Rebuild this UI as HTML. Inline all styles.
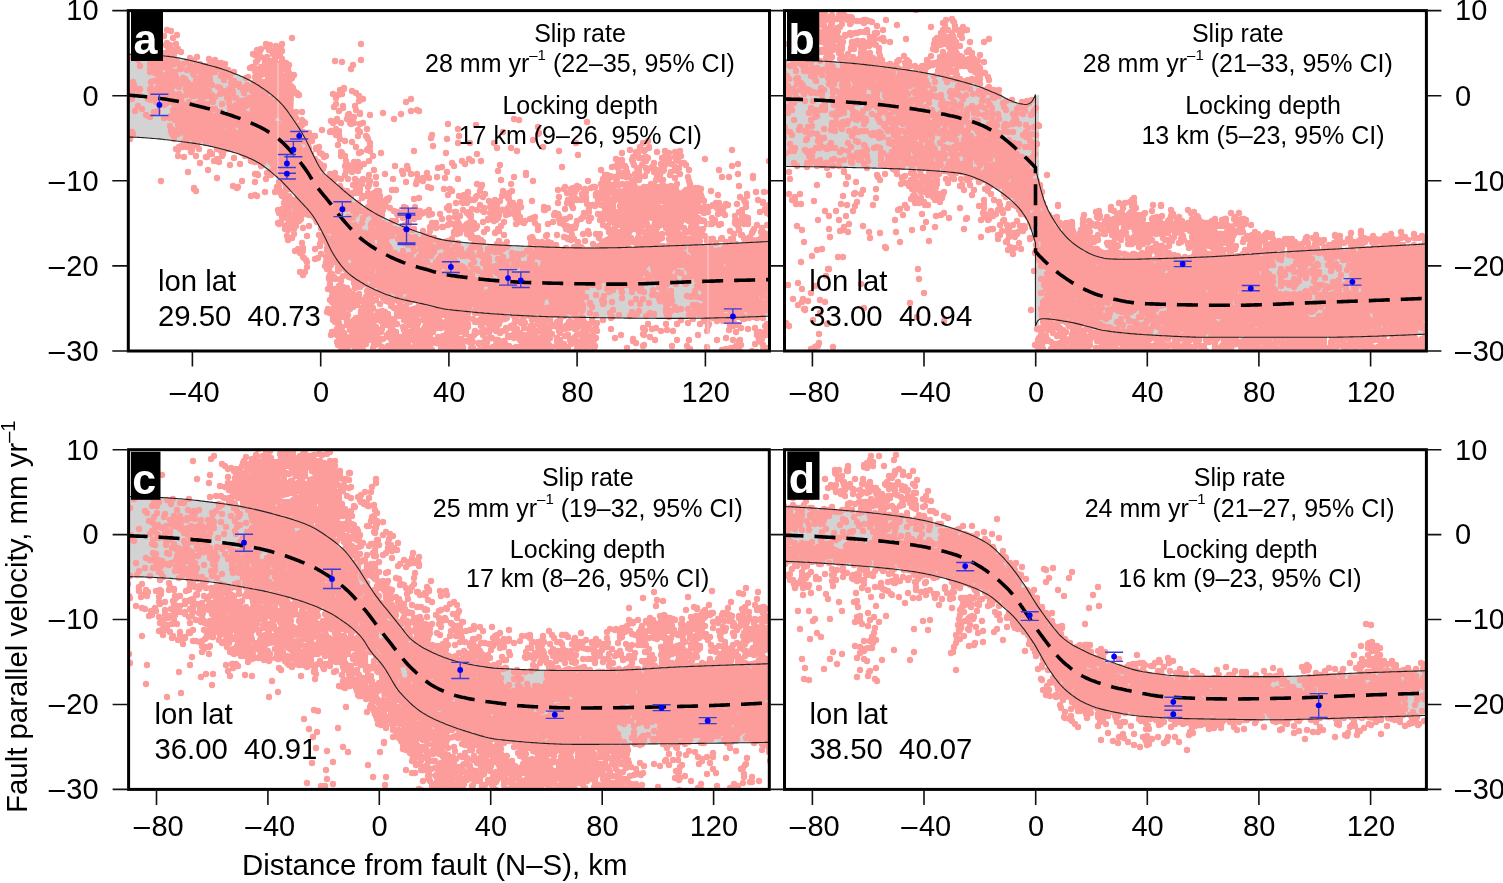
<!DOCTYPE html><html><head><meta charset="utf-8"><title>Fault parallel velocity profiles</title><style>html,body{margin:0;padding:0;background:#fff;overflow:hidden}svg{display:block}</style></head><body><svg width="1503" height="883" viewBox="0 0 1503 883"><defs><clipPath id="ka"><rect x="128.3" y="10.6" width="641.2" height="340.4"/></clipPath><clipPath id="kb"><rect x="784.5" y="10.6" width="641.9" height="340.4"/></clipPath><clipPath id="kc"><rect x="128.6" y="449.7" width="640.7" height="339.7"/></clipPath><clipPath id="kd"><rect x="784.5" y="449.7" width="641.9" height="339.7"/></clipPath></defs><rect width="1503" height="883" fill="#fff"/><g clip-path="url(#ka)"><path d="M126.3 54.3 128.3 54.3 130.3 54.3 132.3 54.4 134.3 54.4 136.3 54.5 138.4 54.5 140.4 54.6 142.4 54.7 144.4 54.8 146.4 54.9 148.4 55.0 150.4 55.1 152.4 55.2 154.4 55.3 156.4 55.4 158.5 55.6 160.5 55.7 162.5 55.8 164.5 56.0 166.5 56.2 168.5 56.4 170.5 56.7 172.5 56.9 174.5 57.2 176.5 57.6 178.6 57.9 180.6 58.3 182.6 58.7 184.6 59.1 186.6 59.6 188.6 60.0 190.6 60.5 192.6 61.0 194.6 61.5 196.6 62.0 198.7 62.5 200.7 63.0 202.7 63.6 204.7 64.1 206.7 64.6 208.7 65.2 210.7 65.7 212.7 66.3 214.7 66.8 216.7 67.4 218.8 68.0 220.8 68.6 222.8 69.3 224.8 69.9 226.8 70.6 228.8 71.4 230.8 72.1 232.8 72.9 234.8 73.7 236.8 74.5 238.9 75.3 240.9 76.2 242.9 77.1 244.9 78.0 246.9 79.0 248.9 80.0 250.9 81.0 252.9 82.2 254.9 83.3 256.9 84.6 259.0 85.8 261.0 87.2 263.0 88.5 265.0 89.9 267.0 91.3 269.0 92.8 271.0 94.4 273.0 96.0 275.0 97.7 277.0 99.5 279.1 101.4 281.1 103.5 283.1 105.7 285.1 108.1 287.1 110.7 289.1 113.5 291.1 116.4 293.1 119.3 295.1 122.2 297.1 125.2 299.2 128.4 301.2 131.6 303.2 135.0 305.2 138.6 307.2 142.5 309.2 146.6 311.2 150.8 313.2 154.9 315.2 158.9 317.2 163.0 319.3 166.8 321.3 169.9 323.3 172.4 325.3 174.4 327.3 176.2 329.3 177.9 331.3 179.5 333.3 181.3 335.3 183.1 337.3 184.9 339.4 186.7 341.4 188.5 343.4 190.3 345.4 192.0 347.4 193.7 349.4 195.3 351.4 196.9 353.4 198.5 355.4 200.0 357.4 201.6 359.5 203.1 361.5 204.5 363.5 206.0 365.5 207.4 367.5 208.7 369.5 210.0 371.5 211.2 373.5 212.4 375.5 213.6 377.5 214.7 379.6 215.7 381.6 216.7 383.6 217.7 385.6 218.7 387.6 219.7 389.6 220.6 391.6 221.5 393.6 222.4 395.6 223.3 397.6 224.2 399.7 225.0 401.7 225.9 403.7 226.7 405.7 227.5 407.7 228.3 409.7 229.0 411.7 229.8 413.7 230.5 415.7 231.2 417.7 231.9 419.8 232.6 421.8 233.3 423.8 234.1 425.8 234.8 427.8 235.5 429.8 236.2 431.8 236.8 433.8 237.4 435.8 238.1 437.8 238.6 439.9 239.1 441.9 239.6 443.9 240.0 445.9 240.4 447.9 240.7 449.9 240.9 451.9 241.2 453.9 241.4 455.9 241.6 457.9 241.9 460.0 242.1 462.0 242.3 464.0 242.5 466.0 242.7 468.0 242.9 470.0 243.0 472.0 243.2 474.0 243.4 476.0 243.5 478.0 243.7 480.1 243.8 482.1 244.0 484.1 244.1 486.1 244.3 488.1 244.4 490.1 244.5 492.1 244.6 494.1 244.8 496.1 244.9 498.1 245.0 500.2 245.1 502.2 245.2 504.2 245.3 506.2 245.4 508.2 245.5 510.2 245.6 512.2 245.7 514.2 245.8 516.2 245.8 518.2 245.9 520.3 246.0 522.3 246.1 524.3 246.2 526.3 246.3 528.3 246.3 530.3 246.4 532.3 246.5 534.3 246.6 536.3 246.7 538.3 246.7 540.4 246.8 542.4 246.9 544.4 247.0 546.4 247.1 548.4 247.1 550.4 247.2 552.4 247.3 554.4 247.3 556.4 247.4 558.4 247.5 560.5 247.5 562.5 247.6 564.5 247.6 566.5 247.7 568.5 247.7 570.5 247.8 572.5 247.8 574.5 247.9 576.5 247.9 578.5 247.9 580.6 247.9 582.6 248.0 584.6 248.0 586.6 248.0 588.6 248.0 590.6 248.0 592.6 248.0 594.6 248.0 596.6 248.0 598.6 248.0 600.7 247.9 602.7 247.9 604.7 247.9 606.7 247.9 608.7 247.8 610.7 247.8 612.7 247.8 614.7 247.7 616.7 247.7 618.7 247.6 620.8 247.6 622.8 247.5 624.8 247.5 626.8 247.4 628.8 247.3 630.8 247.3 632.8 247.2 634.8 247.2 636.8 247.1 638.8 247.0 640.9 246.9 642.9 246.9 644.9 246.8 646.9 246.7 648.9 246.7 650.9 246.6 652.9 246.5 654.9 246.4 656.9 246.4 658.9 246.3 661.0 246.2 663.0 246.1 665.0 246.0 667.0 246.0 669.0 245.9 671.0 245.8 673.0 245.7 675.0 245.7 677.0 245.6 679.0 245.5 681.1 245.5 683.1 245.4 685.1 245.3 687.1 245.2 689.1 245.2 691.1 245.1 693.1 245.0 695.1 244.9 697.1 244.9 699.1 244.8 701.2 244.7 703.2 244.6 705.2 244.5 707.2 244.5 709.2 244.4 711.2 244.3 713.2 244.2 715.2 244.1 717.2 244.0 719.2 243.9 721.3 243.8 723.3 243.8 725.3 243.7 727.3 243.6 729.3 243.5 731.3 243.4 733.3 243.3 735.3 243.2 737.3 243.1 739.3 243.0 741.4 242.9 743.4 242.8 745.4 242.7 747.4 242.6 749.4 242.5 751.4 242.4 753.4 242.3 755.4 242.2 757.4 242.1 759.4 242.0 761.5 241.9 763.5 241.8 765.5 241.7 767.5 241.5 769.5 241.4 771.5 241.3 771.5 316.0 769.5 316.1 767.5 316.2 765.5 316.3 763.5 316.4 761.5 316.4 759.4 316.5 757.4 316.6 755.4 316.7 753.4 316.7 751.4 316.8 749.4 316.9 747.4 317.0 745.4 317.0 743.4 317.1 741.4 317.2 739.3 317.2 737.3 317.3 735.3 317.4 733.3 317.4 731.3 317.5 729.3 317.6 727.3 317.6 725.3 317.7 723.3 317.7 721.3 317.8 719.2 317.8 717.2 317.9 715.2 317.9 713.2 318.0 711.2 318.0 709.2 318.1 707.2 318.1 705.2 318.1 703.2 318.2 701.2 318.2 699.1 318.2 697.1 318.3 695.1 318.3 693.1 318.3 691.1 318.3 689.1 318.3 687.1 318.4 685.1 318.4 683.1 318.4 681.1 318.4 679.0 318.4 677.0 318.4 675.0 318.4 673.0 318.4 671.0 318.4 669.0 318.4 667.0 318.4 665.0 318.4 663.0 318.4 661.0 318.4 658.9 318.4 656.9 318.4 654.9 318.3 652.9 318.3 650.9 318.3 648.9 318.3 646.9 318.3 644.9 318.3 642.9 318.3 640.9 318.2 638.8 318.2 636.8 318.2 634.8 318.2 632.8 318.2 630.8 318.1 628.8 318.1 626.8 318.1 624.8 318.1 622.8 318.0 620.8 318.0 618.7 318.0 616.7 318.0 614.7 317.9 612.7 317.9 610.7 317.9 608.7 317.8 606.7 317.8 604.7 317.8 602.7 317.8 600.7 317.7 598.6 317.7 596.6 317.7 594.6 317.6 592.6 317.6 590.6 317.6 588.6 317.5 586.6 317.5 584.6 317.4 582.6 317.4 580.6 317.4 578.5 317.3 576.5 317.3 574.5 317.3 572.5 317.2 570.5 317.2 568.5 317.1 566.5 317.1 564.5 317.1 562.5 317.0 560.5 317.0 558.4 316.9 556.4 316.9 554.4 316.8 552.4 316.8 550.4 316.7 548.4 316.7 546.4 316.6 544.4 316.5 542.4 316.5 540.4 316.4 538.3 316.3 536.3 316.2 534.3 316.2 532.3 316.1 530.3 316.0 528.3 315.9 526.3 315.8 524.3 315.7 522.3 315.6 520.3 315.5 518.2 315.4 516.2 315.3 514.2 315.2 512.2 315.1 510.2 314.9 508.2 314.8 506.2 314.7 504.2 314.6 502.2 314.4 500.2 314.3 498.1 314.1 496.1 314.0 494.1 313.9 492.1 313.7 490.1 313.6 488.1 313.4 486.1 313.2 484.1 313.1 482.1 312.9 480.1 312.7 478.0 312.6 476.0 312.4 474.0 312.2 472.0 312.0 470.0 311.8 468.0 311.6 466.0 311.4 464.0 311.2 462.0 311.0 460.0 310.8 457.9 310.6 455.9 310.4 453.9 310.2 451.9 309.9 449.9 309.7 447.9 309.5 445.9 309.2 443.9 308.9 441.9 308.5 439.9 308.0 437.8 307.6 435.8 307.1 433.8 306.5 431.8 306.0 429.8 305.5 427.8 305.0 425.8 304.5 423.8 304.1 421.8 303.6 419.8 303.2 417.7 302.8 415.7 302.3 413.7 301.9 411.7 301.5 409.7 301.1 407.7 300.6 405.7 300.1 403.7 299.7 401.7 299.2 399.7 298.7 397.6 298.1 395.6 297.6 393.6 297.0 391.6 296.3 389.6 295.6 387.6 294.9 385.6 294.2 383.6 293.4 381.6 292.6 379.6 291.7 377.5 290.8 375.5 289.9 373.5 288.9 371.5 288.0 369.5 287.0 367.5 285.9 365.5 284.9 363.5 283.7 361.5 282.6 359.5 281.3 357.4 280.0 355.4 278.7 353.4 277.2 351.4 275.7 349.4 274.1 347.4 272.3 345.4 270.3 343.4 268.1 341.4 265.8 339.4 263.2 337.3 260.4 335.3 257.3 333.3 254.0 331.3 250.5 329.3 246.5 327.3 242.3 325.3 238.1 323.3 234.2 321.3 230.3 319.3 226.5 317.2 222.8 315.2 219.3 313.2 216.2 311.2 213.5 309.2 211.0 307.2 208.7 305.2 206.5 303.2 204.4 301.2 202.3 299.2 200.1 297.1 197.9 295.1 195.7 293.1 193.5 291.1 191.3 289.1 189.1 287.1 186.9 285.1 184.8 283.1 182.7 281.1 180.7 279.1 178.8 277.0 177.0 275.0 175.3 273.0 173.6 271.0 171.9 269.0 170.3 267.0 168.7 265.0 167.2 263.0 165.7 261.0 164.3 259.0 163.1 256.9 161.9 254.9 160.8 252.9 159.8 250.9 158.8 248.9 157.9 246.9 157.0 244.9 156.2 242.9 155.4 240.9 154.7 238.9 154.0 236.8 153.3 234.8 152.7 232.8 152.1 230.8 151.5 228.8 150.9 226.8 150.4 224.8 149.8 222.8 149.3 220.8 148.8 218.8 148.3 216.7 147.8 214.7 147.3 212.7 146.8 210.7 146.4 208.7 145.9 206.7 145.5 204.7 145.1 202.7 144.7 200.7 144.4 198.7 144.0 196.6 143.7 194.6 143.4 192.6 143.1 190.6 142.8 188.6 142.6 186.6 142.3 184.6 142.0 182.6 141.8 180.6 141.5 178.6 141.2 176.5 141.0 174.5 140.7 172.5 140.5 170.5 140.3 168.5 140.0 166.5 139.8 164.5 139.6 162.5 139.3 160.5 139.1 158.5 138.9 156.4 138.7 154.4 138.5 152.4 138.4 150.4 138.2 148.4 138.0 146.4 137.9 144.4 137.7 142.4 137.6 140.4 137.5 138.4 137.4 136.3 137.3 134.3 137.2 132.3 137.1 130.3 137.1 128.3 137.0 126.3 137.0Z" fill="#d3d3d3"/><path d="M400 348 399 349 400 350 401 349ZM423 349 421 347 420 342 412 346 410 349 411 350 422 350ZM523 342 524 350 540 350 541 349 539 347 531 347 525 341ZM503 341 498 345 495 349 496 350 505 349ZM544 336 543 337 544 338 545 337ZM454 339 450 336 445 341 446 342 451 341ZM393 337 399 342 403 339 398 335ZM395 320 392 319 390 321 392 322ZM370 298 367 300 367 310 363 315 362 319 352 323 350 333 345 337 346 341 351 346 352 350 355 350 356 344 365 338 372 338 375 341 377 340 374 332 373 314 375 310 373 308 373 302ZM609 208 606 212 610 217 615 217 616 216 615 209ZM172 76 168 81 159 81 157 79 156 80 156 84 154 88 155 97 163 99 169 98 168 88 173 80ZM176 103 176 110 181 122 180 130 181 135 190 139 192 137 193 127 202 126 204 128 204 138 205 139 216 141 221 145 231 145 239 148 244 148 265 161 274 170 278 171 287 180 289 185 292 188 296 189 299 192 301 197 306 203 311 204 316 208 318 215 325 223 331 234 330 245 336 251 335 258 336 260 340 262 343 260 351 260 352 267 356 276 358 278 366 278 374 288 384 288 394 295 405 294 412 296 416 300 416 305 409 307 405 313 399 318 400 319 408 318 415 313 424 313 428 317 428 326 423 332 421 336 422 338 429 335 431 326 437 322 437 320 432 316 431 313 432 305 434 303 443 303 447 308 447 314 453 317 455 300 464 300 466 306 471 306 476 309 489 313 491 315 491 325 492 326 495 323 497 318 501 315 514 312 532 312 542 317 542 324 538 330 539 333 542 335 545 322 545 316 547 313 544 309 545 300 548 299 557 300 561 310 565 314 571 315 574 320 577 322 579 311 573 308 573 302 578 299 579 289 583 282 600 281 606 284 612 284 613 283 627 283 640 280 643 278 645 271 649 266 655 266 657 268 657 278 659 280 663 278 671 278 673 271 678 268 686 268 687 275 689 278 696 280 702 280 704 282 704 290 709 298 709 304 703 312 705 315 709 315 717 312 727 312 731 314 748 312 762 312 765 314 768 313 767 309 760 309 758 307 759 297 763 294 768 293 768 242 767 241 764 243 757 243 751 246 746 246 742 248 730 248 727 246 714 248 700 247 698 245 698 238 696 235 685 236 680 230 680 222 682 220 692 220 693 221 695 219 694 217 690 216 690 211 697 209 697 197 695 195 686 196 680 190 667 190 653 188 647 189 609 188 607 190 608 193 612 197 615 198 618 203 634 203 635 204 635 216 633 218 621 220 626 225 626 231 617 237 609 237 608 238 608 248 606 250 580 250 579 249 572 255 564 255 553 251 542 251 540 265 536 269 538 271 538 279 536 281 530 281 526 279 516 280 506 275 503 278 499 279 486 279 475 277 470 274 464 274 460 272 446 273 439 268 424 266 419 263 410 263 404 257 398 257 390 254 381 245 374 244 364 236 353 233 345 225 340 222 339 214 332 206 332 195 337 193 333 190 326 180 316 179 313 163 305 152 296 133 295 124 293 121 294 95 291 90 290 83 283 72 275 68 268 69 271 73 271 82 282 91 282 99 272 100 266 96 261 95 259 93 259 89 255 87 253 93 249 96 254 101 254 114 253 117 250 119 241 119 237 115 223 115 214 113 204 107 190 107 183 103 178 102ZM484 287 491 286 492 293 485 294ZM759 275 765 274 766 279 760 280ZM575 266 580 265 581 271 576 272ZM376 265 383 265 387 270 386 279 379 279 375 274ZM724 260 726 258 737 258 738 267 736 269 727 269 724 266ZM625 256 634 255 635 263 626 264ZM686 245 695 246 694 256 684 255 684 247ZM633 232 642 233 643 244 640 247 632 247 630 245 630 237ZM661 228 670 227 672 229 673 243 671 245 663 245 660 242 659 231ZM645 220 652 221 651 230 644 229ZM655 205 665 204 666 212 657 213 655 211ZM225 129 228 127 238 128 239 136 237 138 228 138 225 136ZM277 118 287 117 289 119 289 129 287 131 279 131 275 127 275 120ZM258 67 257 68 259 69 260 68ZM155 59 157 64 165 64 171 70 172 69 170 63 167 60 164 60 161 58Z" fill="#fc9c9b" fill-rule="evenodd"/><path d="M160 34h0m4 2h0m3-6h0m4 1h0m6 4h0m184 9h0m-69-6h0m-10 6h0m-1 3h0m-5-1h0m-6-1h0m-3 2h0m-1-3h0m-90 0h0m-3-6h0m-3 7h0m-1 2h0m-1 0h0m-1-4h0m-1 2h0m-35 12h0m7 3h0m12-1h0m2-2h0m3-1h0m0 1h0m3 0h0m0-6h0m1-1h0m1 8h0m1-5h0m1 5h0m1 0h0m0-5h0m0 6h0m0 0h0m1-4h0m2-1h0m1 2h0m1 2h0m0-4h0m0-2h0m1 2h0m1 5h0m3-9h0m0 8h0m1-3h0m0 3h0m2-7h0m2-2h0m3 3h0m9 6h0m3 2h0m1 0h0m3-3h0m12 2h0m44-5h0m2 1h0m2-5h0m1 4h0m0 5h0m1-3h0m1-5h0m1 6h0m0-8h0m6 8h0m2-7h0m4 1h0m0 3h0m1 0h0m1-4h0m0 8h0m0-5h0m4-1h0m0 4h0m1-7h0m0 6h0m0-4h0m2 0h0m0 8h0m79 1h0m-8 5h0m-2 4h0m-9-7h0m-7-1h0m-46 4h0m-1 4h0m-1 1h0m-1-1h0m0-6h0m0 7h0m-2-3h0m-2-6h0m0 2h0m-2 7h0m0-5h0m0 6h0m-1-7h0m-1 2h0m0 1h0m-3-6h0m-2 5h0m0 1h0m-1 1h0m-1-7h0m-1 5h0m-1 4h0m-1-3h0m-1 3h0m0-6h0m-2-2h0m0 7h0m0 0h0m0 1h0m-2-2h0m-1 2h0m0-1h0m-1-1h0m0-1h0m0 5h0m-3-3h0m0 0h0m-1 2h0m0 0h0m0-10h0m-1 10h0m0 1h0m0-3h0m0-7h0m-1 9h0m-1-4h0m-2 0h0m-2 1h0m-21 4h0m-1-2h0m-1 1h0m-2-1h0m0-6h0m-1 5h0m-1 0h0m-1-5h0m-1-1h0m-3 3h0m0 2h0m-1 1h0m0-6h0m-1 0h0m-1-3h0m-1 6h0m-2 5h0m0-2h0m-2-5h0m-3 2h0m0 1h0m0 3h0m-2-1h0m-1-3h0m0 6h0m-1-3h0m-3-5h0m-3 7h0m0 0h0m0-4h0m0-2h0m-1 2h0m-4 2h0m-2-4h0m-3-3h0m0 8h0m-4-6h0m-2 5h0m0 0h0m-1-2h0m0 2h0m-3-7h0m-2 10h0m-1-8h0m-2 0h0m0 0h0m-2 1h0m0 3h0m-2 1h0m-1-9h0m-1 0h0m-1 7h0m-2-1h0m-3 6h0m0-6h0m0 2h0m-1 2h0m-1-5h0m-1 6h0m0-5h0m0 3h0m-2-4h0m0-2h0m0-1h0m-1 4h0m0 4h0m-3-6h0m-1 0h0m0 5h0m-10-3h0m-7 16h0m17-10h0m1 10h0m3-1h0m1-8h0m0 0h0m2-1h0m1 7h0m1-2h0m0 1h0m1 1h0m2 2h0m0-4h0m1 3h0m1-3h0m1-1h0m1 0h0m0-1h0m2 5h0m0-3h0m0-4h0m0 8h0m1 0h0m2-6h0m1 1h0m0 0h0m1 7h0m1-11h0m0 9h0m1 2h0m0-10h0m0 3h0m1 1h0m0 3h0m1 0h0m6-1h0m0-1h0m0 5h0m2-4h0m0 5h0m1-3h0m2 2h0m5-10h0m1 2h0m2 6h0m2 1h0m1 1h0m1-5h0m1-6h0m0 10h0m1-4h0m1 5h0m0-1h0m0-9h0m1 5h0m0 2h0m2-2h0m1-3h0m0 6h0m0 0h0m1-7h0m1 10h0m1-4h0m0-6h0m0 1h0m5-3h0m6 4h0m1-2h0m1 0h0m1 6h0m2-5h0m3-3h0m1 5h0m1 6h0m1 1h0m2-3h0m0-9h0m5 12h0m7-6h0m2-1h0m6 6h0m1-1h0m0-5h0m2 6h0m2-5h0m0-6h0m1 0h0m1 3h0m2 9h0m0-11h0m0 1h0m1 8h0m2-8h0m0 9h0m0-1h0m2-4h0m0 4h0m3 2h0m0-11h0m0 0h0m0 1h0m0 10h0m1-1h0m15-4h0m0-5h0m2-1h0m0 8h0m1-3h0m0-2h0m1 3h0m1-1h0m2-3h0m65 21h0m-3-3h0m-4-2h0m-8-2h0m0-1h0m-2 6h0m-2 0h0m0-4h0m-2 5h0m-5-1h0m-34 1h0m-1 0h0m-1-2h0m-3-2h0m-1-3h0m0 5h0m0-5h0m0 1h0m-2-3h0m-9 7h0m-2 0h0m-1-1h0m-1-1h0m0-1h0m-1-2h0m0-1h0m-1 8h0m-1-5h0m-2 2h0m0-8h0m-2 1h0m-2 4h0m-2-5h0m-1 10h0m-1-8h0m-1 3h0m-1 4h0m-1 1h0m-1-5h0m0 4h0m-1-9h0m-2 4h0m-2-4h0m0 2h0m-1 1h0m0 0h0m-3 1h0m0-1h0m0 4h0m-1-4h0m-4-2h0m-1 4h0m-2 4h0m-1-3h0m0-2h0m-3-1h0m-3-2h0m-3 0h0m-1 8h0m0-1h0m-1-4h0m0 7h0m0-4h0m0 3h0m-1 1h0m-2-6h0m0 6h0m-5-2h0m-1-2h0m-3-3h0m0 6h0m-2-7h0m-6 8h0m0-10h0m-3 6h0m-2 5h0m-2-10h0m0-2h0m-1 9h0m0 2h0m-1-3h0m-2-4h0m-1 4h0m-2 3h0m0-9h0m-1 4h0m-1 0h0m0 1h0m-1-5h0m0 6h0m0 0h0m-1 1h0m-1-8h0m-1 11h0m-1-10h0m-1 6h0m-3-7h0m0 0h0m-1 10h0m0-6h0m0-4h0m-7 2h0m0 7h0m-2-9h0m-2-1h0m0 1h0m-2 9h0m0-9h0m0 1h0m-1 9h0m-1-5h0m0-5h0m-1 7h0m0-2h0m-1-1h0m0 4h0m-1-3h0m-15 4h0m-2-6h0m0 4h0m-1-3h0m-10 0h0m-1 6h0m-2-6h0m-3-4h0m-1 5h0m-1 4h0m-1-6h0m-2 1h0m-1 4h0m4 6h0m6 7h0m10-7h0m3 1h0m0-3h0m1 2h0m4 3h0m1-3h0m7 6h0m1-4h0m0 1h0m1 2h0m0-4h0m2 2h0m3-6h0m0 5h0m0-3h0m0 4h0m0-2h0m1-3h0m1 2h0m2 7h0m0-7h0m0 3h0m2-3h0m2-1h0m2 1h0m0 0h0m0-2h0m1 6h0m5 2h0m2-3h0m2 4h0m0 2h0m0-4h0m1 2h0m0-2h0m1 2h0m1-10h0m1 9h0m3 0h0m0-2h0m0 3h0m0-3h0m1 5h0m0-2h0m1 1h0m1-9h0m0 8h0m2 2h0m0-10h0m1 6h0m2-8h0m1 8h0m5-4h0m1 2h0m2-5h0m7 7h0m5-6h0m2 2h0m0-1h0m0 1h0m0 3h0m1-5h0m0 8h0m6-8h0m0 7h0m0 1h0m2 2h0m2-5h0m0 1h0m0-3h0m1 7h0m1-4h0m1 1h0m2-5h0m1 6h0m2-6h0m1 4h0m0-6h0m0 2h0m1 0h0m1 1h0m1 4h0m2 2h0m0-1h0m0 0h0m1-2h0m9-7h0m6 2h0m7 0h0m4 1h0m0-2h0m0-2h0m53 11h0m2-9h0m0 6h0m7 4h0m0-2h0m12 0h0m4-5h0m1-1h0m3-1h0m43 3h0m5-3h0m108 21h0m-5-1h0m-95-8h0m-2-1h0m-6 1h0m-10 3h0m-7 5h0m-11-6h0m-13 2h0m-10-2h0m0 1h0m-4-4h0m-2 7h0m-2 0h0m0 2h0m-3-5h0m-1 1h0m-1 4h0m-8-8h0m-2 8h0m-35 1h0m0-8h0m-6 0h0m0 6h0m-1-5h0m-1 5h0m0 0h0m-6 1h0m-1 0h0m-2 0h0m-3-1h0m-29-9h0m0 1h0m0 2h0m0 6h0m-2-1h0m-2 1h0m-1 0h0m-1 1h0m0-1h0m0-4h0m-1 6h0m-1-3h0m0 2h0m-2-10h0m0 6h0m-1-4h0m-1 5h0m-1-4h0m-3 2h0m-1-6h0m-1 8h0m-1-3h0m-4-4h0m0 6h0m0 0h0m-1 0h0m0-1h0m-1 1h0m-3 0h0m-4-3h0m-2 0h0m-1 2h0m0-1h0m-3-4h0m-4 0h0m-1 1h0m-32 6h0m0-3h0m-1 3h0m-1 1h0m-1-1h0m-1 0h0m-1-6h0m-2 6h0m-1 2h0m-6 0h0m-6-7h0m-4 1h0m-4 5h0m-4-2h0m-4-6h0m-7 2h0m35 15h0m1 5h0m2-1h0m2 1h0m0-11h0m2 1h0m1 1h0m0 3h0m0 6h0m1-5h0m0 3h0m1-5h0m0 0h0m1 1h0m0 4h0m0-3h0m11 4h0m2-2h0m5 1h0m2 0h0m1 0h0m2-1h0m25 3h0m0-1h0m3-2h0m0 0h0m1 2h0m44-6h0m0 0h0m1 0h0m0 1h0m1 5h0m0-2h0m3 0h0m1-1h0m1-6h0m1 3h0m0-2h0m1 1h0m1 7h0m0-3h0m0-3h0m2 5h0m6-5h0m2 6h0m1-2h0m0 0h0m2 1h0m1-5h0m1 1h0m0-4h0m1 11h0m1-10h0m1 1h0m17 7h0m9 1h0m0-10h0m2 2h0m3-2h0m0 8h0m3 2h0m2-8h0m9 0h0m1 1h0m3-1h0m4 7h0m2-6h0m0 8h0m3-9h0m4 6h0m81-5h0m10 5h0m18-4h0m62 2h0m49-5h0m61 19h0m-5 2h0m-67 0h0m-37-10h0m-1 1h0m-5 6h0m-30-8h0m-9 11h0m-24 0h0m-11-7h0m-1 7h0m-11-4h0m-15-4h0m-1 3h0m-61 5h0m-2-4h0m-1-2h0m-1-1h0m-8 0h0m-6 6h0m-7-1h0m-5-2h0m-1-4h0m-1 0h0m-2 0h0m-3-3h0m-3 0h0m-15 4h0m-3 0h0m0 5h0m-3-8h0m-1 11h0m0-2h0m0-9h0m-1 7h0m0 2h0m-1-7h0m-1 6h0m-1-7h0m-1 1h0m0 5h0m0 1h0m0-9h0m-4 5h0m-60-2h0m-2-2h0m-3 3h0m-3 1h0m-1-3h0m-1 1h0m-4-2h0m-6 10h0m-5 0h0m-1-3h0m-1 0h0m-2 1h0m-3-1h0m-1 3h0m-1-3h0m-4-6h0m-1 3h0m0-3h0m-1 6h0m-3-6h0m-1 8h0m0-7h0m0 0h0m-2 3h0m0 0h0m-6 3h0m-1-3h0m-2 4h0m-6-8h0m-4 5h0m-2-5h0m-39 0h0m-1-2h0m-2 7h0m46 10h0m2 1h0m0 6h0m1-9h0m2-1h0m2 1h0m4 0h0m3-1h0m1 6h0m1-2h0m3-5h0m2 0h0m2 4h0m11 3h0m2 2h0m1-10h0m4 5h0m0-1h0m2-1h0m1-2h0m1 6h0m0-6h0m2 9h0m1-9h0m1 0h0m2 2h0m0 2h0m1-3h0m0 1h0m2 0h0m1 2h0m2-2h0m4 2h0m1 1h0m1 0h0m3 3h0m0-1h0m1-2h0m1 1h0m1 5h0m1-5h0m0 0h0m2 3h0m1-2h0m1 1h0m2-1h0m0 4h0m2-1h0m3 0h0m49-5h0m0 1h0m2 4h0m0 0h0m1-7h0m2 6h0m5-5h0m0-1h0m3-1h0m1 6h0m2 1h0m4 2h0m12-11h0m3 11h0m0-4h0m1 1h0m14-6h0m3 6h0m2-1h0m6-2h0m1-1h0m2 2h0m0-5h0m3 10h0m8-3h0m33-2h0m19-5h0m13 7h0m31 1h0m20-6h0m14 0h0m6 3h0m26-4h0m16 4h0m19 4h0m44-2h0m8-3h0m6 2h0m0 4h0m2-3h0m2-6h0m4 4h0m1-1h0m4-3h0m0 1h0m8 4h0m8 4h0m0-5h0m4 2h0m6-1h0m3 3h0m2-4h0m52-1h0m37 11h0m-31 3h0m-6 2h0m-27-7h0m-19 6h0m-2-2h0m-2 0h0m-1-7h0m-2 12h0m0 0h0m-1-7h0m0-3h0m-2 1h0m0-1h0m-1-1h0m0 0h0m0 10h0m-3-3h0m-1 0h0m-2-6h0m0 3h0m0-2h0m-1-1h0m-3 3h0m0-1h0m0-2h0m0 7h0m-1-6h0m0 4h0m-2-5h0m-1 6h0m-7-1h0m-2 4h0m-4-9h0m-2 2h0m0-3h0m0 4h0m0 7h0m-3-9h0m0-1h0m-1 7h0m0 0h0m-1-7h0m-2 0h0m-1-2h0m-1 12h0m-3-3h0m-1-3h0m0-5h0m-1 3h0m-6 8h0m-1-2h0m-3-6h0m0 0h0m0 1h0m-1 5h0m0-3h0m-1 3h0m-2-6h0m0 8h0m0-5h0m0 2h0m-2-6h0m0 7h0m-4 1h0m-50 0h0m-62-2h0m-19-4h0m-9 0h0m-3-2h0m-4 5h0m-3-3h0m-8 5h0m-2-3h0m-10 4h0m-4 1h0m-31-2h0m-12 0h0m-26-5h0m-5 3h0m-4 3h0m-2-5h0m-1 2h0m-2 0h0m-1-2h0m-4 4h0m-2 0h0m0-1h0m-2-4h0m-1-5h0m0 10h0m-21-9h0m0 9h0m-4-2h0m-2-2h0m-3 5h0m0-6h0m0 7h0m0-9h0m0 6h0m-1-2h0m-1-2h0m-2 1h0m-2-4h0m-46 5h0m-1 1h0m-1 2h0m-1-7h0m-1 1h0m0-3h0m0 5h0m0-1h0m-1-1h0m-1-1h0m-2 2h0m0 1h0m0-3h0m-4 2h0m-1-4h0m-10 7h0m-6-6h0m-4 7h0m-8-9h0m-3 6h0m-2-3h0m-3 2h0m-7-4h0m0 0h0m-1 0h0m-6 6h0m-4-7h0m-12 1h0m4 15h0m20-2h0m9 8h0m38-4h0m2 0h0m1 1h0m8 4h0m1-6h0m4 2h0m1-4h0m1-1h0m5 1h0m0 2h0m1 3h0m0-3h0m1 3h0m1 3h0m0-2h0m1-2h0m1 2h0m2 1h0m31-2h0m0-4h0m1 8h0m0-5h0m1-6h0m0 10h0m0-2h0m1 3h0m0-2h0m1-2h0m1 4h0m1-4h0m0 3h0m1 0h0m0-10h0m0 8h0m2 2h0m4 1h0m0 0h0m1-6h0m0 0h0m1 4h0m1 1h0m2 1h0m0-1h0m1-6h0m2 5h0m4 1h0m4-4h0m1-4h0m2 8h0m4-11h0m0 4h0m0-1h0m3 8h0m1-9h0m2 1h0m5 8h0m6-4h0m5-5h0m2 7h0m9-3h0m8 5h0m9-8h0m1 3h0m5-5h0m3 5h0m6 0h0m1 4h0m5 0h0m4-5h0m2 5h0m8-1h0m8 1h0m2-6h0m11 7h0m40-8h0m16 6h0m12-4h0m0 2h0m75-5h0m2 9h0m2-4h0m2 0h0m0 1h0m3 0h0m1 1h0m2 0h0m2 0h0m2 2h0m2-6h0m3 3h0m0-3h0m4 2h0m0 2h0m1-5h0m0 5h0m0-1h0m0-3h0m2 3h0m6-2h0m0 0h0m0 5h0m4-8h0m0-1h0m0 2h0m0 8h0m1-3h0m5-1h0m2-5h0m5-3h0m2 4h0m1-3h0m1 11h0m0 0h0m1-5h0m2-2h0m1-3h0m0 5h0m3-4h0m0 9h0m1-10h0m6 5h0m1-3h0m4 6h0m2-7h0m0-1h0m3 4h0m8 3h0m1-7h0m30 0h0m3 7h0m7 0h0m9-3h0m15 2h0m0 2h0m17 14h0m-6 0h0m-25-6h0m-28 5h0m-10-2h0m-2 2h0m-1-3h0m-2 3h0m-1-3h0m-5-1h0m0-3h0m-1-3h0m0 10h0m-1 0h0m-2-1h0m-9-6h0m-1 5h0m-3-1h0m0 1h0m-2 0h0m0-3h0m-3 3h0m-1 0h0m-1-2h0m-2-1h0m0 2h0m-2-7h0m-1 8h0m-2-2h0m-1 2h0m-1-1h0m-1-1h0m0 1h0m0 0h0m-1-2h0m-3 2h0m-1-4h0m-1 3h0m-2 0h0m-4 0h0m-4 2h0m-1 0h0m-4-2h0m-1-3h0m0 3h0m-1-6h0m-1 3h0m0-4h0m-2 4h0m-2 4h0m-1-4h0m-1 2h0m0 1h0m-4-3h0m-3 1h0m-3-2h0m-1 2h0m-2 2h0m0-2h0m0 2h0m-2 2h0m-3-7h0m-1 5h0m0-6h0m-1 3h0m0 4h0m-1 4h0m-2-3h0m-1-6h0m0 5h0m-1-4h0m-6 3h0m-2 0h0m-2 1h0m-3-7h0m-2 9h0m0 2h0m-1-3h0m-1 1h0m-5-3h0m-2 2h0m0-3h0m-4 2h0m-1 3h0m-1-2h0m-6-2h0m-1 2h0m-6 1h0m-25-9h0m-21 10h0m-1-7h0m-8 7h0m-2-11h0m-19 5h0m-1 2h0m-1 4h0m-3-7h0m-9 8h0m-16-1h0m-2-2h0m-6 0h0m-13-1h0m-3-1h0m-5-6h0m-6 0h0m-1 3h0m-10-2h0m-10 8h0m-4 0h0m-13 1h0m0 1h0m-2-1h0m-1-7h0m-6-3h0m-1 4h0m-1 2h0m0-7h0m-6 4h0m0-2h0m0-1h0m-2 8h0m-1-6h0m-2-2h0m-1 7h0m-3-3h0m-6 6h0m-5-1h0m-2-4h0m-3 4h0m-1 1h0m0-4h0m-2 3h0m0-1h0m-1-6h0m0-1h0m-2 3h0m-35 6h0m-1-2h0m0 0h0m-1 0h0m-5-1h0m0 0h0m-1 1h0m0-4h0m0-1h0m-1 3h0m-1 3h0m0-10h0m0 6h0m0-1h0m-1-2h0m-3 9h0m-2-1h0m-1-9h0m0 5h0m0 1h0m-1 1h0m-1-2h0m-2 5h0m-10 0h0m-10-10h0m-13-1h0m-4 6h0m-1 1h0m-4-2h0m-37 5h0m-2-3h0m0 1h0m-33-8h0m90 15h0m4-1h0m2 1h0m24-2h0m1 2h0m2 0h0m0 7h0m0-8h0m0 8h0m1-2h0m1-4h0m2 5h0m1-2h0m0-4h0m1 8h0m1-5h0m0 0h0m0 0h0m1 2h0m1-1h0m2 4h0m2-3h0m1-7h0m0 8h0m0-3h0m2 3h0m1 1h0m0-3h0m4 4h0m1 0h0m1 0h0m25-2h0m1-4h0m1 1h0m1-1h0m1-1h0m1 5h0m1 0h0m1 1h0m0-6h0m1 3h0m0-8h0m2 5h0m0 2h0m0-4h0m1 1h0m0-3h0m1 4h0m1-3h0m1 5h0m0-6h0m0 4h0m1 6h0m0-7h0m1 3h0m0-6h0m0 0h0m1 7h0m0-4h0m2 0h0m2-3h0m3 0h0m2 10h0m2-10h0m2 5h0m3-2h0m2 0h0m1-3h0m2 9h0m1-4h0m3 5h0m0-10h0m0 7h0m0-1h0m0 1h0m1-2h0m0-5h0m1 6h0m0 0h0m0-7h0m0 5h0m2 3h0m0-4h0m1 8h0m0-11h0m0 4h0m0 5h0m1-6h0m0 2h0m1 6h0m4-3h0m0 0h0m2-2h0m0 0h0m1 1h0m1-2h0m25 1h0m5-1h0m29-3h0m8 8h0m3-7h0m3 6h0m1-3h0m0 4h0m1-8h0m0 0h0m1 5h0m2 3h0m1-10h0m1 6h0m2 1h0m3 0h0m0 0h0m1-1h0m0 0h0m1-2h0m1-1h0m6 1h0m2-3h0m4 7h0m5 1h0m1-2h0m5 1h0m2-5h0m0 0h0m1-4h0m3 3h0m2 3h0m1 1h0m0-6h0m0 1h0m4 9h0m7-1h0m12-1h0m26 2h0m1-6h0m8-4h0m0 10h0m1-3h0m2-7h0m1 6h0m1 3h0m1-7h0m0 1h0m2 2h0m0-6h0m2 8h0m4 0h0m1-2h0m0-4h0m4 6h0m0-3h0m10-3h0m0 2h0m1-3h0m1 8h0m1-2h0m0-6h0m3 5h0m3 5h0m0-10h0m0 0h0m1 8h0m0-6h0m1-1h0m0 9h0m1 0h0m0 0h0m1-4h0m0 0h0m3 1h0m1 3h0m1-2h0m1-2h0m13 4h0m56-11h0m1 4h0m2-4h0m3 2h0m1 2h0m1 0h0m0 0h0m1-3h0m0 0h0m1 0h0m3 4h0m0-2h0m0 1h0m0-3h0m0 5h0m1 2h0m0 3h0m2-6h0m0 2h0m1-4h0m1 3h0m0 1h0m2 2h0m12 2h0m2-8h0m1 8h0m18 1h0m3-7h0m0 0h0m4 3h0m1 2h0m1 1h0m1-9h0m0 2h0m9-4h0m2 8h0m5 2h0m0 1h0m7 12h0m-1-10h0m-2 8h0m-2-3h0m0-1h0m-5 3h0m-14-5h0m-4 8h0m0-5h0m0 3h0m-2-1h0m-1 0h0m-11-7h0m-2-1h0m-1 11h0m0-9h0m-2 5h0m-2 1h0m0-1h0m-1 2h0m-1-7h0m-1 8h0m-1-6h0m-3-2h0m-1-1h0m-4 2h0m-1 5h0m0-5h0m-4 6h0m0-6h0m-2 3h0m-2 1h0m-1-3h0m-2 3h0m-2 2h0m-1-1h0m0 0h0m-1 0h0m0-2h0m-1 0h0m0 2h0m-1 0h0m0 3h0m-24-6h0m-1 2h0m0-5h0m0 5h0m-1-2h0m-1-1h0m0 5h0m0-5h0m-2 4h0m0 2h0m0-6h0m-1 1h0m-2 3h0m-1-5h0m0 5h0m-1-1h0m-1-3h0m-21-2h0m0 2h0m-1 4h0m0-6h0m0 1h0m0 0h0m0 0h0m-1-3h0m0 2h0m0 6h0m0-6h0m-1 3h0m0-3h0m-2-2h0m0 3h0m0 6h0m-1-9h0m-1 0h0m0 9h0m0-8h0m-1 10h0m0-10h0m0 2h0m-1-1h0m0-1h0m0 5h0m-1-5h0m0 6h0m0-4h0m-1-2h0m-1 10h0m0-6h0m-1-1h0m-1 1h0m0 1h0m-1 1h0m0-5h0m-1 8h0m-1-2h0m-5-3h0m0-2h0m-2 1h0m0 1h0m-1-1h0m-1-2h0m-1 7h0m0-5h0m0 3h0m-1 0h0m0 0h0m0-4h0m-1 4h0m0-3h0m0 6h0m0 0h0m-1-5h0m0 1h0m-3 4h0m-1-9h0m-3 9h0m-3-8h0m-2-1h0m-4 0h0m0 7h0m0-4h0m-2-4h0m0 9h0m-3 0h0m-11-5h0m-1-2h0m-7 3h0m-6 7h0m-1-2h0m0 2h0m-3-3h0m-1 2h0m-6-7h0m-3 2h0m-1-3h0m0 3h0m-23-3h0m-2 1h0m-1 5h0m0-4h0m-1-2h0m0-1h0m-2 9h0m-1-8h0m0 5h0m-4-8h0m-1 10h0m0-2h0m-1-4h0m-2 5h0m0 2h0m-2-5h0m-1 0h0m-1 0h0m-2 1h0m-1 4h0m-1-3h0m0-2h0m-1-4h0m0 1h0m-1 8h0m-1-3h0m-1-3h0m0-3h0m0 9h0m-2-4h0m0-1h0m-1 5h0m-1-2h0m0-6h0m-6 5h0m0-4h0m-1 3h0m-3-6h0m-3 5h0m-5-1h0m-1 6h0m-2 0h0m0-2h0m0-1h0m-2 1h0m-4-3h0m-7 2h0m-1 0h0m-6-2h0m0-4h0m-2 2h0m-7 6h0m-8 0h0m-3-2h0m0 3h0m0-4h0m0-1h0m-3 2h0m-3 1h0m-2 1h0m-1-3h0m-1 1h0m-4-5h0m0 3h0m-3 1h0m-2 2h0m-2 2h0m0-1h0m-2-6h0m-2 7h0m0-8h0m0 2h0m-3 4h0m-3 2h0m0-3h0m-1 2h0m-3-3h0m-4-3h0m-4-2h0m-3 0h0m0 4h0m-1 4h0m0 1h0m-2-5h0m-1 4h0m-2 0h0m-1-6h0m-1 6h0m-3-6h0m-2 4h0m0 1h0m-1-6h0m-1 0h0m0 4h0m-2 3h0m-1-4h0m-4 1h0m-1-1h0m-1-2h0m-2-1h0m-1 7h0m-3-4h0m0 1h0m-1-6h0m-2 1h0m-1 1h0m-1-2h0m-1 3h0m0 1h0m0-5h0m0 2h0m-1 3h0m-1-1h0m-2 0h0m0 1h0m-3 4h0m-1-3h0m-1-3h0m0 0h0m0-2h0m-1-1h0m0 3h0m0 1h0m-1-3h0m0 1h0m0 0h0m0 4h0m-20-1h0m0 1h0m-1 3h0m0-4h0m-3 5h0m0-2h0m-1-6h0m0-1h0m0 2h0m-2 8h0m0-8h0m-1 2h0m0 2h0m-2 3h0m-1-9h0m-2 8h0m-1-4h0m-1 4h0m-1-8h0m0 5h0m-1-2h0m-2 5h0m-1-1h0m0 3h0m0-10h0m0 9h0m-1-5h0m-4 7h0m-1-2h0m0 1h0m-1 0h0m0-8h0m0 5h0m-2-2h0m-1-5h0m0 10h0m-1 1h0m0-5h0m-3-2h0m-3 4h0m-1-3h0m0 13h0m1 1h0m2-2h0m1-5h0m1 1h0m2 8h0m1-9h0m0 11h0m1-3h0m1-6h0m1-2h0m0-1h0m0 5h0m0-3h0m1 5h0m1 2h0m0-2h0m1-2h0m1-2h0m1 3h0m1-1h0m1 5h0m0-9h0m3 4h0m2-2h0m0-1h0m2 10h0m6-2h0m5-9h0m2 2h0m0 1h0m1 0h0m0 2h0m1-6h0m0 1h0m2 3h0m1 5h0m0-2h0m0-4h0m0 5h0m0 4h0m1-4h0m2-2h0m1 0h0m1 6h0m1 0h0m14-5h0m3 3h0m1-2h0m0-2h0m1-2h0m0 4h0m0-2h0m1 3h0m0-5h0m0 5h0m1-4h0m0-2h0m0-2h0m1 7h0m0 3h0m2 0h0m0-2h0m2-7h0m2 7h0m4 2h0m3-4h0m1-5h0m8 7h0m1-2h0m2-6h0m1 1h0m1 5h0m1 1h0m1-4h0m0-2h0m1 2h0m1 8h0m3-5h0m1 1h0m3 4h0m2-3h0m3-4h0m4 0h0m7-3h0m2 7h0m2 3h0m1-5h0m1 1h0m0-5h0m2 0h0m3 0h0m2-2h0m3 0h0m11 10h0m2-4h0m4 0h0m6 4h0m0-8h0m1 8h0m5-2h0m1-1h0m0-6h0m1 5h0m3 1h0m2-7h0m0 0h0m3 8h0m0-3h0m1 2h0m1-8h0m2 11h0m0 1h0m3-2h0m2-2h0m2 3h0m0-2h0m0-2h0m2-4h0m3 4h0m1 2h0m2 1h0m6-4h0m5-2h0m0-1h0m4-3h0m2 5h0m2-1h0m2-2h0m3 8h0m3-4h0m0 0h0m12-4h0m0 6h0m3-2h0m0-2h0m1-3h0m4 6h0m1-2h0m5-2h0m3-1h0m2 5h0m0-6h0m3 9h0m0 1h0m10-3h0m5-2h0m6-3h0m0-1h0m1 5h0m1-1h0m2 2h0m2 2h0m0-7h0m1 0h0m1 7h0m3-9h0m1 10h0m4 1h0m1-3h0m1-4h0m4-2h0m2-2h0m6 4h0m0-2h0m2-1h0m9 2h0m2-3h0m1 8h0m1-9h0m0 3h0m3 8h0m0 0h0m1-1h0m1-7h0m1 0h0m0 0h0m0 3h0m3 0h0m1-4h0m1 6h0m0-2h0m0 5h0m2-6h0m0-3h0m1 7h0m1-8h0m0 1h0m2 2h0m1 1h0m1 6h0m1-10h0m0 8h0m2 3h0m0 0h0m0-10h0m6 0h0m3 0h0m11 4h0m1 2h0m0 2h0m6 1h0m13 1h0m0 0h0m14-2h0m0 1h0m1-5h0m3 6h0m3-8h0m2 1h0m1 0h0m1-1h0m0 2h0m0 5h0m0-5h0m4 0h0m0-4h0m1 6h0m2-6h0m3 3h0m0-1h0m3 1h0m3 3h0m3 0h0m2 0h0m0-6h0m3 2h0m0 2h0m4 3h0m2-1h0m14-3h0m0 2h0m0-7h0m1 8h0m2-3h0m0 5h0m1-5h0m2-1h0m2 1h0m0-4h0m1 7h0m1-7h0m2 5h0m1-2h0m0-2h0m0 6h0m9 1h0m5 3h0m5-3h0m4 10h0m-1-1h0m0 4h0m-2 1h0m-2-5h0m-1 0h0m-1-1h0m-2-5h0m-1 10h0m0-6h0m-3 8h0m-4-11h0m-1 2h0m-1 2h0m-2 4h0m-6 1h0m-2-3h0m-1 0h0m-2-5h0m-5 4h0m-1 5h0m-2 0h0m-1-8h0m-8 7h0m-1 1h0m-8 0h0m-1 0h0m-4 0h0m-3-3h0m-2-7h0m-1 6h0m0 0h0m0-2h0m-3 6h0m-1-6h0m0-4h0m-1 8h0m0-9h0m-1 4h0m0-2h0m0-1h0m-1 5h0m-1-4h0m-1 3h0m-2-4h0m-3 2h0m0 1h0m-3 0h0m-1 2h0m0 0h0m-10 1h0m-1 3h0m-1-6h0m-1 2h0m0-2h0m-1 0h0m0 3h0m0-4h0m-1 0h0m0 8h0m-1-9h0m0 3h0m0-4h0m-1-1h0m-5 6h0m0 0h0m0 4h0m-2-3h0m0 4h0m-8-8h0m-3-1h0m-1-1h0m-4 10h0m-3 0h0m-2-6h0m-1 5h0m-6 2h0m-1-2h0m-5-7h0m0-1h0m-2 1h0m-3 4h0m-1-3h0m-1 2h0m-2 2h0m-1-2h0m-1 4h0m0-1h0m0-6h0m-1 0h0m-1 5h0m0 0h0m-2-6h0m0 7h0m-2-5h0m0 7h0m0-8h0m-9 3h0m-1 4h0m-3-4h0m-7 0h0m-1-3h0m-5 3h0m-9 5h0m-2-4h0m-1-5h0m0 0h0m-2-1h0m0 1h0m-1-1h0m0 10h0m-1-11h0m0 10h0m-1-9h0m-2 8h0m-7-2h0m-10 0h0m-1 1h0m-8-6h0m-5 9h0m-1-2h0m-2 1h0m-26-3h0m-5-4h0m-1-2h0m-2 3h0m-1 1h0m-8-4h0m-3 3h0m-3 8h0m-3-2h0m-2-10h0m-2 11h0m0-10h0m0 9h0m-2-2h0m-1-3h0m0 5h0m-2-6h0m0 3h0m-1-1h0m-1 0h0m-1-4h0m-6 3h0m-3 1h0m-1-6h0m-1 3h0m-1 3h0m0-1h0m0-1h0m-2 7h0m-16-11h0m-2 11h0m0-1h0m-2 2h0m-2-9h0m0 7h0m-1-2h0m0 1h0m-3-1h0m-2 1h0m-1-6h0m-8 6h0m-1-8h0m-2 1h0m-2 8h0m-1-1h0m-3-3h0m-1-4h0m0 9h0m-2-6h0m0 7h0m0-7h0m-3-3h0m0 9h0m-1-5h0m-1 5h0m-3-10h0m0 2h0m-3 3h0m0 2h0m-1-8h0m-2 6h0m0-1h0m-1-2h0m0 1h0m-1 6h0m-1-1h0m0-7h0m0 4h0m0-2h0m0 8h0m-2-9h0m0 3h0m-1-1h0m0-4h0m0 6h0m0 4h0m-1-2h0m-1-6h0m-1 2h0m-1-4h0m0 9h0m0-6h0m-3-1h0m-2 3h0m0-4h0m0 7h0m0-4h0m-3-2h0m0-1h0m-1 4h0m0 6h0m0-5h0m-2 3h0m-1 0h0m-1-1h0m-1-2h0m0-2h0m-1 3h0m-3-2h0m-1-2h0m0-1h0m-4 4h0m-1-2h0m-1-1h0m-1-2h0m-4 0h0m-17 9h0m-3-10h0m-1 2h0m0 0h0m-1 7h0m-2-7h0m0 0h0m-1 4h0m-5 0h0m-12 1h0m-13-2h0m0-5h0m-2 9h0m-4 2h0m0-10h0m-1 6h0m-2-7h0m0-1h0m3 12h0m7 11h0m3-2h0m4-6h0m1 8h0m0-3h0m12 1h0m0 0h0m5-5h0m0 2h0m1-6h0m5 1h0m1 2h0m0 8h0m0-3h0m1-1h0m2 2h0m0-5h0m1-2h0m0-2h0m4 11h0m37-8h0m8 1h0m2-2h0m2 4h0m0 1h0m0-3h0m1-4h0m0 0h0m1 6h0m0 4h0m1-6h0m1 7h0m1-1h0m0-3h0m1 3h0m0-1h0m11-8h0m2 10h0m2-8h0m2-2h0m1 4h0m3-4h0m2 6h0m0-5h0m1 9h0m1-7h0m2-1h0m3-3h0m0 9h0m1-5h0m0-3h0m1 3h0m3 6h0m0-2h0m1-6h0m1 6h0m0-1h0m0-3h0m1-3h0m0 11h0m1-7h0m0 1h0m0 1h0m1 4h0m0-9h0m2 6h0m1-1h0m1 3h0m3-3h0m1-6h0m1 2h0m2 3h0m1-1h0m3 2h0m0-5h0m2 8h0m0-1h0m0-7h0m1 10h0m0-11h0m1 2h0m0 7h0m1 1h0m0-9h0m0 8h0m5-3h0m1 0h0m2-4h0m1 8h0m2-2h0m8 2h0m2-3h0m2-3h0m2-1h0m0 3h0m1-6h0m2 5h0m0-3h0m1 2h0m0-4h0m0 4h0m1 5h0m0 1h0m0-2h0m3-7h0m5 10h0m0-3h0m2 2h0m1-4h0m2 2h0m3 3h0m1-8h0m1 5h0m1-8h0m0 1h0m0 7h0m4 0h0m0-4h0m4-3h0m0 5h0m20 4h0m3 0h0m0-3h0m1-5h0m5 9h0m1-8h0m0-2h0m0 4h0m0 3h0m1 3h0m0-2h0m3-2h0m1 1h0m0-7h0m0 3h0m1-1h0m0 7h0m1 0h0m0-2h0m2-3h0m0 3h0m2-2h0m0-5h0m1 9h0m2-3h0m0-5h0m3 3h0m2-1h0m0 6h0m2-2h0m1 2h0m3 0h0m3-2h0m0 1h0m1-2h0m4 2h0m1-10h0m3 7h0m0 0h0m1 1h0m2 1h0m1-7h0m0 1h0m0 8h0m2-3h0m1-1h0m2 2h0m0 1h0m2-9h0m3 9h0m1 0h0m1 1h0m1 0h0m1-1h0m1-6h0m5 5h0m0-2h0m1-1h0m1 4h0m0-1h0m2-3h0m0-3h0m1 7h0m1-2h0m0-4h0m1-3h0m0 3h0m1-3h0m1-1h0m0 6h0m1 1h0m1-1h0m23-4h0m5 3h0m0-4h0m1 7h0m1-3h0m1 1h0m0-3h0m1 0h0m2 1h0m20 2h0m0 0h0m6-1h0m0 0h0m5-4h0m10 6h0m0 0h0m7 3h0m0-4h0m2 1h0m0-1h0m1 2h0m1 4h0m0-1h0m0-2h0m1-1h0m4-7h0m2 6h0m2 0h0m3-6h0m2 5h0m1-1h0m1 4h0m5-6h0m9 3h0m1-4h0m2 3h0m1 1h0m1-1h0m0 1h0m3 1h0m3-3h0m2 4h0m2-2h0m1 2h0m2-2h0m2 0h0m0-5h0m2 4h0m0-1h0m0-2h0m1 4h0m1-1h0m1 1h0m1-5h0m0 5h0m2-6h0m0 3h0m0-2h0m2 2h0m2 0h0m2-3h0m1 0h0m3 0h0m2 1h0m1 0h0m3 9h0m0-3h0m1 0h0m0 1h0m1-4h0m0 12h0m-1-2h0m-1 3h0m0 0h0m-30 5h0m-1 0h0m0 0h0m-2-1h0m-1 0h0m-2-3h0m-2 3h0m-2-2h0m0-1h0m-1 2h0m0-1h0m0 1h0m-2 1h0m-1 0h0m-30-6h0m-1 1h0m-1-4h0m-6 5h0m-3-3h0m-50 7h0m0 1h0m0-1h0m-1-4h0m-2 7h0m-1-3h0m-2-6h0m0 4h0m-2 0h0m0 4h0m-50-11h0m-1 1h0m-4 0h0m-4 1h0m0 1h0m-6-3h0m-1 1h0m0 1h0m-5-1h0m-13 2h0m-1 0h0m0 2h0m-2 0h0m-3-1h0m-1-3h0m-1 0h0m-2 6h0m-2 1h0m0-3h0m-1 7h0m-4 0h0m-2-10h0m-3 1h0m0 9h0m-2-3h0m-1-7h0m-3 8h0m0 1h0m-1-4h0m-1 0h0m0-6h0m-5 9h0m-4-4h0m0-1h0m-1 5h0m-2-10h0m0 9h0m-2-2h0m-3-7h0m-6 6h0m0 3h0m-1-2h0m0 0h0m-3 0h0m-2-2h0m0-2h0m0 1h0m0 7h0m-3-8h0m-1 0h0m-5 7h0m-1-5h0m-1-3h0m-1-1h0m0 4h0m-6-1h0m-1-2h0m-2 2h0m-2-1h0m-4 8h0m0-1h0m-1-8h0m-1 9h0m0-5h0m0-4h0m-1 8h0m-1-9h0m0 2h0m-1-1h0m0-1h0m-1 5h0m-1 4h0m-1-6h0m0 7h0m0-9h0m-2 1h0m0 7h0m0-4h0m0-5h0m0 5h0m-4 1h0m-1 4h0m0 0h0m0-7h0m-2 3h0m-1 2h0m-2 3h0m0-2h0m-2-10h0m-2 2h0m-1 2h0m-4 6h0m0-9h0m-1 4h0m0-2h0m-1 1h0m-1-2h0m0 2h0m-1 0h0m0-1h0m0 8h0m-2-8h0m-1 6h0m0-3h0m-1 4h0m0-5h0m-2 3h0m-3 3h0m-3-4h0m0-3h0m-1 7h0m-1-8h0m-4 2h0m0 1h0m-2 0h0m-2-2h0m-1-1h0m-3 1h0m-2-3h0m-1 2h0m0 0h0m-1-2h0m-48 7h0m-1 4h0m-2-3h0m0 2h0m-2-2h0m-2 0h0m0 1h0m-2 0h0m0-2h0m0-6h0m-1 1h0m0 0h0m-2 4h0m-2 1h0m0-8h0m-1 7h0m0-3h0m-4 1h0m0 5h0m-5-8h0m-3 4h0m-3 1h0m-8 3h0m-1-2h0m-2-2h0m-1-1h0m-3-4h0m0 19h0m3 3h0m2-3h0m2-5h0m18-1h0m2 3h0m1-1h0m1-1h0m0 2h0m1 6h0m1-10h0m1 9h0m6-10h0m0 1h0m0 6h0m0-3h0m1 2h0m3-4h0m1-1h0m1 2h0m1 2h0m1-4h0m1 6h0m0 4h0m1 0h0m1 1h0m2-10h0m0 6h0m1 2h0m0-8h0m1 6h0m24-6h0m2 5h0m1-4h0m2 1h0m0 7h0m0-5h0m0-1h0m2-2h0m0 5h0m1 0h0m0 0h0m0 0h0m1-2h0m0 0h0m0 0h0m1 6h0m1-4h0m34-7h0m0 0h0m3 2h0m7-1h0m3 1h0m1-3h0m3 4h0m0-1h0m1-3h0m0 1h0m1 1h0m3-2h0m1 2h0m1-2h0m1 8h0m1 1h0m1-8h0m4 1h0m2 6h0m0-6h0m0 7h0m1 0h0m1-3h0m0 0h0m2 0h0m0-4h0m2 0h0m0 0h0m1 7h0m1-3h0m0-3h0m2 2h0m0 3h0m2 0h0m3 3h0m1-10h0m0 9h0m1 1h0m0 1h0m1-7h0m4 0h0m1 2h0m5 2h0m2 0h0m1-5h0m1-1h0m0-1h0m2 8h0m0-1h0m1 2h0m0-9h0m0 10h0m2-7h0m2 2h0m2-5h0m1 6h0m0 1h0m1-3h0m2 0h0m0-6h0m2 10h0m0-2h0m1-2h0m0 6h0m0-10h0m1 5h0m0-3h0m1-2h0m1 6h0m1-6h0m2 3h0m2 2h0m1 4h0m1 0h0m0-8h0m3 0h0m1 9h0m0-1h0m3-1h0m3-7h0m0 2h0m1-2h0m1-2h0m2 0h0m1 6h0m2-4h0m0 6h0m0-4h0m1-1h0m0 1h0m1-4h0m1 5h0m0 3h0m2-8h0m1 5h0m0 1h0m2 3h0m38-9h0m1 5h0m0-3h0m1-1h0m0 2h0m0-2h0m0 4h0m1 2h0m0-4h0m0-1h0m0 5h0m1-3h0m0-1h0m0 4h0m1-2h0m0-2h0m0 2h0m1 3h0m53-9h0m11 9h0m2 2h0m5 0h0m0-8h0m1 0h0m0 8h0m0-4h0m24 1h0m3 1h0m6-5h0m41-1h0m3-1h0m0 2h0m1-3h0m2 1h0m0 3h0m1 1h0m1-5h0m1 4h0m2-4h0m22 10h0m1-1h0m1 1h0m3-1h0m3 0h0m0 0h0m0 2h0m1-6h0m0 2h0m-2 4h0m-6 3h0m-1-2h0m-2 0h0m-57 6h0m0-1h0m0 3h0m-1-4h0m0 2h0m-1-1h0m0 5h0m-1-5h0m-2-2h0m0 6h0m0-6h0m-8 1h0m-1-3h0m-2 6h0m-1-6h0m0 0h0m0 5h0m-1-2h0m-8 1h0m0 2h0m-2-7h0m-1 5h0m0-1h0m-2 0h0m-1-1h0m-2-1h0m-1 2h0m0 3h0m-2-5h0m0 0h0m0 4h0m0-3h0m0 8h0m-1-5h0m-1-2h0m-3 4h0m-1 2h0m0-7h0m-1-1h0m-1 0h0m-7-3h0m0 3h0m0 2h0m-1-4h0m-1-1h0m-2 5h0m-3 0h0m-2 6h0m0-5h0m-1 0h0m-1 6h0m0-4h0m-4 2h0m-1-2h0m0-2h0m-2 2h0m-1 2h0m-1-4h0m-2 2h0m-1 0h0m-1 1h0m-4-2h0m-1 5h0m-2-4h0m-2 2h0m-3-3h0m-3 3h0m-3 1h0m-8-6h0m-1 6h0m-2-4h0m-3 1h0m-1-1h0m0 2h0m-6-2h0m0 4h0m-1-5h0m0 4h0m-2-1h0m-1-1h0m0 1h0m-44-7h0m-1-1h0m-1 0h0m0-1h0m-2 4h0m-4-2h0m-4 0h0m-2-2h0m-1 4h0m-1-2h0m-4 1h0m-4-2h0m-3 0h0m-1 0h0m-6 1h0m-4 0h0m0-2h0m-1 1h0m-9 10h0m-2-9h0m-2 0h0m-2-1h0m0-1h0m0 3h0m0-2h0m-1 0h0m-3 1h0m-95-2h0m-1 1h0m0 2h0m-1-2h0m-1 0h0m0 1h0m-1-1h0m-3-1h0m0 1h0m-2 0h0m0-1h0m-5 10h0m-3 1h0m-4-8h0m0 5h0m-1-2h0m-1-3h0m-1 6h0m-1-2h0m0 3h0m0-4h0m-1 1h0m0 4h0m0-7h0m-1 1h0m-1 0h0m0 1h0m-1-1h0m-1-1h0m0-3h0m-1 0h0m0 1h0m0 1h0m-1 4h0m-2-5h0m-3-2h0m0 1h0m-2 11h0m-3 0h0m-1-12h0m0 11h0m-2-8h0m0 2h0m-2 5h0m-3-7h0m-2-2h0m-2 2h0m-2 5h0m0 3h0m-1-8h0m0-2h0m-1 12h0m2 11h0m2-4h0m0-5h0m1 1h0m0 5h0m1-5h0m1-3h0m2 5h0m1-3h0m1 0h0m1 5h0m2 3h0m0-4h0m2 0h0m0 1h0m1-5h0m0 3h0m1-4h0m2 4h0m0 4h0m1-4h0m0-3h0m4 3h0m1 4h0m1-10h0m0 10h0m1-2h0m1 1h0m1 2h0m1-3h0m0-2h0m7 3h0m0 1h0m1-2h0m0-5h0m1 3h0m1-5h0m1 9h0m1-1h0m1-6h0m2 1h0m0 1h0m2 7h0m2-5h0m1-3h0m1-2h0m0-1h0m1 6h0m1-3h0m0-1h0m1 1h0m0-1h0m0 7h0m1-6h0m0 2h0m2-3h0m2 7h0m0-3h0m3 4h0m6 1h0m1-4h0m1 0h0m1-2h0m0 5h0m8-1h0m1 1h0m4-3h0m72-2h0m3-2h0m1 1h0m2 2h0m0-3h0m1-2h0m1-2h0m58 11h0m28-6h0m1 4h0m0-7h0m1 8h0m0 0h0m1-6h0m0-2h0m1 7h0m3 0h0m10-2h0m6 5h0m2-4h0m3-7h0m2 3h0m4-2h0m9 2h0m0 6h0m10-6h0m0-1h0m3-3h0m1 11h0m0 0h0m1-11h0m3 3h0m0-2h0m3 10h0m1-7h0m8 3h0m1-5h0m3 5h0m3 3h0m3-5h0m3 3h0m0-2h0m0 5h0m3-4h0m3 0h0m0-4h0m0 6h0m16-1h0m4 1h0m1-1h0m3-5h0m2 6h0m5 1h0m1-9h0m0 8h0m1-2h0m0-5h0m1 0h0m0 6h0m1-1h0m0 1h0m1-2h0m1 1h0m55 1h0m5-5h0m1 6h0m0-8h0m0 3h0m0-2h0m1 4h0m0-2h0m0 14h0m0 6h0m-2-11h0m0-1h0m-1 3h0m0 6h0m0-3h0m-1 3h0m-1-6h0m-4 2h0m0 0h0m-1-4h0m0 7h0m0 1h0m-1-7h0m-1 5h0m-48-6h0m-2 7h0m0-6h0m-1 5h0m-1-6h0m0 0h0m0 2h0m-3 7h0m0 0h0m0-4h0m0 5h0m-1-1h0m-5-5h0m0 4h0m0 3h0m-2-5h0m-2-2h0m-5 4h0m-7 0h0m-4 1h0m-2-3h0m-3-6h0m-1 10h0m-1-8h0m-2 8h0m-1-10h0m0 5h0m-1-6h0m0 3h0m0 9h0m0-8h0m0 5h0m-6-8h0m-11 2h0m-9 1h0m-1 7h0m-8-8h0m-18 7h0m0 0h0m-1-8h0m-8 0h0m-1 2h0m-11 3h0m-2-3h0m0-1h0m-7 2h0m0 4h0m-1 2h0m0 0h0m-1-4h0m0 2h0m0-7h0m-1 8h0m-1-7h0m0 2h0m-2 4h0m-1-6h0m0 4h0m-2 3h0m0-5h0m0 1h0m-13 3h0m-1 1h0m-1 1h0m-1-7h0m0-2h0m-1 7h0m-1-6h0m-1-1h0m-1 5h0m0 3h0m0-6h0m-1-3h0m-1 10h0m0-9h0m-1 5h0m-1 4h0m-3-3h0m0 1h0m-61 3h0m-3 0h0m-2 0h0m-6-1h0m-6-3h0m-2 2h0m0-4h0m-1 0h0m-1-1h0m-2 5h0m-1-8h0m0 4h0m-1 4h0m-1 1h0m0-5h0m-2 0h0m0-3h0m-2 8h0m-1-10h0m0 5h0m-7 3h0m-1 0h0m-3-2h0m0-1h0m0 6h0m-3-5h0m-2-4h0m0 3h0m-1 3h0m0-1h0m0 2h0m-3-5h0m0 7h0m-1-2h0m-1 1h0m0-3h0m-1 0h0m-15-8h0m-2 0h0m-5 2h0m-2 0h0m-2 4h0m0 2h0m-1 1h0m-1 1h0m-1-10h0m-1 9h0m0 2h0m-1-4h0m-1-4h0m-1-1h0m0 7h0m0 0h0m0-7h0m-1 9h0m0-3h0m-4 0h0m-2-5h0m-1 3h0m0-2h0m-2-2h0m-3-1h0m0 0h0m-4 10h0m-2-7h0m-7 4h0m-1-6h0m0 0h0m-5 6h0m0 3h0m0-9h0m0-2h0m0 6h0m0 2h0m-1-5h0m0 1h0m-1 7h0m-2-11h0m0 10h0m0-8h0m-1-1h0m0 11h0m0-4h0m0 2h0m-1 1h0m-4-6h0m0-2h0m-3-2h0m-1 6h0m0-2h0m-1-3h0m0 1h0m-2 6h0m0-5h0m0-3h0m0 1h0m-1 1h0m0 5h0m-1-2h0m-2-6h0m-2 12h0m0-8h0m0 2h0m-1-6h0m-2 1h0m-1 9h0m0-2h0m-1-3h0m-1-3h0m-1 6h0m-2-8h0m0 9h0m0 1h0m-1-6h0m0-3h0m-1 8h0m0-7h0m-1 9h0m0-9h0m-4 7h0m-1 3h0m3 1h0m3 4h0m0 3h0m2 2h0m0-2h0m0 1h0m1-6h0m2 2h0m0-4h0m0 11h0m0-11h0m0 7h0m1 3h0m0-10h0m3 3h0m1 1h0m1 0h0m3 1h0m0 4h0m1-7h0m0 8h0m0-1h0m1 0h0m0 0h0m1 0h0m4-2h0m2-2h0m1 0h0m1 4h0m3-9h0m1 0h0m0 6h0m1-5h0m0 2h0m2-1h0m8 1h0m1 0h0m0 5h0m1-4h0m1 0h0m0 3h0m2-8h0m0 1h0m0 5h0m1-4h0m1 2h0m1 5h0m0-2h0m1-7h0m1 1h0m0 11h0m1-3h0m1-9h0m0 4h0m2 3h0m1-5h0m1 4h0m0 5h0m5-4h0m0 2h0m1 2h0m2-7h0m0-3h0m2 3h0m1-2h0m0 1h0m2 1h0m0 0h0m1 0h0m1 4h0m2 1h0m0-1h0m4 0h0m1-1h0m3 4h0m0-9h0m0 1h0m3 5h0m1 3h0m1-9h0m2 0h0m1-1h0m1 7h0m1-5h0m2 8h0m2-1h0m0-4h0m5-2h0m0 0h0m1-3h0m0 4h0m0-2h0m1 3h0m2-2h0m1 1h0m0 7h0m1-2h0m0-2h0m1-5h0m1 7h0m0-8h0m3 1h0m1 0h0m0-1h0m2 7h0m0-7h0m0 2h0m1 6h0m2-1h0m0-4h0m0 5h0m1 2h0m0-4h0m2 3h0m0 1h0m2-7h0m0-4h0m1 7h0m0-8h0m1 4h0m1-1h0m0 1h0m2 3h0m3 0h0m1-3h0m1 7h0m0-1h0m1-3h0m1-3h0m1-3h0m0 11h0m0-6h0m5 1h0m2 3h0m0-9h0m1 8h0m0 1h0m2-9h0m2 7h0m0 0h0m2-5h0m0-2h0m1 0h0m0 7h0m1 2h0m2-6h0m0-2h0m1 5h0m1 4h0m1-9h0m0 5h0m0-1h0m1-2h0m0 6h0m1-7h0m0 2h0m0 7h0m1-4h0m4 1h0m1 3h0m1 0h0m1-1h0m0 1h0m0-8h0m0 1h0m1 4h0m1-3h0m2 1h0m1-2h0m1 2h0m0-3h0m2 2h0m6-3h0m0-2h0m1 2h0m0 9h0m1-5h0m2-6h0m0 8h0m0-6h0m1 0h0m1-1h0m2 9h0m2-4h0m1-2h0m1 6h0m0-8h0m1 0h0m2-1h0m2 1h0m0 1h0m0-1h0m1-2h0m1 7h0m1-4h0m0 3h0m0-3h0m2 3h0m3 5h0m1-2h0m1-2h0m0 3h0m1-3h0m0-1h0m1-2h0m0 6h0m4-2h0m0-5h0m1 3h0m0 1h0m0 0h0m1-3h0m1-2h0m1 5h0m0-3h0m0 1h0m0-4h0m1 0h0m2 1h0m4-2h0m0 9h0m1 0h0m1-1h0m1-1h0m0-7h0m0 11h0m0-5h0m2-6h0m2 0h0m0 3h0m5 6h0m1-1h0m3 2h0m2 0h0m1 1h0m0-1h0m1 0h0m2-4h0m1 3h0m1-5h0m0 4h0m2-3h0m1 4h0m6-9h0m2 10h0m0-3h0m4-5h0m1 8h0m6-3h0m7-7h0m1 5h0m1-1h0m7-2h0m11 1h0m2-2h0m0-2h0m2 3h0m3-1h0m9 2h0m3-2h0m1-1h0m4 1h0m12 10h0m1-9h0m1-2h0m1 4h0m1-5h0m11 8h0m7 3h0m1-8h0m1 1h0m1-2h0m1 0h0m1 5h0m0-5h0m1 0h0m0-2h0m5 1h0m0 1h0m0-1h0m1 11h0m3-11h0m0 1h0m1 6h0m0 1h0m1 0h0m3-3h0m1-2h0m1 1h0m3 1h0m1-3h0m1 0h0m1 1h0m0 3h0m1-4h0m0 6h0m0-8h0m1 3h0m1 0h0m2-4h0m1 6h0m1 3h0m1-5h0m3 2h0m0 3h0m1-4h0m2-2h0m0 4h0m1-4h0m1 1h0m1 1h0m0 2h0m1 4h0m0-6h0m0-3h0m2 3h0m0-2h0m4-1h0m0 3h0m1-4h0m2 6h0m1-2h0m0 2h0m5-1h0m1-5h0m4 4h0m2-1h0m0-4h0m0 0h0m1 5h0m0 1h0m4-6h0m1 4h0m0 0h0m1 2h0m4 6h0m3 8h0m0-3h0m-1 2h0m-2-3h0m-1 3h0m0 4h0m-1-3h0m0-6h0m-1 9h0m-4-3h0m-3 3h0m0-3h0m-2-4h0m-7 1h0m-7-1h0m-3-3h0m-2 7h0m-3-6h0m-3-1h0m-1 5h0m-20-6h0m-1 2h0m-1 5h0m-9 4h0m-21-11h0m-4 7h0m-6-1h0m-6 1h0m-5-3h0m-4 1h0m-4-5h0m-3 6h0m-1 5h0m-1-7h0m0 6h0m-22 1h0m-10-6h0m-14 2h0m-1-3h0m-4 2h0m-3-6h0m0 5h0m0 7h0m-2-11h0m-1 8h0m-1-5h0m0 0h0m-1 3h0m0 1h0m-1-7h0m0 7h0m0-5h0m-3 7h0m-2-8h0m-1 9h0m0-7h0m-1-3h0m-1 4h0m-2-4h0m0 2h0m-2-1h0m-2 2h0m0-1h0m-1 8h0m-1-10h0m-1 2h0m-1 9h0m0-7h0m0-1h0m-2-1h0m-2 2h0m-1 3h0m0-5h0m0 6h0m-1-7h0m0 5h0m-1-4h0m-3-1h0m-3 0h0m0 8h0m-1-10h0m-1 3h0m-1 2h0m-2 3h0m0 2h0m0-1h0m-2-6h0m-2 6h0m0-9h0m-4 1h0m0 6h0m-3 0h0m-1 3h0m0-3h0m-2-5h0m-2 0h0m-1 5h0m-1-2h0m0 5h0m-5-6h0m0 7h0m-1 0h0m0 1h0m-3-3h0m-1 2h0m-2-6h0m0 6h0m-2-5h0m-2 5h0m-1-7h0m-1-2h0m-3 2h0m-2 2h0m0-2h0m-3 3h0m-3 2h0m-2-2h0m0-6h0m-2 6h0m0-4h0m-1 1h0m-3 0h0m0 1h0m0-1h0m-1 0h0m-1 1h0m0-1h0m-1-3h0m0 8h0m0-8h0m-5 7h0m0-2h0m-1 0h0m0 5h0m-1-9h0m-1 0h0m0 6h0m-5 1h0m-1-2h0m-1 4h0m-6-10h0m0 2h0m-2 2h0m0 3h0m-1-1h0m0 3h0m-2-3h0m0 1h0m-1-7h0m-2 2h0m0-1h0m-1 6h0m-1-7h0m-2 4h0m-2 4h0m-1 2h0m0 1h0m0-1h0m0-8h0m-1 9h0m0 0h0m-1-10h0m0-1h0m-1 10h0m0-3h0m-2-7h0m-1 3h0m0 5h0m-2-8h0m-2 2h0m-1 0h0m0 0h0m-1-1h0m0 2h0m-3-3h0m-1-1h0m0 4h0m-3-2h0m-1 3h0m0 3h0m0-1h0m-1-4h0m-1 4h0m-5-1h0m-1-3h0m-1 2h0m-3 4h0m-1 2h0m0-2h0m0-2h0m-1 5h0m-1-4h0m-1-2h0m0-4h0m-1 2h0m0 5h0m0-8h0m-2 7h0m-1-4h0m-2 8h0m0-1h0m-1-3h0m-1-7h0m-1 9h0m-1-2h0m0 1h0m0 0h0m-1-2h0m-1-3h0m0 5h0m-1-3h0m-1-3h0m-6-3h0m-1 11h0m0-3h0m-1 4h0m-1-12h0m0 8h0m-1 3h0m0-5h0m-1 5h0m-1-10h0m0 3h0m0 1h0m0 6h0m-2-11h0m0 9h0m-2-8h0m0 10h0m-5-6h0m-1 3h0m-2-2h0m0 0h0m-1 3h0m-2-2h0m0 5h0m0-9h0m-1 3h0m-1 0h0m-21-5h0m-2 2h0m-1 3h0m-1-5h0m0 1h0m0 0h0m-2-1h0m-3 9h0m0 0h0m0-1h0m-2-2h0m0-4h0m0 4h0m-1-1h0m0-3h0m-1 7h0m0-5h0m0 2h0m-1-3h0m0-1h0m-2 2h0m0 6h0m-4-3h0m-1 0h0m-1 3h0m6 7h0m1 3h0m1-8h0m1 8h0m1-5h0m0-3h0m2 9h0m2-2h0m0-8h0m1 6h0m0 0h0m1-2h0m1 7h0m1-3h0m1 1h0m7 1h0m0 1h0m1-2h0m2 2h0m0-5h0m3 3h0m1-4h0m1 2h0m1 1h0m1-4h0m4 0h0m2 0h0m1 5h0m1 0h0m0-1h0m1-3h0m1-2h0m1-1h0m1 5h0m0-3h0m0 4h0m3 3h0m1-8h0m5-2h0m0 9h0m3-7h0m1 3h0m0-3h0m1 2h0m0-5h0m1 5h0m0 5h0m1-5h0m0 6h0m1-8h0m1 3h0m1-1h0m1 1h0m1-5h0m1 10h0m0-3h0m0 1h0m1-3h0m2-1h0m0-1h0m1-3h0m1 7h0m0-7h0m1 3h0m1 4h0m1 3h0m4-7h0m1-1h0m1 6h0m2 0h0m1-1h0m0-3h0m0-2h0m0 4h0m1 0h0m0-3h0m0 0h0m1-4h0m0 1h0m1 6h0m0 4h0m1-10h0m0-1h0m0 5h0m1 5h0m1-1h0m0-5h0m0-2h0m2 1h0m1 4h0m0 3h0m2-7h0m1-2h0m0 0h0m1 7h0m2-4h0m3 3h0m1-3h0m0 3h0m1-6h0m0 6h0m2 1h0m0 0h0m3-8h0m0 4h0m0 8h0m1-4h0m0-7h0m4 6h0m0 3h0m0-9h0m0 2h0m0 7h0m2-4h0m0 1h0m2-1h0m0 5h0m0 1h0m0-5h0m1-2h0m1 3h0m0-1h0m1 2h0m1-6h0m1 5h0m0-6h0m1 9h0m2-6h0m1 1h0m0-3h0m0 3h0m0-1h0m0 0h0m1 7h0m1-1h0m3-6h0m3 1h0m1-5h0m1 5h0m1-5h0m1 5h0m6 1h0m0 1h0m3-1h0m0 0h0m3 2h0m0 2h0m0-6h0m2 6h0m0-5h0m1-3h0m4-1h0m0 10h0m1-1h0m3-2h0m0-5h0m1 0h0m1 0h0m1 2h0m0-1h0m5 0h0m0 0h0m1 2h0m1 4h0m1 0h0m1-11h0m1 10h0m0-10h0m0 1h0m2 11h0m1-11h0m1 0h0m1 1h0m2 9h0m4-7h0m0 0h0m1 6h0m1-5h0m1 0h0m0 5h0m0-5h0m1 1h0m1-4h0m1 1h0m2 6h0m1-3h0m2 0h0m1-4h0m0 0h0m1 5h0m1-2h0m0 6h0m0-1h0m1-6h0m1 8h0m0-2h0m1 0h0m0 0h0m1 1h0m1 0h0m0-5h0m0-4h0m0 7h0m0-2h0m1 0h0m1 3h0m0 0h0m0-7h0m1 4h0m1-7h0m1 12h0m1-12h0m0 6h0m0 6h0m1-10h0m0 4h0m0-1h0m1-1h0m1 7h0m0 1h0m0-5h0m1 2h0m1-7h0m2 9h0m0 0h0m4-1h0m1-8h0m0 3h0m0 0h0m2-1h0m0 6h0m0 1h0m1-3h0m0-4h0m0 2h0m2 2h0m1 0h0m1 0h0m1 3h0m1 0h0m2-11h0m0 11h0m0 1h0m2-8h0m1-1h0m0 5h0m2-3h0m2-4h0m1 6h0m1 2h0m1 0h0m0-3h0m3 1h0m1 4h0m0-7h0m1 5h0m1-6h0m0-3h0m2 10h0m1-10h0m0 0h0m1 6h0m0 5h0m0-6h0m2 0h0m1 4h0m2-2h0m0-7h0m0 1h0m0-1h0m1 4h0m1 6h0m1-8h0m19 0h0m12 10h0m6-9h0m0 2h0m3 2h0m0 0h0m7 3h0m1-1h0m6-8h0m5 3h0m17 6h0m5-6h0m10 6h0m2-6h0m18 7h0m10-7h0m9-2h0m7 2h0m3 6h0m3-5h0m1-1h0m1 5h0m14-1h0m3-8h0m1 5h0m0-1h0m1 0h0m1 2h0m1-3h0m1 6h0m5 3h0m1 0h0m-1 1h0m0-1h0m-5 3h0m0-1h0m-6 2h0m-5-1h0m-13-1h0m-7-1h0m-1 1h0m0-2h0m-5 1h0m-4 1h0m-12 3h0m-1 0h0m-16 0h0m-3-4h0m-55 3h0m-7 1h0m-34-3h0m-9 0h0m-5 1h0m-3-2h0m-3 3h0m-13 0h0m-1 0h0m-1-4h0m-2 5h0m-7 0h0m-1 0h0m0-1h0m-4-1h0m0 1h0m-2 0h0m-1 1h0m0-1h0m0-2h0m-2 1h0m-4 2h0m-3-1h0m-1-1h0m-3-1h0m-6 1h0m0-2h0m-2-1h0m0 2h0m0 2h0m-3-1h0m-1-1h0m-1 0h0m-7-1h0m-3 0h0m-1 1h0m-5 1h0m-5 2h0m-1-1h0m-2-4h0m-7 0h0m-4 4h0m-1-2h0m-2 3h0m-2-2h0m-3-3h0m0 4h0m0-2h0m-2-2h0m-8 0h0m-7 3h0m-5 0h0m-5-1h0m-2-1h0m-2 3h0m-1-3h0m-9 1h0m-1 1h0m0 1h0m-1-2h0m-1 2h0m-3-4h0m0 1h0m-2-1h0m-2 3h0m-3 0h0m-1 0h0m-6-2h0m-2 3h0m-1 0h0m0 0h0m-1-3h0m-2 0h0m0 4h0m-2-1h0m-7-3h0m0 1h0m-7 0h0m-2 0h0m-3 3h0m-2-2h0m-1 0h0m-2 0h0m-2 1h0m-5-4h0m-5 5h0m-5-3h0m-1 2h0m-1-1h0m-3-2h0m-2 0h0m-1 1h0m-1 2h0m-5 1h0m-2-4h0m0 1h0m0 1h0m-2-1h0m-1 1h0m-1 1h0m-1 1h0m0-2h0m-1 2h0m0-2h0" fill="none" stroke="#fc9c9b" stroke-width="6.4" stroke-linecap="round"/><path d="M708 222V351M278 63V180" stroke="#fff" stroke-opacity="0.55" stroke-width="1"/><path d="M126.3 54.3 128.3 54.3 130.3 54.3 132.3 54.4 134.3 54.4 136.3 54.5 138.4 54.5 140.4 54.6 142.4 54.7 144.4 54.8 146.4 54.9 148.4 55.0 150.4 55.1 152.4 55.2 154.4 55.3 156.4 55.4 158.5 55.6 160.5 55.7 162.5 55.8 164.5 56.0 166.5 56.2 168.5 56.4 170.5 56.7 172.5 56.9 174.5 57.2 176.5 57.6 178.6 57.9 180.6 58.3 182.6 58.7 184.6 59.1 186.6 59.6 188.6 60.0 190.6 60.5 192.6 61.0 194.6 61.5 196.6 62.0 198.7 62.5 200.7 63.0 202.7 63.6 204.7 64.1 206.7 64.6 208.7 65.2 210.7 65.7 212.7 66.3 214.7 66.8 216.7 67.4 218.8 68.0 220.8 68.6 222.8 69.3 224.8 69.9 226.8 70.6 228.8 71.4 230.8 72.1 232.8 72.9 234.8 73.7 236.8 74.5 238.9 75.3 240.9 76.2 242.9 77.1 244.9 78.0 246.9 79.0 248.9 80.0 250.9 81.0 252.9 82.2 254.9 83.3 256.9 84.6 259.0 85.8 261.0 87.2 263.0 88.5 265.0 89.9 267.0 91.3 269.0 92.8 271.0 94.4 273.0 96.0 275.0 97.7 277.0 99.5 279.1 101.4 281.1 103.5 283.1 105.7 285.1 108.1 287.1 110.7 289.1 113.5 291.1 116.4 293.1 119.3 295.1 122.2 297.1 125.2 299.2 128.4 301.2 131.6 303.2 135.0 305.2 138.6 307.2 142.5 309.2 146.6 311.2 150.8 313.2 154.9 315.2 158.9 317.2 163.0 319.3 166.8 321.3 169.9 323.3 172.4 325.3 174.4 327.3 176.2 329.3 177.9 331.3 179.5 333.3 181.3 335.3 183.1 337.3 184.9 339.4 186.7 341.4 188.5 343.4 190.3 345.4 192.0 347.4 193.7 349.4 195.3 351.4 196.9 353.4 198.5 355.4 200.0 357.4 201.6 359.5 203.1 361.5 204.5 363.5 206.0 365.5 207.4 367.5 208.7 369.5 210.0 371.5 211.2 373.5 212.4 375.5 213.6 377.5 214.7 379.6 215.7 381.6 216.7 383.6 217.7 385.6 218.7 387.6 219.7 389.6 220.6 391.6 221.5 393.6 222.4 395.6 223.3 397.6 224.2 399.7 225.0 401.7 225.9 403.7 226.7 405.7 227.5 407.7 228.3 409.7 229.0 411.7 229.8 413.7 230.5 415.7 231.2 417.7 231.9 419.8 232.6 421.8 233.3 423.8 234.1 425.8 234.8 427.8 235.5 429.8 236.2 431.8 236.8 433.8 237.4 435.8 238.1 437.8 238.6 439.9 239.1 441.9 239.6 443.9 240.0 445.9 240.4 447.9 240.7 449.9 240.9 451.9 241.2 453.9 241.4 455.9 241.6 457.9 241.9 460.0 242.1 462.0 242.3 464.0 242.5 466.0 242.7 468.0 242.9 470.0 243.0 472.0 243.2 474.0 243.4 476.0 243.5 478.0 243.7 480.1 243.8 482.1 244.0 484.1 244.1 486.1 244.3 488.1 244.4 490.1 244.5 492.1 244.6 494.1 244.8 496.1 244.9 498.1 245.0 500.2 245.1 502.2 245.2 504.2 245.3 506.2 245.4 508.2 245.5 510.2 245.6 512.2 245.7 514.2 245.8 516.2 245.8 518.2 245.9 520.3 246.0 522.3 246.1 524.3 246.2 526.3 246.3 528.3 246.3 530.3 246.4 532.3 246.5 534.3 246.6 536.3 246.7 538.3 246.7 540.4 246.8 542.4 246.9 544.4 247.0 546.4 247.1 548.4 247.1 550.4 247.2 552.4 247.3 554.4 247.3 556.4 247.4 558.4 247.5 560.5 247.5 562.5 247.6 564.5 247.6 566.5 247.7 568.5 247.7 570.5 247.8 572.5 247.8 574.5 247.9 576.5 247.9 578.5 247.9 580.6 247.9 582.6 248.0 584.6 248.0 586.6 248.0 588.6 248.0 590.6 248.0 592.6 248.0 594.6 248.0 596.6 248.0 598.6 248.0 600.7 247.9 602.7 247.9 604.7 247.9 606.7 247.9 608.7 247.8 610.7 247.8 612.7 247.8 614.7 247.7 616.7 247.7 618.7 247.6 620.8 247.6 622.8 247.5 624.8 247.5 626.8 247.4 628.8 247.3 630.8 247.3 632.8 247.2 634.8 247.2 636.8 247.1 638.8 247.0 640.9 246.9 642.9 246.9 644.9 246.8 646.9 246.7 648.9 246.7 650.9 246.6 652.9 246.5 654.9 246.4 656.9 246.4 658.9 246.3 661.0 246.2 663.0 246.1 665.0 246.0 667.0 246.0 669.0 245.9 671.0 245.8 673.0 245.7 675.0 245.7 677.0 245.6 679.0 245.5 681.1 245.5 683.1 245.4 685.1 245.3 687.1 245.2 689.1 245.2 691.1 245.1 693.1 245.0 695.1 244.9 697.1 244.9 699.1 244.8 701.2 244.7 703.2 244.6 705.2 244.5 707.2 244.5 709.2 244.4 711.2 244.3 713.2 244.2 715.2 244.1 717.2 244.0 719.2 243.9 721.3 243.8 723.3 243.8 725.3 243.7 727.3 243.6 729.3 243.5 731.3 243.4 733.3 243.3 735.3 243.2 737.3 243.1 739.3 243.0 741.4 242.9 743.4 242.8 745.4 242.7 747.4 242.6 749.4 242.5 751.4 242.4 753.4 242.3 755.4 242.2 757.4 242.1 759.4 242.0 761.5 241.9 763.5 241.8 765.5 241.7 767.5 241.5 769.5 241.4 771.5 241.3" fill="none" stroke="#222" stroke-width="1.1"/><path d="M126.3 137.0 128.3 137.0 130.3 137.1 132.3 137.1 134.3 137.2 136.3 137.3 138.4 137.4 140.4 137.5 142.4 137.6 144.4 137.7 146.4 137.9 148.4 138.0 150.4 138.2 152.4 138.4 154.4 138.5 156.4 138.7 158.5 138.9 160.5 139.1 162.5 139.3 164.5 139.6 166.5 139.8 168.5 140.0 170.5 140.3 172.5 140.5 174.5 140.7 176.5 141.0 178.6 141.2 180.6 141.5 182.6 141.8 184.6 142.0 186.6 142.3 188.6 142.6 190.6 142.8 192.6 143.1 194.6 143.4 196.6 143.7 198.7 144.0 200.7 144.4 202.7 144.7 204.7 145.1 206.7 145.5 208.7 145.9 210.7 146.4 212.7 146.8 214.7 147.3 216.7 147.8 218.8 148.3 220.8 148.8 222.8 149.3 224.8 149.8 226.8 150.4 228.8 150.9 230.8 151.5 232.8 152.1 234.8 152.7 236.8 153.3 238.9 154.0 240.9 154.7 242.9 155.4 244.9 156.2 246.9 157.0 248.9 157.9 250.9 158.8 252.9 159.8 254.9 160.8 256.9 161.9 259.0 163.1 261.0 164.3 263.0 165.7 265.0 167.2 267.0 168.7 269.0 170.3 271.0 171.9 273.0 173.6 275.0 175.3 277.0 177.0 279.1 178.8 281.1 180.7 283.1 182.7 285.1 184.8 287.1 186.9 289.1 189.1 291.1 191.3 293.1 193.5 295.1 195.7 297.1 197.9 299.2 200.1 301.2 202.3 303.2 204.4 305.2 206.5 307.2 208.7 309.2 211.0 311.2 213.5 313.2 216.2 315.2 219.3 317.2 222.8 319.3 226.5 321.3 230.3 323.3 234.2 325.3 238.1 327.3 242.3 329.3 246.5 331.3 250.5 333.3 254.0 335.3 257.3 337.3 260.4 339.4 263.2 341.4 265.8 343.4 268.1 345.4 270.3 347.4 272.3 349.4 274.1 351.4 275.7 353.4 277.2 355.4 278.7 357.4 280.0 359.5 281.3 361.5 282.6 363.5 283.7 365.5 284.9 367.5 285.9 369.5 287.0 371.5 288.0 373.5 288.9 375.5 289.9 377.5 290.8 379.6 291.7 381.6 292.6 383.6 293.4 385.6 294.2 387.6 294.9 389.6 295.6 391.6 296.3 393.6 297.0 395.6 297.6 397.6 298.1 399.7 298.7 401.7 299.2 403.7 299.7 405.7 300.1 407.7 300.6 409.7 301.1 411.7 301.5 413.7 301.9 415.7 302.3 417.7 302.8 419.8 303.2 421.8 303.6 423.8 304.1 425.8 304.5 427.8 305.0 429.8 305.5 431.8 306.0 433.8 306.5 435.8 307.1 437.8 307.6 439.9 308.0 441.9 308.5 443.9 308.9 445.9 309.2 447.9 309.5 449.9 309.7 451.9 309.9 453.9 310.2 455.9 310.4 457.9 310.6 460.0 310.8 462.0 311.0 464.0 311.2 466.0 311.4 468.0 311.6 470.0 311.8 472.0 312.0 474.0 312.2 476.0 312.4 478.0 312.6 480.1 312.7 482.1 312.9 484.1 313.1 486.1 313.2 488.1 313.4 490.1 313.6 492.1 313.7 494.1 313.9 496.1 314.0 498.1 314.1 500.2 314.3 502.2 314.4 504.2 314.6 506.2 314.7 508.2 314.8 510.2 314.9 512.2 315.1 514.2 315.2 516.2 315.3 518.2 315.4 520.3 315.5 522.3 315.6 524.3 315.7 526.3 315.8 528.3 315.9 530.3 316.0 532.3 316.1 534.3 316.2 536.3 316.2 538.3 316.3 540.4 316.4 542.4 316.5 544.4 316.5 546.4 316.6 548.4 316.7 550.4 316.7 552.4 316.8 554.4 316.8 556.4 316.9 558.4 316.9 560.5 317.0 562.5 317.0 564.5 317.1 566.5 317.1 568.5 317.1 570.5 317.2 572.5 317.2 574.5 317.3 576.5 317.3 578.5 317.3 580.6 317.4 582.6 317.4 584.6 317.4 586.6 317.5 588.6 317.5 590.6 317.6 592.6 317.6 594.6 317.6 596.6 317.7 598.6 317.7 600.7 317.7 602.7 317.8 604.7 317.8 606.7 317.8 608.7 317.8 610.7 317.9 612.7 317.9 614.7 317.9 616.7 318.0 618.7 318.0 620.8 318.0 622.8 318.0 624.8 318.1 626.8 318.1 628.8 318.1 630.8 318.1 632.8 318.2 634.8 318.2 636.8 318.2 638.8 318.2 640.9 318.2 642.9 318.3 644.9 318.3 646.9 318.3 648.9 318.3 650.9 318.3 652.9 318.3 654.9 318.3 656.9 318.4 658.9 318.4 661.0 318.4 663.0 318.4 665.0 318.4 667.0 318.4 669.0 318.4 671.0 318.4 673.0 318.4 675.0 318.4 677.0 318.4 679.0 318.4 681.1 318.4 683.1 318.4 685.1 318.4 687.1 318.4 689.1 318.3 691.1 318.3 693.1 318.3 695.1 318.3 697.1 318.3 699.1 318.2 701.2 318.2 703.2 318.2 705.2 318.1 707.2 318.1 709.2 318.1 711.2 318.0 713.2 318.0 715.2 317.9 717.2 317.9 719.2 317.8 721.3 317.8 723.3 317.7 725.3 317.7 727.3 317.6 729.3 317.6 731.3 317.5 733.3 317.4 735.3 317.4 737.3 317.3 739.3 317.2 741.4 317.2 743.4 317.1 745.4 317.0 747.4 317.0 749.4 316.9 751.4 316.8 753.4 316.7 755.4 316.7 757.4 316.6 759.4 316.5 761.5 316.4 763.5 316.4 765.5 316.3 767.5 316.2 769.5 316.1 771.5 316.0" fill="none" stroke="#222" stroke-width="1.1"/><path d="M126.3 95.1 128.3 95.2 130.3 95.3 132.3 95.5 134.3 95.6 136.3 95.8 138.4 96.0 140.4 96.2 142.4 96.3 144.4 96.5 146.4 96.8 148.4 97.0 150.4 97.2 152.4 97.4 154.4 97.7 156.4 97.9 158.5 98.2 160.5 98.5 162.5 98.7 164.5 99.0 166.5 99.3 168.5 99.7 170.5 100.0 172.5 100.4 174.5 100.7 176.5 101.1 178.6 101.5 180.6 101.9 182.6 102.4 184.6 102.8 186.6 103.3 188.6 103.7 190.6 104.2 192.6 104.7 194.6 105.2 196.6 105.7 198.7 106.2 200.7 106.7 202.7 107.2 204.7 107.7 206.7 108.3 208.7 108.8 210.7 109.3 212.7 109.9 214.7 110.4 216.7 111.0 218.8 111.6 220.8 112.1 222.8 112.7 224.8 113.4 226.8 114.0 228.8 114.6 230.8 115.3 232.8 116.0 234.8 116.7 236.8 117.4 238.9 118.1 240.9 118.8 242.9 119.6 244.9 120.4 246.9 121.2 248.9 122.0 250.9 122.9 252.9 123.8 254.9 124.7 256.9 125.6 259.0 126.5 261.0 127.6 263.0 128.6 265.0 129.8 267.0 130.9 269.0 132.2 271.0 133.5 273.0 134.8 275.0 136.2 277.0 137.7 279.1 139.3 281.1 141.1 283.1 143.0 285.1 145.0 287.1 147.1 289.1 149.3 291.1 151.6 293.1 153.8 295.1 156.1 297.1 158.5 299.2 160.9 301.2 163.5 303.2 166.1 305.2 168.9 307.2 171.7 309.2 174.9 311.2 178.2 313.2 181.4 315.2 184.4 317.2 187.2 319.3 189.8 321.3 192.3 323.3 194.8 325.3 197.2 327.3 199.6 329.3 202.1 331.3 204.7 333.3 207.4 335.3 210.1 337.3 212.8 339.4 215.4 341.4 217.9 343.4 220.2 345.4 222.6 347.4 224.9 349.4 227.1 351.4 229.3 353.4 231.4 355.4 233.5 357.4 235.4 359.5 237.3 361.5 239.0 363.5 240.6 365.5 242.1 367.5 243.6 369.5 245.0 371.5 246.4 373.5 247.6 375.5 248.9 377.5 250.1 379.6 251.2 381.6 252.4 383.6 253.4 385.6 254.5 387.6 255.5 389.6 256.5 391.6 257.5 393.6 258.4 395.6 259.3 397.6 260.2 399.7 261.0 401.7 261.8 403.7 262.6 405.7 263.3 407.7 264.0 409.7 264.7 411.7 265.3 413.7 265.9 415.7 266.5 417.7 267.1 419.8 267.7 421.8 268.2 423.8 268.8 425.8 269.3 427.8 269.9 429.8 270.5 431.8 271.1 433.8 271.7 435.8 272.2 437.8 272.8 439.9 273.3 441.9 273.8 443.9 274.3 445.9 274.7 447.9 275.0 449.9 275.3 451.9 275.6 453.9 275.8 455.9 276.1 457.9 276.4 460.0 276.7 462.0 276.9 464.0 277.2 466.0 277.4 468.0 277.7 470.0 277.9 472.0 278.2 474.0 278.4 476.0 278.6 478.0 278.8 480.1 279.1 482.1 279.3 484.1 279.5 486.1 279.7 488.1 279.9 490.1 280.1 492.1 280.2 494.1 280.4 496.1 280.6 498.1 280.8 500.2 280.9 502.2 281.1 504.2 281.2 506.2 281.4 508.2 281.5 510.2 281.6 512.2 281.8 514.2 281.9 516.2 282.0 518.2 282.1 520.3 282.2 522.3 282.3 524.3 282.4 526.3 282.5 528.3 282.5 530.3 282.6 532.3 282.7 534.3 282.7 536.3 282.8 538.3 282.8 540.4 282.9 542.4 282.9 544.4 283.0 546.4 283.0 548.4 283.1 550.4 283.1 552.4 283.2 554.4 283.2 556.4 283.3 558.4 283.3 560.5 283.4 562.5 283.4 564.5 283.5 566.5 283.5 568.5 283.5 570.5 283.6 572.5 283.6 574.5 283.7 576.5 283.7 578.5 283.7 580.6 283.8 582.6 283.8 584.6 283.8 586.6 283.9 588.6 283.9 590.6 283.9 592.6 283.9 594.6 284.0 596.6 284.0 598.6 284.0 600.7 284.0 602.7 284.0 604.7 284.0 606.7 284.1 608.7 284.1 610.7 284.1 612.7 284.1 614.7 284.1 616.7 284.1 618.7 284.1 620.8 284.1 622.8 284.1 624.8 284.1 626.8 284.1 628.8 284.0 630.8 284.0 632.8 284.0 634.8 283.9 636.8 283.9 638.8 283.8 640.9 283.8 642.9 283.7 644.9 283.7 646.9 283.6 648.9 283.5 650.9 283.5 652.9 283.4 654.9 283.3 656.9 283.2 658.9 283.1 661.0 283.1 663.0 283.0 665.0 282.9 667.0 282.8 669.0 282.7 671.0 282.6 673.0 282.5 675.0 282.5 677.0 282.4 679.0 282.3 681.1 282.2 683.1 282.1 685.1 282.0 687.1 281.9 689.1 281.9 691.1 281.8 693.1 281.7 695.1 281.6 697.1 281.6 699.1 281.5 701.2 281.4 703.2 281.4 705.2 281.3 707.2 281.2 709.2 281.2 711.2 281.1 713.2 281.1 715.2 281.0 717.2 280.9 719.2 280.9 721.3 280.8 723.3 280.8 725.3 280.7 727.3 280.7 729.3 280.6 731.3 280.6 733.3 280.5 735.3 280.4 737.3 280.4 739.3 280.3 741.4 280.3 743.4 280.2 745.4 280.2 747.4 280.1 749.4 280.1 751.4 280.0 753.4 280.0 755.4 279.9 757.4 279.9 759.4 279.8 761.5 279.8 763.5 279.7 765.5 279.7 767.5 279.6 769.5 279.6 771.5 279.5" fill="none" stroke="#000" stroke-width="3.6" stroke-dasharray="21 11"/><path d="M159.4 94.3V115.5M150.4 94.3h18M150.4 115.5h18M299.2 131.5V139.0M290.2 131.5h18M290.2 139.0h18M293.4 141.4V156.8M284.4 141.4h18M284.4 156.8h18M286.9 154.5V167.5M277.9 154.5h18M277.9 167.5h18M286.9 173.2V179.0M277.9 173.2h18M277.9 179.0h18M342.4 201.8V216.6M333.4 201.8h18M333.4 216.6h18M408.4 208.1V224.3M399.4 208.1h18M399.4 224.3h18M406.5 213.4V243.0M397.5 213.4h18M397.5 243.0h18M406.5 215.0V244.5M397.5 215.0h18M397.5 244.5h18M450.9 261.8V272.5M441.9 261.8h18M441.9 272.5h18M508.0 269.6V285.1M499.0 269.6h18M499.0 285.1h18M520.8 272.0V287.5M511.8 272.0h18M511.8 287.5h18M732.9 308.9V323.1M723.9 308.9h18M723.9 323.1h18" fill="none" stroke="#3c3cd6" stroke-width="1.4"/><circle cx="159.4" cy="104.9" r="2.9" fill="#0000f4"/><circle cx="299.2" cy="135.8" r="2.9" fill="#0000f4"/><circle cx="293.4" cy="149.7" r="2.9" fill="#0000f4"/><circle cx="286.9" cy="163.4" r="2.9" fill="#0000f4"/><circle cx="286.9" cy="173.7" r="2.9" fill="#0000f4"/><circle cx="342.4" cy="209.2" r="2.9" fill="#0000f4"/><circle cx="408.4" cy="216.2" r="2.9" fill="#0000f4"/><circle cx="406.5" cy="229.3" r="2.9" fill="#0000f4"/><circle cx="406.5" cy="229.3" r="2.9" fill="#0000f4"/><circle cx="450.9" cy="267.0" r="2.9" fill="#0000f4"/><circle cx="508.0" cy="278.1" r="2.9" fill="#0000f4"/><circle cx="520.8" cy="280.4" r="2.9" fill="#0000f4"/><circle cx="732.9" cy="316.4" r="2.9" fill="#0000f4"/></g><g clip-path="url(#kb)"><path d="M782.0 60.0 784.0 60.0 786.0 60.0 788.1 60.1 790.1 60.1 792.1 60.1 794.1 60.2 796.2 60.2 798.2 60.3 800.2 60.4 802.2 60.4 804.2 60.5 806.3 60.6 808.3 60.6 810.3 60.7 812.3 60.8 814.3 60.9 816.4 60.9 818.4 61.0 820.4 61.1 822.4 61.2 824.5 61.3 826.5 61.4 828.5 61.5 830.5 61.6 832.5 61.8 834.6 61.9 836.6 62.0 838.6 62.2 840.6 62.3 842.6 62.5 844.7 62.7 846.7 62.8 848.7 63.0 850.7 63.2 852.8 63.4 854.8 63.6 856.8 63.8 858.8 64.0 860.8 64.2 862.9 64.4 864.9 64.6 866.9 64.8 868.9 65.1 871.0 65.3 873.0 65.5 875.0 65.8 877.0 66.0 879.0 66.2 881.1 66.5 883.1 66.8 885.1 67.0 887.1 67.3 889.1 67.5 891.2 67.8 893.2 68.1 895.2 68.4 897.2 68.6 899.3 68.9 901.3 69.2 903.3 69.5 905.3 69.8 907.3 70.1 909.4 70.4 911.4 70.7 913.4 71.0 915.4 71.3 917.4 71.6 919.5 71.9 921.5 72.3 923.5 72.6 925.5 73.0 927.6 73.4 929.6 73.8 931.6 74.2 933.6 74.6 935.6 75.1 937.7 75.5 939.7 76.0 941.7 76.4 943.7 76.9 945.7 77.4 947.8 77.9 949.8 78.4 951.8 78.9 953.8 79.4 955.9 80.0 957.9 80.5 959.9 81.0 961.9 81.6 963.9 82.2 966.0 82.7 968.0 83.3 970.0 83.9 972.0 84.5 974.1 85.1 976.1 85.7 978.1 86.4 980.1 87.1 982.1 87.9 984.2 88.6 986.2 89.5 988.2 90.3 990.2 91.1 992.2 92.0 994.3 92.9 996.3 93.7 998.3 94.6 1000.3 95.5 1002.4 96.5 1004.4 97.5 1006.4 98.6 1008.4 99.6 1010.4 100.5 1012.5 101.4 1014.5 102.2 1016.5 102.8 1018.5 103.3 1020.5 103.8 1022.6 104.2 1024.6 104.4 1026.6 104.5 1028.6 103.9 1030.7 102.8 1032.7 100.6 1034.7 96.4 1039.0 94.5 1039.0 182.3 1041.0 190.5 1043.0 197.3 1045.0 203.1 1047.0 207.8 1049.1 211.8 1051.1 215.5 1053.1 219.0 1055.1 222.4 1057.1 225.5 1059.1 228.3 1061.1 230.9 1063.1 233.4 1065.1 235.7 1067.1 237.8 1069.2 239.8 1071.2 241.5 1073.2 243.2 1075.2 244.8 1077.2 246.2 1079.2 247.6 1081.2 248.8 1083.2 250.0 1085.2 251.2 1087.2 252.3 1089.3 253.4 1091.3 254.3 1093.3 255.1 1095.3 255.9 1097.3 256.5 1099.3 257.1 1101.3 257.6 1103.3 258.1 1105.3 258.5 1107.4 258.7 1109.4 258.8 1111.4 258.9 1113.4 259.0 1115.4 259.1 1117.4 259.2 1119.4 259.2 1121.4 259.3 1123.4 259.3 1125.4 259.3 1127.5 259.3 1129.5 259.3 1131.5 259.2 1133.5 259.2 1135.5 259.2 1137.5 259.1 1139.5 259.1 1141.5 259.0 1143.5 259.0 1145.5 259.0 1147.6 258.9 1149.6 258.9 1151.6 258.8 1153.6 258.8 1155.6 258.7 1157.6 258.7 1159.6 258.6 1161.6 258.6 1163.6 258.5 1165.6 258.4 1167.7 258.4 1169.7 258.3 1171.7 258.2 1173.7 258.2 1175.7 258.1 1177.7 258.0 1179.7 258.0 1181.7 257.9 1183.7 257.8 1185.8 257.8 1187.8 257.7 1189.8 257.6 1191.8 257.5 1193.8 257.4 1195.8 257.4 1197.8 257.3 1199.8 257.2 1201.8 257.1 1203.8 257.0 1205.9 256.9 1207.9 256.8 1209.9 256.8 1211.9 256.7 1213.9 256.6 1215.9 256.4 1217.9 256.3 1219.9 256.2 1221.9 256.1 1223.9 256.0 1226.0 255.9 1228.0 255.7 1230.0 255.6 1232.0 255.4 1234.0 255.3 1236.0 255.2 1238.0 255.0 1240.0 254.9 1242.0 254.7 1244.1 254.6 1246.1 254.4 1248.1 254.3 1250.1 254.1 1252.1 254.0 1254.1 253.9 1256.1 253.7 1258.1 253.6 1260.1 253.4 1262.1 253.3 1264.2 253.1 1266.2 253.0 1268.2 252.9 1270.2 252.7 1272.2 252.6 1274.2 252.5 1276.2 252.4 1278.2 252.2 1280.2 252.1 1282.2 252.0 1284.3 251.9 1286.3 251.8 1288.3 251.7 1290.3 251.5 1292.3 251.4 1294.3 251.3 1296.3 251.2 1298.3 251.1 1300.3 251.0 1302.4 250.9 1304.4 250.7 1306.4 250.6 1308.4 250.5 1310.4 250.4 1312.4 250.3 1314.4 250.2 1316.4 250.1 1318.4 250.0 1320.4 249.8 1322.5 249.7 1324.5 249.6 1326.5 249.5 1328.5 249.4 1330.5 249.3 1332.5 249.2 1334.5 249.1 1336.5 249.0 1338.5 248.8 1340.5 248.7 1342.6 248.6 1344.6 248.5 1346.6 248.4 1348.6 248.3 1350.6 248.2 1352.6 248.1 1354.6 247.9 1356.6 247.8 1358.6 247.7 1360.6 247.6 1362.7 247.5 1364.7 247.4 1366.7 247.3 1368.7 247.2 1370.7 247.0 1372.7 246.9 1374.7 246.8 1376.7 246.7 1378.7 246.6 1380.8 246.5 1382.8 246.4 1384.8 246.3 1386.8 246.1 1388.8 246.0 1390.8 245.9 1392.8 245.8 1394.8 245.7 1396.8 245.6 1398.8 245.5 1400.9 245.4 1402.9 245.2 1404.9 245.1 1406.9 245.0 1408.9 244.9 1410.9 244.8 1412.9 244.7 1414.9 244.6 1416.9 244.5 1418.9 244.4 1421.0 244.2 1423.0 244.1 1425.0 244.0 1427.0 243.9 1429.0 243.8 1429.0 334.0 1427.0 334.1 1425.0 334.2 1423.0 334.3 1421.0 334.4 1418.9 334.4 1416.9 334.5 1414.9 334.6 1412.9 334.7 1410.9 334.8 1408.9 334.9 1406.9 335.0 1404.9 335.1 1402.9 335.1 1400.9 335.2 1398.8 335.3 1396.8 335.4 1394.8 335.5 1392.8 335.6 1390.8 335.6 1388.8 335.7 1386.8 335.8 1384.8 335.9 1382.8 335.9 1380.8 336.0 1378.7 336.1 1376.7 336.2 1374.7 336.2 1372.7 336.3 1370.7 336.4 1368.7 336.4 1366.7 336.5 1364.7 336.5 1362.7 336.6 1360.6 336.7 1358.6 336.7 1356.6 336.8 1354.6 336.8 1352.6 336.9 1350.6 336.9 1348.6 337.0 1346.6 337.0 1344.6 337.0 1342.6 337.1 1340.5 337.1 1338.5 337.1 1336.5 337.2 1334.5 337.2 1332.5 337.2 1330.5 337.2 1328.5 337.3 1326.5 337.3 1324.5 337.3 1322.5 337.3 1320.4 337.3 1318.4 337.3 1316.4 337.3 1314.4 337.3 1312.4 337.3 1310.4 337.3 1308.4 337.3 1306.4 337.3 1304.4 337.3 1302.4 337.3 1300.3 337.3 1298.3 337.3 1296.3 337.3 1294.3 337.3 1292.3 337.3 1290.3 337.3 1288.3 337.3 1286.3 337.3 1284.3 337.3 1282.2 337.3 1280.2 337.3 1278.2 337.3 1276.2 337.3 1274.2 337.3 1272.2 337.3 1270.2 337.3 1268.2 337.3 1266.2 337.3 1264.2 337.3 1262.1 337.3 1260.1 337.3 1258.1 337.3 1256.1 337.3 1254.1 337.3 1252.1 337.3 1250.1 337.3 1248.1 337.3 1246.1 337.3 1244.1 337.3 1242.0 337.3 1240.0 337.3 1238.0 337.3 1236.0 337.3 1234.0 337.3 1232.0 337.3 1230.0 337.3 1228.0 337.3 1226.0 337.3 1223.9 337.3 1221.9 337.3 1219.9 337.3 1217.9 337.3 1215.9 337.3 1213.9 337.3 1211.9 337.3 1209.9 337.3 1207.9 337.3 1205.9 337.3 1203.8 337.3 1201.8 337.3 1199.8 337.2 1197.8 337.2 1195.8 337.1 1193.8 337.1 1191.8 337.0 1189.8 337.0 1187.8 336.9 1185.8 336.8 1183.7 336.8 1181.7 336.7 1179.7 336.6 1177.7 336.5 1175.7 336.4 1173.7 336.3 1171.7 336.2 1169.7 336.1 1167.7 336.0 1165.6 335.9 1163.6 335.8 1161.6 335.7 1159.6 335.5 1157.6 335.4 1155.6 335.3 1153.6 335.2 1151.6 335.1 1149.6 335.0 1147.6 334.9 1145.5 334.7 1143.5 334.6 1141.5 334.5 1139.5 334.3 1137.5 334.2 1135.5 334.0 1133.5 333.9 1131.5 333.7 1129.5 333.5 1127.5 333.3 1125.4 333.2 1123.4 332.9 1121.4 332.7 1119.4 332.5 1117.4 332.3 1115.4 332.1 1113.4 331.8 1111.4 331.5 1109.4 331.3 1107.4 331.0 1105.3 330.7 1103.3 330.4 1101.3 330.0 1099.3 329.5 1097.3 329.0 1095.3 328.4 1093.3 327.9 1091.3 327.3 1089.3 326.8 1087.2 326.3 1085.2 325.8 1083.2 325.3 1081.2 324.7 1079.2 324.2 1077.2 323.7 1075.2 323.2 1073.2 322.8 1071.2 322.3 1069.2 321.9 1067.1 321.6 1065.1 321.3 1063.1 321.0 1061.1 320.6 1059.1 320.3 1057.1 320.0 1055.1 319.7 1053.1 319.5 1051.1 319.2 1049.1 319.0 1047.0 318.9 1045.0 318.8 1043.0 318.7 1041.0 318.8 1039.0 319.8 1039.0 327.0 1034.7 327.0 1034.7 240.5 1032.7 234.0 1030.7 227.7 1028.6 222.8 1026.6 219.0 1024.6 215.7 1022.6 212.6 1020.5 209.9 1018.5 207.5 1016.5 205.4 1014.5 203.3 1012.5 201.4 1010.4 199.6 1008.4 197.9 1006.4 196.3 1004.4 194.8 1002.4 193.3 1000.3 191.8 998.3 190.4 996.3 189.0 994.3 187.6 992.2 186.3 990.2 185.0 988.2 183.8 986.2 182.7 984.2 181.6 982.1 180.7 980.1 179.8 978.1 179.0 976.1 178.2 974.1 177.4 972.0 176.6 970.0 175.9 968.0 175.2 966.0 174.6 963.9 174.1 961.9 173.6 959.9 173.3 957.9 173.0 955.9 172.8 953.8 172.6 951.8 172.4 949.8 172.2 947.8 172.0 945.7 171.8 943.7 171.6 941.7 171.4 939.7 171.3 937.7 171.1 935.6 170.9 933.6 170.8 931.6 170.6 929.6 170.5 927.6 170.4 925.5 170.2 923.5 170.1 921.5 170.0 919.5 169.9 917.4 169.8 915.4 169.6 913.4 169.5 911.4 169.4 909.4 169.3 907.3 169.3 905.3 169.2 903.3 169.1 901.3 169.0 899.3 168.9 897.2 168.8 895.2 168.8 893.2 168.7 891.2 168.6 889.1 168.6 887.1 168.5 885.1 168.4 883.1 168.4 881.1 168.3 879.0 168.2 877.0 168.2 875.0 168.1 873.0 168.1 871.0 168.0 868.9 168.0 866.9 167.9 864.9 167.9 862.9 167.8 860.8 167.8 858.8 167.7 856.8 167.7 854.8 167.6 852.8 167.6 850.7 167.5 848.7 167.5 846.7 167.4 844.7 167.4 842.6 167.3 840.6 167.3 838.6 167.2 836.6 167.2 834.6 167.1 832.5 167.1 830.5 167.1 828.5 167.0 826.5 167.0 824.5 166.9 822.4 166.9 820.4 166.9 818.4 166.8 816.4 166.8 814.3 166.8 812.3 166.7 810.3 166.7 808.3 166.7 806.3 166.7 804.2 166.6 802.2 166.6 800.2 166.6 798.2 166.6 796.2 166.6 794.1 166.5 792.1 166.5 790.1 166.5 788.1 166.5 786.0 166.5 784.0 166.5 782.0 166.5Z" fill="#d3d3d3"/><path d="M1424 348 1423 349 1424 350 1425 349ZM1071 348 1068 345 1067 340 1065 339 1060 346 1056 346 1053 349 1054 350 1070 350ZM1160 346 1157 343 1145 343 1144 334 1138 325 1132 333 1123 335 1114 335 1104 330 1102 331 1103 347 1101 349 1102 350 1114 350 1117 346 1124 346 1127 350 1158 350ZM1049 327 1046 325 1040 332 1041 333ZM1194 242 1198 245 1203 242 1212 242 1218 245 1219 244 1214 239 1214 231 1216 229 1224 229 1229 234 1235 228 1236 224 1232 223 1227 225 1218 225 1217 224 1201 224 1196 222 1194 225 1198 229 1207 231 1207 238 1197 239ZM1164 223 1163 222 1146 222 1143 220 1138 222 1114 221 1111 223 1116 229 1116 240 1113 244 1114 245 1119 238 1119 226 1121 224 1132 224 1135 225 1138 229 1138 237 1135 241 1137 243 1149 246 1153 242 1144 233 1144 225 1153 224 1155 226 1160 227ZM928 181 927 182 928 183 929 182ZM903 143 900 144 901 147 904 144ZM951 165 952 167 962 167 979 175 982 175 983 174 980 171 973 169 973 159 975 157 993 157 995 159 995 169 990 174 996 183 1002 184 1005 187 1006 186 1004 183 1005 175 1012 175 1018 180 1019 193 1015 195 1021 202 1033 207 1034 219 1032 222 1038 226 1038 233 1041 240 1040 249 1046 253 1047 262 1053 265 1053 274 1048 275 1046 280 1047 295 1045 315 1047 316 1050 313 1057 313 1064 318 1070 319 1080 329 1085 324 1095 324 1096 325 1097 324 1098 316 1095 310 1095 303 1101 297 1110 296 1132 305 1140 304 1154 305 1157 303 1171 304 1175 309 1175 320 1173 322 1163 321 1158 322 1165 327 1166 333 1174 335 1177 338 1176 348 1178 350 1184 349 1179 341 1179 335 1181 332 1189 331 1202 335 1210 334 1212 332 1210 329 1211 319 1220 319 1222 321 1222 324 1226 332 1225 343 1228 345 1234 337 1244 336 1245 345 1247 347 1250 343 1257 343 1260 346 1264 344 1269 344 1273 340 1285 340 1288 346 1292 342 1295 336 1306 335 1312 342 1314 350 1328 350 1329 349 1327 346 1327 336 1330 333 1340 333 1348 337 1347 349 1353 350 1357 346 1363 345 1365 343 1365 335 1375 326 1388 326 1392 328 1395 334 1395 343 1391 345 1390 348 1392 350 1396 350 1398 348 1407 348 1412 342 1407 338 1407 331 1409 329 1417 328 1417 316 1419 312 1425 308 1425 248 1424 247 1413 248 1409 245 1397 246 1394 244 1389 249 1393 252 1392 259 1384 259 1382 249 1372 249 1365 253 1359 253 1354 249 1353 250 1353 262 1355 266 1355 280 1357 285 1361 289 1360 298 1355 299 1335 299 1333 298 1324 300 1313 300 1307 297 1302 301 1294 301 1288 299 1282 302 1272 302 1267 298 1267 291 1270 286 1270 274 1269 273 1269 256 1270 255 1269 254 1262 256 1253 256 1250 254 1249 248 1240 258 1231 257 1219 258 1215 256 1206 256 1203 259 1191 259 1187 261 1177 261 1172 259 1169 262 1169 271 1167 273 1161 273 1157 267 1157 264 1149 260 1140 260 1134 265 1125 265 1121 262 1113 263 1101 260 1098 257 1090 257 1085 254 1085 246 1077 239 1072 237 1067 239 1056 239 1054 237 1053 229 1041 211 1040 200 1035 191 1033 176 1030 170 1030 164 1024 163 1017 166 1009 166 1008 156 1011 149 1005 144 1002 143 1000 145 1001 146 1000 154 994 154 989 149 987 152 981 152 980 145 988 144 989 141 980 140 975 136 969 140 968 150 966 152 960 152 957 155 963 157 963 163 961 165 955 165 953 159ZM1241 320 1242 319 1253 319 1256 321 1263 320 1264 327 1263 328 1243 328 1241 326ZM1274 320 1276 318 1286 318 1287 327 1284 329 1274 329 1273 328ZM1366 314 1372 313 1373 318 1367 319ZM1335 307 1343 306 1344 315 1336 316ZM1259 307 1265 306 1266 312 1260 313ZM1308 309 1310 306 1313 305 1322 305 1325 307 1325 315 1322 317 1310 317 1308 315ZM1226 290 1237 290 1239 292 1239 302 1236 306 1236 312 1234 315 1226 315 1223 312 1223 303 1225 299ZM1095 289 1096 297 1091 299 1088 302 1089 311 1086 313 1076 312 1074 310 1074 301 1078 291 1081 289ZM1390 287 1400 288 1401 298 1399 301 1390 301 1388 299 1388 290ZM1405 287 1415 286 1417 288 1416 296 1415 297 1405 297 1404 296ZM1169 283 1176 284 1176 290 1174 292 1167 291 1167 285ZM1197 283 1207 282 1208 291 1206 293 1199 293 1197 291ZM1370 276 1373 274 1380 274 1382 276 1381 284 1378 286 1370 286 1369 285ZM1259 269 1266 268 1267 274 1260 275ZM1096 265 1104 264 1105 271 1098 272 1096 270ZM992 134 991 135 992 137 993 136ZM956 119 955 120 957 127 960 124 960 122ZM934 119 933 120 934 121 935 120ZM942 115 941 116 942 117 943 116ZM917 111 920 115 925 117 926 116 918 110ZM897 110 895 117 907 126 909 136 916 136 919 139 919 148 918 151 912 156 902 156 901 150 900 149 896 152 896 161 899 162 903 158 910 158 918 160 925 167 927 165 928 158 938 158 939 156 936 153 929 151 923 144 924 133 921 130 912 128 901 118 900 112ZM896 79 892 80 892 88 887 93 888 94 896 88 897 80ZM899 77 900 80 918 82 920 75 910 74 907 72 901 74ZM892 72 889 69 884 67 873 66 872 67 873 77 870 79 865 79 859 85 853 85 847 91 842 91 841 98 847 99 854 98 859 95 866 95 867 89 872 86 877 80 876 71 878 69 884 69 891 73ZM863 65 867 67 870 66 867 63ZM962 54 960 53 954 57 956 58Z" fill="#fc9c9b" fill-rule="evenodd"/><path d="M825 11h0m91-1h0m38 12h0m-1-1h0m-1-2h0m-6 1h0m-3 3h0m-57-3h0m-14 2h0m-3-1h0m-3-1h0m-2 3h0m0-3h0m-3 1h0m-4 0h0m-5 0h0m0-3h0m-1 5h0m0-6h0m-3 3h0m0-2h0m0-1h0m-3-1h0m0 1h0m-1-1h0m0 2h0m0-3h0m-2-2h0m-1 0h0m-1 6h0m-1-4h0m-2 4h0m-5-4h0m0 8h0m-1-3h0m-1-2h0m-4-2h0m0 4h0m-2 2h0m0-4h0m0 0h0m-3 5h0m0-8h0m-1 2h0m-3 12h0m0-2h0m2 6h0m1-1h0m1-7h0m0 8h0m3-8h0m0 9h0m1-6h0m0 6h0m1-2h0m1-1h0m1-2h0m0 6h0m1 0h0m2-10h0m1 11h0m1-4h0m0 4h0m1-6h0m3-2h0m0 6h0m0-6h0m1 3h0m0-2h0m2-2h0m2-3h0m3 12h0m0-1h0m5-11h0m0 9h0m1 2h0m1-1h0m0 0h0m3-1h0m2 0h0m3-1h0m4 0h0m2 0h0m1-2h0m0 2h0m8 1h0m2-7h0m0 7h0m6-3h0m14-5h0m34 2h0m10 6h0m2-3h0m1 1h0m1-6h0m3 5h0m4 3h0m1 3h0m2-10h0m0 3h0m3 1h0m2 5h0m2-3h0m1-5h0m4 3h0m22 9h0m-5 3h0m-14 0h0m-8-4h0m-2 8h0m-4-4h0m-1 5h0m0-3h0m-1 0h0m0-5h0m-1 3h0m-1-1h0m-1-1h0m0-1h0m-2 8h0m0-10h0m-1 1h0m-1 0h0m0 6h0m-2-7h0m-1 6h0m-1 1h0m0-1h0m0-5h0m-1-2h0m0 8h0m0-6h0m0 2h0m-2 5h0m0-3h0m0 2h0m0-5h0m-1 0h0m-2-1h0m0 4h0m0 4h0m-1-2h0m0-3h0m-1-1h0m0 7h0m-1-3h0m-28-5h0m-16 3h0m-6-1h0m-1-3h0m-2 1h0m-5 6h0m-1-6h0m-1-1h0m-2 6h0m-1 0h0m-1-7h0m-1 9h0m0-4h0m-2 3h0m0-1h0m-3 4h0m-1-7h0m-2 6h0m0-3h0m-3-3h0m-1 3h0m0-3h0m-3 1h0m-2 0h0m0 1h0m-1 5h0m-8-6h0m0 0h0m-1 5h0m-2-2h0m-1-7h0m0 1h0m-3 1h0m-1 7h0m0-8h0m0 8h0m-2-9h0m0 4h0m-1-3h0m-2 3h0m0 5h0m0-1h0m-1-5h0m-2 6h0m-2-4h0m0-4h0m0 4h0m-2-3h0m0 2h0m-1-5h0m0 5h0m-1-4h0m0-1h0m0 2h0m-2-1h0m-1 1h0m-1 2h0m-32 3h0m22 7h0m8 1h0m1 6h0m5-6h0m0-2h0m4-1h0m0 3h0m1 6h0m0-7h0m1-3h0m0 1h0m2 11h0m1-5h0m0 0h0m1-6h0m1 8h0m1-7h0m1-1h0m5 4h0m0-2h0m1 8h0m1-8h0m0-1h0m1 6h0m0-7h0m1 8h0m3 2h0m2-5h0m3-5h0m1 11h0m1-3h0m0 0h0m1-8h0m5 10h0m2-7h0m0 2h0m0 2h0m1-7h0m1 11h0m0-7h0m1-1h0m1 4h0m0-1h0m1 4h0m0-5h0m1 4h0m0 1h0m3 0h0m0-6h0m3 5h0m1 1h0m5-7h0m0-4h0m1 8h0m0 0h0m2 4h0m22-4h0m23 4h0m4-4h0m2-7h0m3 1h0m4 7h0m1 0h0m2-5h0m0 1h0m0 6h0m1-3h0m1 0h0m1 3h0m0-2h0m3 0h0m1-4h0m1-4h0m0 6h0m1 5h0m0-1h0m2-10h0m1 10h0m1-7h0m0 4h0m0-3h0m1 1h0m0 5h0m1 0h0m1 1h0m0-4h0m1 0h0m2 1h0m5-5h0m2-2h0m0 0h0m0 0h0m0 9h0m2 0h0m1-6h0m0 7h0m0-4h0m2 3h0m6-4h0m4 7h0m-4 6h0m-1-1h0m-1 3h0m0-9h0m-2 1h0m-1 6h0m-1-1h0m0-3h0m-1 6h0m0-9h0m0 4h0m-2 5h0m0-5h0m-2 2h0m-1-7h0m-2 5h0m0-5h0m-2 4h0m0 2h0m-1-5h0m0 2h0m-2 3h0m-4-1h0m-1 5h0m-4-6h0m-1-3h0m-1 8h0m0 1h0m0-8h0m0 2h0m-1 1h0m-1 0h0m0-5h0m0 4h0m0 7h0m-3-10h0m0 8h0m0-4h0m-2 0h0m-1 0h0m-1 2h0m0-3h0m0-3h0m-1 7h0m-1 0h0m0-4h0m-1 7h0m0-9h0m-1 1h0m-3 0h0m-1 2h0m-2 0h0m-2 1h0m0-3h0m-2 4h0m-1-2h0m-1 6h0m0-3h0m0 3h0m-2-2h0m0 2h0m-1-5h0m0 0h0m-5 2h0m0 1h0m-2-3h0m-5 0h0m-1-4h0m-2-2h0m0 5h0m-1-2h0m0 8h0m-1-8h0m-1 6h0m-5-9h0m-1 1h0m0 7h0m-1-6h0m-4 4h0m-2-1h0m-1-1h0m-1 1h0m-1 0h0m-1 1h0m-1 5h0m-2 0h0m-1-6h0m0 1h0m0-2h0m-3 3h0m-1-3h0m0 1h0m0 1h0m-1-4h0m-1 10h0m0-7h0m-1-3h0m0-1h0m0 3h0m-2-2h0m0 9h0m0-2h0m-3-1h0m0 3h0m-1-3h0m-1 3h0m0-7h0m0 0h0m-4 4h0m0-6h0m0 4h0m-1 4h0m0-10h0m-2 6h0m0 3h0m0-9h0m-1 7h0m0 0h0m-1-6h0m-1 0h0m-2 10h0m-1-5h0m0 0h0m-1 3h0m0-9h0m-1 6h0m-1 6h0m-2-5h0m-1-5h0m0 3h0m0 6h0m0-6h0m-1 2h0m-2-5h0m-1 9h0m-2-6h0m-1 3h0m0-4h0m-4 7h0m-4 0h0m-2-4h0m-2-4h0m-1 3h0m-2-5h0m0 4h0m-2 4h0m-4 1h0m-2-9h0m-3 7h0m0 1h0m-3 0h0m-2-1h0m-1-6h0m-2-2h0m-1 10h0m-2 1h0m0-7h0m-1-1h0m-1 8h0m-1-5h0m-2-2h0m-2-1h0m-3 8h0m-2-5h0m-1-2h0m-3 2h0m-6-4h0m0 3h0m0 14h0m0-6h0m1 3h0m2 2h0m0-2h0m2 3h0m7 0h0m2 4h0m0-5h0m3 5h0m1 1h0m9-8h0m2-3h0m2 1h0m0 5h0m1 2h0m3-9h0m2 0h0m1 3h0m6-3h0m0 6h0m1 6h0m1-7h0m1-1h0m0-4h0m1 5h0m0 4h0m1-7h0m0 9h0m0-8h0m1-2h0m1 1h0m0 4h0m1-3h0m1 0h0m1 4h0m2-2h0m1 1h0m0 0h0m2 6h0m0-9h0m0 6h0m1-7h0m0 6h0m2 1h0m0 1h0m0-1h0m0 0h0m2-6h0m0 3h0m0 1h0m3-3h0m1 1h0m1 2h0m1-5h0m1 8h0m2-2h0m0-6h0m1 9h0m0 0h0m1-8h0m1 4h0m1-6h0m1 10h0m0-2h0m2-7h0m1 5h0m2-7h0m0 4h0m1-2h0m0 3h0m2 0h0m1-3h0m0-1h0m1 6h0m1-3h0m0 0h0m5 2h0m1-3h0m0 2h0m2-2h0m0-1h0m1 7h0m1-1h0m1 3h0m1-1h0m1-8h0m0 0h0m1 2h0m0-3h0m0 4h0m1-3h0m1 9h0m0-5h0m0 4h0m1-9h0m1 7h0m0-5h0m1 9h0m1-12h0m0 0h0m3 6h0m1 6h0m2-7h0m0 1h0m0 0h0m1-4h0m2-1h0m0 11h0m1-10h0m1 7h0m1 0h0m4-7h0m0 9h0m2-1h0m2-9h0m3 11h0m0-9h0m0-3h0m0 2h0m1 1h0m2 4h0m0-5h0m1-2h0m0 2h0m0 5h0m1-3h0m0 5h0m1-1h0m0-6h0m1 4h0m2-5h0m0 2h0m1 6h0m0 0h0m8-5h0m1 6h0m3-10h0m3 1h0m4 5h0m2 4h0m0-7h0m0 0h0m2 4h0m3-7h0m1 7h0m3 0h0m0-2h0m1-2h0m3 9h0m0-5h0m3 2h0m5-1h0m3 1h0m1-2h0m1 1h0m2-8h0m2 1h0m0 10h0m1-3h0m0-3h0m2 7h0m0-5h0m1-5h0m2-1h0m1 0h0m1 0h0m0 0h0m3 4h0m1 3h0m10 16h0m0-6h0m-3 5h0m-2 0h0m0 0h0m0-5h0m-1 4h0m-3-5h0m-1-2h0m0 5h0m-1-4h0m0 4h0m-1-1h0m-3-1h0m-3 2h0m-2-1h0m0 3h0m-6 0h0m-3-5h0m-3-3h0m-1 9h0m-1-8h0m-2-1h0m0 2h0m0-1h0m-2-2h0m-2 10h0m-1-9h0m-1 4h0m-2 4h0m-3-2h0m-1-1h0m-1 1h0m-9 3h0m-6 1h0m-1-7h0m0 0h0m-1 0h0m-3 5h0m-2-9h0m-2 7h0m-2-3h0m0 5h0m-2-10h0m-1 0h0m0 8h0m0-4h0m-1 7h0m-1-11h0m-1 12h0m-1-6h0m0-5h0m0 10h0m-2-2h0m-1-1h0m0-8h0m-4 2h0m-2 8h0m-2 0h0m0-2h0m-1-4h0m-1 7h0m0-9h0m-2 1h0m-1 5h0m0 1h0m0-2h0m-1-1h0m0 2h0m-1-4h0m0 5h0m0-1h0m0-6h0m0 10h0m-2-4h0m-2-2h0m-1 4h0m-2-10h0m-1 11h0m-1-8h0m0 4h0m0 4h0m-1-8h0m0 2h0m-2 4h0m0 1h0m-1-8h0m-1 6h0m-1-3h0m0 1h0m-1-6h0m-2 0h0m0 1h0m-1 0h0m-1-1h0m-1 6h0m0 0h0m-1 0h0m0 4h0m-2-1h0m-1 2h0m0-10h0m0 6h0m-4-4h0m-8-2h0m-4-1h0m-9 6h0m-1-5h0m-1 6h0m-1-7h0m0 7h0m-1-1h0m-1-1h0m0-5h0m-1 3h0m-1-2h0m-1 9h0m-1-2h0m-4-1h0m0 0h0m-2-7h0m-1 6h0m0 3h0m-1-7h0m-8 4h0m-2 4h0m-1-6h0m-2 5h0m-1 0h0m-2 0h0m-3-1h0m0 0h0m-2 1h0m-2-3h0m-1 1h0m-1-2h0m-3 5h0m-1-7h0m0-1h0m-3 4h0m-3-6h0m-2 9h0m0-1h0m-2-3h0m-2 1h0m-1-1h0m-1 4h0m0-1h0m-1-6h0m-1 7h0m-1-1h0m-1-8h0m0 11h0m-1-1h0m-1 14h0m3-1h0m1-8h0m2-2h0m0 2h0m1 7h0m2-5h0m2 2h0m2-6h0m2 2h0m7 2h0m8 0h0m9 6h0m0-8h0m2 2h0m0 0h0m1 4h0m0 2h0m0-5h0m0 3h0m7-6h0m1 0h0m1 6h0m1-3h0m2 1h0m1-4h0m0 2h0m1 4h0m1-8h0m1 4h0m1-1h0m0-1h0m0 1h0m2 8h0m0-6h0m2-1h0m1-1h0m0 2h0m0-1h0m1 3h0m0-1h0m1 4h0m0-8h0m1 7h0m2-1h0m2-3h0m1-2h0m1-1h0m1-1h0m1 5h0m1-1h0m1-3h0m1-2h0m0 3h0m3 0h0m1-2h0m2 9h0m1 1h0m0-11h0m0 1h0m1 9h0m0-4h0m3-4h0m0 6h0m1-2h0m1-5h0m1 7h0m1-3h0m1 5h0m0-7h0m0-1h0m1 2h0m0 2h0m0 3h0m1-4h0m0 2h0m1-1h0m1 0h0m2 0h0m0 3h0m2-10h0m0 7h0m2-4h0m0 7h0m1-7h0m2 3h0m0 1h0m1 4h0m0-8h0m0 6h0m0 3h0m2-11h0m1 8h0m0-1h0m0 4h0m0-9h0m1 6h0m2-3h0m0 5h0m0 0h0m2 0h0m0 1h0m1-6h0m0 6h0m1 0h0m1-1h0m0 0h0m3-9h0m0 5h0m1 3h0m0-2h0m1 4h0m1-4h0m2-3h0m0 5h0m2-6h0m1 1h0m0-1h0m0 0h0m2 1h0m1 7h0m2-4h0m2-1h0m2-3h0m4-2h0m0 9h0m3-4h0m0-4h0m3-3h0m5 1h0m4 8h0m0-1h0m1-4h0m5 4h0m4-7h0m2 6h0m1-1h0m2 4h0m5-2h0m0 4h0m1-11h0m1 2h0m9 7h0m9 0h0m1-5h0m1-5h0m2 12h0m3-7h0m2 4h0m2 3h0m1-11h0m1 1h0m9 5h0m1 4h0m2-6h0m6-1h0m7 7h0m3-5h0m4 3h0m1-4h0m2 2h0m3-3h0m4 8h0m-2 3h0m-2 3h0m-1 1h0m-6-4h0m-2 3h0m0-5h0m-6 0h0m0 4h0m-1 6h0m-2-3h0m-1-2h0m-7-4h0m-7 9h0m-1-5h0m-5 0h0m-1 5h0m-4-6h0m-2 4h0m-2-2h0m-6-1h0m-1-6h0m-3 3h0m0 2h0m-6-4h0m-1 7h0m0-5h0m-3 5h0m-3-2h0m-4 3h0m-2-2h0m0 4h0m0-5h0m0 2h0m0-4h0m-1 3h0m-1 4h0m-1-1h0m0-9h0m0 6h0m-3 0h0m-2-1h0m0 5h0m-1-5h0m0-3h0m0-1h0m-1 2h0m0 3h0m0-3h0m0-4h0m0 4h0m-1 4h0m0-5h0m-1-2h0m0 6h0m-2-1h0m0-1h0m0 2h0m-1 5h0m-3-5h0m-1 5h0m-1-4h0m-2-3h0m-1 2h0m0-5h0m-3 1h0m0 2h0m-2 0h0m0 5h0m-2-1h0m-1 2h0m0-4h0m-2-7h0m-2 9h0m0-8h0m0 11h0m-1-8h0m-1 1h0m0 2h0m0 2h0m-1-7h0m0 2h0m0 5h0m-1-5h0m-1 2h0m-1-5h0m0 3h0m0 3h0m-1-1h0m-2 2h0m0-2h0m0-1h0m-1 4h0m-2-2h0m-1-2h0m-1 5h0m0-6h0m-1 7h0m-2-6h0m-1 2h0m-1-4h0m-1-2h0m0-1h0m-2 3h0m-1-2h0m-2 10h0m-1 0h0m-1-7h0m0-1h0m-4 6h0m0 3h0m-1-5h0m-2-6h0m-2 3h0m-2-1h0m-2 2h0m0-2h0m-1 9h0m-1-2h0m-1-2h0m-5-2h0m-6 5h0m-3-8h0m-1 5h0m-2 1h0m-1 0h0m-2-3h0m-1-1h0m-1 6h0m-1-3h0m-1-5h0m0 5h0m0 0h0m0 2h0m-9-5h0m-4 1h0m-1-6h0m-1 3h0m-1 1h0m-1 4h0m-4-2h0m-7-4h0m-5 0h0m-3 6h0m-2-6h0m0 2h0m0-2h0m0 7h0m-4-9h0m-2 5h0m-17-3h0m-4 3h0m-1-2h0m-3-1h0m-1 1h0m1 19h0m1-3h0m1 4h0m4 1h0m4-12h0m5 10h0m1-3h0m5 4h0m1 1h0m2-5h0m3-7h0m1 6h0m12 3h0m7 1h0m1-5h0m0-2h0m1 4h0m2 4h0m1-9h0m2 2h0m2 2h0m2 2h0m0-5h0m0 6h0m1-7h0m4 2h0m1-3h0m1 10h0m6-2h0m0 2h0m2-11h0m4 11h0m2 0h0m1-7h0m0-3h0m2 0h0m0 10h0m14-9h0m4 4h0m1-2h0m2 5h0m1 2h0m1-9h0m4 9h0m0-4h0m0-5h0m1-2h0m1 6h0m0-3h0m1-2h0m1 9h0m2-8h0m0-1h0m3 10h0m1-7h0m5 5h0m1 0h0m0-7h0m1 1h0m2-2h0m0 4h0m1 1h0m2 3h0m0-7h0m0-1h0m1 6h0m1-3h0m0 3h0m3 2h0m0-2h0m1 3h0m0 1h0m1-8h0m1-3h0m1 8h0m0 3h0m2-7h0m1 7h0m1-3h0m0-1h0m0-5h0m0 8h0m1-2h0m1-5h0m2 8h0m0-6h0m1 2h0m2 0h0m0-6h0m1 2h0m0 9h0m1-6h0m1-2h0m0 1h0m4-5h0m0 11h0m1-8h0m2 6h0m3-5h0m1-1h0m2-3h0m1 9h0m1 2h0m0-8h0m0-1h0m1 9h0m0-2h0m2-6h0m0 4h0m4 4h0m1-5h0m1 4h0m0-9h0m1-1h0m1 12h0m1 0h0m1-1h0m1-9h0m1 8h0m1-3h0m2-4h0m1 0h0m1 4h0m1-3h0m0-4h0m2 9h0m1-6h0m1-2h0m0 11h0m3-4h0m0 4h0m1-4h0m3 1h0m1 3h0m3-8h0m2 6h0m1-1h0m0-1h0m0-4h0m2 5h0m1 0h0m0 1h0m0-8h0m1 10h0m1-7h0m7 2h0m1-3h0m0 7h0m1-6h0m2 0h0m0 7h0m5-8h0m0 8h0m0-10h0m6 2h0m7 1h0m2 3h0m6-1h0m4-2h0m1 1h0m-2 18h0m-1-9h0m-2 8h0m-2-9h0m0 9h0m-2-2h0m-1-5h0m-3 1h0m0-5h0m-3 3h0m-9 8h0m-5-3h0m0 0h0m-2 3h0m-1-1h0m-2 2h0m-3-8h0m0 2h0m0-3h0m-1 2h0m-1-4h0m-1 11h0m0-9h0m0 9h0m-1-7h0m0-3h0m-1 4h0m0-2h0m-1-3h0m-1 9h0m-1-6h0m-2 3h0m-2 0h0m0-4h0m0 2h0m-5 3h0m0 0h0m-2-5h0m-2 1h0m0 4h0m-1-2h0m-8-2h0m-2 4h0m-1-5h0m0 7h0m0 0h0m-1-2h0m-2 2h0m0-6h0m0 6h0m0-6h0m-1 4h0m-7-7h0m0 11h0m-1-4h0m-2-3h0m0-1h0m-1 0h0m-1-2h0m-1 5h0m-1-1h0m-1-5h0m-2 5h0m-1-4h0m-2 3h0m0-3h0m0 3h0m-1 3h0m-2-7h0m-1 10h0m-1-10h0m-3-1h0m-3 1h0m-1 5h0m0-6h0m-1 3h0m0 7h0m-1 1h0m0-8h0m-1-1h0m-1 1h0m0-1h0m-1-2h0m-2 7h0m0-7h0m-2 8h0m0-3h0m-7 0h0m-1 0h0m-1 5h0m-1-2h0m-2-1h0m-1 2h0m-1-2h0m-1 1h0m-1 4h0m-1-5h0m0-6h0m-2 7h0m0 1h0m0-1h0m-1-1h0m-1 2h0m-1 2h0m-1-1h0m-1 2h0m-1-8h0m0 5h0m-1-6h0m0-1h0m0 3h0m-1 4h0m-2-6h0m-2 9h0m0-2h0m-3-2h0m0 3h0m-6-6h0m-2-4h0m-2 0h0m0-1h0m0 6h0m-3-3h0m-3-2h0m-1 2h0m-1-1h0m-13 8h0m0-10h0m-2 9h0m-3-7h0m-1 2h0m-4 7h0m-17 0h0m-7-5h0m-3 1h0m-1 5h0m-1-6h0m0-1h0m-1 4h0m-1-7h0m-5-1h0m-2 1h0m-3 5h0m-1 1h0m-14-5h0m-2 9h0m-6-7h0m-1 1h0m3 15h0m5-2h0m0-1h0m3 1h0m1-3h0m10 2h0m2 2h0m2 4h0m2-5h0m2 0h0m3-3h0m3 0h0m3-1h0m4 1h0m1 1h0m3-4h0m0 3h0m5 0h0m5 4h0m2-2h0m6 1h0m3-4h0m6 6h0m5-1h0m1 3h0m1-10h0m1 1h0m2 4h0m7-2h0m3-1h0m3 1h0m1 5h0m2 0h0m9-1h0m1 4h0m1-2h0m0 0h0m1-6h0m0 4h0m0-3h0m2 1h0m2-4h0m2 9h0m2-6h0m1 4h0m1-5h0m2-4h0m1 11h0m0-4h0m0-2h0m0-1h0m2-1h0m4 3h0m0-6h0m0 5h0m1 3h0m1 2h0m0-4h0m1 2h0m0-3h0m1-1h0m0 4h0m0-7h0m1 5h0m9-5h0m1 2h0m1-2h0m0 3h0m2-3h0m1 6h0m1-3h0m1 2h0m3 4h0m1 1h0m4-3h0m1-5h0m1 8h0m3-7h0m3 5h0m0-3h0m2 4h0m1-7h0m0 1h0m1 5h0m1-6h0m0 1h0m1 7h0m2-10h0m0 3h0m2-3h0m0 1h0m2 6h0m1-1h0m1-5h0m1-1h0m2 1h0m0 1h0m12 4h0m1 1h0m0 0h0m1-7h0m0 0h0m3-1h0m1 7h0m0-4h0m0 5h0m1-1h0m1-6h0m0 4h0m0-4h0m0 3h0m1-3h0m3 6h0m1-5h0m0 2h0m1-3h0m0 3h0m1 0h0m0 0h0m2 0h0m0 1h0m0-4h0m1 8h0m0 0h0m0-7h0m1 8h0m2-2h0m0-1h0m0-1h0m7-5h0m1 2h0m0 9h0m1-1h0m0-7h0m1 3h0m1-6h0m0 6h0m0-5h0m5 8h0m1-7h0m1-3h0m0 0h0m6 3h0m4 0h0m5 8h0m0-6h0m1 5h0m-2 7h0m-1-3h0m-1 3h0m0 0h0m-1 2h0m-1-2h0m-1-2h0m-3 0h0m-3 4h0m0-6h0m-1 0h0m0 5h0m-1 1h0m0 1h0m-2 1h0m-1 2h0m0-3h0m0-1h0m0 2h0m-2-7h0m-2 8h0m-2-2h0m0-8h0m0 5h0m-1 2h0m-2 2h0m-14 0h0m0 0h0m0 2h0m-1-2h0m-3 2h0m0-8h0m-3 6h0m-1-8h0m-2 5h0m0-4h0m-1 3h0m0-1h0m-2-1h0m-1 6h0m0-6h0m-1 4h0m-1-6h0m-1 4h0m-1-3h0m-14 6h0m0 0h0m-1 1h0m-1 1h0m0 0h0m-3-5h0m-1-4h0m-1 7h0m-1-3h0m0 6h0m-1-9h0m0 7h0m-1 3h0m0 0h0m-2-1h0m-1-5h0m-1 4h0m-4-8h0m-3 7h0m-1-5h0m0 1h0m-1 0h0m0 2h0m-1-4h0m-1 5h0m-6-2h0m0 4h0m0 1h0m0-9h0m0 7h0m0 0h0m-2 0h0m0 1h0m0 1h0m-1-2h0m0-6h0m-2 8h0m-4-2h0m-2 2h0m0-2h0m0 1h0m-1-1h0m-1-1h0m-2-1h0m-1-4h0m0 0h0m-3 8h0m-1-3h0m0 0h0m-1-4h0m-2 0h0m0 3h0m-1-4h0m0 0h0m-3 2h0m0-5h0m0 5h0m-1 4h0m-1-1h0m0 3h0m-4-1h0m-1 0h0m-1-6h0m-1-1h0m-1 6h0m0-5h0m-2 3h0m0 3h0m-1-3h0m0-4h0m-1 2h0m-1-1h0m-1-4h0m0 10h0m0-5h0m-2 3h0m-5-4h0m0-3h0m0 8h0m-13-4h0m-1-5h0m-3 8h0m-3-4h0m-1-1h0m-1 1h0m-1-3h0m-4 0h0m-2-1h0m0 7h0m-1-1h0m-1-5h0m-6 3h0m-5 6h0m0-5h0m-5-2h0m-1 7h0m-1-6h0m-5 8h0m0-5h0m-1 0h0m-4 2h0m-2-5h0m-3 6h0m-1-4h0m-4-6h0m-1 3h0m-1 4h0m-3 0h0m0 4h0m0-1h0m-10 0h0m-3-3h0m-5 9h0m1 7h0m39-4h0m15-4h0m0 1h0m4 5h0m19-9h0m10 7h0m1 2h0m2 3h0m5-6h0m8-5h0m3 2h0m0-3h0m1 1h0m0 5h0m5 4h0m1-1h0m2-1h0m6 4h0m0-7h0m2-3h0m1 4h0m0 4h0m1-2h0m0 0h0m5-6h0m0 6h0m1-7h0m0 6h0m1-7h0m1 10h0m0 0h0m1-1h0m0 0h0m2 2h0m3-6h0m0 3h0m2-7h0m2 6h0m1-5h0m1 7h0m0 0h0m0-5h0m2 8h0m0-12h0m2 6h0m5-3h0m2 0h0m0 8h0m1-11h0m1 12h0m2-7h0m0-5h0m1 5h0m0-3h0m1 3h0m0-4h0m0 1h0m0 5h0m0-5h0m0 1h0m2 8h0m2-6h0m4-4h0m1 10h0m1-7h0m2-3h0m2 4h0m1 3h0m1-7h0m1 11h0m0-7h0m1 2h0m1 2h0m2-2h0m1 1h0m0 0h0m0-2h0m1-4h0m0 4h0m1-1h0m0 2h0m1 2h0m1-7h0m1 7h0m2 1h0m1 0h0m0 2h0m0-4h0m1 2h0m0-4h0m1 2h0m1-4h0m0 0h0m1 4h0m0 3h0m1-11h0m1 9h0m1-3h0m1 5h0m1 1h0m0-3h0m0-7h0m14 5h0m1 4h0m1-2h0m0 1h0m1-1h0m2-2h0m4 4h0m0-4h0m18-3h0m1 1h0m1-3h0m0 2h0m13 3h0m-7 13h0m0-3h0m-3 6h0m0-9h0m0 8h0m0-9h0m0 9h0m-2-8h0m0 3h0m0 7h0m-1-7h0m-15-2h0m-1 2h0m-1-4h0m0 6h0m-1-4h0m0 1h0m0 3h0m-1-6h0m-1 6h0m0-5h0m0-2h0m0 6h0m-1-3h0m0 1h0m-1 6h0m0-1h0m-1 1h0m-1 0h0m0-3h0m-2-2h0m0 4h0m0-4h0m-2 4h0m-1 0h0m-1-7h0m0 4h0m-4-2h0m-2 3h0m-1-2h0m-3-4h0m-2 0h0m0-1h0m-1 4h0m-1 1h0m0 1h0m-1-1h0m-1 6h0m0-8h0m-3 6h0m-6-7h0m-5 8h0m-4-5h0m-3-5h0m-3 10h0m-2-5h0m0 0h0m-2 1h0m-12-3h0m-4 9h0m-7-8h0m-1 3h0m0-5h0m-1 5h0m-2 2h0m0-7h0m-1 9h0m0-2h0m-1-1h0m0-6h0m-1 0h0m-1 6h0m-1 2h0m0-2h0m-1-5h0m0-1h0m0 9h0m-2 0h0m0-2h0m0 3h0m-2-10h0m-1 9h0m-1-4h0m0-3h0m0 8h0m0-7h0m-2 4h0m0 1h0m-1-1h0m0 0h0m0-3h0m-1-4h0m0 4h0m-1-1h0m-1 0h0m-1 5h0m-2-1h0m-1-8h0m0 1h0m-2 4h0m0-2h0m-3-1h0m-5 1h0m-25 5h0m-13 1h0m-7-8h0m-10 2h0m-29 1h0m-28 9h0m3 6h0m3-3h0m0 4h0m1 3h0m4-10h0m14 7h0m27 3h0m2-8h0m11-2h0m1-1h0m2 9h0m4-8h0m15 4h0m35 1h0m2-3h0m2 7h0m0-7h0m1 3h0m3 4h0m2-5h0m3 4h0m4-7h0m5 2h0m2 3h0m1-7h0m2 2h0m0-1h0m2 4h0m0-4h0m0 8h0m2-4h0m1-4h0m29 1h0m12 9h0m0-4h0m7-6h0m0 0h0m3 6h0m5 2h0m5-8h0m2 3h0m2-5h0m0 0h0m4 3h0m2 0h0m2 3h0m0 0h0m0-6h0m1 11h0m1-8h0m1-2h0m18 1h0m1 0h0m1 6h0m1-6h0m1-1h0m0 4h0m1 5h0m0-10h0m0 10h0m1 1h0m76 0h0m6 0h0m5-1h0m2-2h0m2 2h0m0-4h0m105 15h0m-8 0h0m-37-1h0m-3 1h0m-3-3h0m-15 4h0m-1 0h0m-1-4h0m0 6h0m-10-11h0m0 1h0m-8-1h0m-1 6h0m-7 2h0m-1 1h0m-5 1h0m-3-7h0m-2-4h0m0 9h0m-1 2h0m-1-9h0m-1 6h0m-2 2h0m-3 2h0m-3-8h0m-1 5h0m-2 0h0m0 3h0m-3-2h0m-3-3h0m-3-1h0m0-3h0m-11 9h0m-1-5h0m-3 1h0m-12 3h0m-26-10h0m0 1h0m-9 9h0m-4-7h0m0 4h0m0-1h0m-2 3h0m-3-9h0m-5 9h0m-3-7h0m-1 0h0m-1 0h0m0 9h0m-3-5h0m0-7h0m-1 11h0m-1-1h0m-1-5h0m-1-2h0m-2 3h0m0-5h0m0 9h0m-2-4h0m-1-5h0m-2 1h0m-2-1h0m-5-1h0m-1 4h0m-5 5h0m-1-3h0m-2-5h0m-2 5h0m-2 4h0m-3 2h0m-2-1h0m0-4h0m-6 3h0m-1-6h0m-1 5h0m-4-7h0m-19 2h0m-16 5h0m-3 2h0m0 0h0m-5 1h0m-8-11h0m-3 0h0m-3 9h0m-15-6h0m-2-3h0m-2 10h0m-3-6h0m-2 1h0m-25-5h0m-18 1h0m-2 5h0m-6-6h0m-11 6h0m-11 0h0m-24-7h0m-4 22h0m21-6h0m11-4h0m10 4h0m5 7h0m2-11h0m3 8h0m14 2h0m32-6h0m31 2h0m9 5h0m14-9h0m17 1h0m1-1h0m14 2h0m3-3h0m4 3h0m1-1h0m11 6h0m3-4h0m1-1h0m3 5h0m1 3h0m5-3h0m4-4h0m3 5h0m4 0h0m1 2h0m3-11h0m2 6h0m0 0h0m0-4h0m2 8h0m2-8h0m12-2h0m3 4h0m2-1h0m0 0h0m0 3h0m1-4h0m0 3h0m0 5h0m0-7h0m0 1h0m2-3h0m2 0h0m1-1h0m1 5h0m0 6h0m1-5h0m1 0h0m1 2h0m5-2h0m1 5h0m2-5h0m3 2h0m0 3h0m0-1h0m0-4h0m0-1h0m11 1h0m0 1h0m0-5h0m0 8h0m5 0h0m1-6h0m1 5h0m1-1h0m0-2h0m0 0h0m1 1h0m0 0h0m1 1h0m3 1h0m1-2h0m0-7h0m2 1h0m3 7h0m3-4h0m2-4h0m0 2h0m1 8h0m0-3h0m0 2h0m1-5h0m0 2h0m1-3h0m1 6h0m0-6h0m1 5h0m1 0h0m0-4h0m1-2h0m1 0h0m5 3h0m0-3h0m1 1h0m3 7h0m0-1h0m1-1h0m1-5h0m0 4h0m2 3h0m0-8h0m1-1h0m2-2h0m0 5h0m1 5h0m0-7h0m1 7h0m1-8h0m0 10h0m1-10h0m0 0h0m1 3h0m4-2h0m1 1h0m2-1h0m1 8h0m5-1h0m0 0h0m1-1h0m2-6h0m1-1h0m0 8h0m0-4h0m1 0h0m0 6h0m1-6h0m1-1h0m1-4h0m0 3h0m2 7h0m0 0h0m1-6h0m2-5h0m1 12h0m1-3h0m1-1h0m2 0h0m1-3h0m0 4h0m1 2h0m1-2h0m0-6h0m1 4h0m1 4h0m0-11h0m0 8h0m1 2h0m0-10h0m1 8h0m2 1h0m1-6h0m0 6h0m1 0h0m0-2h0m1-6h0m0 5h0m1 0h0m1 3h0m1-3h0m0-1h0m4 3h0m2-1h0m2 2h0m2-6h0m0 5h0m1 3h0m1-6h0m1 7h0m1-8h0m1-4h0m1 1h0m1 3h0m0 3h0m2-1h0m3 1h0m3 0h0m3 0h0m1-1h0m1-1h0m1 4h0m1-1h0m1-5h0m1 5h0m0 0h0m2 1h0m4-5h0m2 4h0m0-4h0m1-1h0m0 3h0m0 2h0m1-5h0m0 4h0m1 2h0m7-6h0m1-2h0m1 3h0m0 2h0m1 2h0m1-2h0m1-1h0m0-1h0m0 1h0m1 7h0m0-1h0m0-2h0m1 3h0m1-9h0m0 4h0m2-4h0m1 3h0m0 2h0m1-4h0m5 5h0m171 11h0m-3 2h0m-3 0h0m-2-4h0m0 4h0m-6 2h0m-3-3h0m-4-5h0m0 6h0m-4 2h0m-2 0h0m-2-1h0m-2-5h0m-1 3h0m-1-1h0m-3 2h0m0-2h0m0 3h0m-1-3h0m-1 2h0m-2 1h0m-5 1h0m-1-1h0m-3-3h0m0 0h0m-3 3h0m-3 0h0m-3-1h0m-3-4h0m0-3h0m0 8h0m-1 1h0m-9-7h0m-1 5h0m-2 1h0m-8-3h0m-1 0h0m-4-1h0m0 1h0m-11 4h0m-8-5h0m-3 3h0m-6-1h0m-1 2h0m0-1h0m-14 1h0m-4 0h0m-3 0h0m0 1h0m-12-1h0m-1-5h0m-4 3h0m-1-1h0m0-3h0m-2 2h0m0 3h0m-4 2h0m-2-4h0m-1-2h0m-1 6h0m-1 0h0m-1-8h0m-2 4h0m-1-1h0m-4 4h0m0-2h0m-1-1h0m-3 3h0m-1-7h0m-1-4h0m-1 4h0m-2 0h0m-4-1h0m0 1h0m0-1h0m-1 3h0m-1 2h0m0-2h0m-2 2h0m0-2h0m0 4h0m-1-1h0m-1 2h0m-1-6h0m0 1h0m-1 4h0m0-6h0m-3 2h0m-1 4h0m0 2h0m-2-4h0m0-2h0m-1 0h0m-1 2h0m-1 4h0m-2-6h0m-1-2h0m0 6h0m-1-4h0m-7 5h0m0-2h0m0-4h0m-1 4h0m0-7h0m-2 1h0m0 3h0m-1-4h0m0 6h0m-1-5h0m0 2h0m-2 6h0m0-8h0m-1-2h0m0 8h0m-1-3h0m0-3h0m0-2h0m-1 9h0m-1-10h0m-1 0h0m-1 6h0m0-4h0m-1 8h0m-1-1h0m-2-6h0m0-2h0m-5 0h0m-1 11h0m-1-4h0m-1-1h0m0 1h0m-1-8h0m0 11h0m0-7h0m-2-2h0m0-2h0m-3 5h0m0-4h0m-1 4h0m-1 4h0m-1 1h0m-1 0h0m0-9h0m-2 1h0m-2 3h0m-1 7h0m-2 0h0m-1-9h0m0 0h0m-1 3h0m0-3h0m0 7h0m-1-10h0m-1 6h0m-1-4h0m-3 3h0m-1 1h0m0-3h0m-4 9h0m0-9h0m-2 4h0m-1-4h0m-2 0h0m0 2h0m-2-1h0m0-1h0m0-2h0m-8 0h0m-1 7h0m0 3h0m0-5h0m-1-3h0m0 5h0m-1 1h0m-6 1h0m0 1h0m-2-6h0m-4-1h0m0 3h0m-1 5h0m-1-6h0m-1-1h0m-2 2h0m-1-4h0m0 6h0m0-6h0m0 7h0m0-1h0m-1 1h0m-2-8h0m-1 3h0m0 0h0m0 2h0m-1-6h0m-4 1h0m-2 4h0m-1 0h0m-3-5h0m-3 6h0m-4 3h0m-3 0h0m-1-6h0m-1 2h0m0 0h0m-1 5h0m-1 0h0m0-8h0m-1 3h0m-1 6h0m0-3h0m-3-6h0m0 6h0m-1-7h0m-2 4h0m0 4h0m-1 0h0m-3-1h0m-2-6h0m-1 1h0m-1-2h0m-1 7h0m-2-8h0m-1 8h0m-1-6h0m0 9h0m0-5h0m-1 1h0m0-5h0m0-2h0m-1 8h0m-1 2h0m-3-5h0m0 4h0m-1 1h0m-2-2h0m-1-8h0m0 9h0m-2-5h0m0-3h0m-13 9h0m-4-5h0m0 5h0m-3-2h0m-4 1h0m0 1h0m-7-8h0m-5 1h0m-1 2h0m-2 3h0m-1-4h0m-5-3h0m0 7h0m-1-5h0m-6-1h0m-2 4h0m-2 4h0m0-4h0m-5-6h0m-2 0h0m-3 1h0m-7 7h0m-17-8h0m-41-1h0m-11 2h0m-16 2h0m-16 1h0m-10 5h0m-1-6h0m-21 0h0m-5-2h0m-3 1h0m-10 6h0m-1-8h0m-27 1h0m2 12h0m13 8h0m5-1h0m63-2h0m1 1h0m14-6h0m29-1h0m77 1h0m1-1h0m0 1h0m1 8h0m2-3h0m1 2h0m4-1h0m0 0h0m4-5h0m2 6h0m15-4h0m1 4h0m3 2h0m1 1h0m39-11h0m0 0h0m1 0h0m0 1h0m3 1h0m0-3h0m2 8h0m3 2h0m1-4h0m0-1h0m4-3h0m1 7h0m2 0h0m1-9h0m1 11h0m2 1h0m6-9h0m1 2h0m1-2h0m2 5h0m0-2h0m1-3h0m0 4h0m1 2h0m0-4h0m0 5h0m0-2h0m1-1h0m2 4h0m0-6h0m2 1h0m10-2h0m1 0h0m2 0h0m1-2h0m0 2h0m1-1h0m1-2h0m1-1h0m3 3h0m1 4h0m1-2h0m3-1h0m5 5h0m2 0h0m1 2h0m2-1h0m0-2h0m2 1h0m1-5h0m2 7h0m2 1h0m1-6h0m0 4h0m1-4h0m3 3h0m0-1h0m4-2h0m2-5h0m1 0h0m7 2h0m2-1h0m7 2h0m1 4h0m0-5h0m0 2h0m1 2h0m1-3h0m2 2h0m1-3h0m1 9h0m0-10h0m2 3h0m1 2h0m2-1h0m0 1h0m1 2h0m0-5h0m0 8h0m1-5h0m0 4h0m1-1h0m1-5h0m0 6h0m5-7h0m0 2h0m0-2h0m1 1h0m3 3h0m0-4h0m0 3h0m2 1h0m0 1h0m1-5h0m0 1h0m0 3h0m1-1h0m0-7h0m1 9h0m2-3h0m1-5h0m1 1h0m1 1h0m1-2h0m0 9h0m2-8h0m2 1h0m1 2h0m0-4h0m0 1h0m0 6h0m1-8h0m0 8h0m0 0h0m1 0h0m0-4h0m1-4h0m3 9h0m1-3h0m7-4h0m2 8h0m1 1h0m3-2h0m1-4h0m1-2h0m0 4h0m1-3h0m0 6h0m2-9h0m0 6h0m0 1h0m2-7h0m0 7h0m0-7h0m1 7h0m0 0h0m0-1h0m1-1h0m1-1h0m0 4h0m5-9h0m1 2h0m0 8h0m1-4h0m3 4h0m1-3h0m1-3h0m0 3h0m2-1h0m1-2h0m0 7h0m0-3h0m1 1h0m0-3h0m2-4h0m1 4h0m0-2h0m1-3h0m1 7h0m1-4h0m0 0h0m1 4h0m5-4h0m2-1h0m1 8h0m0-3h0m2-7h0m0 1h0m1 9h0m1-6h0m1-3h0m1 3h0m0 5h0m0 1h0m1-7h0m0 1h0m2 6h0m3-7h0m0 5h0m1 2h0m2-10h0m1 10h0m0-11h0m2 3h0m0 5h0m1 1h0m1 0h0m3-1h0m0 3h0m2-7h0m1-1h0m1 5h0m2-6h0m0-2h0m3 3h0m2 6h0m1-2h0m2 1h0m2-3h0m0 3h0m4 1h0m1-6h0m3 1h0m0-3h0m1 1h0m1 5h0m0-5h0m1-2h0m4 3h0m4-2h0m1 10h0m2-8h0m0 2h0m0-4h0m1 4h0m0 3h0m1 2h0m0-5h0m3-3h0m0 1h0m0 2h0m0-1h0m2-2h0m0 3h0m0-2h0m3 9h0m0-4h0m1 2h0m0-8h0m0 9h0m1-8h0m1-1h0m1 0h0m0 8h0m2 1h0m1-2h0m3 1h0m0-1h0m1-7h0m2 3h0m0 1h0m2-1h0m2 3h0m0 1h0m0-8h0m5 8h0m0-8h0m0 4h0m1-5h0m0 10h0m0-4h0m1 1h0m1 3h0m0 2h0m0-7h0m3-3h0m0 4h0m0 4h0m0-5h0m3-1h0m1-3h0m0 4h0m1 0h0m3 0h0m0 0h0m1 1h0m0-2h0m0 1h0m1 0h0m1 0h0m1 2h0m2-2h0m11 0h0m0 1h0m1 2h0m4 1h0m1-3h0m1 1h0m4-5h0m0-2h0m1 11h0m0-5h0m0 2h0m1-3h0m0-4h0m1 9h0m-1 11h0m0 0h0m0-8h0m0-1h0m-33 1h0m-1 6h0m-1-1h0m0-2h0m-3-1h0m0-3h0m-1 1h0m-2 5h0m0 2h0m-2-5h0m-1-2h0m-15 0h0m-14 3h0m-1-4h0m0 0h0m0 8h0m0 0h0m-4-4h0m-1 3h0m-1-6h0m0 7h0m0-2h0m0 0h0m0 2h0m-3-7h0m-1 7h0m-1-7h0m-1 3h0m-1-3h0m-2 0h0m-1 3h0m-1-1h0m-1 2h0m-1 7h0m-2-10h0m-1 7h0m0-9h0m-1 11h0m0-3h0m-2-7h0m-1 5h0m-2-4h0m-6-1h0m-2-1h0m-3 0h0m-2 7h0m-2-7h0m0 11h0m0-10h0m-2 4h0m-1 4h0m-3-2h0m0 2h0m0-2h0m-1-7h0m0 0h0m0 3h0m-1 7h0m-2-7h0m0-2h0m-1 3h0m-1 2h0m-2-3h0m0 8h0m-2-7h0m-5-1h0m-7 0h0m-1 0h0m0 5h0m0-2h0m-2 1h0m-3-3h0m-3 0h0m-1 7h0m0-1h0m0-5h0m-1 2h0m0-4h0m0 5h0m-1-7h0m0 8h0m-1 0h0m-2-7h0m-3-2h0m-3 0h0m-4 4h0m-1-2h0m0-2h0m0 4h0m-2-1h0m-11-1h0m-1 1h0m0 3h0m-2-2h0m-1 2h0m-2-2h0m0 2h0m0-2h0m-2 1h0m-4-5h0m-1 0h0m0 3h0m-4 4h0m-2-3h0m-2 1h0m-1 0h0m-1-1h0m-1-1h0m0-2h0m-1 0h0m0 2h0m-1 1h0m-2-3h0m-2 2h0m0 2h0m-1-3h0m0 1h0m-4-1h0m-3 2h0m0-3h0m-1 1h0m-3 1h0m-2 0h0m-1 4h0m-1 0h0m0-3h0m-1 1h0m0-3h0m-2 4h0m0-2h0m0 0h0m0 0h0m-1 1h0m-3 1h0m-4 4h0m-1-3h0m0-2h0m-1 3h0m0 1h0m-1 0h0m-1-2h0m-2 3h0m-2-6h0m-3 0h0m-1 3h0m0-4h0m-1 3h0m0-1h0m-4 3h0m0-7h0m0 4h0m0 6h0m0-1h0m-1-8h0m0 1h0m0-2h0m-1 10h0m-1-2h0m0-3h0m0 5h0m0-8h0m0 5h0m-4 0h0m0-4h0m-2-4h0m-2 8h0m0-3h0m-1-4h0m-1 6h0m-6 2h0m0-2h0m-1-4h0m-2-2h0m-1 3h0m-2 3h0m0-2h0m-2 2h0m0-3h0m0-3h0m-1 2h0m0 4h0m-3-2h0m0 6h0m-1-8h0m0 5h0m-3 3h0m0-9h0m0 3h0m-1-3h0m-1 8h0m-1-1h0m-2 3h0m0-8h0m-2-1h0m-1 0h0m0 8h0m-1-2h0m0 1h0m0-8h0m-1 0h0m-1 6h0m-2 3h0m-2-10h0m-1 4h0m0-2h0m-1-2h0m0 2h0m0 3h0m0 4h0m-1-9h0m-1 10h0m-1-2h0m-2-8h0m0 4h0m-1 2h0m0 1h0m-1 2h0m0-4h0m-2 1h0m-1-6h0m0 6h0m-1-3h0m-1 5h0m0-3h0m-1-1h0m0 3h0m-1-4h0m0 3h0m0-6h0m0 7h0m-3-6h0m-1 3h0m0-5h0m0 5h0m-1-4h0m-1 1h0m-1 2h0m-1-3h0m-3 2h0m-2 2h0m-1 0h0m-3-5h0m-39 10h0m0-6h0m-1 3h0m0-6h0m0 7h0m-1 3h0m-1-8h0m-2 0h0m-1-2h0m0 8h0m-2-1h0m-1-4h0m-3-3h0m-22 1h0m-170 3h0m-5 0h0m-26-1h0m-11 6h0m27 7h0m1 0h0m89 0h0m116 2h0m0 0h0m7-5h0m4 0h0m0 0h0m1-1h0m1 9h0m0-7h0m1 6h0m0-7h0m2 9h0m0 0h0m0-8h0m1-2h0m0 8h0m1-4h0m0-3h0m0 2h0m1 0h0m44 1h0m2-1h0m0 2h0m0 0h0m3-4h0m0 6h0m1-2h0m3-4h0m25-1h0m0 1h0m2 0h0m26-1h0m0 2h0m1 5h0m0-4h0m0 2h0m2-6h0m0 7h0m1-4h0m1 1h0m1-2h0m1 0h0m4 1h0m0 2h0m90-1h0m4 7h0m0-4h0m5-6h0m0 9h0m4-9h0m7 8h0m1-4h0m1 4h0m2-1h0m1 3h0m3-6h0m2 0h0m3-2h0m1 5h0m4-8h0m1 8h0m1-6h0m0 9h0m4-2h0m0 0h0m0-5h0m1-1h0m0 6h0m2 0h0m4-2h0m2 3h0m1-7h0m0 4h0m3-7h0m1 1h0m1 9h0m0-2h0m9-7h0m3 6h0m1-3h0m4-4h0m0 2h0m3 3h0m0-2h0m2 8h0m6-5h0m2-4h0m2 1h0m1 8h0m1 0h0m0-10h0m1 7h0m0 2h0m0-1h0m0-3h0m1 5h0m1-4h0m18 5h0m5-1h0m2-1h0m0 2h0m44-4h0m0-1h0m1-3h0m2 1h0m0-2h0m0 8h0m0 5h0m0-3h0m-1 0h0m-1 7h0m0-6h0m0 2h0m-1 6h0m0-5h0m-9 6h0m-3 1h0m-4-2h0m-14 2h0m-13-12h0m-1 5h0m0 2h0m-1 1h0m0-6h0m-1-1h0m-2 4h0m0 5h0m0-2h0m-1-4h0m0-4h0m-1 0h0m-1 4h0m-3-1h0m0 6h0m-2-6h0m-11 5h0m-2-5h0m0-3h0m-1 2h0m0 3h0m-1 3h0m0-2h0m0 6h0m0-2h0m-6-4h0m-2 2h0m-2 1h0m-5-5h0m0 7h0m-1-6h0m-3 2h0m-2-1h0m-1 5h0m-4 0h0m0 1h0m-3-2h0m0-8h0m-3 7h0m-2 0h0m-2 3h0m-2-3h0m-1-7h0m-1 3h0m-8-3h0m-7 3h0m-3 3h0m-1-3h0m0 2h0m-1-4h0m0 8h0m-1-2h0m-2-2h0m-2 2h0m-3-2h0m-5 3h0m0-4h0m0-1h0m0-3h0m-8-1h0m0 5h0m-1 5h0m0-3h0m-1-2h0m0 5h0m-1-8h0m-61 6h0m-4 2h0m-1-3h0m-3-1h0m-1 4h0m-3-2h0m-23 2h0m0-3h0m-4 2h0m-123-6h0m-2 3h0m-1 2h0m0 0h0m-2-6h0m-1 0h0m-122 0h0m-58 5h0m-35-8h0m-11 10h0m-17-3h0m-10 2h0m5 14h0m9-10h0m1 10h0m8-6h0m113 0h0m117 0h0m5-4h0m1 6h0m0-6h0m30 5h0m1 2h0m0-2h0m1 4h0m1-3h0m0 1h0m0 1h0m1-7h0m1 0h0m1 8h0m3-5h0m0 4h0m1-6h0m1 4h0m0 4h0m1-2h0m1 2h0m1-10h0m0 6h0m4-2h0m1 3h0m8 2h0m2 0h0m4-2h0m0 2h0m0-2h0m1 2h0m2 1h0m54-10h0m2 1h0m2 2h0m1 1h0m1-3h0m1 1h0m24 1h0m0-3h0m1-1h0m2 4h0m1 1h0m1 0h0m2-5h0m21 6h0m0 2h0m2-5h0m0 6h0m1-6h0m0 1h0m2 7h0m0-6h0m1 4h0m0-4h0m3-1h0m0 1h0m0-1h0m2 5h0m1 0h0m0 3h0m31-5h0m0 2h0m0-4h0m1 1h0m0-2h0m0 0h0m0 1h0m1 0h0m0 1h0m1 5h0m2-10h0m1 7h0m0 2h0m0-8h0m2 10h0m3-6h0m2 5h0m0-1h0m1-1h0m0 3h0m3-6h0m1 0h0m2 1h0m1 4h0m0-1h0m1 1h0m1-1h0m1 1h0m1-5h0m0 6h0m1-1h0m3 0h0m2-5h0m0 6h0m1-2h0m3-1h0m1 1h0m0-4h0m0-2h0m1-1h0m2 7h0m1-3h0m0 0h0m0 3h0m3-9h0m3 3h0m3 6h0m2-3h0m2 3h0m1 1h0m1-2h0m1-6h0m5 6h0m0-2h0m1 4h0m2-5h0m1 4h0m1-1h0m1 0h0m1-8h0m0 10h0m1-3h0m1-6h0m2 6h0m1 3h0m0-1h0m1 1h0m1-4h0m2-6h0m3 11h0m0-4h0m0-3h0m2 2h0m1 3h0m3-5h0m1-5h0m0 12h0m0-1h0m2-4h0m1 1h0m0-1h0m0 4h0m1-4h0m28 0h0m1-3h0m0 3h0m0 3h0m1-9h0m0-1h0m0 6h0m1-5h0m1 0h0m0 3h0m0 5h0m2-8h0m0 2h0m2 1h0m1 8h0m0-7h0m1-4h0m0 3h0m0 7h0m1 1h0m0-11h0m1 8h0m1 0h0m1-5h0m3 4h0m1 0h0m0-4h0m1-2h0m0-2h0m3 2h0m1 1h0m1 6h0m0-6h0m1 2h0m1 4h0m0-4h0m0 4h0m2-2h0m0-7h0m1 4h0m8 6h0m1-9h0m0 0h0m1 10h0m0-6h0m1-4h0m-1 17h0m-1-3h0m0 4h0m-1 3h0m0-2h0m0 2h0m-3 1h0m0 0h0m-2 0h0m-22-9h0m-1-1h0m-2 0h0m-2 0h0m-1 0h0m-47 8h0m-1 0h0m-2 2h0m0-1h0m-1-1h0m-2-1h0m-1 1h0m-3 1h0m-14-3h0m0-6h0m-1 5h0m-2-5h0m-1 4h0m-2 1h0m0 3h0m-2 1h0m0-1h0m0 2h0m-1-2h0m-1 1h0m0 0h0m0-2h0m-1 2h0m0-4h0m0 3h0m-1 2h0m-7-10h0m-2 0h0m-2 0h0m0 0h0m-12 0h0m-1 0h0m-1 0h0m0 0h0m-6 0h0m-1 0h0m-2 0h0m-1-1h0m-2 1h0m-2 0h0m-3 6h0m-1 3h0m-1 0h0m0 1h0m-2 0h0m0-2h0m-2-2h0m-23-3h0m0 0h0m0-4h0m-1 2h0m-1 9h0m0-3h0m-2 2h0m-1-2h0m-1 2h0m0 0h0m-2-6h0m-2 5h0m-1-2h0m0-7h0m-1 1h0m0 9h0m-1-10h0m0 12h0m0 0h0m-1-9h0m-48 8h0m-1-2h0m-2 0h0m-3-1h0m0-3h0m0 5h0m-6-5h0m-3-1h0m-1 1h0m0 1h0m-4 3h0m0 0h0m-3 1h0m-1-4h0m-1-1h0m-1-1h0m0 7h0m-1 0h0m-1-6h0m-1 7h0m-2-5h0m-1-2h0m-2 6h0m-1-5h0m-1 2h0m-4 0h0m-1-2h0m-1 4h0m-2 0h0m-1-2h0m0-1h0m-1-1h0m-1 6h0m-2 0h0m0-8h0m0 5h0m-1-6h0m-1 0h0m-1 3h0m-1-3h0m-1 8h0m0 1h0m-2-2h0m0-7h0m-2 1h0m0-1h0m0 3h0m0 5h0m-1-3h0m-1-4h0m-1 1h0m-3 4h0m-1 1h0m-2-9h0m-1 2h0m0 7h0m-6-7h0m0 5h0m-1-5h0m-1 6h0m0 0h0m-1-1h0m0-7h0m0 4h0m0 3h0m0-5h0m-1 1h0m-1 7h0m0 0h0m-1-1h0m-7-8h0m0 5h0m0-7h0m-1 4h0m0 4h0m-2-7h0m0 4h0m0-2h0m-1 8h0m-1 1h0m0-3h0m0-3h0m-1 2h0m0-3h0m-1-1h0m-3 4h0m0-5h0m0-2h0m-2 4h0m0-3h0m0 10h0m-1-9h0m0 1h0m-1 3h0m-28-5h0m0 3h0m-1-4h0m0 5h0m0 3h0m-1-2h0m0-7h0m-1 9h0m-1-4h0m0 3h0m0-6h0m-1 7h0m-1 0h0m-10 1h0m-121-7h0m-46 5h0m-39-6h0m-5-2h0m-12 1h0m-3 8h0m0 1h0m-1-1h0m-2-7h0m-4 3h0m-12 18h0m27-3h0m7-7h0m97 4h0m27 4h0m98-7h0m0 3h0m0-3h0m1 8h0m2-2h0m0-7h0m2 4h0m2 6h0m3-5h0m0 6h0m1-7h0m1-3h0m1 1h0m0-2h0m1 5h0m2 4h0m2-5h0m0 0h0m1 4h0m4-2h0m1 3h0m2 2h0m2-1h0m2-2h0m3 2h0m4-10h0m2 1h0m16 4h0m3-2h0m0 8h0m0-11h0m2 3h0m0 1h0m2-1h0m2 3h0m1-3h0m0 0h0m1-2h0m1 3h0m1-4h0m7 9h0m3 1h0m1-4h0m6-3h0m2 5h0m1 0h0m1-9h0m4 10h0m2 2h0m2-7h0m2 0h0m1-5h0m2 1h0m2 10h0m1-3h0m1-1h0m0 1h0m0-6h0m0 1h0m0 3h0m3 2h0m1-5h0m1-2h0m1 3h0m0 5h0m1-4h0m0 3h0m4-2h0m0 2h0m1 1h0m1-2h0m1-5h0m1 3h0m2 6h0m1-1h0m1-7h0m0-2h0m1 8h0m0 2h0m0-2h0m4-1h0m0-7h0m0 4h0m0 2h0m1 3h0m0-8h0m38 10h0m1-1h0m0-4h0m1 3h0m0-1h0m2 2h0m1 1h0m6-1h0m1 1h0m2-10h0m3 1h0m0 0h0m2-1h0m2-2h0m0 3h0m3-2h0m1 2h0m6 7h0m0 1h0m1-2h0m1 0h0m5-1h0m2 0h0m4 4h0m2-2h0m1 2h0m1-2h0m2 2h0m0-3h0m1-8h0m1 0h0m2 0h0m9 9h0m2-1h0m3 2h0m1-5h0m0 4h0m1-2h0m3-1h0m0 4h0m1 0h0m2 0h0m24-11h0m8 4h0m6-3h0m1-1h0m9 3h0m1-2h0m2 4h0m1-2h0m1-1h0m1-1h0m1 0h0m0 1h0m24 2h0m1-2h0m2 5h0m49-4h0m0 6h0m1 1h0m0-7h0m0 0h0m0 0h0m0-2h0m0 6h0m1 1h0m1-5h0m0 9h0m0-11h0m1 2h0m2-1h0m1 4h0m2-1h0m-1 16h0m0 0h0m0 0h0m0-3h0m-1 5h0m-1-8h0m0-1h0m-2 2h0m0-3h0m-2-1h0m-2 0h0m-1 3h0m-2 5h0m-2-2h0m0 2h0m0-3h0m-1 3h0m-1 3h0m0-6h0m0 2h0m-3 1h0m-13 3h0m-1 1h0m-1-3h0m0-3h0m-1 4h0m0-3h0m-1-3h0m0 2h0m-3 2h0m-2 2h0m-1-2h0m0-3h0m-2 3h0m-1 2h0m-3-4h0m-1 0h0m0-3h0m0 1h0m0 5h0m-2-3h0m0 1h0m-1-5h0m0 2h0m0 3h0m-4 5h0m-2-3h0m-1 2h0m-1 0h0m-25 0h0m0 1h0m-1-2h0m-2 0h0m-3 0h0m-3 0h0m-2 1h0m-24 1h0m-20-11h0m-2 4h0m-1 1h0m0-1h0m-1 0h0m0-1h0m0 2h0m-2-5h0m-1 2h0m-2-2h0m0 0h0m-1 5h0m-3-3h0m0 0h0m-9-3h0m-1 1h0m-1 4h0m-3-1h0m-7-3h0m0 0h0m-1 2h0m-1 0h0m-4 1h0m0-2h0m-4-2h0m-1 2h0m0 1h0m-16 7h0m0 0h0m-2-7h0m-1 5h0m-2 0h0m0-7h0m-1 8h0m0-8h0m0 6h0m-1 5h0m-1-1h0m-2-5h0m-1 5h0m-1-7h0m-1 4h0m0-7h0m0 9h0m-1-5h0m-1-5h0m-8 11h0m-5 0h0m-1-1h0m0 1h0m-4-1h0m-2-1h0m-1-1h0m-2 4h0m0-5h0m-3 4h0m-1 1h0m-17-2h0m-3-3h0m0 2h0m-1 1h0m-1-3h0m0-2h0m0 4h0m-1 0h0m-3-6h0m0-2h0m-4 0h0m-1 1h0m-2 3h0m0 0h0m-1 5h0m0 0h0m-1-1h0m0-1h0m-4-1h0m0-4h0m-1 0h0m0 2h0m0 4h0m-1-8h0m0 6h0m-2-4h0m-3-1h0m-2 2h0m-1-1h0m0 3h0m-2 4h0m-1-2h0m-1-3h0m0 4h0m-1-1h0m0-4h0m-1 4h0m-3 2h0m0-2h0m-1 1h0m-1 0h0m-1 2h0m0-1h0m0-1h0m0-8h0m0 10h0m0-4h0m-2 2h0m0-9h0m0 10h0m0-2h0m-1 2h0m0 1h0m-3-6h0m-1 4h0m-3-2h0m-2-3h0m-2 2h0m0 2h0m-1-5h0m-1 6h0m0-4h0m-3-1h0m0 0h0m0 1h0m0 0h0m-1-3h0m-1 2h0m0 5h0m-1 3h0m0-7h0m-1 2h0m0 4h0m0-1h0m0-1h0m-1-7h0m-1 1h0m0-1h0m0-1h0m-2 10h0m-1-2h0m0-7h0m-1 10h0m0-11h0m-1 8h0m0-7h0m-3-1h0m0 11h0m0-6h0m-2-4h0m-2 3h0m-2 3h0m0 0h0m-4-2h0m0 4h0m-1-6h0m-2 1h0m0 1h0m0-1h0m-1 4h0m0-2h0m-3-2h0m0 3h0m-1 4h0m0-1h0m-3-9h0m-3 6h0m-3-2h0m-3 2h0m0-4h0m-1 0h0m-1 0h0m0 7h0m0-7h0m-3-1h0m-1-1h0m-1 0h0m0-1h0m0 8h0m-2-3h0m-3 0h0m0-5h0m0 4h0m-1-4h0m-1 11h0m-1-11h0m-1 1h0m-2 5h0m0-2h0m-1 6h0m0-7h0m-1 2h0m-1-1h0m-2 0h0m-210-5h0m-8 10h0m-30-8h0m26 21h0m2-1h0m1 0h0m1-3h0m14 4h0m202-2h0m3-5h0m0 8h0m1-10h0m2 5h0m1 2h0m0 0h0m0-3h0m1-2h0m1 0h0m0-3h0m2 4h0m2-1h0m3 2h0m1 6h0m1-4h0m3 0h0m1-8h0m3 7h0m2-6h0m1 3h0m1 4h0m0-8h0m1 4h0m3 2h0m2-3h0m2 6h0m1-3h0m1 3h0m2-3h0m0 5h0m0-1h0m1-9h0m3 4h0m1 6h0m0-9h0m1 9h0m0-7h0m0 1h0m1 2h0m1 3h0m0-10h0m0 3h0m1 7h0m0 0h0m1-4h0m0-5h0m0 4h0m1 2h0m0 3h0m0-4h0m1 4h0m0-3h0m1-1h0m0-5h0m1 3h0m0 5h0m2-8h0m4 11h0m1-7h0m2 7h0m1-8h0m0-2h0m2 6h0m0-4h0m1 4h0m0 1h0m0-1h0m0 0h0m1 3h0m19-1h0m1 1h0m22-5h0m0-5h0m1 3h0m0-3h0m0 1h0m1 3h0m0-2h0m2 0h0m5-1h0m1 6h0m1-7h0m1 2h0m0 5h0m3 0h0m1-6h0m0 2h0m0 4h0m1 3h0m0-3h0m2 1h0m3-8h0m0 9h0m0-7h0m1-2h0m2 8h0m4-4h0m0 1h0m0-5h0m0 11h0m1-9h0m0-1h0m1 8h0m0-4h0m3-3h0m1-3h0m1 2h0m2 7h0m0 0h0m2 2h0m0 0h0m0-6h0m1-3h0m0 5h0m1 0h0m1-4h0m0 2h0m1-4h0m1 10h0m3-8h0m1 1h0m0 7h0m1-3h0m0-6h0m1 7h0m0-5h0m0-3h0m2 3h0m0 5h0m5 1h0m2-6h0m2 1h0m1 1h0m0-1h0m2-4h0m2 0h0m2 8h0m0-1h0m0 4h0m0-9h0m2 0h0m1 9h0m2-11h0m1 11h0m1-2h0m1-1h0m1 1h0m0-4h0m0-4h0m0-1h0m3 9h0m1-1h0m3 3h0m0-2h0m1 0h0m1-4h0m0-4h0m1 1h0m2 0h0m0 5h0m3-2h0m2 5h0m0-2h0m1 3h0m1 0h0m0-7h0m0 1h0m2-2h0m1 7h0m4 1h0m1-2h0m0-1h0m3 2h0m1-3h0m1 0h0m0 1h0m2 0h0m6 3h0m1-1h0m1-3h0m2 0h0m1 2h0m0 1h0m0-1h0m1-2h0m0 0h0m1 2h0m0-2h0m0 2h0m3-1h0m1 1h0m0-1h0m0-1h0m1-4h0m3 2h0m3 0h0m0 0h0m0 4h0m2-2h0m3 2h0m0 2h0m5-1h0m0-2h0m1-7h0m1 5h0m0 3h0m4-8h0m0 5h0m2-5h0m0 6h0m1-1h0m0-4h0m1 9h0m3-11h0m0 11h0m1-8h0m0 0h0m1-2h0m0 7h0m0 2h0m1-7h0m0-1h0m1 8h0m0-4h0m0-4h0m0 6h0m1-2h0m2 4h0m1-1h0m16 2h0m2-3h0m0-3h0m0 3h0m1-8h0m1 9h0m1-10h0m1 4h0m3 6h0m0-8h0m2-1h0m0 3h0m3-2h0m1 1h0m0 5h0m3 3h0m1-2h0m0-7h0m7 9h0m4-1h0m4 1h0m2-10h0m0 5h0m1-3h0m0-1h0m0 10h0m1-1h0m1-1h0m0-1h0m1-3h0m1-4h0m1 8h0m0 2h0m3-8h0m0-4h0m1 12h0m1-9h0m2 1h0m0 7h0m3-4h0m0 2h0m1-1h0m2-6h0m1 5h0m1-1h0m1 4h0m1-1h0m2 3h0m1-7h0m1 2h0m0-3h0m2-3h0m0 3h0m1 4h0m12-7h0m1 0h0m1-1h0m0 10h0m1 0h0m2 1h0m1-6h0m0-2h0m0 3h0m1-3h0m1-1h0m2 6h0m0 4h0m1-5h0m2-1h0m1-1h0m0-1h0m0 7h0m0 0h0m1-3h0m0 1h0m0-5h0m0-1h0m1 3h0m0 0h0m1 4h0m1-6h0m0 2h0m0 2h0m2-5h0m0 0h0m1 2h0m-2 9h0m-1 1h0m0 0h0m0 2h0m-3-1h0m-1-3h0m0 4h0m-7-3h0m-1 0h0m0 1h0m-1-3h0m-2 2h0m-1-2h0m-1 4h0m-1-3h0m-1 2h0m0 1h0m0-2h0m-1 0h0m-1 0h0m-1-2h0m-1 4h0m-1-2h0m-1-1h0m0 3h0m-2-1h0m-6-1h0m-1 0h0m0-1h0m-2 4h0m0-1h0m-3-3h0m-1 2h0m-1 0h0m-3-3h0m-1 0h0m-2 0h0m-6 5h0m-6 0h0m-10-5h0m-2 2h0m-6 3h0m-3-1h0m-1-1h0m0-3h0m-9 4h0m-2 1h0m-4-5h0m0 2h0m-1 1h0m0 0h0m-1 0h0m-6 1h0m-4-2h0m0 2h0m-1 0h0m0 0h0m-10 0h0m-2-1h0m-1 1h0m0-1h0m-3-1h0m-1 1h0m0-3h0m0 4h0m-2 0h0m0 0h0m0-3h0m-2 2h0m-1 0h0m-3-3h0m-5 2h0m0 1h0m-1 0h0m-4 0h0m-3-1h0m-1-1h0m-1 4h0m-2-1h0m-1 0h0m0 1h0m-2 0h0m-9-3h0m-1-1h0m-2 0h0m-2 1h0m-1 1h0m-2 0h0m-1 1h0m-2-2h0m-3-1h0m-1 2h0m0-1h0m-1-1h0m-4 3h0m-12-3h0m0 1h0m0-2h0m-3 2h0m-5 0h0m-2-2h0m-2 4h0m0-1h0m-3-2h0m-3 4h0m-6-2h0m-3-3h0m-2 3h0m-10-1h0m-3-1h0m0 1h0m0 1h0m-2-1h0m-2 1h0m-1 1h0m-6-2h0m-1 0h0m-1-1h0m-4 3h0m-5-4h0m0 3h0m0-2h0m-1 0h0m-3 2h0m-1 0h0m-1 0h0m0-1h0m-1 2h0m-3-1h0m-5 0h0m-12 0h0m-1 0h0m-1-1h0m-1 3h0m-1-1h0m0 0h0m-2 0h0m-3-2h0m-2 3h0m-6-1h0m-1 0h0m-1 0h0m-1-2h0m-1 0h0m0 3h0m-2-4h0m-3 4h0m-1-3h0m-5 2h0m-5-1h0m-1 1h0m-1-2h0m-1-2h0m-1 0h0m-2 1h0m-4 3h0m-4-2h0m-2 2h0m0 0h0m-4-2h0m-1 3h0m-2-1h0m-1-1h0m0 0h0m-1-3h0m-1 5h0m-1-1h0m-3-1h0m-1-1h0m0 0h0m-2 2h0m-1-2h0m-1 3h0m-2-3h0m-2 2h0m-5 0h0m-3 0h0m-4-3h0m-3 3h0m-5-3h0m-1 2h0m-223 2h0m-7-1h0m-1-3h0" fill="none" stroke="#fc9c9b" stroke-width="6.4" stroke-linecap="round"/><path d="M782.0 60.0 784.0 60.0 786.1 60.0 788.1 60.1 790.1 60.1 792.1 60.1 794.2 60.2 796.2 60.2 798.2 60.3 800.3 60.4 802.3 60.4 804.3 60.5 806.3 60.6 808.4 60.6 810.4 60.7 812.4 60.8 814.4 60.9 816.5 60.9 818.5 61.0 820.5 61.1 822.6 61.2 824.6 61.3 826.6 61.4 828.6 61.5 830.7 61.6 832.7 61.8 834.7 61.9 836.8 62.1 838.8 62.2 840.8 62.4 842.8 62.5 844.9 62.7 846.9 62.9 848.9 63.0 851.0 63.2 853.0 63.4 855.0 63.6 857.0 63.8 859.1 64.0 861.1 64.2 863.1 64.4 865.1 64.6 867.2 64.9 869.2 65.1 871.2 65.3 873.3 65.6 875.3 65.8 877.3 66.0 879.3 66.3 881.4 66.5 883.4 66.8 885.4 67.1 887.5 67.3 889.5 67.6 891.5 67.9 893.5 68.1 895.6 68.4 897.6 68.7 899.6 69.0 901.7 69.3 903.7 69.5 905.7 69.8 907.7 70.1 909.8 70.4 911.8 70.7 913.8 71.0 915.8 71.3 917.9 71.7 919.9 72.0 921.9 72.4 924.0 72.7 926.0 73.1 928.0 73.5 930.0 73.9 932.1 74.3 934.1 74.7 936.1 75.2 938.2 75.6 940.2 76.1 942.2 76.5 944.2 77.0 946.3 77.5 948.3 78.0 950.3 78.5 952.4 79.0 954.4 79.6 956.4 80.1 958.4 80.6 960.5 81.2 962.5 81.8 964.5 82.3 966.5 82.9 968.6 83.5 970.6 84.1 972.6 84.7 974.7 85.3 976.7 85.9 978.7 86.6 980.7 87.3 982.8 88.1 984.8 88.9 986.8 89.7 988.9 90.6 990.9 91.4 992.9 92.3 994.9 93.1 997.0 94.0 999.0 94.9 1001.0 95.8 1003.1 96.8 1005.1 97.9 1007.1 98.9 1009.1 99.9 1011.2 100.8 1013.2 101.7 1015.2 102.4 1017.2 103.0 1019.3 103.5 1021.3 103.9 1023.3 104.3 1025.4 104.5 1027.4 104.3 1029.4 103.5 1031.4 102.2 1033.5 99.1 1035.5 94.5 L1035.5 169.0 1037.5 176.5 1039.5 184.6 1041.6 192.4 1043.6 199.0 1045.6 204.5 1047.6 209.0 1049.6 212.9 1051.6 216.6 1053.7 220.0 1055.7 223.3 1057.7 226.3 1059.7 229.1 1061.7 231.7 1063.8 234.1 1065.8 236.4 1067.8 238.5 1069.8 240.3 1071.8 242.1 1073.8 243.7 1075.9 245.3 1077.9 246.7 1079.9 248.0 1081.9 249.2 1083.9 250.4 1085.9 251.6 1088.0 252.7 1090.0 253.7 1092.0 254.6 1094.0 255.4 1096.0 256.1 1098.1 256.7 1100.1 257.3 1102.1 257.8 1104.1 258.3 1106.1 258.6 1108.1 258.7 1110.2 258.9 1112.2 259.0 1114.2 259.1 1116.2 259.1 1118.2 259.2 1120.3 259.3 1122.3 259.3 1124.3 259.3 1126.3 259.3 1128.3 259.3 1130.3 259.3 1132.4 259.2 1134.4 259.2 1136.4 259.2 1138.4 259.1 1140.4 259.1 1142.5 259.0 1144.5 259.0 1146.5 258.9 1148.5 258.9 1150.5 258.8 1152.5 258.8 1154.6 258.7 1156.6 258.7 1158.6 258.6 1160.6 258.6 1162.6 258.5 1164.6 258.5 1166.7 258.4 1168.7 258.3 1170.7 258.3 1172.7 258.2 1174.7 258.1 1176.8 258.1 1178.8 258.0 1180.8 257.9 1182.8 257.9 1184.8 257.8 1186.8 257.7 1188.9 257.6 1190.9 257.6 1192.9 257.5 1194.9 257.4 1196.9 257.3 1199.0 257.2 1201.0 257.1 1203.0 257.1 1205.0 257.0 1207.0 256.9 1209.0 256.8 1211.1 256.7 1213.1 256.6 1215.1 256.5 1217.1 256.4 1219.1 256.3 1221.2 256.1 1223.2 256.0 1225.2 255.9 1227.2 255.8 1229.2 255.6 1231.2 255.5 1233.3 255.4 1235.3 255.2 1237.3 255.1 1239.3 254.9 1241.3 254.8 1243.3 254.6 1245.4 254.5 1247.4 254.3 1249.4 254.2 1251.4 254.1 1253.4 253.9 1255.5 253.8 1257.5 253.6 1259.5 253.5 1261.5 253.3 1263.5 253.2 1265.5 253.0 1267.6 252.9 1269.6 252.8 1271.6 252.6 1273.6 252.5 1275.6 252.4 1277.7 252.3 1279.7 252.2 1281.7 252.0 1283.7 251.9 1285.7 251.8 1287.7 251.7 1289.8 251.6 1291.8 251.5 1293.8 251.3 1295.8 251.2 1297.8 251.1 1299.9 251.0 1301.9 250.9 1303.9 250.8 1305.9 250.7 1307.9 250.5 1309.9 250.4 1312.0 250.3 1314.0 250.2 1316.0 250.1 1318.0 250.0 1320.0 249.9 1322.0 249.8 1324.1 249.6 1326.1 249.5 1328.1 249.4 1330.1 249.3 1332.1 249.2 1334.2 249.1 1336.2 249.0 1338.2 248.9 1340.2 248.7 1342.2 248.6 1344.2 248.5 1346.3 248.4 1348.3 248.3 1350.3 248.2 1352.3 248.1 1354.3 248.0 1356.4 247.8 1358.4 247.7 1360.4 247.6 1362.4 247.5 1364.4 247.4 1366.4 247.3 1368.5 247.2 1370.5 247.1 1372.5 246.9 1374.5 246.8 1376.5 246.7 1378.6 246.6 1380.6 246.5 1382.6 246.4 1384.6 246.3 1386.6 246.2 1388.6 246.0 1390.7 245.9 1392.7 245.8 1394.7 245.7 1396.7 245.6 1398.7 245.5 1400.7 245.4 1402.8 245.3 1404.8 245.1 1406.8 245.0 1408.8 244.9 1410.8 244.8 1412.9 244.7 1414.9 244.6 1416.9 244.5 1418.9 244.4 1420.9 244.2 1422.9 244.1 1425.0 244.0 1427.0 243.9 1429.0 243.8" fill="none" stroke="#222" stroke-width="1.1"/><path d="M782.0 166.5 784.0 166.5 786.1 166.5 788.1 166.5 790.1 166.5 792.1 166.5 794.2 166.5 796.2 166.6 798.2 166.6 800.3 166.6 802.3 166.6 804.3 166.6 806.3 166.7 808.4 166.7 810.4 166.7 812.4 166.7 814.4 166.8 816.5 166.8 818.5 166.8 820.5 166.9 822.6 166.9 824.6 166.9 826.6 167.0 828.6 167.0 830.7 167.1 832.7 167.1 834.7 167.1 836.8 167.2 838.8 167.2 840.8 167.3 842.8 167.3 844.9 167.4 846.9 167.4 848.9 167.5 851.0 167.5 853.0 167.6 855.0 167.6 857.0 167.7 859.1 167.7 861.1 167.8 863.1 167.8 865.1 167.9 867.2 167.9 869.2 168.0 871.2 168.0 873.3 168.1 875.3 168.1 877.3 168.2 879.3 168.3 881.4 168.3 883.4 168.4 885.4 168.4 887.5 168.5 889.5 168.6 891.5 168.6 893.5 168.7 895.6 168.8 897.6 168.8 899.6 168.9 901.7 169.0 903.7 169.1 905.7 169.2 907.7 169.3 909.8 169.4 911.8 169.5 913.8 169.6 915.8 169.7 917.9 169.8 919.9 169.9 921.9 170.0 924.0 170.1 926.0 170.3 928.0 170.4 930.0 170.5 932.1 170.7 934.1 170.8 936.1 171.0 938.2 171.1 940.2 171.3 942.2 171.5 944.2 171.6 946.3 171.8 948.3 172.0 950.3 172.2 952.4 172.4 954.4 172.6 956.4 172.8 958.4 173.1 960.5 173.4 962.5 173.8 964.5 174.2 966.5 174.8 968.6 175.4 970.6 176.1 972.6 176.8 974.7 177.6 976.7 178.4 978.7 179.2 980.7 180.0 982.8 181.0 984.8 182.0 986.8 183.1 988.9 184.2 990.9 185.5 992.9 186.8 994.9 188.1 997.0 189.5 999.0 190.9 1001.0 192.3 1003.1 193.8 1005.1 195.3 1007.1 196.9 1009.1 198.5 1011.2 200.3 1013.2 202.1 1015.2 204.1 1017.2 206.1 1019.3 208.3 1021.3 210.9 1023.3 213.7 1025.4 216.9 1027.4 220.4 1029.4 224.5 1031.4 230.1 1033.5 236.6 1035.5 243.0 L1035.5 326.0 1037.5 321.1 1039.5 319.4 1041.6 318.7 1043.6 318.7 1045.6 318.8 1047.6 318.9 1049.6 319.1 1051.6 319.3 1053.7 319.5 1055.7 319.8 1057.7 320.1 1059.7 320.4 1061.7 320.7 1063.8 321.1 1065.8 321.4 1067.8 321.7 1069.8 322.1 1071.8 322.5 1073.8 322.9 1075.9 323.4 1077.9 323.9 1079.9 324.4 1081.9 324.9 1083.9 325.5 1085.9 326.0 1088.0 326.5 1090.0 327.0 1092.0 327.5 1094.0 328.1 1096.0 328.6 1098.1 329.2 1100.1 329.7 1102.1 330.2 1104.1 330.5 1106.1 330.8 1108.1 331.1 1110.2 331.4 1112.2 331.7 1114.2 331.9 1116.2 332.2 1118.2 332.4 1120.3 332.6 1122.3 332.8 1124.3 333.0 1126.3 333.2 1128.3 333.4 1130.3 333.6 1132.4 333.8 1134.4 333.9 1136.4 334.1 1138.4 334.3 1140.4 334.4 1142.5 334.5 1144.5 334.7 1146.5 334.8 1148.5 334.9 1150.5 335.0 1152.5 335.1 1154.6 335.3 1156.6 335.4 1158.6 335.5 1160.6 335.6 1162.6 335.7 1164.6 335.8 1166.7 335.9 1168.7 336.0 1170.7 336.1 1172.7 336.3 1174.7 336.4 1176.8 336.4 1178.8 336.5 1180.8 336.6 1182.8 336.7 1184.8 336.8 1186.8 336.9 1188.9 336.9 1190.9 337.0 1192.9 337.1 1194.9 337.1 1196.9 337.2 1199.0 337.2 1201.0 337.2 1203.0 337.3 1205.0 337.3 1207.0 337.3 1209.0 337.3 1211.1 337.3 1213.1 337.3 1215.1 337.3 1217.1 337.3 1219.1 337.3 1221.2 337.3 1223.2 337.3 1225.2 337.3 1227.2 337.3 1229.2 337.3 1231.2 337.3 1233.3 337.3 1235.3 337.3 1237.3 337.3 1239.3 337.3 1241.3 337.3 1243.3 337.3 1245.4 337.3 1247.4 337.3 1249.4 337.3 1251.4 337.3 1253.4 337.3 1255.5 337.3 1257.5 337.3 1259.5 337.3 1261.5 337.3 1263.5 337.3 1265.5 337.3 1267.6 337.3 1269.6 337.3 1271.6 337.3 1273.6 337.3 1275.6 337.3 1277.7 337.3 1279.7 337.3 1281.7 337.3 1283.7 337.3 1285.7 337.3 1287.7 337.3 1289.8 337.3 1291.8 337.3 1293.8 337.3 1295.8 337.3 1297.8 337.3 1299.9 337.3 1301.9 337.3 1303.9 337.3 1305.9 337.3 1307.9 337.3 1309.9 337.3 1312.0 337.3 1314.0 337.3 1316.0 337.3 1318.0 337.3 1320.0 337.3 1322.0 337.3 1324.1 337.3 1326.1 337.3 1328.1 337.3 1330.1 337.2 1332.1 337.2 1334.2 337.2 1336.2 337.2 1338.2 337.1 1340.2 337.1 1342.2 337.1 1344.2 337.0 1346.3 337.0 1348.3 337.0 1350.3 336.9 1352.3 336.9 1354.3 336.8 1356.4 336.8 1358.4 336.7 1360.4 336.7 1362.4 336.6 1364.4 336.5 1366.4 336.5 1368.5 336.4 1370.5 336.4 1372.5 336.3 1374.5 336.2 1376.5 336.2 1378.6 336.1 1380.6 336.0 1382.6 335.9 1384.6 335.9 1386.6 335.8 1388.6 335.7 1390.7 335.6 1392.7 335.6 1394.7 335.5 1396.7 335.4 1398.7 335.3 1400.7 335.2 1402.8 335.1 1404.8 335.1 1406.8 335.0 1408.8 334.9 1410.8 334.8 1412.9 334.7 1414.9 334.6 1416.9 334.5 1418.9 334.4 1420.9 334.4 1422.9 334.3 1425.0 334.2 1427.0 334.1 1429.0 334.0" fill="none" stroke="#222" stroke-width="1.1"/><path d="M782.0 99.0 784.0 99.0 786.1 99.0 788.1 99.1 790.1 99.1 792.1 99.2 794.2 99.2 796.2 99.3 798.2 99.3 800.3 99.4 802.3 99.5 804.3 99.5 806.3 99.6 808.4 99.7 810.4 99.8 812.4 99.9 814.4 100.0 816.5 100.1 818.5 100.2 820.5 100.3 822.6 100.4 824.6 100.5 826.6 100.7 828.6 100.8 830.7 100.9 832.7 101.0 834.7 101.2 836.8 101.3 838.8 101.4 840.8 101.6 842.8 101.7 844.9 101.9 846.9 102.0 848.9 102.2 851.0 102.3 853.0 102.5 855.0 102.6 857.0 102.8 859.1 102.9 861.1 103.1 863.1 103.2 865.1 103.4 867.2 103.6 869.2 103.7 871.2 103.9 873.3 104.1 875.3 104.2 877.3 104.4 879.3 104.6 881.4 104.8 883.4 105.0 885.4 105.3 887.5 105.5 889.5 105.7 891.5 106.0 893.5 106.2 895.6 106.5 897.6 106.7 899.6 107.0 901.7 107.3 903.7 107.5 905.7 107.8 907.7 108.1 909.8 108.4 911.8 108.7 913.8 109.0 915.8 109.3 917.9 109.7 919.9 110.0 921.9 110.3 924.0 110.6 926.0 111.0 928.0 111.3 930.0 111.7 932.1 112.0 934.1 112.4 936.1 112.8 938.2 113.1 940.2 113.5 942.2 113.9 944.2 114.3 946.3 114.8 948.3 115.2 950.3 115.7 952.4 116.1 954.4 116.6 956.4 117.1 958.4 117.6 960.5 118.2 962.5 118.7 964.5 119.3 966.5 119.9 968.6 120.5 970.6 121.1 972.6 121.8 974.7 122.5 976.7 123.2 978.7 124.0 980.7 124.8 982.8 125.7 984.8 126.7 986.8 127.7 988.9 128.8 990.9 129.9 992.9 131.0 994.9 132.2 997.0 133.5 999.0 134.8 1001.0 136.2 1003.1 137.7 1005.1 139.3 1007.1 141.0 1009.1 142.7 1011.2 144.4 1013.2 146.2 1015.2 148.0 1017.2 149.8 1019.3 151.6 1021.3 153.5 1023.3 155.4 1025.4 157.3 1027.4 159.3 1029.4 161.3 1031.4 163.3 1033.5 165.4 1035.5 167.5 L1035.5 251.6 1037.5 253.8 1039.5 256.0 1041.6 258.1 1043.6 260.1 1045.6 262.0 1047.6 263.9 1049.6 265.7 1051.6 267.5 1053.7 269.2 1055.7 270.9 1057.7 272.5 1059.7 274.1 1061.7 275.6 1063.8 277.0 1065.8 278.4 1067.8 279.8 1069.8 281.1 1071.8 282.4 1073.8 283.6 1075.9 284.8 1077.9 285.9 1079.9 286.9 1081.9 288.0 1083.9 289.0 1085.9 290.0 1088.0 290.9 1090.0 291.8 1092.0 292.7 1094.0 293.5 1096.0 294.3 1098.1 294.9 1100.1 295.5 1102.1 296.1 1104.1 296.6 1106.1 297.1 1108.1 297.7 1110.2 298.2 1112.2 298.7 1114.2 299.2 1116.2 299.6 1118.2 300.1 1120.3 300.5 1122.3 300.9 1124.3 301.3 1126.3 301.7 1128.3 302.0 1130.3 302.3 1132.4 302.6 1134.4 302.9 1136.4 303.1 1138.4 303.3 1140.4 303.4 1142.5 303.6 1144.5 303.6 1146.5 303.7 1148.5 303.8 1150.5 303.9 1152.5 303.9 1154.6 304.0 1156.6 304.1 1158.6 304.1 1160.6 304.2 1162.6 304.3 1164.6 304.3 1166.7 304.4 1168.7 304.4 1170.7 304.5 1172.7 304.5 1174.7 304.6 1176.8 304.6 1178.8 304.7 1180.8 304.7 1182.8 304.8 1184.8 304.8 1186.8 304.9 1188.9 304.9 1190.9 304.9 1192.9 305.0 1194.9 305.0 1196.9 305.0 1199.0 305.1 1201.0 305.1 1203.0 305.1 1205.0 305.2 1207.0 305.2 1209.0 305.2 1211.1 305.2 1213.1 305.2 1215.1 305.2 1217.1 305.3 1219.1 305.3 1221.2 305.3 1223.2 305.3 1225.2 305.3 1227.2 305.3 1229.2 305.3 1231.2 305.3 1233.3 305.3 1235.3 305.3 1237.3 305.3 1239.3 305.2 1241.3 305.2 1243.3 305.2 1245.4 305.2 1247.4 305.1 1249.4 305.1 1251.4 305.0 1253.4 305.0 1255.5 304.9 1257.5 304.9 1259.5 304.8 1261.5 304.7 1263.5 304.7 1265.5 304.6 1267.6 304.5 1269.6 304.5 1271.6 304.4 1273.6 304.3 1275.6 304.2 1277.7 304.1 1279.7 304.1 1281.7 304.0 1283.7 303.9 1285.7 303.8 1287.7 303.7 1289.8 303.6 1291.8 303.5 1293.8 303.5 1295.8 303.4 1297.8 303.3 1299.9 303.2 1301.9 303.1 1303.9 303.0 1305.9 302.9 1307.9 302.9 1309.9 302.8 1312.0 302.7 1314.0 302.6 1316.0 302.6 1318.0 302.5 1320.0 302.4 1322.0 302.3 1324.1 302.3 1326.1 302.2 1328.1 302.1 1330.1 302.1 1332.1 302.0 1334.2 301.9 1336.2 301.8 1338.2 301.8 1340.2 301.7 1342.2 301.6 1344.2 301.5 1346.3 301.5 1348.3 301.4 1350.3 301.3 1352.3 301.2 1354.3 301.2 1356.4 301.1 1358.4 301.0 1360.4 300.9 1362.4 300.9 1364.4 300.8 1366.4 300.7 1368.5 300.6 1370.5 300.6 1372.5 300.5 1374.5 300.4 1376.5 300.3 1378.6 300.2 1380.6 300.2 1382.6 300.1 1384.6 300.0 1386.6 299.9 1388.6 299.9 1390.7 299.8 1392.7 299.7 1394.7 299.6 1396.7 299.5 1398.7 299.4 1400.7 299.4 1402.8 299.3 1404.8 299.2 1406.8 299.1 1408.8 299.0 1410.8 299.0 1412.9 298.9 1414.9 298.8 1416.9 298.7 1418.9 298.6 1420.9 298.5 1422.9 298.5 1425.0 298.4 1427.0 298.3 1429.0 298.2" fill="none" stroke="#000" stroke-width="3.6" stroke-dasharray="21 11"/><path d="M1182.7 261.2V266.6M1173.7 261.2h18M1173.7 266.6h18M1250.8 285.5V290.8M1241.8 285.5h18M1241.8 290.8h18M1352.4 278.6V285.1M1343.4 278.6h18M1343.4 285.1h18" fill="none" stroke="#3c3cd6" stroke-width="1.4"/><circle cx="1182.7" cy="264.0" r="2.9" fill="#0000f4"/><circle cx="1250.8" cy="288.4" r="2.9" fill="#0000f4"/><circle cx="1352.4" cy="281.8" r="2.9" fill="#0000f4"/></g><g clip-path="url(#kc)"><path d="M126.6 496.5 128.6 496.5 130.6 496.5 132.6 496.6 134.6 496.6 136.6 496.7 138.7 496.7 140.7 496.8 142.7 496.8 144.7 496.9 146.7 497.0 148.7 497.0 150.7 497.1 152.7 497.2 154.7 497.3 156.7 497.4 158.7 497.4 160.7 497.5 162.8 497.6 164.8 497.7 166.8 497.8 168.8 498.0 170.8 498.1 172.8 498.2 174.8 498.4 176.8 498.5 178.8 498.7 180.8 498.8 182.8 499.0 184.8 499.2 186.9 499.4 188.9 499.6 190.9 499.8 192.9 500.0 194.9 500.2 196.9 500.4 198.9 500.6 200.9 500.9 202.9 501.1 204.9 501.4 206.9 501.6 208.9 501.9 211.0 502.1 213.0 502.4 215.0 502.6 217.0 502.9 219.0 503.2 221.0 503.5 223.0 503.7 225.0 504.0 227.0 504.3 229.0 504.6 231.0 504.9 233.0 505.2 235.1 505.5 237.1 505.8 239.1 506.1 241.1 506.5 243.1 506.9 245.1 507.2 247.1 507.7 249.1 508.1 251.1 508.5 253.1 509.0 255.1 509.4 257.1 509.9 259.2 510.4 261.2 510.9 263.2 511.4 265.2 511.9 267.2 512.4 269.2 512.9 271.2 513.4 273.2 514.0 275.2 514.5 277.2 515.1 279.2 515.6 281.2 516.2 283.3 516.7 285.3 517.3 287.3 517.9 289.3 518.5 291.3 519.1 293.3 519.7 295.3 520.4 297.3 521.1 299.3 521.8 301.3 522.5 303.3 523.3 305.3 524.1 307.4 524.9 309.4 525.8 311.4 526.7 313.4 527.7 315.4 528.8 317.4 530.0 319.4 531.2 321.4 532.5 323.4 533.8 325.4 535.2 327.4 536.6 329.4 538.0 331.5 539.5 333.5 541.0 335.5 542.5 337.5 544.2 339.5 545.9 341.5 547.7 343.5 549.7 345.5 551.7 347.5 554.0 349.5 556.5 351.5 559.1 353.6 561.9 355.6 564.7 357.6 567.6 359.6 570.5 361.6 573.7 363.6 577.0 365.6 580.2 367.6 583.4 369.6 586.5 371.6 589.5 373.6 592.5 375.6 595.4 377.7 598.2 379.7 600.9 381.7 603.4 383.7 605.8 385.7 608.2 387.7 610.6 389.7 613.1 391.7 615.6 393.7 618.2 395.7 620.7 397.7 623.2 399.7 625.7 401.8 628.2 403.8 630.8 405.8 633.5 407.8 635.9 409.8 638.1 411.8 639.9 413.8 641.5 415.8 643.0 417.8 644.4 419.8 645.7 421.8 647.0 423.8 648.2 425.9 649.3 427.9 650.3 429.9 651.3 431.9 652.3 433.9 653.2 435.9 654.1 437.9 655.0 439.9 655.8 441.9 656.6 443.9 657.4 445.9 658.1 447.9 658.8 450.0 659.5 452.0 660.1 454.0 660.7 456.0 661.3 458.0 661.8 460.0 662.2 462.0 662.7 464.0 663.1 466.0 663.5 468.0 664.0 470.0 664.4 472.0 664.8 474.1 665.2 476.1 665.5 478.1 665.9 480.1 666.2 482.1 666.5 484.1 666.8 486.1 667.1 488.1 667.4 490.1 667.6 492.1 667.9 494.1 668.1 496.1 668.2 498.2 668.4 500.2 668.5 502.2 668.6 504.2 668.7 506.2 668.8 508.2 668.9 510.2 669.0 512.2 669.1 514.2 669.2 516.2 669.3 518.2 669.4 520.2 669.5 522.3 669.6 524.3 669.6 526.3 669.7 528.3 669.8 530.3 669.9 532.3 669.9 534.3 670.0 536.3 670.1 538.3 670.1 540.3 670.2 542.3 670.2 544.3 670.3 546.4 670.3 548.4 670.3 550.4 670.4 552.4 670.4 554.4 670.4 556.4 670.5 558.4 670.5 560.4 670.5 562.4 670.5 564.4 670.5 566.4 670.5 568.5 670.5 570.5 670.5 572.5 670.5 574.5 670.5 576.5 670.5 578.5 670.5 580.5 670.5 582.5 670.5 584.5 670.5 586.5 670.5 588.5 670.5 590.5 670.5 592.6 670.5 594.6 670.5 596.6 670.5 598.6 670.5 600.6 670.5 602.6 670.5 604.6 670.5 606.6 670.5 608.6 670.5 610.6 670.4 612.6 670.4 614.6 670.4 616.7 670.3 618.7 670.2 620.7 670.2 622.7 670.1 624.7 670.0 626.7 669.9 628.7 669.8 630.7 669.7 632.7 669.6 634.7 669.5 636.7 669.4 638.7 669.3 640.8 669.2 642.8 669.1 644.8 668.9 646.8 668.8 648.8 668.7 650.8 668.6 652.8 668.4 654.8 668.3 656.8 668.2 658.8 668.0 660.8 667.9 662.8 667.8 664.9 667.7 666.9 667.6 668.9 667.4 670.9 667.3 672.9 667.2 674.9 667.1 676.9 667.0 678.9 666.9 680.9 666.8 682.9 666.8 684.9 666.7 686.9 666.6 689.0 666.5 691.0 666.4 693.0 666.4 695.0 666.3 697.0 666.2 699.0 666.1 701.0 666.1 703.0 666.0 705.0 665.9 707.0 665.8 709.0 665.8 711.0 665.7 713.1 665.6 715.1 665.5 717.1 665.5 719.1 665.4 721.1 665.3 723.1 665.2 725.1 665.2 727.1 665.1 729.1 665.0 731.1 665.0 733.1 664.9 735.1 664.8 737.2 664.8 739.2 664.7 741.2 664.6 743.2 664.6 745.2 664.5 747.2 664.4 749.2 664.4 751.2 664.3 753.2 664.2 755.2 664.2 757.2 664.1 759.2 664.1 761.3 664.0 763.3 663.9 765.3 663.9 767.3 663.8 769.3 663.8 771.3 663.7 771.3 742.3 769.3 742.3 767.3 742.4 765.3 742.4 763.3 742.5 761.3 742.5 759.2 742.5 757.2 742.6 755.2 742.6 753.2 742.6 751.2 742.7 749.2 742.7 747.2 742.7 745.2 742.8 743.2 742.8 741.2 742.8 739.2 742.8 737.2 742.9 735.1 742.9 733.1 742.9 731.1 743.0 729.1 743.0 727.1 743.0 725.1 743.1 723.1 743.1 721.1 743.1 719.1 743.1 717.1 743.2 715.1 743.2 713.1 743.2 711.0 743.3 709.0 743.3 707.0 743.3 705.0 743.3 703.0 743.4 701.0 743.4 699.0 743.4 697.0 743.4 695.0 743.5 693.0 743.5 691.0 743.5 689.0 743.5 686.9 743.5 684.9 743.6 682.9 743.6 680.9 743.6 678.9 743.6 676.9 743.7 674.9 743.7 672.9 743.7 670.9 743.7 668.9 743.7 666.9 743.8 664.9 743.8 662.8 743.8 660.8 743.8 658.8 743.8 656.8 743.9 654.8 743.9 652.8 743.9 650.8 743.9 648.8 743.9 646.8 744.0 644.8 744.0 642.8 744.0 640.8 744.0 638.7 744.0 636.7 744.1 634.7 744.1 632.7 744.1 630.7 744.1 628.7 744.1 626.7 744.2 624.7 744.2 622.7 744.2 620.7 744.2 618.7 744.2 616.7 744.2 614.6 744.3 612.6 744.3 610.6 744.3 608.6 744.3 606.6 744.3 604.6 744.3 602.6 744.3 600.6 744.3 598.6 744.4 596.6 744.4 594.6 744.4 592.6 744.4 590.5 744.4 588.5 744.4 586.5 744.4 584.5 744.4 582.5 744.4 580.5 744.4 578.5 744.4 576.5 744.4 574.5 744.4 572.5 744.4 570.5 744.3 568.5 744.3 566.4 744.3 564.4 744.2 562.4 744.2 560.4 744.1 558.4 744.0 556.4 744.0 554.4 743.9 552.4 743.8 550.4 743.7 548.4 743.6 546.4 743.5 544.3 743.4 542.3 743.3 540.3 743.2 538.3 743.0 536.3 742.9 534.3 742.8 532.3 742.6 530.3 742.5 528.3 742.3 526.3 742.2 524.3 742.0 522.3 741.8 520.2 741.6 518.2 741.5 516.2 741.3 514.2 741.1 512.2 740.9 510.2 740.7 508.2 740.5 506.2 740.3 504.2 740.1 502.2 739.9 500.2 739.7 498.2 739.5 496.1 739.2 494.1 738.9 492.1 738.5 490.1 738.1 488.1 737.7 486.1 737.2 484.1 736.7 482.1 736.1 480.1 735.6 478.1 735.0 476.1 734.4 474.1 733.8 472.0 733.2 470.0 732.5 468.0 731.9 466.0 731.2 464.0 730.6 462.0 730.0 460.0 729.3 458.0 728.7 456.0 728.0 454.0 727.3 452.0 726.6 450.0 725.8 447.9 725.0 445.9 724.2 443.9 723.3 441.9 722.5 439.9 721.7 437.9 720.8 435.9 719.9 433.9 719.0 431.9 718.0 429.9 717.0 427.9 715.9 425.9 714.8 423.8 713.6 421.8 712.3 419.8 711.0 417.8 709.5 415.8 707.9 413.8 706.3 411.8 704.5 409.8 702.7 407.8 700.7 405.8 698.7 403.8 696.6 401.8 694.4 399.7 692.1 397.7 689.6 395.7 686.6 393.7 683.4 391.7 680.0 389.7 676.6 387.7 673.1 385.7 669.8 383.7 666.8 381.7 664.1 379.7 661.7 377.7 659.4 375.6 657.2 373.6 654.9 371.6 652.4 369.6 649.6 367.6 646.5 365.6 643.2 363.6 640.1 361.6 637.5 359.6 635.2 357.6 633.1 355.6 631.2 353.6 629.3 351.5 627.6 349.5 626.0 347.5 624.4 345.5 623.0 343.5 621.6 341.5 620.2 339.5 618.9 337.5 617.5 335.5 616.2 333.5 614.9 331.5 613.8 329.4 612.7 327.4 611.7 325.4 610.7 323.4 609.8 321.4 608.9 319.4 608.0 317.4 607.1 315.4 606.3 313.4 605.5 311.4 604.7 309.4 603.9 307.4 603.2 305.3 602.5 303.3 601.8 301.3 601.1 299.3 600.5 297.3 599.8 295.3 599.2 293.3 598.6 291.3 598.0 289.3 597.4 287.3 596.9 285.3 596.3 283.3 595.8 281.2 595.2 279.2 594.7 277.2 594.2 275.2 593.7 273.2 593.2 271.2 592.7 269.2 592.3 267.2 591.8 265.2 591.4 263.2 590.9 261.2 590.5 259.2 590.1 257.1 589.7 255.1 589.3 253.1 589.0 251.1 588.6 249.1 588.2 247.1 587.8 245.1 587.5 243.1 587.1 241.1 586.7 239.1 586.4 237.1 586.0 235.1 585.7 233.0 585.3 231.0 585.0 229.0 584.6 227.0 584.3 225.0 584.0 223.0 583.7 221.0 583.4 219.0 583.1 217.0 582.8 215.0 582.5 213.0 582.2 211.0 582.0 208.9 581.7 206.9 581.5 204.9 581.2 202.9 581.0 200.9 580.8 198.9 580.6 196.9 580.4 194.9 580.2 192.9 580.1 190.9 579.9 188.9 579.8 186.9 579.6 184.8 579.5 182.8 579.3 180.8 579.2 178.8 579.0 176.8 578.9 174.8 578.7 172.8 578.6 170.8 578.4 168.8 578.3 166.8 578.2 164.8 578.0 162.8 577.9 160.7 577.8 158.7 577.7 156.7 577.6 154.7 577.5 152.7 577.3 150.7 577.3 148.7 577.2 146.7 577.1 144.7 577.0 142.7 576.9 140.7 576.9 138.7 576.8 136.6 576.7 134.6 576.7 132.6 576.7 130.6 576.6 128.6 576.6 126.6 576.6Z" fill="#d3d3d3"/><path d="M626 784 624 781 617 785 603 787 604 788 625 788ZM510 774 508 772 505 774 500 774 497 777 499 780 507 783 508 777ZM598 760 597 759 592 761 595 763ZM440 754 439 755 440 758 444 763 444 769 436 771 431 775 435 780 437 778 446 778 449 781 449 787 454 788 456 780 459 777 465 775 466 773 464 771 461 774 453 774 452 765 450 761 445 756ZM420 729 421 739 425 739 437 744 438 743 436 741 435 734 424 735 423 729 422 728ZM393 730 405 743 411 744 414 741 408 740 403 732 402 726 400 729ZM379 703 376 708 378 713 380 705ZM360 677 359 676 354 678 351 682 354 684ZM305 661 309 663 311 662 308 659ZM352 658 359 661 361 659 359 655ZM669 647 668 648 670 649 671 648ZM311 632 304 630 300 638 282 639 275 635 265 641 256 642 255 643 256 651 260 656 265 656 266 649 269 646 279 645 290 653 290 658 293 661 297 661 298 660 295 654 295 646 297 644 302 644 304 642 304 638ZM768 625 767 624 759 631 767 633ZM660 620 655 621 653 623 654 631 658 634 664 628 664 625ZM728 620 730 624 734 624 737 622 733 618 730 618ZM253 623 256 624 260 622 266 622 271 616 280 616 282 613 281 612 271 612 268 609 261 609 260 616 256 618ZM239 609 240 610 246 609 245 608ZM256 597 254 599 254 604 257 606 258 598ZM229 590 226 592 219 593 217 595 225 596 227 598 227 605 215 607 214 633 216 635 223 633 240 633 241 632 240 628 228 618 228 610 230 608 238 607 237 606 237 594ZM235 477 236 486 238 489 238 498 244 502 250 503 253 506 255 512 255 530 254 531 255 538 257 540 258 539 270 539 275 541 278 545 278 553 270 557 267 560 265 565 258 565 257 558 256 557 255 558 254 577 256 583 260 587 266 585 264 579 264 569 274 567 275 561 277 559 285 559 288 562 294 562 295 570 294 571 285 570 283 572 282 582 269 587 273 591 280 591 282 593 283 600 285 597 295 596 306 599 313 599 321 605 324 601 332 599 324 591 325 582 329 579 335 579 339 585 346 588 346 596 337 601 337 609 330 614 330 619 331 620 342 620 347 623 354 619 362 619 364 621 364 627 360 629 356 635 350 638 340 637 338 643 330 647 333 652 338 656 343 656 344 655 339 650 339 644 344 641 371 643 384 657 386 679 384 681 381 681 378 684 378 687 381 691 382 701 392 690 399 689 397 668 406 667 411 669 418 678 418 686 411 690 405 691 404 695 406 705 409 702 419 703 419 708 413 712 413 720 416 722 420 715 429 715 439 723 440 731 445 729 453 729 459 734 460 739 462 741 475 740 480 745 484 746 486 748 486 758 487 759 493 756 497 756 498 753 494 744 484 744 482 742 482 736 491 735 494 738 495 742 510 738 511 737 510 732 507 728 507 719 515 718 516 725 525 730 525 740 519 742 521 747 525 751 533 751 542 757 542 763 539 766 528 766 525 769 524 774 526 778 526 784 523 787 524 788 538 788 540 776 559 776 563 781 564 788 571 788 573 779 583 778 575 776 574 773 574 767 576 763 575 762 568 762 563 768 554 768 550 762 549 755 545 752 537 750 537 743 541 740 549 738 556 738 560 740 565 737 573 737 582 748 587 746 601 746 603 748 603 756 600 759 601 760 607 760 610 754 622 755 623 754 622 751 615 750 612 748 610 734 607 730 607 719 612 716 621 717 627 715 625 713 625 704 627 700 634 701 635 703 635 713 634 714 635 715 659 716 662 719 662 729 660 733 662 737 670 737 674 739 699 738 710 733 718 733 724 737 732 736 736 732 730 724 717 721 714 718 715 709 732 708 736 713 746 712 754 720 754 730 750 735 751 737 763 737 767 739 768 736 765 734 766 726 763 723 764 715 760 712 758 707 759 695 762 693 768 692 768 665 765 664 760 669 753 669 738 662 733 667 711 671 710 676 708 678 699 678 698 668 691 670 683 670 680 669 676 665 672 667 668 667 661 672 650 672 647 669 643 673 628 672 623 674 609 674 608 675 585 675 578 673 566 673 565 672 552 673 550 675 550 687 546 690 537 690 531 688 523 691 521 693 523 696 523 702 521 704 511 704 508 700 508 694 502 690 498 691 499 692 498 701 489 701 486 698 486 692 490 689 496 688 495 673 492 670 485 668 484 677 475 678 470 670 469 661 459 661 450 657 439 656 426 646 423 639 420 642 419 646 413 646 405 639 404 636 397 628 391 635 390 640 387 645 379 645 373 639 373 631 379 626 379 618 381 616 388 615 381 610 376 604 372 596 372 593 370 591 367 593 366 599 364 601 356 601 354 598 355 590 354 576 351 575 345 568 345 553 343 550 332 542 332 534 339 531 340 529 338 527 338 519 335 513 335 504 337 498 337 488 335 483 335 477 330 471 328 464 322 468 313 468 311 466 311 461 305 457 289 457 286 459 273 459 267 457 264 459 259 459 254 461 250 464 251 474 248 478 241 478 238 474ZM580 736 588 735 589 742 587 744 581 744ZM531 731 538 730 539 736 532 737ZM692 715 694 714 702 715 702 729 701 730 693 730 691 728 690 718ZM489 704 497 704 503 711 502 720 498 722 490 722 488 720 486 714 486 708ZM549 702 550 710 548 712 548 718 547 719 536 719 534 716 534 706 539 705 542 702ZM430 702 432 700 440 700 443 703 443 711 442 712 431 712ZM689 700 691 698 698 698 699 706 690 707ZM554 695 564 694 567 698 567 706 566 707 557 706 554 703ZM447 695 454 694 461 699 462 707 452 708 447 703ZM568 687 569 686 587 687 590 690 590 697 588 701 582 706 574 706 568 696ZM622 680 623 679 635 680 637 683 637 693 634 695 625 694 622 690ZM423 669 431 669 432 672 438 678 438 686 436 689 426 688 424 683 421 680 421 671ZM392 655 396 652 404 652 405 660 401 664 393 664ZM314 520 324 519 325 527 323 529 316 529 314 527ZM271 498 276 498 282 503 283 507 293 507 297 501 304 501 306 503 306 510 300 514 299 524 304 527 304 535 297 537 299 539 299 547 297 553 291 553 289 551 288 539 290 537 293 537 294 535 290 531 285 530 284 522 282 519 282 512 281 511 271 511 269 509 269 503ZM318 496 328 497 326 516 318 515 317 506ZM275 484 275 473 278 469 288 469 292 474 293 480 297 479 309 470 317 471 317 478 311 484 309 488 300 494 295 495 289 499 283 499 279 496 278 487Z" fill="#fc9c9b" fill-rule="evenodd"/><path d="M330 452h0m-3 2h0m-5 1h0m-3-1h0m-5 1h0m-2 1h0m-7-2h0m-2 0h0m0 1h0m-10-2h0m-1-1h0m-1 1h0m-1-1h0m-2 3h0m-2-2h0m-3 1h0m-3 0h0m-10-3h0m-1 1h0m0-3h0m-3 4h0m-3 3h0m-5-7h0m-2 6h0m-63 6h0m18-2h0m3-3h0m8 8h0m3 2h0m6 2h0m11-2h0m1-3h0m0 1h0m1-3h0m2-4h0m1 10h0m1-1h0m1-2h0m1 4h0m0-1h0m2-8h0m0 2h0m4-1h0m1 0h0m0-4h0m0 3h0m7-1h0m0 0h0m2-1h0m5 1h0m10 0h0m1 1h0m1-3h0m1 4h0m3-2h0m3-1h0m1-1h0m6 2h0m2 0h0m1-2h0m7 3h0m1 0h0m1-3h0m3 8h0m0-5h0m1 7h0m0-9h0m0 5h0m2 4h0m0 1h0m1 0h0m0-6h0m1 3h0m1-2h0m0 3h0m1 0h0m1-4h0m1 6h0m2 0h0m1-4h0m2 2h0m0-1h0m2 1h0m1 0h0m1-4h0m3 2h0m2-2h0m0 5h0m41 13h0m-26-6h0m-1 0h0m0 7h0m-3-1h0m-3 0h0m-3-3h0m0-4h0m0-1h0m0 7h0m-1-3h0m-1 1h0m-2 2h0m-1-2h0m0-3h0m0-1h0m-1 1h0m0-4h0m-1 5h0m-1-5h0m-1 1h0m-14 5h0m0-4h0m0 8h0m-1-5h0m-1-6h0m0 10h0m0-5h0m-2 6h0m-1-8h0m0 0h0m-2 9h0m-5-4h0m0-3h0m-1 0h0m0 2h0m-2 4h0m-2-1h0m-11-4h0m-3-1h0m-2 2h0m0 4h0m-1-9h0m0 3h0m0-4h0m-2 2h0m-1-1h0m-2 6h0m-1-6h0m0 6h0m-1-3h0m0 1h0m-1 2h0m-24-6h0m0 6h0m-2-7h0m-1 8h0m-1-8h0m0 9h0m-1-4h0m-1-1h0m-1 0h0m-1 2h0m-2 2h0m0-1h0m-1-6h0m-1 3h0m0-4h0m-1 6h0m-2 1h0m0-7h0m-1 9h0m-1-7h0m-6-2h0m0 8h0m-18-2h0m-13 4h0m-35-4h0m-10 4h0m-1-2h0m58 6h0m11 3h0m5 1h0m3-4h0m1 7h0m1-1h0m1 1h0m0-6h0m0 0h0m0 2h0m2 2h0m1 0h0m0-5h0m2-1h0m1 8h0m1-2h0m0 3h0m39-8h0m0 0h0m1 4h0m0-3h0m0-3h0m3 1h0m0 8h0m3 1h0m0-4h0m0 0h0m0-5h0m1 3h0m3-2h0m1 8h0m1-5h0m0-3h0m1-2h0m1 0h0m0 2h0m1 7h0m0 0h0m1-4h0m2 2h0m1 1h0m0-3h0m1-3h0m1 8h0m2-9h0m1 8h0m0 1h0m1-3h0m0-5h0m1 3h0m0 5h0m1 0h0m1-4h0m1-2h0m1-1h0m1 2h0m0-1h0m1 2h0m0 1h0m1-8h0m4 0h0m21 3h0m0-1h0m2 3h0m3 2h0m2 4h0m0-3h0m1-3h0m5 3h0m2-1h0m20 5h0m1-5h0m4-4h0m-7 15h0m-2 5h0m-2-11h0m-2 10h0m-2-7h0m0 7h0m-1-2h0m-2-3h0m-7 1h0m-4-2h0m-5 8h0m-3-5h0m0-5h0m0-1h0m0 5h0m0 5h0m-1-11h0m0 8h0m0 0h0m0-7h0m-1 11h0m-9-4h0m-1 1h0m-1-2h0m-1 0h0m0 1h0m-1-4h0m-1 5h0m-1-2h0m-1-3h0m-1 6h0m0-4h0m-14 4h0m-1 1h0m-2-1h0m-1 1h0m-1-2h0m-5 2h0m-2-10h0m-2 0h0m-2-1h0m-3 2h0m-4 1h0m0-1h0m-2-1h0m-3 9h0m-1-4h0m-2 2h0m-1-1h0m0 2h0m0-2h0m-1 2h0m-2-1h0m-28 2h0m-5-4h0m-1-4h0m-4-1h0m0 10h0m-1-6h0m-2 1h0m0 2h0m-1 2h0m0 1h0m0-5h0m-1 1h0m-4-1h0m-3-2h0m-2 8h0m-3-8h0m-6 1h0m-21 2h0m-5 4h0m-4 0h0m-7-4h0m-2 5h0m-4-4h0m-8 2h0m0 0h0m-2-5h0m-3 4h0m-20-2h0m-4 9h0m15 3h0m2 2h0m5-7h0m2-1h0m3 1h0m0 7h0m8 1h0m9 2h0m3-6h0m11 0h0m4 3h0m2-2h0m1 2h0m4-3h0m13 3h0m1 1h0m3-3h0m3-4h0m3-2h0m0 9h0m9 2h0m3-8h0m1-4h0m1 3h0m1 4h0m3 3h0m3-8h0m1-1h0m2 1h0m2-2h0m0 6h0m1-2h0m1-2h0m0-1h0m0 2h0m1 8h0m1-4h0m1 0h0m0-5h0m0 0h0m2 7h0m1 1h0m0-1h0m0 0h0m13-6h0m1 2h0m1-5h0m0 2h0m1-2h0m0 6h0m1-3h0m0 4h0m4-2h0m2 2h0m1-5h0m1 2h0m2 7h0m0-5h0m3 5h0m2 0h0m0-8h0m0 2h0m0 2h0m1 2h0m1-5h0m2 5h0m3-4h0m0-5h0m1 5h0m0 6h0m0-4h0m0 0h0m2-4h0m0 0h0m1-3h0m0 6h0m1 3h0m1-2h0m0-3h0m2-3h0m0 8h0m1-4h0m1-2h0m0 2h0m14 0h0m0 0h0m0 2h0m2 4h0m0-10h0m0 1h0m2 1h0m1 8h0m0-9h0m0 6h0m2 3h0m1-3h0m2-6h0m6 6h0m1-4h0m0 1h0m1-4h0m0 10h0m0-10h0m1 4h0m1 3h0m0-7h0m1 4h0m3 7h0m1-5h0m1-2h0m4 6h0m1-2h0m1-2h0m3-5h0m1 1h0m9-3h0m4 2h0m1 0h0m5-1h0m1 5h0m2 3h0m6 9h0m-6-1h0m0 3h0m-1-1h0m0 1h0m-1 4h0m-1-12h0m-2 1h0m-1 4h0m-2 5h0m-2 0h0m-13-1h0m-2-9h0m0 8h0m-3-2h0m-1-4h0m0 9h0m-1-2h0m0-2h0m-3 2h0m-2-1h0m0 1h0m-2 0h0m0 0h0m0-9h0m0 10h0m-1-2h0m-2-5h0m-11 4h0m0-4h0m-2 5h0m0-5h0m-1 6h0m0-1h0m-2-3h0m-2 6h0m-1-4h0m-1 4h0m-2-7h0m-15-1h0m0 2h0m-1-3h0m0 0h0m-1 7h0m-2-4h0m0-2h0m-1-1h0m-1 7h0m-1 0h0m-1-1h0m-1-4h0m0 0h0m-3 4h0m0-1h0m-2 0h0m0 0h0m0 5h0m0-4h0m-1-2h0m0-3h0m-1-3h0m-28 3h0m0 3h0m0 4h0m-3-10h0m0 5h0m0-3h0m-1 1h0m-6 4h0m-6 2h0m-1-9h0m-1 1h0m-1 10h0m-2-6h0m-9 6h0m-5-5h0m-7 0h0m0 6h0m-2-6h0m0-3h0m-3 7h0m-1-6h0m-5 7h0m-1-1h0m-1-6h0m-1 5h0m-4 2h0m-1-8h0m-3-1h0m-1 8h0m0 2h0m-4-10h0m0 2h0m-5 0h0m0 8h0m-1-6h0m-1-6h0m0 10h0m-2 1h0m-1-6h0m-1 1h0m0-3h0m-1 5h0m-1 2h0m0-5h0m-1 2h0m0 3h0m-2-2h0m-1-4h0m-4 6h0m-2-9h0m-4 10h0m-2-2h0m-3 3h0m-1-11h0m-1 6h0m-4-2h0m-18 18h0m0-4h0m0 3h0m8-9h0m11 5h0m2-3h0m5 3h0m1 1h0m0 3h0m1 0h0m3-10h0m3 5h0m1-5h0m3 12h0m0 0h0m1-8h0m1 6h0m10-9h0m3 4h0m0 0h0m1-3h0m1-1h0m2-1h0m0 3h0m0 4h0m2 2h0m0-7h0m1 9h0m4-4h0m1-7h0m0 3h0m3 0h0m0 7h0m1-2h0m2 1h0m1-5h0m1 4h0m0 3h0m0-10h0m5 8h0m0-1h0m0-8h0m1 5h0m8 5h0m6-4h0m11-3h0m1 3h0m7 4h0m3 0h0m1-6h0m1 6h0m3-5h0m0-3h0m1 7h0m0-9h0m1 9h0m1-7h0m0 0h0m1 6h0m1 2h0m12 1h0m20-8h0m2 7h0m0-9h0m2 2h0m4 4h0m1 1h0m1-2h0m1 1h0m1-2h0m3-5h0m1 3h0m0 1h0m17-4h0m12 6h0m0 2h0m0 2h0m2-5h0m0 1h0m3-1h0m2-1h0m0 6h0m1-10h0m0 2h0m0-1h0m0 3h0m1-4h0m0 3h0m1-1h0m1 6h0m1 1h0m2-1h0m1 1h0m1-7h0m3 7h0m1-1h0m1-6h0m0 3h0m1 6h0m0-8h0m2 5h0m0-7h0m1 2h0m0 5h0m1 1h0m1-2h0m14-3h0m1 1h0m1-5h0m1 12h0m6-5h0m3-3h0m3 7h0m0 0h0m1-5h0m0 1h0m1 1h0m2 0h0m5 7h0m-1 7h0m-3-2h0m-2 3h0m-1-6h0m-3-2h0m0 5h0m-9-3h0m-1-5h0m-1 4h0m-2 0h0m0 7h0m0-1h0m-2-6h0m-2 0h0m-2 2h0m-6-3h0m-2 3h0m-2 1h0m0-6h0m-1-1h0m-1 0h0m-3 8h0m-2-1h0m0-1h0m-1 3h0m-1-1h0m-1 2h0m0-9h0m-1 8h0m-1-3h0m-1 1h0m-2 4h0m0-1h0m0-8h0m-1 9h0m0 0h0m-6-10h0m-1 1h0m-1 1h0m0-1h0m-36 6h0m-1 0h0m0-4h0m-1 1h0m0-2h0m-1 3h0m0-1h0m0 6h0m0-10h0m0 3h0m-2 2h0m0 1h0m-1-1h0m-1-5h0m-1 3h0m0 4h0m-2-7h0m0 6h0m0-1h0m0-5h0m-10 9h0m-1-5h0m0 1h0m-2 1h0m-1-3h0m-1 4h0m0 1h0m-2-6h0m-1 0h0m-2 6h0m0-8h0m-3 0h0m-1 3h0m-2-4h0m-1 3h0m0-1h0m0 4h0m-1-2h0m-1-1h0m-1 8h0m0-9h0m-1 3h0m-1-3h0m-1 9h0m0-4h0m-1 3h0m0-8h0m-1 2h0m-1 8h0m0-10h0m-2 1h0m0 0h0m-1 9h0m-1-6h0m-2 4h0m0-9h0m-1 10h0m-3-6h0m0-5h0m0 8h0m-1-8h0m-1 11h0m0-7h0m-1-2h0m-1 9h0m-1 1h0m-4-1h0m-3-1h0m-1-4h0m-2 0h0m-5 1h0m-1 2h0m-5-2h0m-2 5h0m-5-4h0m-3-3h0m0-2h0m-1 6h0m-2-7h0m0 0h0m-1 8h0m0-10h0m0 10h0m-1-7h0m0-1h0m-1 1h0m0 0h0m0-1h0m0-2h0m-1 3h0m-1 6h0m-1 0h0m0-8h0m0 4h0m-1 2h0m0 0h0m-3-6h0m-2 1h0m0-2h0m-2 11h0m-1 0h0m-2-3h0m0-4h0m-1 4h0m-1-5h0m0 6h0m-1-8h0m-1 9h0m-3-1h0m-2 1h0m0-2h0m-1 2h0m-3-6h0m-2 4h0m-6-3h0m0-4h0m-11 4h0m-2-5h0m-1 4h0m-18-3h0m2 22h0m10-5h0m4 2h0m1 0h0m2-7h0m2 1h0m0 4h0m1 4h0m0-8h0m2 6h0m0 4h0m4-3h0m0 2h0m4 1h0m1-11h0m2 1h0m2 9h0m5-3h0m1-4h0m0 5h0m3-4h0m1 4h0m0-7h0m4 1h0m0 3h0m1-6h0m1 8h0m1-4h0m0 5h0m2 1h0m2-10h0m1 5h0m1-1h0m1 7h0m3-7h0m2-3h0m0 0h0m4-1h0m6 6h0m0-3h0m0-2h0m3 10h0m0 1h0m1-6h0m0 2h0m2-1h0m0 1h0m1-3h0m8-3h0m3 5h0m1-1h0m2 2h0m1-2h0m0-3h0m1 8h0m2-3h0m1-1h0m1-5h0m3 7h0m2-3h0m2 0h0m2-2h0m1 7h0m0-3h0m2-3h0m2 1h0m0-2h0m0 1h0m1-5h0m0 8h0m0-8h0m1 3h0m1 6h0m2 2h0m1-6h0m0-2h0m1 7h0m0 1h0m2 0h0m0 1h0m2-2h0m4 0h0m0 2h0m0-3h0m0 2h0m1-3h0m0 0h0m0-2h0m1 1h0m2-3h0m2 0h0m1-4h0m0 0h0m3 10h0m0 1h0m1-8h0m3 7h0m0 0h0m1 1h0m4-3h0m1 2h0m0-3h0m3 3h0m2 2h0m1-11h0m2 0h0m1 10h0m50-6h0m1 0h0m0 5h0m0-6h0m2 2h0m0-5h0m0 0h0m0 2h0m0 8h0m1-8h0m1-1h0m1 2h0m2 7h0m1-10h0m1-1h0m2 6h0m0 1h0m3 3h0m0-8h0m2 7h0m2-1h0m1 0h0m2-5h0m4 9h0m2-11h0m1 3h0m0 8h0m2-8h0m3 6h0m4-7h0m3-2h0m6 5h0m12 2h0m4 2h0m4-4h0m1-5h0m1 10h0m4-3h0m1-3h0m0 7h0m0 2h0m-4 7h0m-6-9h0m-3 3h0m-6-3h0m-2 2h0m-10 6h0m-2 1h0m-7-1h0m-3 4h0m-1-9h0m-2 3h0m0 5h0m-1-7h0m-2-3h0m-1 10h0m0-1h0m0-2h0m-1 3h0m-1-10h0m0 2h0m-1 5h0m0 1h0m-2-1h0m-2 2h0m0 0h0m-4-8h0m0 3h0m-2 2h0m-1 5h0m0-6h0m0 3h0m0-6h0m0 7h0m-1 0h0m0-1h0m-1 2h0m0 0h0m-2 1h0m0-7h0m-1 5h0m-2-7h0m0-2h0m-53 4h0m0-3h0m0 3h0m0-2h0m-1 2h0m0-3h0m-1 5h0m-1-5h0m0 5h0m-2-3h0m-6-2h0m0 1h0m-1 2h0m0 4h0m0-3h0m-1 5h0m-2 1h0m-1-7h0m0-1h0m-2-4h0m0 11h0m-1-3h0m0 4h0m0-9h0m-1-2h0m0 10h0m0-4h0m-2 1h0m-1 0h0m-4-1h0m-1 4h0m0-6h0m-2-3h0m0 0h0m0 8h0m-1-4h0m-10 0h0m0 3h0m0-9h0m-3 6h0m-2 4h0m-1-5h0m0 4h0m-3 1h0m-1-9h0m-1 7h0m0 3h0m0-7h0m-1 1h0m0 3h0m-1-1h0m0-4h0m-1-2h0m-1 8h0m-1-6h0m0 0h0m-2 4h0m0-2h0m0 2h0m-3-4h0m0-2h0m0 8h0m-1-4h0m0-4h0m-10 9h0m-7-4h0m0-4h0m-1 6h0m-3-1h0m-7-6h0m-7 3h0m-1 3h0m-1 0h0m-2-4h0m-1 6h0m-2-5h0m0 3h0m-2 4h0m0-3h0m-3-3h0m-2-5h0m0 8h0m0 2h0m-1 0h0m0-8h0m0 7h0m-2-2h0m0-6h0m-1 3h0m-1-2h0m-1 3h0m-1-2h0m-1 4h0m-6-6h0m-2-1h0m-6 9h0m0-7h0m-2 6h0m0-7h0m-2 3h0m-4 0h0m-8 0h0m-6 3h0m-2 4h0m-7 1h0m-2 8h0m11 3h0m3-3h0m8-8h0m10 4h0m3-3h0m0 0h0m6 6h0m1 4h0m9-9h0m3-2h0m7 3h0m1 5h0m0-5h0m1 4h0m1-6h0m1 5h0m2 5h0m1-10h0m1 0h0m0 2h0m2 7h0m3-9h0m1 5h0m2 5h0m0-7h0m1 1h0m0 7h0m6-12h0m3 12h0m1-1h0m1-9h0m0 7h0m0 1h0m0-1h0m1 3h0m2-2h0m1-2h0m0 4h0m3-3h0m3 3h0m4 0h0m3-2h0m1-2h0m1 3h0m2-4h0m5-5h0m1 0h0m1 1h0m0 5h0m1 3h0m0-9h0m1 2h0m2-3h0m0 7h0m1 0h0m3 0h0m1-5h0m1 4h0m0-4h0m1 3h0m1 5h0m1-1h0m8-8h0m0 3h0m2 2h0m1 5h0m0-2h0m0 0h0m0-4h0m1 4h0m5-9h0m0 7h0m1-1h0m2 0h0m1 2h0m0-4h0m2 1h0m2-5h0m42 9h0m2 0h0m0 1h0m1 0h0m2-5h0m0 2h0m0 0h0m0-3h0m1-2h0m0 2h0m2 6h0m0-5h0m0 2h0m1-2h0m1 5h0m0 0h0m1-2h0m1-3h0m1 3h0m3 2h0m13-5h0m1-2h0m1 1h0m1 4h0m1 2h0m0 1h0m4-11h0m2-1h0m0 3h0m0 8h0m1-10h0m2 6h0m1 5h0m5-11h0m1 0h0m1 2h0m2 7h0m0-6h0m2 8h0m1-5h0m1 2h0m1-3h0m1 6h0m0-7h0m0 4h0m2 2h0m1 0h0m1-4h0m1-2h0m8-3h0m3 1h0m1 6h0m1-1h0m3 1h0m2 3h0m6-1h0m2-3h0m0-6h0m13 9h0m4-6h0m327 11h0m-1 7h0m-11-11h0m-3 6h0m-4-1h0m-27-2h0m-24 6h0m-34-5h0m-11 6h0m-196-3h0m-1-4h0m-5 5h0m-1-5h0m-11 0h0m0-1h0m-3 4h0m-1-1h0m0 2h0m-5 0h0m-2-3h0m-1 0h0m-7-1h0m-2 8h0m-1-10h0m0 5h0m-8 5h0m0 1h0m-3-3h0m-4-7h0m-1 9h0m0-7h0m0 6h0m-2-9h0m0 7h0m0-7h0m-2 7h0m0-5h0m-1-1h0m0 8h0m0-4h0m-1-3h0m-1-1h0m-5 6h0m-1 1h0m-1-2h0m0-6h0m-3 1h0m0 5h0m0-5h0m-1 1h0m-1 1h0m-3-1h0m-1 1h0m-1 3h0m0-4h0m0 0h0m-2 8h0m-1-9h0m-1 0h0m-1-1h0m-2 5h0m-1-6h0m0 4h0m-1-2h0m-1 4h0m0 4h0m0-1h0m0 0h0m-1-5h0m0 6h0m0-8h0m-1 1h0m-11 2h0m-2 4h0m0 1h0m-1-7h0m-1 8h0m-1-5h0m0 2h0m0-2h0m-1-4h0m-1-2h0m0 2h0m-1 0h0m-1 0h0m-2 9h0m0-6h0m0 6h0m-1-4h0m-3-3h0m-1 1h0m-1 1h0m-3-4h0m-15 9h0m-15-2h0m-1 0h0m-7 2h0m-4-5h0m0 3h0m-1-1h0m0 4h0m-3-5h0m-1 1h0m-1 2h0m-1-4h0m-1 3h0m-1-3h0m-2 6h0m-2-2h0m-2-6h0m0 1h0m0-3h0m-1 7h0m-1 3h0m-2-12h0m-1 2h0m-1 9h0m0-5h0m0-1h0m-1 0h0m0 7h0m-1-7h0m0 6h0m-1-9h0m-1 8h0m-1-2h0m-2-1h0m0 0h0m-1 3h0m-1 0h0m0 0h0m0-7h0m-2-2h0m-1 4h0m-2 0h0m0 3h0m-2 0h0m-6-8h0m0 1h0m0 5h0m0-1h0m-10-5h0m-2 11h0m0-8h0m-5 2h0m0 6h0m-2 0h0m-1-9h0m0 0h0m0 8h0m-1-6h0m-1 6h0m0-1h0m-1-6h0m0 5h0m0 2h0m-1-2h0m-1-2h0m0 0h0m-1-3h0m-1 1h0m-1-4h0m-1 8h0m-2 2h0m-1 1h0m-3-3h0m-5-7h0m-2 6h0m0-1h0m-1 1h0m-3 4h0m-4-10h0m0 1h0m-3 1h0m-6 5h0m-4 2h0m-1-2h0m-1-6h0m0-1h0m-5 1h0m-8 1h0m0 3h0m-1-4h0m-1 7h0m-3-6h0m-8 1h0m-1 4h0m-1-6h0m-1 4h0m-3 1h0m-1 2h0m-2-7h0m0 1h0m-9 7h0m-1-2h0m7 10h0m6 2h0m3 1h0m6 2h0m4-3h0m1 3h0m3-9h0m1 2h0m5-2h0m0 8h0m6-1h0m2-8h0m1 4h0m0-2h0m1 2h0m1 4h0m4 3h0m0-6h0m5-2h0m0-3h0m0 11h0m5-11h0m0-1h0m0 9h0m2 2h0m1-3h0m0-3h0m4-1h0m3 7h0m0-3h0m0 3h0m2-7h0m0-1h0m1 4h0m1 2h0m3-1h0m0-1h0m2-2h0m0 5h0m1-2h0m0 2h0m2-7h0m2 0h0m2 8h0m0-2h0m0-3h0m1-5h0m1 4h0m1-3h0m1 2h0m1-4h0m0 1h0m3 0h0m1 5h0m1 0h0m1-3h0m1 8h0m5-2h0m1-1h0m1 3h0m2-3h0m0 1h0m1-7h0m0 8h0m0-3h0m0-1h0m2-4h0m0 1h0m2 5h0m0-7h0m4 6h0m1 5h0m2-2h0m3-1h0m1-7h0m0 9h0m0-4h0m1 3h0m0-1h0m1-5h0m0 2h0m0 1h0m1 4h0m1-6h0m1 3h0m0 0h0m1-3h0m1-4h0m2 8h0m0-1h0m0-7h0m1 0h0m2 7h0m1-3h0m0 1h0m1 1h0m1-7h0m0 8h0m2-6h0m0 1h0m1 7h0m1-1h0m2 1h0m0 1h0m1-9h0m0 6h0m1 4h0m0-9h0m1-3h0m3 11h0m1-10h0m0 1h0m1 3h0m0-1h0m1 0h0m0 8h0m1-10h0m1 1h0m0 3h0m2-5h0m0 1h0m1 1h0m1 1h0m0 3h0m2 3h0m0-5h0m1 2h0m0 3h0m1-1h0m2 0h0m0-5h0m0-1h0m5 2h0m0-5h0m2 11h0m1-4h0m1-6h0m2 3h0m1 3h0m1-1h0m1-6h0m0 8h0m0-8h0m1 12h0m2-1h0m2-8h0m0-1h0m1 6h0m1 2h0m1-7h0m2 5h0m5-4h0m2 3h0m0 5h0m2-1h0m0-2h0m0-3h0m0-4h0m1 2h0m1 6h0m0 1h0m1-7h0m1 5h0m2 0h0m0 1h0m3-3h0m0-4h0m0 1h0m1-3h0m23 0h0m5 0h0m11 0h0m1 4h0m0-2h0m1-1h0m1 4h0m1-3h0m0 0h0m1 7h0m1-3h0m0-3h0m2 1h0m1 5h0m1-7h0m0-2h0m2 8h0m0-6h0m1 2h0m2 0h0m1 3h0m2 4h0m1-3h0m0-1h0m2-6h0m0 6h0m1-4h0m0 5h0m1-7h0m0 0h0m0 5h0m0-3h0m1 0h0m1 3h0m1 4h0m0-4h0m1-3h0m1 5h0m7-4h0m5 2h0m4 0h0m4 2h0m0 1h0m2 0h0m1-10h0m4 2h0m7 9h0m2-1h0m5-2h0m1 1h0m3-5h0m4-2h0m3 3h0m2 6h0m170-3h0m27-2h0m1-6h0m6 1h0m23 9h0m8-3h0m3 1h0m0 1h0m8 1h0m4-5h0m19 3h0m3-6h0m11 7h0m1 0h0m2-2h0m3-4h0m7 2h0m2 5h0m3 0h0m0-2h0m0 2h0m3-3h0m1 0h0m2 2h0m5 15h0m-1-6h0m-2 1h0m-1-3h0m-1 5h0m-2-8h0m-1 5h0m0-5h0m-2 6h0m-4 1h0m-2-1h0m-1 4h0m-1-3h0m-3-1h0m-1-2h0m0-5h0m-2 10h0m-3-4h0m0 5h0m-1-9h0m0 9h0m-1-5h0m0-1h0m-1-1h0m0 7h0m-2-5h0m0-2h0m-7 0h0m-2-1h0m-1 6h0m-2-6h0m0 0h0m0-2h0m-2 1h0m-1 7h0m-1-8h0m-1 2h0m-4 8h0m0-4h0m-5 3h0m0-9h0m-1 0h0m-1 0h0m-1 2h0m0-1h0m-5 3h0m-1-5h0m0 6h0m0 0h0m-1-6h0m-1 10h0m-1-7h0m-1 8h0m-2-4h0m-1 0h0m-1-3h0m-2 4h0m-2 0h0m-1-3h0m-2 7h0m-7-1h0m0-4h0m-1 5h0m-6-4h0m-2-1h0m-2 4h0m-1-5h0m-1 1h0m-1 2h0m-3 0h0m0-5h0m-1-1h0m-1 3h0m-2 4h0m0-4h0m-1-2h0m-7 6h0m0-2h0m-1 3h0m0-2h0m-2 2h0m0-5h0m-2 5h0m-2-2h0m-8-1h0m-5 2h0m0 1h0m-2 0h0m-2-3h0m-166 2h0m-1 0h0m-4-9h0m-1 5h0m-4-4h0m-1 10h0m-1-1h0m-5-3h0m-1-1h0m0-1h0m-4 4h0m-1-1h0m0 0h0m-1-3h0m0 6h0m-3-9h0m-9 2h0m-6 3h0m-1-3h0m0 5h0m-3-4h0m-1 6h0m-2-6h0m0 0h0m-2-5h0m0 9h0m-3-9h0m-1-1h0m-1 9h0m-3-4h0m0 0h0m-1 2h0m-5 3h0m0 0h0m-2-7h0m-1 6h0m0-6h0m0 3h0m0 1h0m-3 4h0m0-8h0m0 2h0m-1-4h0m-1 3h0m-1-2h0m-1-2h0m-2 11h0m0-10h0m-2 5h0m-1 2h0m-1 1h0m-1 2h0m-1-6h0m-18 4h0m-5-2h0m-1 3h0m-2 0h0m-2-1h0m-8 1h0m-3 1h0m-4 1h0m0-1h0m-1-2h0m-3 0h0m-1 1h0m0-1h0m-2-7h0m-1 6h0m-1-5h0m0 3h0m0 2h0m-1-4h0m0 7h0m-1 1h0m-1-10h0m-1 10h0m-1-1h0m0 0h0m0-2h0m0 1h0m-5-6h0m-1-3h0m-2 3h0m0 5h0m-2-5h0m-1 8h0m-1-6h0m0-5h0m0 7h0m-3-6h0m-1 6h0m0 4h0m-2-7h0m-1 0h0m-1 0h0m0-5h0m-1 10h0m0-1h0m0-9h0m-1 7h0m0 2h0m0 0h0m-1-4h0m0 3h0m-1 1h0m-3-7h0m-3 1h0m0-2h0m-1 0h0m-1 8h0m-1-4h0m-1-2h0m-1 0h0m0 2h0m-1-2h0m0-3h0m0 0h0m0 12h0m0-7h0m0 0h0m0 1h0m-1-3h0m-1 7h0m0 1h0m-3-7h0m-1 3h0m-1 0h0m0 3h0m-1-2h0m-1-3h0m-1 1h0m0 0h0m-4 3h0m0 0h0m-1-3h0m-7 5h0m-5-6h0m-1-1h0m-1-2h0m-1 0h0m0 2h0m0-1h0m-2-3h0m-1 4h0m0 1h0m-1 6h0m-1-3h0m0-2h0m-1 5h0m0-9h0m-1 6h0m-1-3h0m-1-2h0m0 3h0m0 5h0m-1 1h0m0-11h0m0 0h0m0 1h0m-3-2h0m0 12h0m0-3h0m-1-9h0m-1 6h0m-1 1h0m-1 2h0m0-8h0m0 4h0m-1-5h0m0 7h0m-2 1h0m0-6h0m-1 7h0m0 0h0m-1-8h0m0 8h0m-1 2h0m-1 0h0m0-1h0m0-4h0m-1-1h0m0 1h0m0-4h0m0 4h0m0-6h0m-1 5h0m-15 2h0m-2-2h0m0 2h0m-2-7h0m0 2h0m-2 7h0m-3 3h0m-2-1h0m-1-2h0m-1-8h0m-1 4h0m0 2h0m-1 3h0m-2-9h0m-3 7h0m-3-8h0m-1 4h0m-2 7h0m-1-6h0m-4-3h0m-10 1h0m-1-1h0m0 6h0m-1-4h0m-4 0h0m-1 2h0m-1 0h0m0 0h0m-2-4h0m-2 6h0m-3 3h0m-1-6h0m-7-2h0m-3 1h0m10 15h0m1 0h0m2-1h0m0 0h0m1-6h0m0 11h0m1-5h0m0-3h0m1 3h0m0-2h0m1 1h0m1-2h0m0-2h0m3 7h0m2-8h0m5 0h0m3 11h0m0-3h0m9 0h0m1 1h0m3-3h0m11 0h0m3 4h0m2-2h0m1-6h0m0 3h0m2 4h0m1-8h0m0 1h0m0 8h0m0-1h0m2-3h0m5 5h0m4-1h0m6 1h0m7 0h0m1-11h0m1 11h0m1-9h0m1-1h0m0 5h0m0-2h0m1 2h0m0-6h0m0 2h0m0-1h0m1 6h0m1-4h0m0 2h0m0 6h0m3-9h0m0 6h0m0-6h0m2 5h0m1-6h0m2 0h0m0 6h0m1-3h0m1-4h0m1 5h0m2-5h0m1 6h0m1 3h0m4-5h0m0-3h0m2 10h0m1-11h0m2 0h0m0 6h0m0 2h0m1 0h0m2-6h0m1 2h0m0-3h0m0 11h0m2-10h0m2 4h0m1 2h0m1 3h0m0-3h0m2 2h0m1-6h0m2-1h0m1 7h0m1-1h0m0-5h0m0 5h0m1-8h0m0-1h0m0 2h0m0 4h0m1-2h0m0-1h0m1 5h0m0-3h0m1-2h0m0 5h0m1-4h0m0-2h0m0 8h0m3-4h0m0 5h0m0-2h0m0-6h0m0 8h0m1-7h0m0 2h0m2 1h0m1-1h0m1 5h0m1-7h0m0 4h0m1-5h0m2 5h0m0-5h0m1 2h0m0 6h0m1-7h0m0-3h0m0-1h0m3 1h0m0 6h0m1-4h0m1-1h0m2 7h0m1-1h0m0 2h0m0-3h0m1-1h0m0 5h0m1-5h0m0 5h0m1-5h0m0 4h0m1-7h0m2 8h0m0-3h0m1-8h0m2 5h0m2-3h0m1 9h0m1-3h0m0-4h0m1 7h0m4-10h0m0 0h0m1 4h0m2-3h0m2 7h0m1-1h0m0 1h0m1-1h0m1 1h0m0 1h0m0-1h0m0-4h0m2-1h0m1-4h0m0 12h0m1-7h0m2 7h0m0-7h0m1-1h0m0-2h0m1 3h0m0 1h0m1-4h0m1 1h0m1 2h0m0-3h0m2 7h0m0 2h0m1-3h0m0-7h0m1 6h0m0-4h0m1-3h0m1 2h0m0 1h0m3 2h0m0 2h0m1-1h0m3-3h0m3 1h0m0-1h0m9 7h0m1 1h0m0-3h0m1 1h0m4-5h0m1 0h0m1 0h0m0 2h0m1 2h0m0-4h0m1 0h0m0-3h0m4 4h0m0 3h0m0 3h0m3-8h0m0 7h0m1 0h0m0 1h0m0-9h0m1 5h0m1-2h0m1 2h0m1-4h0m0 3h0m1-4h0m4 5h0m1 2h0m0-9h0m1 7h0m3-1h0m1 1h0m1-6h0m0 3h0m0-1h0m1 7h0m0-4h0m1 2h0m5-2h0m1-4h0m0 6h0m1-6h0m0 10h0m2-12h0m1 12h0m0-5h0m2-4h0m0 7h0m0 0h0m1-2h0m2-8h0m1 3h0m0 5h0m0-7h0m1 0h0m1 9h0m1 1h0m1-7h0m0 5h0m2-9h0m5 9h0m3 2h0m0-11h0m1 3h0m10 4h0m3-3h0m2-2h0m0 10h0m1-5h0m1 2h0m0-7h0m1 6h0m1-6h0m0 3h0m1 5h0m5-3h0m4-1h0m4-1h0m0-3h0m6 1h0m3 4h0m9-4h0m3 9h0m2-1h0m3-2h0m9-3h0m21 5h0m19-4h0m3 4h0m10 0h0m3 0h0m1 0h0m15-2h0m26-1h0m3-3h0m5 1h0m1-1h0m4 5h0m2-6h0m0 4h0m0 1h0m2-2h0m1 1h0m1-5h0m1-1h0m3 5h0m2 3h0m3 1h0m4-3h0m2-3h0m1 2h0m0-5h0m1 10h0m0-2h0m2 0h0m2-3h0m3-4h0m0 2h0m1-3h0m0 5h0m1-5h0m2-1h0m0 4h0m2 6h0m1-2h0m3 2h0m1 0h0m2-10h0m0 7h0m1-7h0m0 11h0m2-5h0m0-5h0m0 3h0m1 2h0m0-4h0m0 2h0m2 0h0m1 2h0m2-5h0m1 8h0m1-4h0m4 4h0m0 1h0m2 0h0m1-6h0m0 1h0m2 4h0m0-7h0m1 2h0m2 3h0m1-6h0m2 3h0m1 5h0m1-9h0m0 4h0m1-5h0m0 5h0m2 0h0m2-1h0m1-4h0m0 3h0m1 5h0m0 0h0m2-4h0m2 3h0m0 5h0m3-10h0m1 8h0m7-6h0m6 3h0m1 5h0m1-3h0m1-1h0m1-5h0m2 4h0m1-3h0m7-2h0m0 7h0m1 2h0m0-11h0m0 12h0m3-6h0m1-3h0m0 1h0m1-1h0m5 8h0m0-2h0m0-8h0m1 10h0m1-10h0m0 5h0m2 6h0m1-2h0m2-3h0m0 5h0m0-7h0m3 4h0m0-3h0m2-3h0m1 6h0m1-2h0m1 1h0m0-2h0m1 5h0m2-10h0m0 1h0m0 9h0m1 0h0m2-2h0m1 3h0m2-6h0m0-2h0m2 1h0m0 9h0m0 4h0m-1 3h0m-1-1h0m-3-4h0m0 0h0m0 0h0m0 3h0m-3-4h0m-1 6h0m-1 1h0m0-6h0m0 3h0m-2-2h0m-1 5h0m-1-5h0m0 2h0m-1-7h0m-1 1h0m-3 2h0m-2-2h0m-1 0h0m-1 4h0m0-4h0m-2 7h0m-1-3h0m-1-5h0m0 7h0m-3 5h0m-3-5h0m-4 2h0m-1 3h0m-7-3h0m0-3h0m-4-3h0m-2 7h0m-8-1h0m-1-8h0m-2 3h0m-2-3h0m-6 9h0m-1-8h0m-1-1h0m-1 0h0m-1 7h0m0-8h0m0 3h0m-2 9h0m-2-7h0m-1 6h0m0-3h0m-1-8h0m0 2h0m-5 4h0m-2 1h0m0-4h0m-3 6h0m-3 1h0m0 0h0m-1 1h0m-3 0h0m-2-9h0m-1 4h0m-1 6h0m-2-7h0m-1 3h0m0-4h0m0 8h0m0-10h0m-2 0h0m-1 9h0m-2 0h0m-2-10h0m-2 2h0m-2-3h0m-1 2h0m-1-1h0m-4 1h0m-3 1h0m0 6h0m-1 0h0m0-5h0m-1 5h0m-2 0h0m-1-5h0m0-4h0m-2 4h0m-1 5h0m-6 0h0m-6-1h0m-4-7h0m-2 1h0m0-1h0m-2 6h0m-10 0h0m-1 4h0m0-9h0m-2 6h0m-1 1h0m-1 3h0m-1-4h0m-3-1h0m0-1h0m-2 3h0m-1-6h0m0 1h0m-4 3h0m0-1h0m-6-2h0m-3 8h0m0-6h0m-1 1h0m-2-1h0m-1 1h0m-2 2h0m-2-7h0m0 2h0m-1 0h0m-2 4h0m-4-7h0m-6 7h0m-1-1h0m-1-1h0m-3 0h0m-3-4h0m0 0h0m-4 6h0m-6-2h0m-1-6h0m0 1h0m-1 8h0m0-4h0m-3 1h0m-1 0h0m0 2h0m0 3h0m-5-5h0m-1 1h0m-2-5h0m-3-2h0m-5 0h0m0 0h0m-2 5h0m-6 2h0m-5-4h0m-1 2h0m-2-1h0m0 1h0m-2 6h0m0-8h0m-1 4h0m-1 1h0m-2 4h0m-2-7h0m-2 2h0m0-6h0m0 3h0m-3-2h0m0 8h0m-1-2h0m-3 0h0m-4-1h0m-4 0h0m0 0h0m-2-6h0m-1 10h0m-1 1h0m-2-9h0m-1 7h0m-1-3h0m0-4h0m-2 4h0m-1 3h0m0-1h0m-5-3h0m-3-4h0m0 0h0m-2 4h0m0-6h0m-5 9h0m-5-9h0m-2 9h0m-2-4h0m-1 6h0m-2-3h0m-3 3h0m-1 1h0m-1-2h0m-1 1h0m-2-1h0m-3-1h0m-4-6h0m-1 3h0m-1-3h0m0 6h0m-1-2h0m0-2h0m-1-5h0m-2 4h0m-2 0h0m-1 1h0m0 4h0m0-3h0m-1 1h0m0-2h0m0-5h0m-1 9h0m0-1h0m-2 2h0m-1-6h0m-1 4h0m0 1h0m-3-8h0m-2 1h0m-1-1h0m-16 1h0m-1 2h0m0 0h0m-1 1h0m0-1h0m-2 4h0m-1-7h0m-3 4h0m-2 4h0m-1-3h0m-2 1h0m0-1h0m-1 1h0m-1-5h0m-1 3h0m-1 5h0m-1 0h0m-3 0h0m-4-1h0m0 2h0m0-3h0m0-1h0m-3-1h0m-1 4h0m0 0h0m0-1h0m-1 0h0m0 1h0m-1-3h0m-1 1h0m0-2h0m-2 3h0m-1-1h0m0 3h0m-2-1h0m0-2h0m-1 4h0m-2-2h0m-1-2h0m-2-5h0m0 0h0m-1 5h0m-2-1h0m0-2h0m-1 2h0m-1 4h0m0-4h0m-1 5h0m-1-1h0m0-4h0m-1 4h0m0-10h0m0 7h0m-3-1h0m0-4h0m-1 3h0m0 3h0m-1-7h0m0 6h0m0 2h0m0-4h0m-1 3h0m-1-5h0m0 5h0m-1 0h0m0 0h0m-1-2h0m0-2h0m-1-1h0m0 4h0m0 0h0m-1-6h0m0 5h0m-2-6h0m-1-1h0m-1 1h0m0 10h0m-1-5h0m0 4h0m-4-7h0m0 6h0m-1-4h0m0-4h0m-1 9h0m0-9h0m-1-1h0m-2 9h0m0 0h0m-2-8h0m-1 10h0m-1-7h0m0 1h0m0-5h0m-2 1h0m0 7h0m0-3h0m-3-2h0m-1 0h0m-1 0h0m0 7h0m-6-1h0m0 1h0m0 0h0m0 1h0m-8-9h0m-1 0h0m-3 1h0m-1-2h0m0 1h0m0 0h0m0 1h0m-1-3h0m-3 1h0m-2 9h0m-2 2h0m-5-11h0m-2 0h0m-4 2h0m-1 1h0m-1 0h0m-1-3h0m0 3h0m-2 1h0m0-2h0m0-3h0m-1 4h0m-4 7h0m0-3h0m-1-1h0m-3-4h0m-1-3h0m-2 2h0m0 4h0m0-4h0m0 1h0m-1 1h0m0 7h0m-3 1h0m-2-5h0m-1-5h0m-1 2h0m0 7h0m0-6h0m0 3h0m-3-3h0m0 3h0m-1 2h0m0-10h0m-1 1h0m-3 2h0m-2-2h0m-2 6h0m-2-4h0m0 8h0m0-7h0m-1 0h0m-2 2h0m-2 1h0m0 0h0m-3-3h0m-6-3h0m-1 0h0m-2-1h0m0 10h0m-1 1h0m-3-9h0m0 9h0m-1-8h0m-3 2h0m0 5h0m0 0h0m-2-4h0m-4-1h0m-3 0h0m-8-3h0m0-1h0m-1 1h0m-1 6h0m0-6h0m-5 2h0m-5-4h0m-1 2h0m-30-2h0m-13 18h0m63 3h0m10-5h0m2-3h0m5 5h0m21-2h0m1-2h0m2 3h0m0-4h0m1 5h0m0 0h0m3-3h0m2 2h0m1-2h0m1 5h0m1-8h0m1 3h0m2 5h0m1-5h0m2 7h0m0-7h0m2 4h0m1-1h0m0-6h0m1 11h0m0-11h0m1 6h0m2 4h0m0-9h0m4 9h0m1-2h0m1 1h0m1 1h0m3-1h0m1 1h0m1 0h0m0-5h0m0 6h0m1-8h0m0 4h0m0 4h0m1-1h0m1 1h0m0-5h0m5-5h0m0 0h0m1 9h0m1-5h0m0-3h0m1 6h0m0 3h0m1-10h0m0 10h0m2-10h0m0 2h0m1 1h0m1 4h0m0-4h0m4 4h0m3 3h0m6-8h0m0 5h0m1-5h0m1 9h0m3-8h0m0 6h0m0-3h0m0-1h0m1 6h0m1-8h0m2 5h0m0 2h0m1-6h0m0-2h0m1 6h0m1 1h0m1-10h0m0 9h0m0 1h0m0-3h0m0-6h0m0 7h0m1-1h0m0 4h0m0-9h0m1 6h0m0 0h0m0 4h0m1-6h0m1-6h0m0 2h0m1 3h0m1 1h0m0-3h0m2 0h0m1-1h0m0 4h0m1-1h0m1-1h0m1-3h0m0 0h0m0 2h0m1 1h0m1 0h0m2 4h0m0-7h0m0 1h0m4 3h0m0-4h0m0 0h0m2 9h0m0-6h0m0-2h0m3 7h0m1-2h0m3 2h0m2-7h0m3 2h0m0 4h0m1-2h0m0 2h0m0 2h0m0-6h0m2 1h0m2 1h0m0-4h0m1-1h0m4 10h0m0-2h0m1-1h0m0 3h0m1-11h0m0 7h0m1 0h0m1-1h0m2-2h0m1 0h0m2-1h0m0 1h0m1-2h0m0 7h0m0-1h0m2-2h0m0 2h0m0 2h0m5-6h0m2 0h0m1 0h0m0-4h0m1 4h0m2 4h0m0-2h0m4 3h0m1 1h0m2-1h0m11-1h0m1 1h0m0 2h0m1 0h0m0-6h0m0 0h0m1 1h0m0 3h0m0 0h0m1-2h0m2 2h0m1 1h0m0 2h0m1-1h0m0-3h0m1-1h0m1 1h0m0 1h0m0 3h0m27-10h0m5 3h0m2 2h0m2-1h0m3-2h0m0 3h0m1 1h0m0 0h0m2-7h0m0 8h0m0-3h0m3 2h0m1 2h0m4-1h0m0 1h0m2-2h0m0 0h0m0 0h0m0 3h0m3-6h0m4 5h0m1-7h0m1 1h0m1 8h0m2-6h0m1 2h0m0 2h0m3-7h0m1 8h0m2-4h0m0 0h0m0-1h0m4 3h0m1-6h0m2 3h0m1 5h0m2 0h0m0-1h0m1 2h0m1-1h0m1-4h0m2 3h0m1-8h0m11 7h0m2 3h0m2 0h0m3-8h0m1 3h0m15 2h0m1 1h0m0-6h0m2-4h0m1 7h0m2 2h0m0-9h0m3 11h0m1-6h0m1 3h0m2-1h0m1-2h0m3 6h0m0-3h0m1-5h0m1 2h0m1 5h0m1 0h0m5-6h0m2-3h0m0 7h0m3-3h0m1 0h0m1-2h0m1 5h0m2 3h0m1-6h0m1-4h0m3 2h0m0 6h0m0-3h0m4 4h0m1-2h0m0-5h0m1 4h0m2 2h0m1-9h0m0 8h0m1-1h0m1-6h0m6 10h0m0 0h0m4-10h0m1 10h0m0 0h0m1-10h0m3 10h0m2 0h0m0-10h0m0 4h0m1 1h0m0-2h0m2 2h0m0-1h0m2 2h0m1-1h0m0 2h0m0-4h0m2-2h0m3 9h0m4-5h0m0 6h0m3-11h0m3 7h0m2-3h0m3 2h0m0-4h0m1 3h0m3 5h0m4-11h0m0 10h0m1-2h0m1-7h0m0 0h0m1 9h0m2-1h0m0-1h0m1 2h0m1-5h0m10-1h0m1 0h0m3-3h0m1 8h0m2-2h0m2 4h0m7-4h0m1-2h0m0-3h0m1 8h0m1-6h0m1 1h0m1 3h0m0-2h0m1 5h0m0-7h0m2 1h0m0 2h0m1-5h0m0 2h0m1 2h0m0-1h0m1-4h0m0 5h0m1-5h0m0 4h0m2 0h0m1-1h0m2-3h0m1 9h0m1 1h0m1-4h0m2-6h0m1 6h0m1-1h0m0 0h0m1 3h0m2-3h0m1-3h0m3 8h0m1-1h0m1-3h0m2-5h0m1 1h0m0-1h0m0 7h0m2-8h0m1-1h0m10 11h0m1-8h0m3-3h0m2 4h0m2 7h0m2-5h0m1 4h0m1-2h0m1 1h0m0-2h0m0 3h0m1-2h0m0-7h0m2 3h0m2-3h0m0 10h0m1-7h0m0-3h0m1 9h0m0 1h0m0-2h0m0-6h0m0 2h0m5 3h0m1-4h0m2 4h0m3 3h0m3-9h0m1 6h0m1-5h0m2 3h0m3-1h0m1-3h0m0 4h0m0-2h0m1-4h0m0 5h0m1 2h0m1-4h0m0-3h0m0 1h0m3 3h0m1 2h0m0 6h0m0-8h0m2-1h0m2 0h0m0 6h0m2-7h0m0-1h0m1 11h0m0-1h0m1 1h0m4 7h0m0-3h0m-1 1h0m0-3h0m0 0h0m-1-2h0m0 0h0m-1 4h0m-4 0h0m-1 1h0m0-1h0m-1 3h0m0-2h0m-1 0h0m-1 0h0m0 3h0m0-5h0m-1 5h0m-1 1h0m-1 1h0m0-4h0m-1-3h0m-1 2h0m0 3h0m-3-4h0m0 0h0m-5 0h0m-2-1h0m0 2h0m0-1h0m-1 0h0m-2-2h0m-2 0h0m-2 1h0m0-2h0m-6 6h0m-1-6h0m-1 3h0m-1 0h0m-1 3h0m-3-7h0m0 6h0m-3-5h0m0 2h0m-1 7h0m-1-3h0m-1 3h0m-1-3h0m0-2h0m-1-2h0m0 6h0m-2-6h0m-3 3h0m-1 3h0m-1-4h0m-1 1h0m-2-2h0m-1 7h0m-1-3h0m-3-2h0m0-3h0m-2 6h0m0 0h0m-3-3h0m-1 4h0m-3-2h0m-1-7h0m-1 4h0m-1 3h0m0-1h0m-2-4h0m-3 5h0m0-7h0m0 9h0m-1-5h0m0 5h0m-5-9h0m0 5h0m-1 2h0m0-3h0m0-4h0m-1 4h0m-2-1h0m-2 0h0m-1-1h0m-3 5h0m-1-6h0m-2 6h0m-1 0h0m0-5h0m-1-1h0m0 7h0m-1 0h0m-1-9h0m0 3h0m-2 5h0m-4 1h0m-1-3h0m-1 6h0m-1-12h0m0 9h0m-2 2h0m0-1h0m-1-6h0m-1 4h0m-1-4h0m0-3h0m-1 6h0m-1 2h0m0 0h0m0-8h0m0 8h0m-1-1h0m-1-6h0m-2-1h0m-4 8h0m-4 0h0m-1 0h0m-1 2h0m0-8h0m-2 4h0m0 1h0m-2 1h0m-2 0h0m-1 1h0m-2-10h0m-4 9h0m-5 1h0m-1-7h0m-3 0h0m-1 3h0m-1 6h0m-5-10h0m-3 10h0m-5-9h0m0-3h0m-5 10h0m-5-1h0m-1 1h0m0-3h0m-3 1h0m-3 1h0m-2-7h0m-1 1h0m-1 7h0m-2-8h0m-1 10h0m-2-3h0m-3 1h0m-1-7h0m-4 8h0m-3-3h0m0 4h0m0-3h0m-1 0h0m-1-8h0m-1 8h0m-3-5h0m-2-1h0m-1 4h0m-2-4h0m-6-2h0m-1 2h0m-4 4h0m-2 2h0m-1-4h0m-2 6h0m-14-1h0m-11-2h0m-1 0h0m-2 1h0m-4 0h0m0-6h0m-1 8h0m-1-3h0m-2-3h0m0 6h0m-1-4h0m0-2h0m-1 5h0m-1-2h0m-4-3h0m-1 2h0m0 0h0m-1 1h0m0-7h0m-1 4h0m0-3h0m-1 9h0m0-5h0m-2 6h0m0-8h0m-2 3h0m-1 5h0m-1-9h0m0 5h0m0 1h0m-1 3h0m0-6h0m0-1h0m-1 5h0m-1-1h0m-3-8h0m0 5h0m-1 4h0m-2-10h0m-7 2h0m-1-2h0m-1 0h0m-28 11h0m-2-2h0m-4 2h0m-1-1h0m-1-1h0m-15-1h0m-7-6h0m-4 9h0m0-7h0m-1 5h0m0-6h0m0 0h0m0 1h0m-4-3h0m-1 2h0m0-3h0m-10 8h0m0-5h0m0 0h0m0-3h0m-2 3h0m-1 7h0m-1-3h0m-1 4h0m0-2h0m0 1h0m-3-9h0m-1 5h0m-1 2h0m-1 0h0m-2 1h0m-1-2h0m-2 3h0m0-2h0m-1-7h0m0 1h0m-1 0h0m-1-1h0m0 1h0m-1 2h0m0 1h0m0-3h0m-1 3h0m0-5h0m-3 1h0m0 1h0m0 0h0m-1-2h0m0 10h0m-1-7h0m0 0h0m-5 3h0m0 3h0m-1-2h0m0 4h0m0-4h0m-1 3h0m0 0h0m-2-5h0m-2-2h0m-1 7h0m0-9h0m-1 6h0m-4-5h0m-3 9h0m0-9h0m-6 4h0m0-3h0m-4 2h0m-1-1h0m-1 5h0m-1-2h0m-3-6h0m-2 3h0m-2 1h0m-1 5h0m-1 2h0m0-1h0m-2-6h0m-1-4h0m0 4h0m-4 0h0m0 2h0m-2-5h0m0 2h0m-2 1h0m-4-4h0m0 4h0m-4-1h0m-3 3h0m-1-2h0m-2 0h0m0-5h0m-1 1h0m-1 2h0m-2-2h0m-4 9h0m-2-2h0m-10-7h0m-5-1h0m-16 2h0m-10 4h0m-2-2h0m-2 3h0m-1 1h0m0-4h0m-1 0h0m-4 7h0m-2-6h0m-36 0h0m-11 7h0m-32-7h0m-17-2h0m16 21h0m55-7h0m5-3h0m7 0h0m17 2h0m15-1h0m7 1h0m20 5h0m29-5h0m14 3h0m1-5h0m18-2h0m8 3h0m1 6h0m3-1h0m1 0h0m0 0h0m2-6h0m0 0h0m1 2h0m0 2h0m1 1h0m0 2h0m0-3h0m1-4h0m1 5h0m4 3h0m0-9h0m0-1h0m2 3h0m2 9h0m0-5h0m2-1h0m2 2h0m3-5h0m2 5h0m0 1h0m1 1h0m0-6h0m1 5h0m6-9h0m1 11h0m1 1h0m2-3h0m0-4h0m1-5h0m1 9h0m1 1h0m0-1h0m0-1h0m1 1h0m0-5h0m12-1h0m1 0h0m0 2h0m0 0h0m3 3h0m1 2h0m1 2h0m0-1h0m3-2h0m2-2h0m1-6h0m1-1h0m2 1h0m0 2h0m0-1h0m0 2h0m1 0h0m1 6h0m0-2h0m1-4h0m1 7h0m0-3h0m5 0h0m0-6h0m0 2h0m2 6h0m0-5h0m0-4h0m1 6h0m0 1h0m1-4h0m0 6h0m0-2h0m1 3h0m0 1h0m0-3h0m0-8h0m1 9h0m1-5h0m2-1h0m2-4h0m0 3h0m0 8h0m3-5h0m3 5h0m35-8h0m1-2h0m2 0h0m3 2h0m1-2h0m2 2h0m1 0h0m0-3h0m11 7h0m1-3h0m1 2h0m1-4h0m0 1h0m0 8h0m2-2h0m1-3h0m0 0h0m13-6h0m0 7h0m3-2h0m0-2h0m2-2h0m0 6h0m2 0h0m4-7h0m21 11h0m1-7h0m0-3h0m0 0h0m1 7h0m1-1h0m2-7h0m2 0h0m5 2h0m1-1h0m2-1h0m9 1h0m10 2h0m2-2h0m0 2h0m0-3h0m3 3h0m1-2h0m6 0h0m1 3h0m1-1h0m2 0h0m1 1h0m1-4h0m1 2h0m0-2h0m4 0h0m3 3h0m2-2h0m4-1h0m1 2h0m7 0h0m2 6h0m2-5h0m1 5h0m0 1h0m3-7h0m2 6h0m1 0h0m1 0h0m1 0h0m1-8h0m1 12h0m0 0h0m2-12h0m2 1h0m17 0h0m42 0h0m1 3h0m0 2h0m2 0h0m1-2h0m1-3h0m0 0h0m2 3h0m0 0h0m1 0h0m0 1h0m4-2h0m59 7h0m2-2h0m0 13h0m0-2h0m-1-4h0m0 5h0m-2 4h0m-2-2h0m-1 1h0m-2-1h0m0 1h0m-128-8h0m-2 5h0m0 3h0m0-4h0m-1-6h0m0 3h0m0 3h0m-1 3h0m-1-5h0m-2-4h0m0 5h0m-1-1h0m0 5h0m-1-9h0m-2 7h0m0-7h0m-1 5h0m0-2h0m-35 4h0m-1 2h0m-1-7h0m-2 3h0m0 4h0m-2-3h0m0 3h0m-1-4h0m0 4h0m-1-1h0m-1-7h0m-1 6h0m0-2h0m-2-1h0m-1 3h0m-1-4h0m0 3h0m0-4h0m-1 5h0m-1 2h0m-2-2h0m-1 1h0m0-5h0m-4 7h0m-6-1h0m-1 1h0m0 0h0m-2-1h0m-2 2h0m-3-12h0m-1 3h0m-1 1h0m-1-4h0m-2 5h0m-1-1h0m-3 2h0m0-3h0m-3 3h0m-1-1h0m0-3h0m-2 1h0m-1-1h0m0 2h0m-7 0h0m-1-4h0m-2 6h0m-2 6h0m-2-2h0m-1-7h0m-1 5h0m-1-7h0m0 5h0m0 1h0m-3 0h0m-2 0h0m-2 5h0m-2-4h0m0-7h0m-2 7h0m0-5h0m0 5h0m0-2h0m-5-2h0m-1-4h0m-1 3h0m-1 3h0m0-5h0m-1 0h0m0 0h0m-2 9h0m-2-4h0m-2 3h0m-1-1h0m0-1h0m-1 5h0m0-7h0m-1 4h0m0 0h0m0 0h0m-38 2h0m-2 0h0m-1-1h0m-11-9h0m-2 3h0m0-2h0m0-1h0m-4 3h0m-1 2h0m-1-4h0m0 1h0m0-1h0m-3-1h0m0 0h0m-9 2h0m-1-1h0m-1 2h0m-1-1h0m-1 0h0m-4-1h0m-1 4h0m0-6h0m0 2h0m-1 1h0m-1 3h0m-1-2h0m-1 4h0m-1-3h0m0 7h0m0-5h0m0 4h0m-1-6h0m0-4h0m0 4h0m-1 3h0m-1-4h0m0-2h0m-3 7h0m-3 0h0m-1-2h0m-2 4h0m0-1h0m-12-8h0m-1 5h0m-1-6h0m-1 8h0m0-6h0m0 4h0m-3-6h0m0 10h0m-1-8h0m0-1h0m-1 4h0m-1-2h0m0 6h0m0-4h0m0 1h0m-1 3h0m-1 1h0m-1-5h0m-2-2h0m0 1h0m0-4h0m0 0h0m0 11h0m-1-1h0m-3-6h0m0-4h0m-1 3h0m0 0h0m0-1h0m-1 6h0m0-2h0m-1-7h0m0 11h0m-1-5h0m0 1h0m0-5h0m-1 2h0m-1-3h0m-4 0h0m-1 1h0m0-1h0m-1 1h0m-3-1h0m-1 3h0m-2-1h0m-4-1h0m-61 6h0m-66-7h0m-31 8h0m-14 4h0m102 0h0m77 10h0m13-11h0m2 0h0m3 0h0m2 3h0m4 8h0m1-2h0m0 3h0m0-9h0m1 3h0m0-4h0m1 9h0m1-6h0m1-2h0m1-2h0m1 2h0m2 5h0m1 2h0m1-5h0m0 2h0m4-2h0m0 2h0m1 1h0m2 0h0m0 4h0m1-5h0m0-6h0m1 2h0m0 1h0m1-3h0m1 10h0m1-1h0m1-2h0m0-2h0m2-5h0m0 1h0m1 9h0m0-8h0m1 1h0m1-3h0m0 3h0m3 0h0m0 3h0m2-7h0m1 4h0m1 4h0m2 0h0m2 2h0m1 0h0m0 1h0m0-4h0m3 2h0m4-1h0m1 2h0m0-3h0m0 4h0m11-1h0m1-1h0m1-1h0m0-4h0m1 4h0m1-3h0m1-1h0m1 7h0m1-6h0m1 6h0m0-3h0m1-4h0m0 6h0m0-3h0m1-2h0m0 5h0m2-1h0m0 0h0m5-3h0m0 0h0m1-4h0m1-1h0m0 3h0m2 4h0m0 0h0m1-7h0m2 8h0m2 2h0m2-6h0m1 7h0m1-1h0m0-6h0m0 5h0m1-5h0m0-2h0m1 7h0m25-10h0m1 10h0m1-2h0m1 0h0m0-4h0m0 8h0m0-7h0m1 1h0m0-3h0m1 0h0m0-1h0m1 1h0m1 6h0m0 0h0m1-3h0m2 2h0m0-6h0m0 1h0m0 6h0m1 0h0m0 1h0m11-6h0m1 1h0m2 0h0m0 3h0m0 0h0m0-6h0m2 3h0m0-5h0m1 0h0m0 8h0m2-6h0m1-1h0m0 6h0m0-7h0m1 6h0m1 0h0m0 1h0m2 0h0m1-6h0m1 0h0m13 10h0m4-1h0m0-3h0m2 4h0m0-5h0m1 6h0m0-5h0m0 4h0m0-1h0m0 1h0m0-1h0m3 0h0m2-2h0m0-1h0m5-4h0m2-2h0m2 9h0m1-7h0m1 8h0m1-9h0m2 1h0m0 4h0m1-5h0m0 8h0m0 1h0m0-10h0m1 10h0m0-3h0m1-7h0m0 1h0m7 4h0m1 0h0m1-6h0m0 9h0m1-9h0m0 10h0m0-8h0m0 8h0m1-1h0m2-3h0m0-6h0m1 10h0m1-4h0m1 3h0m3-3h0m0-4h0m2 2h0m0 0h0m1 3h0m1-1h0m0-2h0m2-2h0m35 3h0m4 0h0m2 4h0m0-2h0m2-1h0m1 3h0m54 0h0m1-4h0m0-1h0m2 0h0m0 1h0m1 6h0m1-2h0m0-1h0m1-1h0m0 0h0m1-5h0m1 7h0m1-7h0m61 8h0m0-3h0m1 2h0m1-3h0m0-2h0m1-3h0m0 2h0m0-1h0m0-1h0m1 2h0m0 0h0m2 9h0m0-3h0m3-8h0m2-1h0m0 14h0m0 10h0m-1-2h0m0-3h0m-1 0h0m-1-6h0m0-1h0m-1 8h0m-2 2h0m0-5h0m0-4h0m-1 11h0m0-11h0m-2 5h0m-1-6h0m-8 11h0m0 1h0m-1-2h0m-1 1h0m-1-2h0m0-1h0m-1-3h0m-1 5h0m0-4h0m-1 5h0m0-2h0m-1 2h0m-2-4h0m0-2h0m-1 3h0m-2 0h0m-1 2h0m0 0h0m-4 0h0m-1-5h0m-1 2h0m-1 3h0m0-6h0m-2-4h0m0 6h0m-1-2h0m0 5h0m0-4h0m-2-1h0m-2 2h0m0 0h0m-1-2h0m-1 7h0m-2-2h0m0 1h0m0-4h0m-1 5h0m-1-10h0m0 1h0m0 0h0m-1 8h0m0-2h0m-2-3h0m0 3h0m-1 3h0m-1-8h0m0 4h0m0-3h0m-13 7h0m-1-5h0m-2 2h0m0 3h0m-1-3h0m-1-1h0m-1 3h0m0-4h0m-3 4h0m0 0h0m0 2h0m-31 0h0m-2-3h0m-6 1h0m-1-1h0m0 0h0m-1 0h0m-6-1h0m-1 3h0m-5-1h0m-4-1h0m-2-8h0m-1 3h0m-1 0h0m-3 3h0m-1-6h0m-1 1h0m0 8h0m0-6h0m0 7h0m0-5h0m-1-4h0m-5 8h0m0 1h0m-2-1h0m-2-1h0m-2 2h0m-2 0h0m-1-1h0m-1 1h0m-61-11h0m-2 9h0m0 1h0m0 1h0m-5-1h0m0-7h0m0-1h0m-1 1h0m0-2h0m-1 2h0m-1 7h0m0-9h0m-2 6h0m-1 0h0m-21 5h0m-1-2h0m-3 0h0m-9-4h0m0 0h0m-1 5h0m-1-3h0m0-7h0m0 2h0m-1-1h0m-3 4h0m0 3h0m-3-6h0m0-3h0m-2 11h0m-2-1h0m0-9h0m0 2h0m-1 4h0m-1-2h0m-34-4h0m-10 0h0m-2-1h0m-6 2h0m-1 1h0m-1 7h0m-1 1h0m-1-7h0m-1 5h0m-1 2h0m-4 0h0m-1-1h0m-1 0h0m-1-1h0m-2 1h0m-6 0h0m0-3h0m-1-6h0m0 2h0m-1 4h0m0 3h0m-1-6h0m-1-1h0m0 5h0m0 2h0m0 1h0m-1-8h0m0-1h0m-1 6h0m0 3h0m-1-9h0m-1 0h0m-1 8h0m-1-5h0m-1 3h0m-1-7h0m0 3h0m-1 4h0m-1 2h0m-2-8h0m-1 3h0m-2 4h0m-2 0h0m0-5h0m-2 1h0m-2-4h0m-1 8h0m0 2h0m-2-11h0m-1 0h0m-1 3h0m0 2h0m-1 3h0m0-4h0m-1 7h0m0-11h0m0 4h0m-1 1h0m0-2h0m-1 0h0m-1 6h0m-1-4h0m0 1h0m-1-1h0m0 6h0m0-6h0m0-3h0m-1 6h0m0-3h0m0-1h0m-1 2h0m-1-3h0m-7 1h0m-49-1h0m-4-1h0m-10 9h0m5 10h0m8 3h0m21-4h0m40-4h0m3 1h0m3-2h0m2 5h0m0-2h0m1-6h0m2 0h0m3 4h0m1 2h0m0 3h0m0-7h0m0 8h0m1 0h0m1-7h0m1 0h0m2 7h0m2-6h0m3-2h0m0 1h0m1 9h0m0 0h0m1-4h0m0 0h0m2-6h0m0 6h0m1-3h0m1 6h0m0-1h0m0-6h0m2 7h0m1-1h0m1-5h0m0 2h0m0-7h0m1 8h0m1-5h0m1 2h0m1-1h0m2 3h0m0-3h0m3 0h0m2 1h0m0-2h0m0 5h0m0 2h0m1-1h0m0-5h0m0 3h0m1 4h0m0-4h0m0 3h0m1 2h0m0-9h0m2-1h0m0 3h0m1 5h0m0-10h0m2 4h0m0-2h0m1-2h0m0 12h0m1-10h0m0-2h0m0 4h0m0 8h0m1-11h0m0 4h0m1 1h0m1 2h0m0-4h0m0 7h0m1-3h0m1-6h0m1 8h0m0-3h0m0-2h0m0 7h0m3-1h0m3-1h0m2 0h0m0-1h0m4 1h0m39-10h0m0 2h0m5 0h0m2 1h0m1-2h0m0 1h0m2-2h0m6 3h0m1-3h0m0 7h0m1-6h0m1 2h0m0 5h0m1-1h0m0-4h0m1 5h0m1-6h0m0 4h0m1 5h0m2-2h0m1-3h0m1 3h0m0-2h0m3 1h0m0 2h0m2 0h0m0-2h0m2 3h0m10 1h0m73-8h0m0 3h0m1-1h0m0-1h0m1 0h0m0 7h0m0-11h0m1 7h0m0 2h0m3-6h0m0 2h0m1 5h0m3-10h0m1 1h0m2 0h0m3 2h0m3-4h0m0 1h0m4 0h0m3 5h0m5-3h0m3-1h0m1 0h0m1-2h0m3 6h0m1-4h0m4 0h0m2 9h0m4-10h0m2 6h0m1-4h0m0-3h0m0 10h0m1 2h0m1-6h0m27-1h0m3 5h0m1-6h0m0 2h0m1-3h0m1-1h0m1 4h0m0 4h0m1-9h0m1 7h0m1 3h0m0-2h0m2-2h0m0 3h0m16-9h0m1 0h0m0 1h0m1-1h0m1 0h0m3 2h0m4-3h0m0 1h0m1-1h0m1 3h0m2-2h0m1 1h0m0-1h0m2 9h0m0-10h0m1 9h0m0 1h0m1-2h0m0 0h0m0-1h0m1-2h0m1-2h0m1 7h0m0-7h0m2 8h0m1-7h0m1 4h0m0-3h0m1 4h0m0-5h0m1-2h0m0 3h0m1-1h0m1 3h0m0 5h0m0-11h0m2 8h0m0 1h0m0 0h0m2-2h0m0 0h0m0 0h0m0-4h0m1 6h0m0 0h0m1-1h0m0 2h0m1-5h0m9-3h0m2 0h0m0 7h0m1-8h0m0 1h0m0 1h0m1-1h0m0 8h0m0-5h0m2 3h0m0-5h0m1 0h0m0 6h0m0-2h0m0 6h0m-1 1h0m-2 6h0m-1-3h0m-1-3h0m-4 3h0m0 6h0m-1-6h0m-2 3h0m-2-1h0m-1 0h0m0-2h0m-2 5h0m-1-9h0m-2 5h0m-2-2h0m-1-1h0m-2 2h0m-7-5h0m-2 6h0m0-4h0m-2 1h0m0 1h0m-1 2h0m0-3h0m-2 5h0m-1 1h0m-2-3h0m0 3h0m-1-3h0m-1 4h0m0-3h0m-1-2h0m-2 2h0m-5-7h0m-1 3h0m-3 0h0m0-3h0m-1 3h0m-3 3h0m0-1h0m-1-3h0m0 4h0m-3-4h0m0 3h0m-2-1h0m-1 6h0m-1-4h0m0 1h0m-2 3h0m-11-3h0m-1 2h0m-2-3h0m-1 2h0m-1 3h0m-1-2h0m-1 0h0m-5 1h0m-2-3h0m-1 0h0m-1-1h0m-1 3h0m0 0h0m-1-2h0m0-1h0m-3 2h0m-1-3h0m-3 1h0m0 2h0m-1 2h0m-1 1h0m-3-10h0m-1-1h0m0 6h0m0-3h0m-3 3h0m-2 2h0m-1-2h0m-5-4h0m-4 5h0m-1-4h0m-2 2h0m-5 4h0m-1 2h0m0-4h0m-1-5h0m0-3h0m-2 6h0m-8 4h0m-5-3h0m0 1h0m-1-6h0m0 7h0m-1 2h0m-2-5h0m-1 2h0m0 1h0m-1-9h0m0 0h0m0 6h0m0-4h0m-3-1h0m0 7h0m0-7h0m-1 0h0m-1-1h0m-22 10h0m0-6h0m-2 5h0m0-3h0m-2 4h0m-8-3h0m-2 4h0m-2 1h0m0-5h0m-1 1h0m-3-2h0m-2 3h0m0 0h0m0 0h0m-1-1h0m-1 3h0m-1-3h0m-6 4h0m0-2h0m0-3h0m-2-1h0m-1 0h0m0 6h0m-1-3h0m0-1h0m-2 2h0m-7-1h0m-2-8h0m-1 10h0m-5-8h0m0 1h0m-1 2h0m0-5h0m0 3h0m-7-1h0m-1 5h0m-2-6h0m0-1h0m-1 6h0m-1-2h0m-1 0h0m0-4h0m0 2h0m0 0h0m0 3h0m0-2h0m-1-3h0m0 6h0m0 3h0m-1-3h0m0 1h0m-1-6h0m-3-1h0m0 8h0m-1-4h0m0-1h0m-1-3h0m-1 1h0m-1-1h0m-1 8h0m-5 2h0m-4 1h0m-1 0h0m-4-5h0m-4-2h0m0-2h0m-1 5h0m0-3h0m-2 4h0m0 0h0m-1-6h0m0 7h0m0-4h0m-2-1h0m0 1h0m-2 3h0m-8 1h0m-2 0h0m-1 0h0m0 0h0m-2-1h0m-1 1h0m-2-2h0m0 3h0m-1 1h0m-2-2h0m-2 2h0m-2-7h0m-2 1h0m0-3h0m-2 1h0m-3 1h0m-4 1h0m-2 2h0m0-8h0m-1 11h0m-1-6h0m-1 5h0m-2-7h0m0 3h0m-1 5h0m0-9h0m-1 3h0m0 5h0m0-9h0m0 9h0m-2-6h0m0 5h0m-2-6h0m0 5h0m-7-4h0m-1 8h0m-1-3h0m0 0h0m-1 0h0m-2-6h0m0 4h0m-1-6h0m0 6h0m0 1h0m-2-7h0m-1 4h0m-2-4h0m-1 0h0m0 6h0m-1 1h0m0 0h0m-1 2h0m0-3h0m-1-6h0m-2 0h0m0 1h0m0-2h0m-1 4h0m0 4h0m0-1h0m-1-4h0m-1 3h0m-1-6h0m0 0h0m-2 1h0m-1 3h0m0-1h0m-4 6h0m-2-3h0m-2-2h0m-1 0h0m-3 1h0m-9 5h0m0 1h0m-71-6h0m3 11h0m11 3h0m16-4h0m5 5h0m32 0h0m23-3h0m0-4h0m2-1h0m1 6h0m1-4h0m3 7h0m1-5h0m0 0h0m0 5h0m1-8h0m1 2h0m1 3h0m2-3h0m0 8h0m0-1h0m0-2h0m1-3h0m0-4h0m1 7h0m0-3h0m2 5h0m0-2h0m2-5h0m0 3h0m3-3h0m1 1h0m1 4h0m5-1h0m1-6h0m0 9h0m1-6h0m1-4h0m0 4h0m0-2h0m1 6h0m0-8h0m0 0h0m1 5h0m0 3h0m1-1h0m0-1h0m1 4h0m1-2h0m1-7h0m1 6h0m0 0h0m1-5h0m1 8h0m1 0h0m3-6h0m0 7h0m6-8h0m1 4h0m5 5h0m5-3h0m0-8h0m1-1h0m2 1h0m2 5h0m1-2h0m1 2h0m3-6h0m1 1h0m3 6h0m0-7h0m2 4h0m0 3h0m2-1h0m1-1h0m0-2h0m0 6h0m0-2h0m2 5h0m4-11h0m6 3h0m1-3h0m1 6h0m3-2h0m0 5h0m5 2h0m8-9h0m4 6h0m1-1h0m0-6h0m1 10h0m2-3h0m0-6h0m1 7h0m2-1h0m1 1h0m7-3h0m3 1h0m3 4h0m0-8h0m2 1h0m0-2h0m1 3h0m1 1h0m0 2h0m0-9h0m1 8h0m0-7h0m1 7h0m0 0h0m0-7h0m0 0h0m1 5h0m1 2h0m0-3h0m1 1h0m0-4h0m1 8h0m2-8h0m2 6h0m1-2h0m0 4h0m0 2h0m0-1h0m1-3h0m2-5h0m1 3h0m2-1h0m0-3h0m2 2h0m0 5h0m1 1h0m0 1h0m2-1h0m0-7h0m1 7h0m0-6h0m1 6h0m0-9h0m1 0h0m1 1h0m2 6h0m0-4h0m1 2h0m2-5h0m2-1h0m1 1h0m1 5h0m0 4h0m1-9h0m0 1h0m0 0h0m1 5h0m0 3h0m1-6h0m2 0h0m0 2h0m2 5h0m0-4h0m4-4h0m0 3h0m0 2h0m2-4h0m0 0h0m2 0h0m1 6h0m5-6h0m1-1h0m0 4h0m1 3h0m1-1h0m12-5h0m0 8h0m1-9h0m0 2h0m0-2h0m1-2h0m0 4h0m1 5h0m1-5h0m0 6h0m1-6h0m0 0h0m1 7h0m1-1h0m1-7h0m0 0h0m1 8h0m0-6h0m1 3h0m0-5h0m0-3h0m2 2h0m1 7h0m0-7h0m1 3h0m12-5h0m2-1h0m25 4h0m2 6h0m2-10h0m5 3h0m1 1h0m2 6h0m7 1h0m3-4h0m6 1h0m18 1h0m17-5h0m6 3h0m26-1h0m3-5h0m2 0h0m2 7h0m0-4h0m2-2h0m-1 15h0m-23-3h0m-1 6h0m-1 1h0m-2 3h0m-17-10h0m-13-1h0m-3 6h0m-3-6h0m-5 4h0m0-2h0m-3 5h0m-1-7h0m-16 8h0m-2 2h0m-2-7h0m-5 0h0m-4 5h0m-3-5h0m-1 1h0m-5 5h0m-6-2h0m-10 2h0m-4-3h0m-9 4h0m-2-4h0m-1-3h0m-3 4h0m0 1h0m0-5h0m-1-3h0m0 5h0m-1 2h0m-1-1h0m-1 1h0m-3-3h0m-2 1h0m-1 4h0m-1-3h0m0-5h0m-2 6h0m0-6h0m-1 0h0m-2 0h0m-2 9h0m-2-4h0m-2-7h0m-2 8h0m-1-8h0m0 1h0m0 10h0m-1-1h0m0-2h0m-1 1h0m-1 0h0m-1-1h0m0-6h0m0 6h0m-2-4h0m0 3h0m0-4h0m0 8h0m-1-5h0m-1-5h0m-2 2h0m-1 3h0m0 0h0m-1-3h0m0 8h0m0-5h0m-1 0h0m0 4h0m0 1h0m0-11h0m0 6h0m-1-2h0m-1-2h0m-1 0h0m0 0h0m-1-1h0m0 4h0m0 3h0m-1 4h0m-1-5h0m0-5h0m0 2h0m0 2h0m-1 6h0m0-9h0m-1 8h0m0-1h0m0-10h0m-1 1h0m0 2h0m-1 6h0m0-3h0m-2 3h0m0-3h0m0 3h0m-4-7h0m-1 1h0m-2-1h0m0 6h0m-1 0h0m-1-3h0m-1 4h0m-1-4h0m0-4h0m0 10h0m-2-8h0m-1-2h0m0 8h0m0-8h0m-1 5h0m-1 4h0m0-4h0m-2 0h0m-3 0h0m-1-1h0m-1 0h0m-1 2h0m-8 0h0m-1-2h0m0-3h0m-2 7h0m0 0h0m-1-2h0m0 2h0m-1-3h0m0 5h0m0-11h0m-1 5h0m-1 1h0m0-2h0m0 3h0m-4-4h0m-1 5h0m-1 1h0m0 1h0m-1-3h0m-1 0h0m0-3h0m-1 5h0m0 3h0m-2-5h0m0 2h0m-1-7h0m-1 6h0m-6 4h0m-2-2h0m-2-1h0m-1-4h0m-4 1h0m0 5h0m0-2h0m-1-1h0m0 1h0m0-9h0m-2 2h0m-1 3h0m-1 4h0m-1-8h0m0 10h0m-1-2h0m0-6h0m0-2h0m-2 6h0m0 2h0m0-8h0m-1 6h0m-1-6h0m0 1h0m-2 4h0m-1-2h0m0 2h0m-1-1h0m0-2h0m0 1h0m-2 2h0m0 4h0m0-3h0m-1 5h0m-3-2h0m0 0h0m-1-7h0m-1 3h0m0-1h0m-1-5h0m0 1h0m0 0h0m0 3h0m-1-1h0m-2 8h0m0-10h0m0 3h0m-2-1h0m0 4h0m-1-2h0m-1 2h0m-3-7h0m-1 4h0m0-1h0m-3 8h0m0-1h0m-1 0h0m-2-5h0m0-3h0m-3 6h0m-1 1h0m-1-8h0m-3 11h0m-1-1h0m-2-8h0m-2 3h0m-1 3h0m0 2h0m0-7h0m0-3h0m0 8h0m0-2h0m0 4h0m-3-8h0m-6 8h0m-1-4h0m-1 3h0m-1 1h0m0-4h0m-2 1h0m-3 4h0m-1-7h0m-2 0h0m-5 1h0m0-5h0m-1 8h0m-2 2h0m-1-10h0m-1 1h0m0 9h0m-2-6h0m-2-5h0m-1 8h0m-2 1h0m-1-7h0m-1 2h0m0-2h0m-1-1h0m-1 4h0m-44 4h0m-35-3h0m-21 1h0m14 7h0m1 9h0m46-2h0m13 0h0m20-7h0m6 3h0m3 0h0m6-3h0m2 0h0m0 0h0m1-2h0m1 2h0m3 6h0m0-6h0m1 8h0m0-4h0m0 5h0m2-10h0m4-1h0m3 11h0m1 0h0m0-10h0m2 10h0m4 0h0m2-1h0m5-5h0m1-2h0m0 4h0m0-3h0m2 0h0m2 1h0m1 6h0m1-10h0m2 10h0m1-7h0m0 7h0m0-10h0m1 1h0m1 1h0m0 0h0m3 9h0m0-5h0m0 2h0m1-5h0m0 0h0m1 4h0m1 2h0m0-3h0m1-4h0m1-1h0m0 8h0m1 1h0m0-4h0m2-2h0m1 5h0m0-7h0m0 6h0m4 2h0m1-6h0m0 1h0m1 1h0m2-1h0m2-5h0m1 1h0m1 10h0m2-9h0m3 7h0m0-1h0m1-1h0m1 0h0m0 0h0m1-2h0m0-2h0m2 3h0m1-1h0m1-5h0m1 5h0m0 0h0m1-5h0m0 4h0m3 2h0m1-2h0m1-3h0m1 2h0m0-2h0m1 1h0m2-2h0m0 11h0m1-4h0m1 2h0m0-1h0m0-6h0m2 7h0m1-6h0m3-4h0m0 8h0m1-4h0m3-3h0m0 4h0m2-4h0m0 0h0m1 11h0m1-1h0m13-2h0m2 2h0m2-2h0m1 3h0m0-2h0m0-2h0m1 1h0m1 1h0m1-2h0m0 1h0m0 2h0m5-1h0m2 0h0m1 1h0m3-10h0m0 7h0m2 3h0m14-8h0m1 3h0m0-4h0m1 6h0m0 1h0m1-9h0m1 8h0m0-4h0m0 8h0m1-9h0m1 4h0m1-6h0m0 5h0m1-4h0m1 8h0m0-3h0m1-4h0m0 3h0m0-1h0m2 1h0m0-3h0m0 0h0m0-2h0m1 5h0m1-6h0m0 2h0m1 9h0m0-3h0m1-5h0m0 7h0m0-1h0m3-6h0m0 7h0m0-8h0m1 8h0m1-2h0m0-4h0m2-2h0m0 1h0m0 3h0m0-3h0m0-2h0m1 2h0m0 2h0m0-3h0m3 1h0m1 3h0m0-5h0m0 6h0m0 4h0m4-2h0m0-1h0m1 3h0m1-9h0m1 2h0m3 4h0m2 0h0m1-7h0m2 9h0m0-6h0m0 4h0m2-3h0m3 6h0m0-7h0m3-4h0m0 11h0m4-3h0m4-1h0m2-6h0m1 5h0m0-1h0m4 2h0m2-2h0m32 5h0m1-7h0m2 3h0m1-2h0m1 6h0m5-2h0m22-2h0m6-5h0m3 4h0m25-4h0m3 5h0m0 3h0m8 0h0m19-5h0m-12 9h0m-7 1h0m-2 0h0m-7 1h0m-5 3h0m-3-1h0m-1-1h0m-2 6h0m-2-2h0m-13-2h0m-15 4h0m-1-6h0m-3 4h0m-7-7h0m-12 9h0m0-10h0m-21 7h0m-16-2h0m-4 5h0m-2-6h0m0 4h0m-1 2h0m-3-3h0m0-2h0m-1-1h0m-1 3h0m-1-3h0m0 3h0m0-4h0m-1 5h0m-1-7h0m0 8h0m-4 1h0m-1-1h0m-1-8h0m-2 0h0m-1 2h0m-2 1h0m0 5h0m0-6h0m-1 3h0m0 3h0m-2-6h0m-1 3h0m0 3h0m-2-5h0m-1 3h0m-1 2h0m0-4h0m-2 1h0m-1 4h0m-1-8h0m0-1h0m0 7h0m-1-2h0m0 3h0m0 1h0m0-1h0m-4-4h0m-1 6h0m-2-4h0m-1-5h0m-1 5h0m-7-6h0m-1 0h0m-1 8h0m0-1h0m-2-7h0m0 4h0m-1 6h0m-1-8h0m-1 0h0m-2-1h0m-2 8h0m-1-6h0m-2 3h0m0-6h0m-2 9h0m0-1h0m-2 2h0m-1-1h0m-1 0h0m-3-7h0m-1 8h0m-1-6h0m0-3h0m0 5h0m0-3h0m0-2h0m-1 7h0m-1-4h0m0 1h0m-1 1h0m-1 4h0m-1-2h0m0-3h0m-1 3h0m-2-6h0m-1-2h0m-3 7h0m-1 2h0m0 0h0m-1-4h0m0-5h0m0 4h0m-4-1h0m-2-1h0m-1 4h0m0-1h0m-1 0h0m0-5h0m-1 6h0m-3 2h0m0 2h0m-9 0h0m0-6h0m-2 2h0m-1 3h0m-1-7h0m0-2h0m0 8h0m-1-2h0m-1-3h0m0 2h0m0-1h0m-1-4h0m-1 3h0m-1 3h0m-1 4h0m0-1h0m-2 1h0m-1-1h0m-1-9h0m0 6h0m0-2h0m-1 4h0m-1 1h0m0-2h0m-1-8h0m-1 10h0m0-8h0m-4 6h0m0 0h0m-1-6h0m0 3h0m-7-5h0m-1 2h0m0 8h0m-2-6h0m-2 1h0m0-2h0m-1 0h0m0-1h0m-2 0h0m-4 3h0m-2 3h0m-1-3h0m0 2h0m-2-6h0m0 0h0m-4 0h0m-3 4h0m-1 5h0m0-4h0m-8-2h0m-1-4h0m0 6h0m0-2h0m-1-4h0m-1 5h0m-1-2h0m-1-2h0m-1 4h0m0 4h0m-1 2h0m-1-6h0m-1 4h0m0 0h0m-1 0h0m-2 1h0m-2-2h0m0 2h0m0-5h0m-1-1h0m0 1h0m-1-1h0m0 7h0m0-2h0m-1-7h0m-1 6h0m-1 2h0m-1-3h0m0 2h0m-1-5h0m0-2h0m-3 2h0m-1 1h0m0-4h0m-1 0h0m-1 1h0m0 3h0m-1 4h0m-1-1h0m0-4h0m0 0h0m-1 0h0m-2 2h0m-1 5h0m-1-10h0m-7 0h0m-2 9h0m-2-1h0m-4 2h0m-30-6h0m-52-1h0m-8 2h0m-4 0h0m-14-3h0" fill="none" stroke="#fc9c9b" stroke-width="6.4" stroke-linecap="round"/><path d="M126.6 496.5 128.6 496.5 130.6 496.5 132.6 496.6 134.6 496.6 136.6 496.7 138.7 496.7 140.7 496.8 142.7 496.8 144.7 496.9 146.7 497.0 148.7 497.0 150.7 497.1 152.7 497.2 154.7 497.3 156.7 497.4 158.7 497.4 160.7 497.5 162.8 497.6 164.8 497.7 166.8 497.8 168.8 498.0 170.8 498.1 172.8 498.2 174.8 498.4 176.8 498.5 178.8 498.7 180.8 498.8 182.8 499.0 184.8 499.2 186.9 499.4 188.9 499.6 190.9 499.8 192.9 500.0 194.9 500.2 196.9 500.4 198.9 500.6 200.9 500.9 202.9 501.1 204.9 501.4 206.9 501.6 208.9 501.9 211.0 502.1 213.0 502.4 215.0 502.6 217.0 502.9 219.0 503.2 221.0 503.5 223.0 503.7 225.0 504.0 227.0 504.3 229.0 504.6 231.0 504.9 233.0 505.2 235.1 505.5 237.1 505.8 239.1 506.1 241.1 506.5 243.1 506.9 245.1 507.2 247.1 507.7 249.1 508.1 251.1 508.5 253.1 509.0 255.1 509.4 257.1 509.9 259.2 510.4 261.2 510.9 263.2 511.4 265.2 511.9 267.2 512.4 269.2 512.9 271.2 513.4 273.2 514.0 275.2 514.5 277.2 515.1 279.2 515.6 281.2 516.2 283.3 516.7 285.3 517.3 287.3 517.9 289.3 518.5 291.3 519.1 293.3 519.7 295.3 520.4 297.3 521.1 299.3 521.8 301.3 522.5 303.3 523.3 305.3 524.1 307.4 524.9 309.4 525.8 311.4 526.7 313.4 527.7 315.4 528.8 317.4 530.0 319.4 531.2 321.4 532.5 323.4 533.8 325.4 535.2 327.4 536.6 329.4 538.0 331.5 539.5 333.5 541.0 335.5 542.5 337.5 544.2 339.5 545.9 341.5 547.7 343.5 549.7 345.5 551.7 347.5 554.0 349.5 556.5 351.5 559.1 353.6 561.9 355.6 564.7 357.6 567.6 359.6 570.5 361.6 573.7 363.6 577.0 365.6 580.2 367.6 583.4 369.6 586.5 371.6 589.5 373.6 592.5 375.6 595.4 377.7 598.2 379.7 600.9 381.7 603.4 383.7 605.8 385.7 608.2 387.7 610.6 389.7 613.1 391.7 615.6 393.7 618.2 395.7 620.7 397.7 623.2 399.7 625.7 401.8 628.2 403.8 630.8 405.8 633.5 407.8 635.9 409.8 638.1 411.8 639.9 413.8 641.5 415.8 643.0 417.8 644.4 419.8 645.7 421.8 647.0 423.8 648.2 425.9 649.3 427.9 650.3 429.9 651.3 431.9 652.3 433.9 653.2 435.9 654.1 437.9 655.0 439.9 655.8 441.9 656.6 443.9 657.4 445.9 658.1 447.9 658.8 450.0 659.5 452.0 660.1 454.0 660.7 456.0 661.3 458.0 661.8 460.0 662.2 462.0 662.7 464.0 663.1 466.0 663.5 468.0 664.0 470.0 664.4 472.0 664.8 474.1 665.2 476.1 665.5 478.1 665.9 480.1 666.2 482.1 666.5 484.1 666.8 486.1 667.1 488.1 667.4 490.1 667.6 492.1 667.9 494.1 668.1 496.1 668.2 498.2 668.4 500.2 668.5 502.2 668.6 504.2 668.7 506.2 668.8 508.2 668.9 510.2 669.0 512.2 669.1 514.2 669.2 516.2 669.3 518.2 669.4 520.2 669.5 522.3 669.6 524.3 669.6 526.3 669.7 528.3 669.8 530.3 669.9 532.3 669.9 534.3 670.0 536.3 670.1 538.3 670.1 540.3 670.2 542.3 670.2 544.3 670.3 546.4 670.3 548.4 670.3 550.4 670.4 552.4 670.4 554.4 670.4 556.4 670.5 558.4 670.5 560.4 670.5 562.4 670.5 564.4 670.5 566.4 670.5 568.5 670.5 570.5 670.5 572.5 670.5 574.5 670.5 576.5 670.5 578.5 670.5 580.5 670.5 582.5 670.5 584.5 670.5 586.5 670.5 588.5 670.5 590.5 670.5 592.6 670.5 594.6 670.5 596.6 670.5 598.6 670.5 600.6 670.5 602.6 670.5 604.6 670.5 606.6 670.5 608.6 670.5 610.6 670.4 612.6 670.4 614.6 670.4 616.7 670.3 618.7 670.2 620.7 670.2 622.7 670.1 624.7 670.0 626.7 669.9 628.7 669.8 630.7 669.7 632.7 669.6 634.7 669.5 636.7 669.4 638.7 669.3 640.8 669.2 642.8 669.1 644.8 668.9 646.8 668.8 648.8 668.7 650.8 668.6 652.8 668.4 654.8 668.3 656.8 668.2 658.8 668.0 660.8 667.9 662.8 667.8 664.9 667.7 666.9 667.6 668.9 667.4 670.9 667.3 672.9 667.2 674.9 667.1 676.9 667.0 678.9 666.9 680.9 666.8 682.9 666.8 684.9 666.7 686.9 666.6 689.0 666.5 691.0 666.4 693.0 666.4 695.0 666.3 697.0 666.2 699.0 666.1 701.0 666.1 703.0 666.0 705.0 665.9 707.0 665.8 709.0 665.8 711.0 665.7 713.1 665.6 715.1 665.5 717.1 665.5 719.1 665.4 721.1 665.3 723.1 665.2 725.1 665.2 727.1 665.1 729.1 665.0 731.1 665.0 733.1 664.9 735.1 664.8 737.2 664.8 739.2 664.7 741.2 664.6 743.2 664.6 745.2 664.5 747.2 664.4 749.2 664.4 751.2 664.3 753.2 664.2 755.2 664.2 757.2 664.1 759.2 664.1 761.3 664.0 763.3 663.9 765.3 663.9 767.3 663.8 769.3 663.8 771.3 663.7" fill="none" stroke="#222" stroke-width="1.1"/><path d="M126.6 576.6 128.6 576.6 130.6 576.6 132.6 576.7 134.6 576.7 136.6 576.7 138.7 576.8 140.7 576.9 142.7 576.9 144.7 577.0 146.7 577.1 148.7 577.2 150.7 577.3 152.7 577.3 154.7 577.5 156.7 577.6 158.7 577.7 160.7 577.8 162.8 577.9 164.8 578.0 166.8 578.2 168.8 578.3 170.8 578.4 172.8 578.6 174.8 578.7 176.8 578.9 178.8 579.0 180.8 579.2 182.8 579.3 184.8 579.5 186.9 579.6 188.9 579.8 190.9 579.9 192.9 580.1 194.9 580.2 196.9 580.4 198.9 580.6 200.9 580.8 202.9 581.0 204.9 581.2 206.9 581.5 208.9 581.7 211.0 582.0 213.0 582.2 215.0 582.5 217.0 582.8 219.0 583.1 221.0 583.4 223.0 583.7 225.0 584.0 227.0 584.3 229.0 584.6 231.0 585.0 233.0 585.3 235.1 585.7 237.1 586.0 239.1 586.4 241.1 586.7 243.1 587.1 245.1 587.5 247.1 587.8 249.1 588.2 251.1 588.6 253.1 589.0 255.1 589.3 257.1 589.7 259.2 590.1 261.2 590.5 263.2 590.9 265.2 591.4 267.2 591.8 269.2 592.3 271.2 592.7 273.2 593.2 275.2 593.7 277.2 594.2 279.2 594.7 281.2 595.2 283.3 595.8 285.3 596.3 287.3 596.9 289.3 597.4 291.3 598.0 293.3 598.6 295.3 599.2 297.3 599.8 299.3 600.5 301.3 601.1 303.3 601.8 305.3 602.5 307.4 603.2 309.4 603.9 311.4 604.7 313.4 605.5 315.4 606.3 317.4 607.1 319.4 608.0 321.4 608.9 323.4 609.8 325.4 610.7 327.4 611.7 329.4 612.7 331.5 613.8 333.5 614.9 335.5 616.2 337.5 617.5 339.5 618.9 341.5 620.2 343.5 621.6 345.5 623.0 347.5 624.4 349.5 626.0 351.5 627.6 353.6 629.3 355.6 631.2 357.6 633.1 359.6 635.2 361.6 637.5 363.6 640.1 365.6 643.2 367.6 646.5 369.6 649.6 371.6 652.4 373.6 654.9 375.6 657.2 377.7 659.4 379.7 661.7 381.7 664.1 383.7 666.8 385.7 669.8 387.7 673.1 389.7 676.6 391.7 680.0 393.7 683.4 395.7 686.6 397.7 689.6 399.7 692.1 401.8 694.4 403.8 696.6 405.8 698.7 407.8 700.7 409.8 702.7 411.8 704.5 413.8 706.3 415.8 707.9 417.8 709.5 419.8 711.0 421.8 712.3 423.8 713.6 425.9 714.8 427.9 715.9 429.9 717.0 431.9 718.0 433.9 719.0 435.9 719.9 437.9 720.8 439.9 721.7 441.9 722.5 443.9 723.3 445.9 724.2 447.9 725.0 450.0 725.8 452.0 726.6 454.0 727.3 456.0 728.0 458.0 728.7 460.0 729.3 462.0 730.0 464.0 730.6 466.0 731.2 468.0 731.9 470.0 732.5 472.0 733.2 474.1 733.8 476.1 734.4 478.1 735.0 480.1 735.6 482.1 736.1 484.1 736.7 486.1 737.2 488.1 737.7 490.1 738.1 492.1 738.5 494.1 738.9 496.1 739.2 498.2 739.5 500.2 739.7 502.2 739.9 504.2 740.1 506.2 740.3 508.2 740.5 510.2 740.7 512.2 740.9 514.2 741.1 516.2 741.3 518.2 741.5 520.2 741.6 522.3 741.8 524.3 742.0 526.3 742.2 528.3 742.3 530.3 742.5 532.3 742.6 534.3 742.8 536.3 742.9 538.3 743.0 540.3 743.2 542.3 743.3 544.3 743.4 546.4 743.5 548.4 743.6 550.4 743.7 552.4 743.8 554.4 743.9 556.4 744.0 558.4 744.0 560.4 744.1 562.4 744.2 564.4 744.2 566.4 744.3 568.5 744.3 570.5 744.3 572.5 744.4 574.5 744.4 576.5 744.4 578.5 744.4 580.5 744.4 582.5 744.4 584.5 744.4 586.5 744.4 588.5 744.4 590.5 744.4 592.6 744.4 594.6 744.4 596.6 744.4 598.6 744.4 600.6 744.3 602.6 744.3 604.6 744.3 606.6 744.3 608.6 744.3 610.6 744.3 612.6 744.3 614.6 744.3 616.7 744.2 618.7 744.2 620.7 744.2 622.7 744.2 624.7 744.2 626.7 744.2 628.7 744.1 630.7 744.1 632.7 744.1 634.7 744.1 636.7 744.1 638.7 744.0 640.8 744.0 642.8 744.0 644.8 744.0 646.8 744.0 648.8 743.9 650.8 743.9 652.8 743.9 654.8 743.9 656.8 743.9 658.8 743.8 660.8 743.8 662.8 743.8 664.9 743.8 666.9 743.8 668.9 743.7 670.9 743.7 672.9 743.7 674.9 743.7 676.9 743.7 678.9 743.6 680.9 743.6 682.9 743.6 684.9 743.6 686.9 743.5 689.0 743.5 691.0 743.5 693.0 743.5 695.0 743.5 697.0 743.4 699.0 743.4 701.0 743.4 703.0 743.4 705.0 743.3 707.0 743.3 709.0 743.3 711.0 743.3 713.1 743.2 715.1 743.2 717.1 743.2 719.1 743.1 721.1 743.1 723.1 743.1 725.1 743.1 727.1 743.0 729.1 743.0 731.1 743.0 733.1 742.9 735.1 742.9 737.2 742.9 739.2 742.8 741.2 742.8 743.2 742.8 745.2 742.8 747.2 742.7 749.2 742.7 751.2 742.7 753.2 742.6 755.2 742.6 757.2 742.6 759.2 742.5 761.3 742.5 763.3 742.5 765.3 742.4 767.3 742.4 769.3 742.3 771.3 742.3" fill="none" stroke="#222" stroke-width="1.1"/><path d="M126.6 535.8 128.6 535.9 130.6 535.9 132.6 535.9 134.6 536.0 136.6 536.1 138.7 536.1 140.7 536.2 142.7 536.3 144.7 536.4 146.7 536.5 148.7 536.6 150.7 536.7 152.7 536.8 154.7 536.9 156.7 537.0 158.7 537.1 160.7 537.2 162.8 537.4 164.8 537.5 166.8 537.6 168.8 537.8 170.8 537.9 172.8 538.0 174.8 538.2 176.8 538.3 178.8 538.5 180.8 538.6 182.8 538.8 184.8 538.9 186.9 539.1 188.9 539.3 190.9 539.4 192.9 539.6 194.9 539.7 196.9 539.9 198.9 540.1 200.9 540.3 202.9 540.5 204.9 540.7 206.9 540.9 208.9 541.1 211.0 541.3 213.0 541.5 215.0 541.7 217.0 542.0 219.0 542.2 221.0 542.5 223.0 542.7 225.0 543.0 227.0 543.3 229.0 543.5 231.0 543.8 233.0 544.1 235.1 544.4 237.1 544.7 239.1 545.0 241.1 545.4 243.1 545.7 245.1 546.0 247.1 546.4 249.1 546.7 251.1 547.1 253.1 547.5 255.1 547.8 257.1 548.2 259.2 548.6 261.2 549.1 263.2 549.5 265.2 550.0 267.2 550.5 269.2 551.0 271.2 551.5 273.2 552.1 275.2 552.7 277.2 553.3 279.2 553.9 281.2 554.5 283.3 555.2 285.3 555.8 287.3 556.5 289.3 557.2 291.3 558.0 293.3 558.7 295.3 559.5 297.3 560.2 299.3 561.0 301.3 561.8 303.3 562.6 305.3 563.5 307.4 564.3 309.4 565.2 311.4 566.1 313.4 567.1 315.4 568.1 317.4 569.2 319.4 570.4 321.4 571.5 323.4 572.8 325.4 574.0 327.4 575.3 329.4 576.6 331.5 578.0 333.5 579.3 335.5 580.7 337.5 582.2 339.5 583.7 341.5 585.3 343.5 587.0 345.5 588.8 347.5 590.6 349.5 592.6 351.5 594.6 353.6 596.8 355.6 599.0 357.6 601.3 359.6 603.6 361.6 605.9 363.6 608.3 365.6 610.7 367.6 613.1 369.6 615.7 371.6 618.3 373.6 621.0 375.6 623.7 377.7 626.4 379.7 629.1 381.7 631.8 383.7 634.5 385.7 637.1 387.7 639.6 389.7 642.2 391.7 644.7 393.7 647.3 395.7 649.9 397.7 652.4 399.7 655.0 401.8 657.4 403.8 659.9 405.8 662.2 407.8 664.4 409.8 666.5 411.8 668.5 413.8 670.4 415.8 672.3 417.8 674.1 419.8 675.9 421.8 677.7 423.8 679.4 425.9 681.0 427.9 682.5 429.9 683.9 431.9 685.2 433.9 686.4 435.9 687.5 437.9 688.5 439.9 689.5 441.9 690.4 443.9 691.3 445.9 692.2 447.9 693.0 450.0 693.7 452.0 694.4 454.0 695.1 456.0 695.7 458.0 696.2 460.0 696.7 462.0 697.2 464.0 697.6 466.0 698.1 468.0 698.5 470.0 698.9 472.0 699.2 474.1 699.6 476.1 699.9 478.1 700.3 480.1 700.6 482.1 700.9 484.1 701.2 486.1 701.5 488.1 701.7 490.1 702.0 492.1 702.3 494.1 702.5 496.1 702.8 498.2 703.1 500.2 703.3 502.2 703.6 504.2 703.8 506.2 704.1 508.2 704.4 510.2 704.6 512.2 704.9 514.2 705.1 516.2 705.3 518.2 705.6 520.2 705.8 522.3 705.9 524.3 706.1 526.3 706.3 528.3 706.4 530.3 706.5 532.3 706.6 534.3 706.7 536.3 706.8 538.3 706.9 540.3 707.0 542.3 707.1 544.3 707.2 546.4 707.3 548.4 707.3 550.4 707.4 552.4 707.5 554.4 707.6 556.4 707.6 558.4 707.7 560.4 707.7 562.4 707.8 564.4 707.8 566.4 707.9 568.5 707.9 570.5 708.0 572.5 708.0 574.5 708.0 576.5 708.0 578.5 708.0 580.5 708.0 582.5 708.0 584.5 708.0 586.5 708.0 588.5 708.0 590.5 708.0 592.6 708.0 594.6 707.9 596.6 707.9 598.6 707.9 600.6 707.9 602.6 707.9 604.6 707.9 606.6 707.8 608.6 707.8 610.6 707.8 612.6 707.8 614.6 707.7 616.7 707.7 618.7 707.7 620.7 707.6 622.7 707.6 624.7 707.6 626.7 707.6 628.7 707.5 630.7 707.5 632.7 707.4 634.7 707.4 636.7 707.4 638.7 707.3 640.8 707.3 642.8 707.3 644.8 707.2 646.8 707.2 648.8 707.1 650.8 707.1 652.8 707.0 654.8 707.0 656.8 707.0 658.8 706.9 660.8 706.9 662.8 706.8 664.9 706.8 666.9 706.7 668.9 706.7 670.9 706.7 672.9 706.6 674.9 706.6 676.9 706.5 678.9 706.5 680.9 706.4 682.9 706.4 684.9 706.3 686.9 706.3 689.0 706.2 691.0 706.2 693.0 706.1 695.0 706.1 697.0 706.0 699.0 705.9 701.0 705.9 703.0 705.8 705.0 705.7 707.0 705.7 709.0 705.6 711.0 705.5 713.1 705.5 715.1 705.4 717.1 705.3 719.1 705.2 721.1 705.1 723.1 705.1 725.1 705.0 727.1 704.9 729.1 704.8 731.1 704.7 733.1 704.6 735.1 704.5 737.2 704.4 739.2 704.3 741.2 704.3 743.2 704.2 745.2 704.1 747.2 704.0 749.2 703.9 751.2 703.8 753.2 703.7 755.2 703.6 757.2 703.5 759.2 703.4 761.3 703.3 763.3 703.2 765.3 703.1 767.3 702.9 769.3 702.8 771.3 702.7" fill="none" stroke="#000" stroke-width="3.6" stroke-dasharray="21 11"/><path d="M244.0 534.2V551.2M235.0 534.2h18M235.0 551.2h18M332.0 569.3V588.5M323.0 569.3h18M323.0 588.5h18M460.2 662.4V678.5M451.2 662.4h18M451.2 678.5h18M554.8 711.1V718.4M545.8 711.1h18M545.8 718.4h18M661.6 704.8V710.6M652.6 704.8h18M652.6 710.6h18M707.7 717.6V723.6M698.7 717.6h18M698.7 723.6h18" fill="none" stroke="#3c3cd6" stroke-width="1.4"/><circle cx="244.0" cy="542.7" r="2.9" fill="#0000f4"/><circle cx="332.0" cy="578.9" r="2.9" fill="#0000f4"/><circle cx="460.2" cy="669.9" r="2.9" fill="#0000f4"/><circle cx="554.8" cy="714.7" r="2.9" fill="#0000f4"/><circle cx="661.6" cy="708.0" r="2.9" fill="#0000f4"/><circle cx="707.7" cy="720.7" r="2.9" fill="#0000f4"/></g><g clip-path="url(#kd)"><path d="M782.5 506.5 784.5 506.6 786.5 506.7 788.5 506.8 790.5 506.8 792.6 506.9 794.6 507.0 796.6 507.1 798.6 507.2 800.6 507.4 802.6 507.5 804.6 507.6 806.6 507.7 808.7 507.8 810.7 507.9 812.7 508.1 814.7 508.2 816.7 508.3 818.7 508.5 820.7 508.6 822.7 508.8 824.8 508.9 826.8 509.0 828.8 509.2 830.8 509.3 832.8 509.5 834.8 509.6 836.8 509.8 838.8 510.0 840.9 510.1 842.9 510.3 844.9 510.5 846.9 510.6 848.9 510.8 850.9 511.0 852.9 511.1 854.9 511.3 856.9 511.5 859.0 511.7 861.0 511.9 863.0 512.0 865.0 512.2 867.0 512.4 869.0 512.6 871.0 512.8 873.0 513.1 875.1 513.3 877.1 513.5 879.1 513.7 881.1 514.0 883.1 514.2 885.1 514.4 887.1 514.7 889.1 514.9 891.2 515.2 893.2 515.5 895.2 515.7 897.2 516.0 899.2 516.3 901.2 516.6 903.2 516.9 905.2 517.2 907.3 517.5 909.3 517.8 911.3 518.1 913.3 518.5 915.3 518.8 917.3 519.2 919.3 519.6 921.3 520.0 923.4 520.4 925.4 520.8 927.4 521.3 929.4 521.8 931.4 522.3 933.4 522.8 935.4 523.3 937.4 523.8 939.4 524.4 941.5 524.9 943.5 525.5 945.5 526.1 947.5 526.7 949.5 527.3 951.5 527.9 953.5 528.6 955.5 529.2 957.6 529.9 959.6 530.5 961.6 531.3 963.6 532.0 965.6 532.7 967.6 533.5 969.6 534.3 971.6 535.2 973.7 536.1 975.7 537.0 977.7 538.0 979.7 539.0 981.7 540.1 983.7 541.2 985.7 542.4 987.7 543.6 989.8 545.1 991.8 546.7 993.8 548.4 995.8 550.2 997.8 552.2 999.8 554.1 1001.8 556.1 1003.8 558.2 1005.8 560.5 1007.9 562.8 1009.9 565.2 1011.9 567.7 1013.9 570.3 1015.9 572.9 1017.9 575.6 1019.9 578.5 1021.9 581.4 1024.0 584.3 1026.0 587.4 1028.0 590.6 1030.0 593.9 1032.0 597.3 1034.0 600.5 1036.0 603.6 1038.0 606.6 1040.1 609.6 1042.1 612.5 1044.1 615.3 1046.1 618.1 1048.1 620.7 1050.1 623.3 1052.1 625.9 1054.1 628.5 1056.2 630.9 1058.2 633.3 1060.2 635.5 1062.2 637.4 1064.2 639.1 1066.2 640.6 1068.2 642.1 1070.2 643.4 1072.2 644.7 1074.3 645.9 1076.3 647.0 1078.3 648.1 1080.3 649.1 1082.3 650.1 1084.3 651.1 1086.3 652.1 1088.3 653.0 1090.4 653.9 1092.4 654.8 1094.4 655.6 1096.4 656.4 1098.4 657.1 1100.4 657.9 1102.4 658.6 1104.4 659.4 1106.5 660.1 1108.5 660.9 1110.5 661.6 1112.5 662.4 1114.5 663.1 1116.5 663.9 1118.5 664.6 1120.5 665.4 1122.6 666.1 1124.6 666.8 1126.6 667.5 1128.6 668.1 1130.6 668.8 1132.6 669.4 1134.6 669.9 1136.6 670.4 1138.7 670.9 1140.7 671.3 1142.7 671.7 1144.7 672.0 1146.7 672.3 1148.7 672.6 1150.7 672.9 1152.7 673.2 1154.7 673.5 1156.8 673.7 1158.8 674.0 1160.8 674.3 1162.8 674.5 1164.8 674.7 1166.8 675.0 1168.8 675.2 1170.8 675.4 1172.9 675.5 1174.9 675.7 1176.9 675.8 1178.9 675.9 1180.9 676.0 1182.9 676.1 1184.9 676.2 1186.9 676.2 1189.0 676.2 1191.0 676.2 1193.0 676.3 1195.0 676.3 1197.0 676.3 1199.0 676.3 1201.0 676.3 1203.0 676.3 1205.1 676.4 1207.1 676.4 1209.1 676.4 1211.1 676.4 1213.1 676.4 1215.1 676.4 1217.1 676.4 1219.1 676.4 1221.1 676.5 1223.2 676.5 1225.2 676.5 1227.2 676.5 1229.2 676.5 1231.2 676.5 1233.2 676.5 1235.2 676.5 1237.2 676.5 1239.3 676.5 1241.3 676.5 1243.3 676.6 1245.3 676.6 1247.3 676.6 1249.3 676.6 1251.3 676.6 1253.3 676.6 1255.4 676.6 1257.4 676.6 1259.4 676.6 1261.4 676.6 1263.4 676.6 1265.4 676.6 1267.4 676.6 1269.4 676.6 1271.5 676.6 1273.5 676.6 1275.5 676.6 1277.5 676.6 1279.5 676.6 1281.5 676.5 1283.5 676.5 1285.5 676.5 1287.5 676.4 1289.6 676.4 1291.6 676.3 1293.6 676.2 1295.6 676.2 1297.6 676.1 1299.6 676.0 1301.6 675.9 1303.6 675.8 1305.7 675.8 1307.7 675.7 1309.7 675.6 1311.7 675.5 1313.7 675.4 1315.7 675.2 1317.7 675.1 1319.7 675.0 1321.8 674.9 1323.8 674.8 1325.8 674.7 1327.8 674.6 1329.8 674.5 1331.8 674.3 1333.8 674.2 1335.8 674.1 1337.9 674.0 1339.9 673.9 1341.9 673.8 1343.9 673.7 1345.9 673.6 1347.9 673.5 1349.9 673.4 1351.9 673.3 1354.0 673.2 1356.0 673.1 1358.0 673.0 1360.0 672.9 1362.0 672.9 1364.0 672.8 1366.0 672.7 1368.0 672.6 1370.0 672.6 1372.1 672.5 1374.1 672.4 1376.1 672.4 1378.1 672.3 1380.1 672.2 1382.1 672.2 1384.1 672.1 1386.1 672.0 1388.2 672.0 1390.2 671.9 1392.2 671.8 1394.2 671.8 1396.2 671.7 1398.2 671.6 1400.2 671.6 1402.2 671.5 1404.3 671.4 1406.3 671.4 1408.3 671.3 1410.3 671.2 1412.3 671.2 1414.3 671.1 1416.3 671.1 1418.3 671.0 1420.4 670.9 1422.4 670.9 1424.4 670.8 1426.4 670.8 1428.4 670.7 1428.4 715.3 1426.4 715.4 1424.4 715.5 1422.4 715.5 1420.4 715.6 1418.3 715.7 1416.3 715.7 1414.3 715.8 1412.3 715.9 1410.3 716.0 1408.3 716.0 1406.3 716.1 1404.3 716.2 1402.2 716.2 1400.2 716.3 1398.2 716.4 1396.2 716.4 1394.2 716.5 1392.2 716.6 1390.2 716.6 1388.2 716.7 1386.1 716.7 1384.1 716.8 1382.1 716.9 1380.1 716.9 1378.1 717.0 1376.1 717.1 1374.1 717.1 1372.1 717.2 1370.0 717.2 1368.0 717.3 1366.0 717.4 1364.0 717.4 1362.0 717.5 1360.0 717.5 1358.0 717.6 1356.0 717.6 1354.0 717.7 1351.9 717.8 1349.9 717.8 1347.9 717.9 1345.9 718.0 1343.9 718.0 1341.9 718.1 1339.9 718.2 1337.9 718.2 1335.8 718.3 1333.8 718.4 1331.8 718.4 1329.8 718.5 1327.8 718.6 1325.8 718.6 1323.8 718.7 1321.8 718.8 1319.7 718.8 1317.7 718.9 1315.7 719.0 1313.7 719.0 1311.7 719.1 1309.7 719.1 1307.7 719.2 1305.7 719.2 1303.6 719.3 1301.6 719.3 1299.6 719.4 1297.6 719.4 1295.6 719.5 1293.6 719.5 1291.6 719.5 1289.6 719.6 1287.5 719.6 1285.5 719.6 1283.5 719.7 1281.5 719.7 1279.5 719.7 1277.5 719.7 1275.5 719.7 1273.5 719.7 1271.5 719.7 1269.4 719.7 1267.4 719.7 1265.4 719.7 1263.4 719.7 1261.4 719.7 1259.4 719.7 1257.4 719.7 1255.4 719.6 1253.3 719.6 1251.3 719.6 1249.3 719.6 1247.3 719.6 1245.3 719.6 1243.3 719.5 1241.3 719.5 1239.3 719.5 1237.2 719.5 1235.2 719.4 1233.2 719.4 1231.2 719.4 1229.2 719.4 1227.2 719.3 1225.2 719.3 1223.2 719.3 1221.1 719.2 1219.1 719.2 1217.1 719.2 1215.1 719.1 1213.1 719.1 1211.1 719.1 1209.1 719.0 1207.1 719.0 1205.1 719.0 1203.0 718.9 1201.0 718.9 1199.0 718.9 1197.0 718.8 1195.0 718.8 1193.0 718.7 1191.0 718.7 1189.0 718.6 1186.9 718.6 1184.9 718.6 1182.9 718.5 1180.9 718.4 1178.9 718.4 1176.9 718.3 1174.9 718.2 1172.9 718.2 1170.8 718.1 1168.8 718.0 1166.8 717.9 1164.8 717.8 1162.8 717.7 1160.8 717.6 1158.8 717.5 1156.8 717.3 1154.7 717.2 1152.7 717.1 1150.7 716.9 1148.7 716.8 1146.7 716.6 1144.7 716.5 1142.7 716.3 1140.7 716.2 1138.7 716.0 1136.6 715.7 1134.6 715.5 1132.6 715.2 1130.6 715.0 1128.6 714.7 1126.6 714.3 1124.6 714.0 1122.6 713.7 1120.5 713.3 1118.5 712.9 1116.5 712.5 1114.5 712.1 1112.5 711.7 1110.5 711.3 1108.5 710.8 1106.5 710.4 1104.4 709.9 1102.4 709.4 1100.4 708.9 1098.4 708.3 1096.4 707.7 1094.4 707.0 1092.4 706.3 1090.4 705.5 1088.3 704.6 1086.3 703.8 1084.3 702.8 1082.3 701.8 1080.3 700.7 1078.3 699.5 1076.3 698.2 1074.3 696.8 1072.2 695.4 1070.2 693.8 1068.2 692.2 1066.2 690.5 1064.2 688.7 1062.2 686.7 1060.2 684.5 1058.2 682.1 1056.2 679.5 1054.1 676.8 1052.1 673.9 1050.1 671.0 1048.1 668.0 1046.1 664.8 1044.1 661.3 1042.1 657.7 1040.1 654.0 1038.0 650.4 1036.0 646.9 1034.0 643.6 1032.0 640.6 1030.0 637.7 1028.0 634.8 1026.0 632.0 1024.0 629.2 1021.9 626.6 1019.9 624.0 1017.9 621.5 1015.9 619.2 1013.9 616.9 1011.9 614.8 1009.9 612.9 1007.9 611.1 1005.8 609.4 1003.8 607.6 1001.8 605.8 999.8 604.0 997.8 602.2 995.8 600.5 993.8 598.9 991.8 597.3 989.8 595.9 987.7 594.6 985.7 593.5 983.7 592.4 981.7 591.4 979.7 590.4 977.7 589.5 975.7 588.6 973.7 587.7 971.6 586.9 969.6 586.1 967.6 585.4 965.6 584.6 963.6 583.9 961.6 583.3 959.6 582.6 957.6 582.0 955.5 581.4 953.5 580.8 951.5 580.2 949.5 579.6 947.5 579.1 945.5 578.5 943.5 578.0 941.5 577.5 939.4 577.0 937.4 576.5 935.4 576.0 933.4 575.5 931.4 575.0 929.4 574.6 927.4 574.2 925.4 573.8 923.4 573.4 921.3 573.0 919.3 572.6 917.3 572.3 915.3 571.9 913.3 571.6 911.3 571.3 909.3 571.1 907.3 570.8 905.2 570.5 903.2 570.3 901.2 570.0 899.2 569.8 897.2 569.5 895.2 569.3 893.2 569.0 891.2 568.8 889.1 568.6 887.1 568.4 885.1 568.2 883.1 568.0 881.1 567.8 879.1 567.6 877.1 567.4 875.1 567.2 873.0 567.0 871.0 566.8 869.0 566.7 867.0 566.5 865.0 566.3 863.0 566.2 861.0 566.0 859.0 565.8 856.9 565.7 854.9 565.5 852.9 565.4 850.9 565.2 848.9 565.1 846.9 564.9 844.9 564.8 842.9 564.6 840.9 564.5 838.8 564.3 836.8 564.2 834.8 564.1 832.8 563.9 830.8 563.8 828.8 563.7 826.8 563.5 824.8 563.4 822.7 563.3 820.7 563.1 818.7 563.0 816.7 562.9 814.7 562.8 812.7 562.7 810.7 562.5 808.7 562.4 806.6 562.3 804.6 562.2 802.6 562.1 800.6 562.0 798.6 561.9 796.6 561.8 794.6 561.7 792.6 561.6 790.5 561.5 788.5 561.5 786.5 561.4 784.5 561.3 782.5 561.2Z" fill="#d3d3d3"/><path d="M1411 684 1408 687 1409 689 1413 687ZM785 544 785 555 786 556 799 556 806 558 807 557 821 557 824 560 837 558 845 558 850 560 866 559 886 564 894 565 904 564 929 571 951 572 958 578 966 579 977 585 981 583 989 583 992 586 992 590 995 596 1006 604 1012 606 1015 612 1021 616 1029 626 1033 628 1039 646 1050 661 1059 678 1062 681 1064 687 1072 689 1078 693 1083 700 1093 700 1109 708 1140 710 1157 716 1174 715 1180 717 1189 717 1191 715 1199 715 1203 717 1208 717 1215 715 1226 715 1232 718 1239 718 1246 715 1254 715 1266 707 1273 707 1275 709 1275 712 1280 716 1289 714 1339 715 1345 712 1367 712 1372 714 1376 711 1385 711 1392 713 1396 710 1395 690 1397 687 1396 677 1386 672 1377 678 1366 678 1363 675 1360 675 1354 679 1327 678 1323 681 1318 681 1317 682 1318 692 1309 699 1301 699 1297 693 1290 691 1268 692 1266 690 1267 680 1266 679 1258 681 1246 681 1231 678 1228 680 1220 680 1215 682 1202 682 1198 680 1170 680 1162 677 1148 677 1139 674 1133 674 1124 670 1123 680 1121 682 1112 682 1109 679 1109 672 1101 665 1098 669 1087 669 1086 662 1088 657 1081 650 1067 649 1050 633 1048 623 1044 619 1034 613 1027 597 1012 582 1008 570 1003 563 995 560 991 556 989 551 981 544 956 534 946 532 945 533 945 545 940 548 930 548 924 544 906 542 899 539 888 540 887 533 884 527 885 519 876 516 874 518 875 540 872 547 840 549 832 545 825 545 818 548 809 548 803 545 802 546 791 546 786 543ZM1313 703 1321 702 1322 709 1320 711 1314 711ZM1096 689 1103 688 1104 694 1097 695ZM1202 688 1203 687 1214 688 1220 696 1220 704 1218 706 1211 706 1202 696ZM1363 680 1370 680 1372 682 1372 692 1371 693 1361 692 1361 682ZM1128 684 1136 678 1144 678 1147 683 1147 690 1144 693 1130 692 1128 690ZM999 580 1006 580 1009 583 1009 591 1007 593 998 592 998 581ZM786 510 785 511 785 523 786 524 788 519Z" fill="#fc9c9b" fill-rule="evenodd"/><path d="M896 455h0m-48 12h0m0-1h0m16 1h0m0-2h0m2 1h0m1-3h0m0 5h0m2-3h0m1-5h0m1-4h0m2 6h0m0 4h0m6-10h0m5 10h0m10-6h0m19 11h0m-4 5h0m-6-4h0m0 3h0m-4-6h0m-4 2h0m0 2h0m-1 2h0m-2 3h0m-3-2h0m-26 3h0m-8 0h0m-7-8h0m-1-1h0m0 1h0m-5 5h0m-3-6h0m-1 9h0m-2-5h0m-1-1h0m0-3h0m-10 9h0m-18 13h0m3-5h0m18 1h0m3-3h0m2 2h0m2 1h0m1-3h0m5 6h0m2-9h0m1 3h0m0-3h0m1 8h0m5-5h0m0-1h0m0 3h0m3 2h0m1 1h0m6 0h0m2-6h0m2 0h0m4 3h0m2-3h0m0-2h0m3 8h0m1-2h0m2 0h0m0 2h0m1 1h0m1 0h0m7-7h0m1 1h0m1-3h0m0 1h0m2 6h0m1-4h0m3 1h0m2 4h0m1-5h0m2-3h0m4 8h0m0-4h0m1 4h0m1-2h0m1-1h0m1 4h0m0-1h0m2 0h0m5-6h0m2 2h0m2-6h0m11 11h0m3 10h0m-5-1h0m0-4h0m-3 3h0m-7-6h0m-1 7h0m-1 0h0m0-7h0m-2 5h0m-2 5h0m-2-7h0m0 1h0m-2 2h0m-4 4h0m-1-6h0m-4-2h0m-2-3h0m0 2h0m-5 2h0m0 2h0m-2-2h0m-1 5h0m-4 0h0m0-4h0m-1-3h0m0 6h0m0 4h0m0-8h0m-1 7h0m-2-3h0m-1-8h0m0 0h0m-1 8h0m0-5h0m-1-2h0m0 9h0m-4-1h0m-1 2h0m0-4h0m-2-7h0m-2 12h0m0-11h0m-1 9h0m-2 0h0m-1-10h0m-1 11h0m0-11h0m-1 2h0m0 8h0m-2 0h0m0-6h0m-4 8h0m-2-10h0m-3 9h0m-2 1h0m-3-8h0m-4-2h0m-5-2h0m-10 5h0m-14 0h0m-6 4h0m-13-3h0m-10 18h0m1-10h0m0 7h0m3-1h0m2 4h0m0-7h0m1 1h0m0-2h0m0 4h0m3-7h0m4 3h0m1 6h0m1-1h0m1-3h0m0-2h0m2 7h0m0-4h0m0 2h0m2-8h0m6 3h0m0 7h0m2-7h0m1 4h0m1-2h0m4 3h0m2 3h0m2-5h0m2-2h0m1 4h0m0 1h0m3-4h0m1 6h0m0-3h0m0 1h0m3-3h0m0-4h0m4 5h0m4 0h0m2-2h0m5-1h0m1-4h0m4 5h0m7 3h0m2-5h0m1 4h0m3-2h0m1-1h0m3-2h0m0 2h0m0 4h0m2 2h0m2-9h0m1 9h0m1-2h0m2-8h0m0 9h0m1-10h0m1 10h0m1 2h0m1-7h0m0 4h0m3 0h0m0 0h0m0-4h0m2 6h0m1-8h0m1 8h0m1 0h0m1 0h0m2-9h0m2 9h0m0-6h0m0-1h0m2 3h0m0 0h0m4-5h0m3-1h0m4 11h0m0-3h0m5-6h0m2 1h0m2-2h0m0 3h0m0-4h0m3 10h0m4-8h0m1 9h0m1-10h0m5 5h0m3 0h0m3 2h0m8 3h0m53 3h0m-25 7h0m-9 0h0m-15-8h0m-7 6h0m-3 0h0m-8-4h0m0 6h0m-2-4h0m-3-3h0m-2 0h0m-1 8h0m0-6h0m-1 0h0m-1-3h0m0 0h0m-1 4h0m-3-3h0m0 0h0m-1 4h0m-4 0h0m-2-3h0m-2 7h0m-6-11h0m-1 5h0m-1 1h0m-2 0h0m0-5h0m-1 10h0m-1-8h0m0 1h0m0 7h0m0-9h0m-1-2h0m-1 10h0m0-9h0m-1 8h0m-1-8h0m-1 0h0m-4 9h0m-1-5h0m-5-4h0m-4 0h0m-1 2h0m-2-2h0m0 6h0m0-1h0m-1-1h0m-2 1h0m0-5h0m0 10h0m-6-3h0m-5 2h0m0-1h0m-2-3h0m-3-5h0m-8 5h0m-1-2h0m-2-1h0m-3 6h0m-16-5h0m0-2h0m-1 5h0m-2-6h0m0 2h0m0 5h0m-1-5h0m-1 0h0m-4 5h0m-1-5h0m-2-2h0m-3 8h0m-2-4h0m-6-1h0m-1 5h0m-1-2h0m-2-6h0m0-1h0m0 3h0m-1 2h0m-1 3h0m-1-7h0m0 3h0m-1-1h0m-1 5h0m-1 4h0m0-9h0m-1 0h0m0 5h0m0 2h0m0-5h0m-1-4h0m-1-1h0m0 10h0m-4-9h0m0 10h0m0-5h0m-1 6h0m0-6h0m0 12h0m0-4h0m1 9h0m0-4h0m0-1h0m0 2h0m0 0h0m1-2h0m0-4h0m2 2h0m1 8h0m7-11h0m7 1h0m7 0h0m13 2h0m1 5h0m3-8h0m7 9h0m0 2h0m1-5h0m0-2h0m0 4h0m2 3h0m3-2h0m4-6h0m1 4h0m2 1h0m4-5h0m2 7h0m0-7h0m1 7h0m0-8h0m10 0h0m10 1h0m2 7h0m1 1h0m0-3h0m10-7h0m2-1h0m1 11h0m0-3h0m1 1h0m2 1h0m1-1h0m0 2h0m1-4h0m1-8h0m0 4h0m6 4h0m7-1h0m4 4h0m4-10h0m3 0h0m1 9h0m2-4h0m7-4h0m12 1h0m0 7h0m2-2h0m1 2h0m0-5h0m0 1h0m2 2h0m0-5h0m3 0h0m4 0h0m2 1h0m2-2h0m2 0h0m0-1h0m4 7h0m0 0h0m2-2h0m2 5h0m0-4h0m4 2h0m0-1h0m3 4h0m1-3h0m2-3h0m7-2h0m1 7h0m7-5h0m7 4h0m4 13h0m-9-1h0m-1-3h0m-4 2h0m-1-4h0m0 5h0m0-8h0m-1 2h0m-2-2h0m0 3h0m-1-2h0m0 0h0m-3 0h0m-1 2h0m-1-3h0m-2 1h0m-1-2h0m-31 1h0m-2 4h0m-1-2h0m-2 4h0m0-5h0m0 5h0m-6-4h0m-2-1h0m-1 6h0m0-2h0m0-2h0m0 3h0m-1 0h0m0-7h0m-1-1h0m-2 5h0m0-1h0m0-1h0m-1 0h0m-3 2h0m-2-3h0m-1 1h0m0 0h0m-2 2h0m-1-3h0m0 0h0m-1 0h0m-2-1h0m-3 1h0m-4-2h0m-11 0h0m-5 1h0m-18 6h0m-2-1h0m0-3h0m-1 2h0m-1 0h0m-3 3h0m-1-1h0m-3-2h0m0-2h0m-1 4h0m-1-5h0m-4 4h0m-3-5h0m-1 1h0m0 3h0m-2-1h0m0-3h0m0 9h0m0-1h0m-1 0h0m-2-4h0m-1 1h0m-15-3h0m-1 3h0m0 0h0m-2-2h0m-1 1h0m-1 0h0m0-1h0m-2 3h0m0-2h0m-2-2h0m-1-2h0m0 5h0m-3 1h0m0 0h0m-2 2h0m-4-7h0m-1 4h0m-1-2h0m-1 2h0m-3-2h0m0 1h0m-1 1h0m0-1h0m-2-1h0m-1 3h0m0-4h0m-4 3h0m-1 0h0m-2 1h0m0-4h0m-5-2h0m0 1h0m-5 6h0m-1 0h0m0 8h0m1 2h0m0 6h0m2-6h0m0 0h0m2 3h0m3-3h0m2 1h0m2-3h0m3 4h0m1 3h0m2-3h0m1-1h0m6 0h0m1 0h0m2 3h0m2-1h0m0-2h0m1 2h0m4 3h0m1-6h0m1 1h0m0 5h0m1-3h0m1-3h0m6 5h0m7-3h0m0 1h0m1-1h0m2 3h0m4-3h0m0 2h0m1-2h0m4 0h0m5 1h0m1 2h0m2 0h0m1-2h0m3 3h0m0-3h0m4-1h0m0-1h0m1 3h0m2-1h0m1 1h0m0 0h0m1 1h0m7 1h0m3-1h0m1 1h0m111-8h0m1-3h0m0-1h0m1 2h0m3 5h0m2-2h0m0 2h0m0 0h0m2-3h0m0 0h0m0 5h0m5-1h0m0-3h0m1 1h0m4 5h0m6 0h0m56 9h0m-19-4h0m-7 2h0m-2-1h0m-22-2h0m-1 8h0m-3-1h0m-3-4h0m-1-4h0m-1 2h0m0 7h0m-2-7h0m0 0h0m-1 2h0m-1-6h0m0 1h0m-59 10h0m-1-3h0m-1 3h0m0-2h0m-1 1h0m-1 0h0m-3 0h0m-2 1h0m-1-1h0m-7 0h0m-1 1h0m-1-2h0m-2 0h0m-1 2h0m-1-3h0m-4 3h0m0-5h0m-2 4h0m-4-3h0m-2 4h0m-1-7h0m0 6h0m-1-4h0m-1 1h0m0 0h0m-1-1h0m-3 0h0m-1-4h0m-3 4h0m0-5h0m-1 1h0m-1-2h0m0 1h0m-2-1h0m0 1h0m-6 4h0m-1 0h0m-1-1h0m0 5h0m0-3h0m-1-4h0m-1 1h0m-1 7h0m-1-9h0m0 2h0m-4 3h0m-1 1h0m-1-3h0m0-3h0m0 2h0m-3 1h0m0-2h0m-1-1h0m-1 0h0m0 1h0m-2 5h0m-3 3h0m-4 1h0m-1-5h0m-1 4h0m-2-4h0m0-2h0m-1-2h0m-3 3h0m-1 6h0m-1 0h0m-1-1h0m-3-9h0m0 11h0m-1-1h0m-6-2h0m-3 0h0m-1-5h0m0 3h0m-6-1h0m-3 4h0m0-4h0m-2-1h0m0 6h0m-7-1h0m-14-2h0m-3 3h0m-1-9h0m-3-1h0m0 2h0m-2 5h0m-5-6h0m-2-1h0m-3 4h0m-2 5h0m-5 1h0m0 1h0m5 4h0m3 0h0m1 4h0m2-1h0m0 2h0m4-2h0m1-3h0m1-4h0m2 8h0m0 1h0m0-8h0m2 1h0m1 7h0m0 0h0m1 2h0m1-2h0m7-8h0m0 2h0m3 9h0m0-9h0m13 2h0m1 5h0m3-6h0m7-3h0m9 1h0m1 1h0m0-2h0m1 1h0m3 3h0m4-1h0m3 0h0m0 4h0m9-8h0m2 11h0m5 0h0m1-4h0m0 1h0m7-2h0m4-1h0m2 2h0m1 0h0m1-6h0m0 5h0m4-1h0m3-4h0m5 3h0m1-2h0m6 4h0m1 5h0m0-5h0m2-3h0m2-2h0m5 6h0m1-1h0m7-5h0m1 1h0m3-1h0m8 10h0m4-10h0m1 1h0m2 4h0m1 0h0m0-3h0m1 1h0m0 6h0m2-8h0m0 7h0m1-8h0m0 6h0m1 3h0m2-4h0m2-1h0m2 0h0m0 1h0m0 1h0m2 0h0m4-1h0m0 2h0m0 1h0m7 2h0m2-1h0m5 1h0m0-2h0m3 0h0m0 2h0m1-3h0m4 2h0m6 0h0m3-3h0m1 3h0m0-2h0m0-3h0m0 0h0m1 2h0m0 4h0m4-6h0m2 4h0m2-7h0m4 3h0m2 4h0m0-1h0m1 4h0m1-5h0m1-6h0m6 2h0m20 3h0m3-4h0m20 0h0m29 9h0m-5 8h0m-29 1h0m-6-6h0m-21 8h0m-3 0h0m0-8h0m-2 5h0m-1-3h0m0 3h0m-1 2h0m-1 1h0m-1-6h0m0 4h0m-1-6h0m-1 6h0m0-6h0m-4 1h0m-2 0h0m-16-1h0m0 2h0m-1-3h0m0 3h0m-2 0h0m0-1h0m-1 2h0m-6 3h0m-1-3h0m0 3h0m-2-8h0m0 6h0m-2 1h0m-2 1h0m-2-4h0m-3 7h0m-5-5h0m-2-4h0m-1-2h0m0 10h0m-4-1h0m0 2h0m-5-1h0m-2 1h0m-2-1h0m-1-10h0m-6 4h0m-1-1h0m0 7h0m-3 1h0m0-5h0m-3-1h0m-2-4h0m-3 10h0m-5-5h0m-2 4h0m-1-4h0m-4-4h0m-4 1h0m0 4h0m-5-3h0m-2 6h0m-3-8h0m-3 8h0m-5-5h0m-9 4h0m-7-2h0m-1-1h0m-3-3h0m-3-1h0m-2-1h0m-1 7h0m-11 1h0m-3-7h0m-6-2h0m-6 5h0m-28 6h0m-2-5h0m-15-1h0m-8-5h0m0 7h0m-8-7h0m3 23h0m11 0h0m30-9h0m3 9h0m0 0h0m12-9h0m3-1h0m1 6h0m18-1h0m29-3h0m34 2h0m13 3h0m8 2h0m2-3h0m1-5h0m2 3h0m1-3h0m1 1h0m3-2h0m1 3h0m0 3h0m6 4h0m0-7h0m2 1h0m1-5h0m8 6h0m2-5h0m0 4h0m0-4h0m2 0h0m0 3h0m4-4h0m0 0h0m1 0h0m2 6h0m5-3h0m3 2h0m1 1h0m3 2h0m1 4h0m0-3h0m3 2h0m13-11h0m3 4h0m0-3h0m1 5h0m0-6h0m1 10h0m0-1h0m0-5h0m0 0h0m0 1h0m0 6h0m1-2h0m0-9h0m1 9h0m1-3h0m1-3h0m1 6h0m1 1h0m3-3h0m0 1h0m47 0h0m10-2h0m267 18h0m-314-11h0m0 8h0m-4-6h0m-1 3h0m0 3h0m0-6h0m-1-2h0m-4 5h0m-1 0h0m-1-3h0m0-2h0m-2 2h0m-16 8h0m-1 1h0m-1-8h0m-2 3h0m0 4h0m-1-8h0m0 4h0m-1-6h0m0 0h0m0 8h0m-2 1h0m-1 1h0m-1-7h0m-1 2h0m-1-3h0m-1-2h0m-2 5h0m0-1h0m-7 3h0m-1-6h0m-2 1h0m-2-3h0m-13 9h0m-8-4h0m-1 2h0m0 0h0m-1-3h0m-2 1h0m-1 1h0m-1 1h0m-3 2h0m-1-9h0m-2 10h0m-1 1h0m-1-8h0m-1 4h0m-29 1h0m-7 1h0m-37-5h0m-7 6h0m-5-5h0m-4 3h0m-2-7h0m-6 11h0m-2-4h0m0 0h0m0-4h0m-1 2h0m-2-1h0m0 4h0m-2 1h0m-25-3h0m-15 0h0m-2 2h0m-13 8h0m17 4h0m51-7h0m6 7h0m1-5h0m39 1h0m14 1h0m28 5h0m2-10h0m1 7h0m0-2h0m1 0h0m1-5h0m0 3h0m0-2h0m7 3h0m1 1h0m1-5h0m6 2h0m2 6h0m5-2h0m11 1h0m3-3h0m10-2h0m7-1h0m1 2h0m3 1h0m1-1h0m4 2h0m1 2h0m3-7h0m0 4h0m1-5h0m0 11h0m1-6h0m3 2h0m0-1h0m0 4h0m0 1h0m1-3h0m0-1h0m18 1h0m0 2h0m1-8h0m1 9h0m0-10h0m0 4h0m1 7h0m0-2h0m1 2h0m1-8h0m0 4h0m2-5h0m0 1h0m3 6h0m1-8h0m0 2h0m23-4h0m286 1h0m6 21h0m-3 0h0m-2-4h0m-2 2h0m-1-1h0m0 1h0m-1 0h0m-7 2h0m-271-1h0m-2 0h0m-1 0h0m0 1h0m-2 1h0m0-2h0m-5 0h0m-1 1h0m-2 1h0m-7-4h0m-4-2h0m0 5h0m-1-7h0m0 3h0m-1 1h0m0 0h0m-1-2h0m0 0h0m-1 1h0m-1 0h0m-1-5h0m-1 2h0m0-2h0m-1 2h0m-21 7h0m0-4h0m-1-3h0m-1 1h0m-2-1h0m0 9h0m-2-9h0m0 3h0m-1-2h0m-1 4h0m-26-4h0m-20 2h0m-8 1h0m-1 2h0m-5 1h0m-5-10h0m-4 3h0m-3 0h0m-1 4h0m-2 4h0m-78-7h0m-2-1h0m-1 4h0m0-1h0m-1-5h0m-2 4h0m-2 7h0m-4-7h0m-4 6h0m-5-1h0m-34-9h0m-11 2h0m-8 20h0m28 0h0m3-7h0m9 2h0m15 4h0m3-5h0m4-2h0m0 8h0m1-10h0m7-1h0m22 2h0m16 10h0m4-8h0m37 1h0m2-1h0m72-1h0m10 1h0m1 4h0m3-6h0m0 1h0m3-2h0m0 3h0m0 0h0m0 2h0m1 5h0m2 1h0m1-1h0m22-10h0m6-1h0m9 4h0m1 0h0m1 2h0m2-4h0m1 5h0m1-2h0m0-2h0m1 8h0m1-6h0m0-1h0m0 6h0m1 0h0m5 0h0m1-7h0m0 8h0m2-5h0m1 1h0m0-6h0m1 7h0m1 1h0m1-5h0m1 0h0m14 7h0m18-4h0m0 0h0m22 5h0m9-2h0m186-3h0m8 4h0m6-4h0m0-7h0m4 3h0m1 8h0m4-7h0m0 5h0m2 3h0m1-5h0m0-7h0m45 24h0m-2-8h0m0 5h0m-2-6h0m-5 6h0m-8-1h0m0 1h0m-4 1h0m-3 1h0m0 1h0m-5-1h0m0-2h0m0-4h0m-2 1h0m-1-1h0m0 0h0m-1-4h0m0 3h0m-3 7h0m-2-7h0m0 6h0m0 0h0m-3-9h0m0 11h0m-1-10h0m-1 3h0m-1 0h0m0 5h0m-1-2h0m0 3h0m-1-7h0m-1 5h0m-1 0h0m0-7h0m-3 8h0m0-5h0m-1-1h0m-4 0h0m0-3h0m0 4h0m-2 7h0m-3-10h0m0 2h0m-1 1h0m-1 0h0m-1 2h0m-1-1h0m0 4h0m0-6h0m-4 4h0m-6-5h0m-7 6h0m-8 0h0m-6-1h0m-4 3h0m-16-4h0m-1 3h0m-1-5h0m-3 6h0m-2-4h0m-22 4h0m-7-3h0m-9 3h0m-18 1h0m-11-1h0m-9-4h0m-9 3h0m-24 1h0m-13-2h0m-7-8h0m-3 10h0m-1-8h0m0-1h0m-5 5h0m-3 4h0m-1-9h0m-2 9h0m-3-8h0m-2 3h0m-2 0h0m-6-1h0m-2 6h0m0-8h0m0 6h0m-3-6h0m-4 1h0m0 6h0m-2 1h0m-1-7h0m0 7h0m-2-2h0m-2-4h0m-2 2h0m-1 3h0m-2-1h0m-1 0h0m-1 2h0m-1-2h0m0-1h0m0 2h0m0-1h0m0 1h0m0 0h0m-1-3h0m-1 1h0m-1 2h0m-1-2h0m-1 3h0m-2-4h0m0 4h0m-1-5h0m-1-1h0m0 5h0m-1-6h0m0 7h0m-2-5h0m-1 4h0m-1-1h0m-4-4h0m0-1h0m-1 2h0m-2-5h0m-3 2h0m-2 7h0m-1-6h0m-1 2h0m-1-6h0m-2 0h0m0 5h0m-1-2h0m-1-1h0m0-1h0m-36 8h0m-1-3h0m-2-4h0m-1 8h0m-1-8h0m-5 5h0m0-2h0m-4 4h0m-82 1h0m-74-10h0m-6 8h0m-6 3h0m-3-10h0m-7 9h0m-23-6h0m-13 5h0m-19-1h0m-1 11h0m5 1h0m48-3h0m11-1h0m1-4h0m6 7h0m2 2h0m164-2h0m1 1h0m8 3h0m0-1h0m3 0h0m0-4h0m2-4h0m1 2h0m0 1h0m0 1h0m2 4h0m0 0h0m2-4h0m50-6h0m0 1h0m1 7h0m0-7h0m1 3h0m0 4h0m1 2h0m1-2h0m4-3h0m3 2h0m0 4h0m1-4h0m6-6h0m4 8h0m2-1h0m0-7h0m1 0h0m1 7h0m0-2h0m1 4h0m1 1h0m0-2h0m3-9h0m2 1h0m1 6h0m1-2h0m0-4h0m1 3h0m0 8h0m0-3h0m1-6h0m1 0h0m1 0h0m2 2h0m2-1h0m4-1h0m2 0h0m0 2h0m2-3h0m1 3h0m0-1h0m1 2h0m6 1h0m2 1h0m5-7h0m2 6h0m0 2h0m1-6h0m4 6h0m0-7h0m1 5h0m1 1h0m0 1h0m1-7h0m0 2h0m7 4h0m2 1h0m2-4h0m0-4h0m1 6h0m2 1h0m1 0h0m1-3h0m0 2h0m0-2h0m0-1h0m4 5h0m4-1h0m3 0h0m1 0h0m0 0h0m0-2h0m2 2h0m1-1h0m2-4h0m0 4h0m1 0h0m0 0h0m2 1h0m4-2h0m0 2h0m1 1h0m2-6h0m1 1h0m0 1h0m0-2h0m2 1h0m0-1h0m1 0h0m1 4h0m2 0h0m2 0h0m4-3h0m0 4h0m0-8h0m1 7h0m0 1h0m2-1h0m1-4h0m1 7h0m2-2h0m2 1h0m0-2h0m0 1h0m1-2h0m1 3h0m1 0h0m1-1h0m1-2h0m0-3h0m1 5h0m2 0h0m2 1h0m5-4h0m1 6h0m0-5h0m1 5h0m0-4h0m1-3h0m0 2h0m0 3h0m1-5h0m4 3h0m0-1h0m2-2h0m1 2h0m4-4h0m1 7h0m2-2h0m3 4h0m13-3h0m5 0h0m2 1h0m2-4h0m1 3h0m1 1h0m0 1h0m2 0h0m1 1h0m1-6h0m1-3h0m0 9h0m0-10h0m2 3h0m1 6h0m1-1h0m0-3h0m1-3h0m1 6h0m1-3h0m0 2h0m0 1h0m0-3h0m1-1h0m1 1h0m0-5h0m1 7h0m0-1h0m2-2h0m2-1h0m3 0h0m0 3h0m1-1h0m6-4h0m1 1h0m1-2h0m0 1h0m0 2h0m9 1h0m4 1h0m3 0h0m2-1h0m0-4h0m2 1h0m1 9h0m2-7h0m4-2h0m1-2h0m2 6h0m1-2h0m0 8h0m2-6h0m6-3h0m0-1h0m7-1h0m2 2h0m1-1h0m1-1h0m0 1h0m1-2h0m0 2h0m2 2h0m2 7h0m1-8h0m0 2h0m0 6h0m1-2h0m4-7h0m3 8h0m0-7h0m1 2h0m0 5h0m1-3h0m0-2h0m1-3h0m0 0h0m1 4h0m0-6h0m1 11h0m1-7h0m0-2h0m1 4h0m0 4h0m1-5h0m0 0h0m0 4h0m1-2h0m0-2h0m1-1h0m1 5h0m6-3h0m0 4h0m3 12h0m-2-7h0m-5-2h0m-1 1h0m-1 3h0m-1 0h0m0 0h0m0-5h0m0 10h0m-2-3h0m0-2h0m0-3h0m0 5h0m0 1h0m-2-7h0m-3-1h0m0 7h0m-1-4h0m0 2h0m-1 2h0m-2-6h0m-1-1h0m-1 0h0m0 8h0m-1-2h0m0-6h0m-1 8h0m-1-4h0m0 0h0m0 4h0m-2 0h0m-1-7h0m0 2h0m-1-2h0m-23 5h0m-1 1h0m0 0h0m0 0h0m-1-2h0m-1 0h0m0 0h0m0-4h0m-1 1h0m-2 8h0m-2-1h0m0-6h0m-2-2h0m-1 5h0m-45-6h0m-3 6h0m-1 3h0m0 2h0m-1-2h0m-1-6h0m-1-1h0m0 5h0m0-4h0m-1 2h0m0 7h0m0-7h0m-1 4h0m-1-2h0m-1 2h0m0 0h0m-1-8h0m-2 10h0m-2 0h0m-1-4h0m0 2h0m0 2h0m-1-3h0m0 0h0m0 3h0m-2-2h0m-1-2h0m0 0h0m-1 2h0m-1-2h0m0-2h0m-1 3h0m0 0h0m0-1h0m0-4h0m-1 4h0m-1-1h0m-3-4h0m-1 6h0m-1-2h0m-4-6h0m-1 8h0m-1-1h0m-3 0h0m0-2h0m-5 3h0m-1-2h0m0 1h0m-1-2h0m-2-1h0m0 3h0m-50 4h0m0 0h0m-2-3h0m0-1h0m-2 0h0m-1 1h0m-1 1h0m-1 3h0m-4-7h0m-2 0h0m0 4h0m-1-4h0m-56-1h0m-1-2h0m0 4h0m0-4h0m-1 2h0m-5-3h0m-1 4h0m-1-3h0m0 8h0m-1-2h0m-1 0h0m-2-3h0m-2-3h0m-1 2h0m-1 0h0m-1 3h0m-27 0h0m-2 3h0m-1 1h0m-2-6h0m-1 5h0m-1-4h0m-19 3h0m-1 0h0m-4 1h0m-2-1h0m-1-3h0m-4 3h0m0-4h0m-2 1h0m0 3h0m-1-2h0m-1-4h0m0 0h0m-1 9h0m-2-7h0m-1-4h0m-1 10h0m0 0h0m-6 1h0m-1-6h0m-2-4h0m-1 9h0m-3-5h0m13 7h0m4 8h0m3-5h0m2-3h0m0 0h0m5 0h0m2 5h0m3 2h0m0-3h0m1-2h0m0 7h0m3-7h0m1 7h0m1-5h0m0-3h0m0 4h0m2 4h0m0 0h0m0-4h0m1 3h0m1-2h0m0-3h0m1 7h0m1-5h0m1-1h0m3 1h0m1 2h0m1 2h0m3-4h0m0 2h0m0-2h0m0 5h0m1-3h0m0 4h0m1-3h0m6 2h0m1 0h0m1 0h0m1-1h0m100-10h0m1 3h0m0 0h0m0 2h0m0 0h0m1-4h0m0 4h0m2 4h0m0-3h0m0-4h0m2 1h0m1 1h0m0 4h0m2 0h0m1-1h0m0-5h0m1-2h0m0 5h0m1-3h0m0-1h0m0 9h0m0-2h0m0-5h0m1 6h0m1-3h0m50 5h0m33-7h0m1-2h0m0-1h0m0 1h0m2-1h0m3 1h0m3 7h0m0 0h0m2 2h0m0-2h0m0-2h0m2 1h0m1 2h0m0-3h0m2 1h0m3 2h0m72-10h0m0 5h0m1 1h0m0 2h0m0-3h0m0-3h0m2 3h0m0 2h0m3-5h0m2-1h0m0 10h0m1-8h0m0-1h0m1 0h0m0 6h0m10 1h0m2-5h0m5-4h0m2 3h0m-2 12h0m-5 6h0m-1-1h0m0 1h0m-3-5h0m-1 7h0m-2-4h0m-5-6h0m-2 6h0m-1-2h0m-1 1h0m-1-1h0m0 5h0m-1-10h0m0 3h0m-1 4h0m0-7h0m0 5h0m-3 3h0m0-2h0m0 6h0m-1-7h0m0 1h0m0-2h0m-2 1h0m0 6h0m-1-2h0m-1-1h0m-2 2h0m-3-6h0m-3 0h0m-1 8h0m0-2h0m-1-4h0m-3 0h0m0-3h0m-1 1h0m0 4h0m-1-2h0m-2 4h0m-4-1h0m-1-2h0m-1-1h0m-1-1h0m0 0h0m0 2h0m-1 1h0m-1-1h0m-2 3h0m-1-3h0m-1 2h0m-2-5h0m-1 1h0m-5 2h0m-1-1h0m0 3h0m-1-3h0m-3 0h0m0 0h0m-1-2h0m-2 6h0m0-5h0m-1 3h0m-2 0h0m0 1h0m-3-1h0m0 2h0m-1 2h0m-1-1h0m0-4h0m-6 2h0m-4-1h0m-6 1h0m0 1h0m-1-2h0m0-6h0m0 2h0m-1 6h0m-1 1h0m0-9h0m-1 5h0m-1 5h0m-1-5h0m0 0h0m-1-6h0m0 6h0m-1 1h0m-1 4h0m-1-2h0m0-4h0m-1 0h0m0 1h0m0-1h0m-1 2h0m-3-2h0m-1 2h0m-2-1h0m-1 3h0m-3-3h0m-1 5h0m-1-5h0m-1 1h0m-1 1h0m0-2h0m-1 1h0m-2-1h0m0 0h0m0 0h0m0 3h0m-2-1h0m-2-1h0m-2-1h0m-5 4h0m0-2h0m-3-2h0m-1 3h0m-1-3h0m-1-3h0m-1-4h0m-1 8h0m-1-3h0m0-2h0m0-3h0m-1 1h0m0 5h0m0 1h0m-2-3h0m-1-1h0m-1-1h0m-4 7h0m-1-5h0m0 6h0m-2-1h0m-1 0h0m-3-2h0m-5 2h0m0 1h0m-2 0h0m-1 2h0m-2-3h0m-1 3h0m0-3h0m-2 0h0m-3 2h0m-5-1h0m-6-1h0m-2-2h0m-2 5h0m0 0h0m-1-3h0m-1 2h0m-4-2h0m-1 2h0m-1-2h0m0 0h0m-8 2h0m-5-2h0m-3-2h0m-2 3h0m-2 0h0m0-2h0m-1-1h0m0 3h0m0-1h0m-1-1h0m0 3h0m-1 1h0m0-1h0m-2-1h0m-4-1h0m-2 1h0m-4 0h0m-7 0h0m-1 1h0m-2-2h0m0 0h0m0 2h0m-1-3h0m0 1h0m-7-2h0m-2 2h0m0 1h0m-5 2h0m0-1h0m-2-1h0m-1-1h0m-2-2h0m-1 4h0m-4-6h0m-1 7h0m-1-6h0m-2 4h0m-1-3h0m-2 4h0m0-6h0m-1-1h0m0 0h0m-5 0h0m0 1h0m-5-4h0m-3 1h0m0 3h0m0-2h0m-1-1h0m0 0h0m0 1h0m-4-3h0m0 4h0m-1-2h0m-1 6h0m-2-5h0m0 7h0m-1-9h0m0 7h0m-1-4h0m0-3h0m-4 3h0m-1-3h0m0 2h0m-1 5h0m-1-6h0m0 6h0m-3 0h0m-1-3h0m-1 1h0m-2-5h0m-2 8h0m0-3h0m-7-1h0m-1-5h0m-1 3h0m-1 2h0m-1 5h0m-1-4h0m-1-3h0m-5-3h0m0 3h0m-2 0h0m-7 5h0m0-7h0m-1 10h0m-5-1h0m0-6h0m-1 5h0m-3-9h0m11 13h0m3 3h0m3 3h0m20-1h0m2-4h0m3-1h0m3 3h0m11-2h0m3 4h0m3-4h0m2 0h0m6 4h0m10-5h0m5 8h0m0-6h0m2 3h0m1 3h0m10-4h0m0-3h0m2 2h0m2-3h0m1 1h0m7 5h0m4-3h0m2-2h0m3 0h0m3 2h0m1-1h0m1 0h0m2-1h0m1-1h0m1 0h0m2 3h0m1 4h0m1-3h0m2 0h0m0-1h0m0 2h0m0-2h0m0 1h0m4 0h0m0-2h0m0 2h0m2 0h0m3-4h0m1 0h0m0 2h0m1 1h0m3 5h0m0-5h0m0-1h0m3-3h0m1 2h0m1-2h0m0 8h0m1-4h0m0-3h0m1 2h0m3-3h0m0 5h0m2 3h0m0-3h0m1-3h0m1-1h0m7 1h0m3 0h0m1 5h0m3 3h0m2-8h0m5 7h0m11-6h0m1-2h0m8 6h0m9-6h0m3 1h0m2-1h0m2 9h0m1-9h0m1 8h0m0-8h0m2-1h0m1 3h0m2 1h0m0-1h0m7 3h0m5-5h0m0 10h0m8-1h0m6 2h0m3-10h0m4 5h0m3 3h0m14-6h0m2 1h0m0-2h0m0 2h0m11 2h0m2-2h0m2-3h0m0-1h0m1 5h0m3 5h0m2 0h0m4-3h0m5-4h0m2 1h0m5-3h0m11 4h0m13-4h0m5 4h0m4-2h0m1-1h0m2 0h0m5 0h0m1 2h0m1-1h0m5-3h0m-43 13h0m-24 1h0m-9-2h0m-1 3h0m-2-1h0m-10 2h0m-17-5h0m-13 7h0m-11-6h0m-101 0h0m-3 1h0m0-2h0m-1 3h0m-10 7h0m-4-5h0m-7 0h0m-1 3h0m0 1h0m-3 2h0m-6-6h0m-6 2h0m-4-1h0m-1-2h0m-1 5h0m0-4h0m-1 2h0m-2-2h0m-9-3h0m-6 8h0m-4-4h0m-1-4h0m-4 3h0m-1 6h0m-5-2h0m-5-8h0m-7 7h0m33 5h0m6 2h0m7-2h0m2-1h0m38 6h0" fill="none" stroke="#fc9c9b" stroke-width="6.4" stroke-linecap="round"/><path d="M782.5 506.5 784.5 506.6 786.5 506.7 788.5 506.8 790.5 506.8 792.6 506.9 794.6 507.0 796.6 507.1 798.6 507.2 800.6 507.4 802.6 507.5 804.6 507.6 806.6 507.7 808.7 507.8 810.7 507.9 812.7 508.1 814.7 508.2 816.7 508.3 818.7 508.5 820.7 508.6 822.7 508.8 824.8 508.9 826.8 509.0 828.8 509.2 830.8 509.3 832.8 509.5 834.8 509.6 836.8 509.8 838.8 510.0 840.9 510.1 842.9 510.3 844.9 510.5 846.9 510.6 848.9 510.8 850.9 511.0 852.9 511.1 854.9 511.3 856.9 511.5 859.0 511.7 861.0 511.9 863.0 512.0 865.0 512.2 867.0 512.4 869.0 512.6 871.0 512.8 873.0 513.1 875.1 513.3 877.1 513.5 879.1 513.7 881.1 514.0 883.1 514.2 885.1 514.4 887.1 514.7 889.1 514.9 891.2 515.2 893.2 515.5 895.2 515.7 897.2 516.0 899.2 516.3 901.2 516.6 903.2 516.9 905.2 517.2 907.3 517.5 909.3 517.8 911.3 518.1 913.3 518.5 915.3 518.8 917.3 519.2 919.3 519.6 921.3 520.0 923.4 520.4 925.4 520.8 927.4 521.3 929.4 521.8 931.4 522.3 933.4 522.8 935.4 523.3 937.4 523.8 939.4 524.4 941.5 524.9 943.5 525.5 945.5 526.1 947.5 526.7 949.5 527.3 951.5 527.9 953.5 528.6 955.5 529.2 957.6 529.9 959.6 530.5 961.6 531.3 963.6 532.0 965.6 532.7 967.6 533.5 969.6 534.3 971.6 535.2 973.7 536.1 975.7 537.0 977.7 538.0 979.7 539.0 981.7 540.1 983.7 541.2 985.7 542.4 987.7 543.6 989.8 545.1 991.8 546.7 993.8 548.4 995.8 550.2 997.8 552.2 999.8 554.1 1001.8 556.1 1003.8 558.2 1005.8 560.5 1007.9 562.8 1009.9 565.2 1011.9 567.7 1013.9 570.3 1015.9 572.9 1017.9 575.6 1019.9 578.5 1021.9 581.4 1024.0 584.3 1026.0 587.4 1028.0 590.6 1030.0 593.9 1032.0 597.3 1034.0 600.5 1036.0 603.6 1038.0 606.6 1040.1 609.6 1042.1 612.5 1044.1 615.3 1046.1 618.1 1048.1 620.7 1050.1 623.3 1052.1 625.9 1054.1 628.5 1056.2 630.9 1058.2 633.3 1060.2 635.5 1062.2 637.4 1064.2 639.1 1066.2 640.6 1068.2 642.1 1070.2 643.4 1072.2 644.7 1074.3 645.9 1076.3 647.0 1078.3 648.1 1080.3 649.1 1082.3 650.1 1084.3 651.1 1086.3 652.1 1088.3 653.0 1090.4 653.9 1092.4 654.8 1094.4 655.6 1096.4 656.4 1098.4 657.1 1100.4 657.9 1102.4 658.6 1104.4 659.4 1106.5 660.1 1108.5 660.9 1110.5 661.6 1112.5 662.4 1114.5 663.1 1116.5 663.9 1118.5 664.6 1120.5 665.4 1122.6 666.1 1124.6 666.8 1126.6 667.5 1128.6 668.1 1130.6 668.8 1132.6 669.4 1134.6 669.9 1136.6 670.4 1138.7 670.9 1140.7 671.3 1142.7 671.7 1144.7 672.0 1146.7 672.3 1148.7 672.6 1150.7 672.9 1152.7 673.2 1154.7 673.5 1156.8 673.7 1158.8 674.0 1160.8 674.3 1162.8 674.5 1164.8 674.7 1166.8 675.0 1168.8 675.2 1170.8 675.4 1172.9 675.5 1174.9 675.7 1176.9 675.8 1178.9 675.9 1180.9 676.0 1182.9 676.1 1184.9 676.2 1186.9 676.2 1189.0 676.2 1191.0 676.2 1193.0 676.3 1195.0 676.3 1197.0 676.3 1199.0 676.3 1201.0 676.3 1203.0 676.3 1205.1 676.4 1207.1 676.4 1209.1 676.4 1211.1 676.4 1213.1 676.4 1215.1 676.4 1217.1 676.4 1219.1 676.4 1221.1 676.5 1223.2 676.5 1225.2 676.5 1227.2 676.5 1229.2 676.5 1231.2 676.5 1233.2 676.5 1235.2 676.5 1237.2 676.5 1239.3 676.5 1241.3 676.5 1243.3 676.6 1245.3 676.6 1247.3 676.6 1249.3 676.6 1251.3 676.6 1253.3 676.6 1255.4 676.6 1257.4 676.6 1259.4 676.6 1261.4 676.6 1263.4 676.6 1265.4 676.6 1267.4 676.6 1269.4 676.6 1271.5 676.6 1273.5 676.6 1275.5 676.6 1277.5 676.6 1279.5 676.6 1281.5 676.5 1283.5 676.5 1285.5 676.5 1287.5 676.4 1289.6 676.4 1291.6 676.3 1293.6 676.2 1295.6 676.2 1297.6 676.1 1299.6 676.0 1301.6 675.9 1303.6 675.8 1305.7 675.8 1307.7 675.7 1309.7 675.6 1311.7 675.5 1313.7 675.4 1315.7 675.2 1317.7 675.1 1319.7 675.0 1321.8 674.9 1323.8 674.8 1325.8 674.7 1327.8 674.6 1329.8 674.5 1331.8 674.3 1333.8 674.2 1335.8 674.1 1337.9 674.0 1339.9 673.9 1341.9 673.8 1343.9 673.7 1345.9 673.6 1347.9 673.5 1349.9 673.4 1351.9 673.3 1354.0 673.2 1356.0 673.1 1358.0 673.0 1360.0 672.9 1362.0 672.9 1364.0 672.8 1366.0 672.7 1368.0 672.6 1370.0 672.6 1372.1 672.5 1374.1 672.4 1376.1 672.4 1378.1 672.3 1380.1 672.2 1382.1 672.2 1384.1 672.1 1386.1 672.0 1388.2 672.0 1390.2 671.9 1392.2 671.8 1394.2 671.8 1396.2 671.7 1398.2 671.6 1400.2 671.6 1402.2 671.5 1404.3 671.4 1406.3 671.4 1408.3 671.3 1410.3 671.2 1412.3 671.2 1414.3 671.1 1416.3 671.1 1418.3 671.0 1420.4 670.9 1422.4 670.9 1424.4 670.8 1426.4 670.8 1428.4 670.7" fill="none" stroke="#222" stroke-width="1.1"/><path d="M782.5 561.2 784.5 561.3 786.5 561.4 788.5 561.5 790.5 561.5 792.6 561.6 794.6 561.7 796.6 561.8 798.6 561.9 800.6 562.0 802.6 562.1 804.6 562.2 806.6 562.3 808.7 562.4 810.7 562.5 812.7 562.7 814.7 562.8 816.7 562.9 818.7 563.0 820.7 563.1 822.7 563.3 824.8 563.4 826.8 563.5 828.8 563.7 830.8 563.8 832.8 563.9 834.8 564.1 836.8 564.2 838.8 564.3 840.9 564.5 842.9 564.6 844.9 564.8 846.9 564.9 848.9 565.1 850.9 565.2 852.9 565.4 854.9 565.5 856.9 565.7 859.0 565.8 861.0 566.0 863.0 566.2 865.0 566.3 867.0 566.5 869.0 566.7 871.0 566.8 873.0 567.0 875.1 567.2 877.1 567.4 879.1 567.6 881.1 567.8 883.1 568.0 885.1 568.2 887.1 568.4 889.1 568.6 891.2 568.8 893.2 569.0 895.2 569.3 897.2 569.5 899.2 569.8 901.2 570.0 903.2 570.3 905.2 570.5 907.3 570.8 909.3 571.1 911.3 571.3 913.3 571.6 915.3 571.9 917.3 572.3 919.3 572.6 921.3 573.0 923.4 573.4 925.4 573.8 927.4 574.2 929.4 574.6 931.4 575.0 933.4 575.5 935.4 576.0 937.4 576.5 939.4 577.0 941.5 577.5 943.5 578.0 945.5 578.5 947.5 579.1 949.5 579.6 951.5 580.2 953.5 580.8 955.5 581.4 957.6 582.0 959.6 582.6 961.6 583.3 963.6 583.9 965.6 584.6 967.6 585.4 969.6 586.1 971.6 586.9 973.7 587.7 975.7 588.6 977.7 589.5 979.7 590.4 981.7 591.4 983.7 592.4 985.7 593.5 987.7 594.6 989.8 595.9 991.8 597.3 993.8 598.9 995.8 600.5 997.8 602.2 999.8 604.0 1001.8 605.8 1003.8 607.6 1005.8 609.4 1007.9 611.1 1009.9 612.9 1011.9 614.8 1013.9 616.9 1015.9 619.2 1017.9 621.5 1019.9 624.0 1021.9 626.6 1024.0 629.2 1026.0 632.0 1028.0 634.8 1030.0 637.7 1032.0 640.6 1034.0 643.6 1036.0 646.9 1038.0 650.4 1040.1 654.0 1042.1 657.7 1044.1 661.3 1046.1 664.8 1048.1 668.0 1050.1 671.0 1052.1 673.9 1054.1 676.8 1056.2 679.5 1058.2 682.1 1060.2 684.5 1062.2 686.7 1064.2 688.7 1066.2 690.5 1068.2 692.2 1070.2 693.8 1072.2 695.4 1074.3 696.8 1076.3 698.2 1078.3 699.5 1080.3 700.7 1082.3 701.8 1084.3 702.8 1086.3 703.8 1088.3 704.6 1090.4 705.5 1092.4 706.3 1094.4 707.0 1096.4 707.7 1098.4 708.3 1100.4 708.9 1102.4 709.4 1104.4 709.9 1106.5 710.4 1108.5 710.8 1110.5 711.3 1112.5 711.7 1114.5 712.1 1116.5 712.5 1118.5 712.9 1120.5 713.3 1122.6 713.7 1124.6 714.0 1126.6 714.3 1128.6 714.7 1130.6 715.0 1132.6 715.2 1134.6 715.5 1136.6 715.7 1138.7 716.0 1140.7 716.2 1142.7 716.3 1144.7 716.5 1146.7 716.6 1148.7 716.8 1150.7 716.9 1152.7 717.1 1154.7 717.2 1156.8 717.3 1158.8 717.5 1160.8 717.6 1162.8 717.7 1164.8 717.8 1166.8 717.9 1168.8 718.0 1170.8 718.1 1172.9 718.2 1174.9 718.2 1176.9 718.3 1178.9 718.4 1180.9 718.4 1182.9 718.5 1184.9 718.6 1186.9 718.6 1189.0 718.6 1191.0 718.7 1193.0 718.7 1195.0 718.8 1197.0 718.8 1199.0 718.9 1201.0 718.9 1203.0 718.9 1205.1 719.0 1207.1 719.0 1209.1 719.0 1211.1 719.1 1213.1 719.1 1215.1 719.1 1217.1 719.2 1219.1 719.2 1221.1 719.2 1223.2 719.3 1225.2 719.3 1227.2 719.3 1229.2 719.4 1231.2 719.4 1233.2 719.4 1235.2 719.4 1237.2 719.5 1239.3 719.5 1241.3 719.5 1243.3 719.5 1245.3 719.6 1247.3 719.6 1249.3 719.6 1251.3 719.6 1253.3 719.6 1255.4 719.6 1257.4 719.7 1259.4 719.7 1261.4 719.7 1263.4 719.7 1265.4 719.7 1267.4 719.7 1269.4 719.7 1271.5 719.7 1273.5 719.7 1275.5 719.7 1277.5 719.7 1279.5 719.7 1281.5 719.7 1283.5 719.7 1285.5 719.6 1287.5 719.6 1289.6 719.6 1291.6 719.5 1293.6 719.5 1295.6 719.5 1297.6 719.4 1299.6 719.4 1301.6 719.3 1303.6 719.3 1305.7 719.2 1307.7 719.2 1309.7 719.1 1311.7 719.1 1313.7 719.0 1315.7 719.0 1317.7 718.9 1319.7 718.8 1321.8 718.8 1323.8 718.7 1325.8 718.6 1327.8 718.6 1329.8 718.5 1331.8 718.4 1333.8 718.4 1335.8 718.3 1337.9 718.2 1339.9 718.2 1341.9 718.1 1343.9 718.0 1345.9 718.0 1347.9 717.9 1349.9 717.8 1351.9 717.8 1354.0 717.7 1356.0 717.6 1358.0 717.6 1360.0 717.5 1362.0 717.5 1364.0 717.4 1366.0 717.4 1368.0 717.3 1370.0 717.2 1372.1 717.2 1374.1 717.1 1376.1 717.1 1378.1 717.0 1380.1 716.9 1382.1 716.9 1384.1 716.8 1386.1 716.7 1388.2 716.7 1390.2 716.6 1392.2 716.6 1394.2 716.5 1396.2 716.4 1398.2 716.4 1400.2 716.3 1402.2 716.2 1404.3 716.2 1406.3 716.1 1408.3 716.0 1410.3 716.0 1412.3 715.9 1414.3 715.8 1416.3 715.7 1418.3 715.7 1420.4 715.6 1422.4 715.5 1424.4 715.5 1426.4 715.4 1428.4 715.3" fill="none" stroke="#222" stroke-width="1.1"/><path d="M782.5 535.2 784.5 535.3 786.5 535.3 788.5 535.4 790.5 535.4 792.6 535.5 794.6 535.6 796.6 535.6 798.6 535.7 800.6 535.8 802.6 535.9 804.6 536.0 806.6 536.0 808.7 536.1 810.7 536.2 812.7 536.3 814.7 536.4 816.7 536.5 818.7 536.6 820.7 536.7 822.7 536.9 824.8 537.0 826.8 537.1 828.8 537.2 830.8 537.3 832.8 537.4 834.8 537.6 836.8 537.7 838.8 537.8 840.9 537.9 842.9 538.1 844.9 538.2 846.9 538.3 848.9 538.5 850.9 538.6 852.9 538.7 854.9 538.9 856.9 539.0 859.0 539.2 861.0 539.3 863.0 539.5 865.0 539.7 867.0 539.8 869.0 540.0 871.0 540.2 873.0 540.3 875.1 540.5 877.1 540.7 879.1 540.9 881.1 541.1 883.1 541.3 885.1 541.5 887.1 541.7 889.1 542.0 891.2 542.2 893.2 542.4 895.2 542.7 897.2 542.9 899.2 543.1 901.2 543.4 903.2 543.6 905.2 543.9 907.3 544.2 909.3 544.5 911.3 544.7 913.3 545.0 915.3 545.3 917.3 545.7 919.3 546.0 921.3 546.3 923.4 546.7 925.4 547.1 927.4 547.5 929.4 547.9 931.4 548.3 933.4 548.8 935.4 549.3 937.4 549.7 939.4 550.2 941.5 550.7 943.5 551.3 945.5 551.8 947.5 552.4 949.5 553.0 951.5 553.5 953.5 554.2 955.5 554.8 957.6 555.5 959.6 556.3 961.6 557.1 963.6 558.0 965.6 558.9 967.6 559.8 969.6 560.8 971.6 561.9 973.7 562.9 975.7 564.0 977.7 565.2 979.7 566.4 981.7 567.6 983.7 569.0 985.7 570.3 987.7 571.8 989.8 573.3 991.8 574.8 993.8 576.4 995.8 578.0 997.8 579.7 999.8 581.4 1001.8 583.2 1003.8 585.1 1005.8 587.0 1007.9 589.1 1009.9 591.2 1011.9 593.5 1013.9 595.8 1015.9 598.3 1017.9 601.0 1019.9 603.9 1021.9 606.9 1024.0 609.9 1026.0 613.0 1028.0 616.0 1030.0 618.9 1032.0 621.9 1034.0 624.9 1036.0 627.9 1038.0 630.8 1040.1 633.7 1042.1 636.4 1044.1 639.1 1046.1 641.8 1048.1 644.4 1050.1 647.1 1052.1 649.6 1054.1 652.1 1056.2 654.6 1058.2 656.9 1060.2 659.0 1062.2 661.0 1064.2 662.8 1066.2 664.6 1068.2 666.2 1070.2 667.9 1072.2 669.4 1074.3 670.9 1076.3 672.3 1078.3 673.6 1080.3 674.8 1082.3 676.0 1084.3 677.0 1086.3 678.0 1088.3 678.9 1090.4 679.8 1092.4 680.6 1094.4 681.3 1096.4 682.1 1098.4 682.7 1100.4 683.4 1102.4 684.0 1104.4 684.6 1106.5 685.2 1108.5 685.8 1110.5 686.3 1112.5 686.9 1114.5 687.4 1116.5 687.9 1118.5 688.4 1120.5 688.8 1122.6 689.3 1124.6 689.7 1126.6 690.2 1128.6 690.6 1130.6 691.0 1132.6 691.4 1134.6 691.8 1136.6 692.2 1138.7 692.6 1140.7 693.0 1142.7 693.4 1144.7 693.8 1146.7 694.2 1148.7 694.6 1150.7 695.0 1152.7 695.3 1154.7 695.6 1156.8 695.9 1158.8 696.2 1160.8 696.4 1162.8 696.6 1164.8 696.8 1166.8 696.9 1168.8 697.0 1170.8 697.1 1172.9 697.2 1174.9 697.3 1176.9 697.5 1178.9 697.6 1180.9 697.7 1182.9 697.8 1184.9 697.9 1186.9 698.0 1189.0 698.0 1191.0 698.1 1193.0 698.2 1195.0 698.3 1197.0 698.4 1199.0 698.4 1201.0 698.5 1203.0 698.6 1205.1 698.6 1207.1 698.7 1209.1 698.7 1211.1 698.8 1213.1 698.8 1215.1 698.9 1217.1 698.9 1219.1 698.9 1221.1 698.9 1223.2 699.0 1225.2 699.0 1227.2 699.0 1229.2 699.0 1231.2 699.0 1233.2 699.0 1235.2 699.0 1237.2 699.0 1239.3 699.0 1241.3 699.0 1243.3 698.9 1245.3 698.9 1247.3 698.9 1249.3 698.9 1251.3 698.8 1253.3 698.8 1255.4 698.8 1257.4 698.7 1259.4 698.7 1261.4 698.7 1263.4 698.6 1265.4 698.6 1267.4 698.6 1269.4 698.5 1271.5 698.5 1273.5 698.4 1275.5 698.4 1277.5 698.3 1279.5 698.3 1281.5 698.2 1283.5 698.2 1285.5 698.1 1287.5 698.1 1289.6 698.0 1291.6 698.0 1293.6 698.0 1295.6 697.9 1297.6 697.9 1299.6 697.8 1301.6 697.7 1303.6 697.7 1305.7 697.6 1307.7 697.5 1309.7 697.5 1311.7 697.4 1313.7 697.3 1315.7 697.2 1317.7 697.2 1319.7 697.1 1321.8 697.0 1323.8 696.9 1325.8 696.8 1327.8 696.7 1329.8 696.6 1331.8 696.5 1333.8 696.5 1335.8 696.4 1337.9 696.3 1339.9 696.2 1341.9 696.1 1343.9 696.0 1345.9 695.9 1347.9 695.8 1349.9 695.7 1351.9 695.7 1354.0 695.6 1356.0 695.5 1358.0 695.4 1360.0 695.3 1362.0 695.3 1364.0 695.2 1366.0 695.1 1368.0 695.1 1370.0 695.0 1372.1 694.9 1374.1 694.8 1376.1 694.8 1378.1 694.7 1380.1 694.6 1382.1 694.6 1384.1 694.5 1386.1 694.4 1388.2 694.4 1390.2 694.3 1392.2 694.2 1394.2 694.2 1396.2 694.1 1398.2 694.0 1400.2 694.0 1402.2 693.9 1404.3 693.8 1406.3 693.8 1408.3 693.7 1410.3 693.7 1412.3 693.6 1414.3 693.5 1416.3 693.5 1418.3 693.4 1420.4 693.4 1422.4 693.3 1424.4 693.2 1426.4 693.2 1428.4 693.1" fill="none" stroke="#000" stroke-width="3.6" stroke-dasharray="21 11"/><path d="M965.2 562.5V570.8M956.2 562.5h18M956.2 570.8h18M1029.7 611.8V620.4M1020.7 611.8h18M1020.7 620.4h18M1114.1 652.2V661.4M1105.1 652.2h18M1105.1 661.4h18M1173.3 697.3V706.0M1164.3 697.3h18M1164.3 706.0h18M1173.3 710.3V717.5M1164.3 710.3h18M1164.3 717.5h18M1318.7 693.6V717.5M1309.7 693.6h18M1309.7 717.5h18" fill="none" stroke="#3c3cd6" stroke-width="1.4"/><circle cx="965.2" cy="566.1" r="2.9" fill="#0000f4"/><circle cx="1029.7" cy="615.3" r="2.9" fill="#0000f4"/><circle cx="1114.1" cy="656.6" r="2.9" fill="#0000f4"/><circle cx="1173.3" cy="701.8" r="2.9" fill="#0000f4"/><circle cx="1173.3" cy="714.2" r="2.9" fill="#0000f4"/><circle cx="1318.7" cy="705.3" r="2.9" fill="#0000f4"/></g><rect x="131" y="12" width="32.0" height="49.0" fill="#000"/><text x="145.5" y="54.0" text-anchor="middle" font-size="43" font-weight="bold" fill="#fff" font-family="'Liberation Sans', Arial, Helvetica, sans-serif">a</text><rect x="787" y="12" width="32.2" height="49.0" fill="#000"/><text x="801.6" y="54.0" text-anchor="middle" font-size="43" font-weight="bold" fill="#fff" font-family="'Liberation Sans', Arial, Helvetica, sans-serif">b</text><rect x="130.9" y="451.7" width="29.6" height="48.1" fill="#000"/><text x="144.2" y="493.7" text-anchor="middle" font-size="43" font-weight="bold" fill="#fff" font-family="'Liberation Sans', Arial, Helvetica, sans-serif">c</text><rect x="787.3" y="451.4" width="32.2" height="48.4" fill="#000"/><text x="801.9" y="493.4" text-anchor="middle" font-size="43" font-weight="bold" fill="#fff" font-family="'Liberation Sans', Arial, Helvetica, sans-serif">d</text><rect x="128.3" y="10.6" width="641.2" height="340.4" fill="none" stroke="#000" stroke-width="3"/><rect x="784.5" y="10.6" width="641.9" height="340.4" fill="none" stroke="#000" stroke-width="3"/><rect x="128.6" y="449.7" width="640.7" height="339.7" fill="none" stroke="#000" stroke-width="3"/><rect x="784.5" y="449.7" width="641.9" height="339.7" fill="none" stroke="#000" stroke-width="3"/><path d="M112.3 10.6H128.3M112.3 95.7H128.3M112.3 180.8H128.3M112.3 265.9H128.3M112.3 351.0H128.3M192.4 351.0V366.5M320.7 351.0V366.5M448.9 351.0V366.5M577.1 351.0V366.5M705.4 351.0V366.5M770.5 10.6H784.5M1426.4 10.6H1441.4M770.5 95.7H784.5M1426.4 95.7H1441.4M770.5 180.8H784.5M1426.4 180.8H1441.4M770.5 265.9H784.5M1426.4 265.9H1441.4M770.5 351.0H784.5M1426.4 351.0H1441.4M812.4 351.0V366.5M924.0 351.0V366.5M1035.7 351.0V366.5M1147.3 351.0V366.5M1258.9 351.0V366.5M1370.6 351.0V366.5M112.6 449.7H128.6M112.6 534.6H128.6M112.6 619.5H128.6M112.6 704.5H128.6M112.6 789.4H128.6M156.5 789.4V804.9M267.9 789.4V804.9M379.3 789.4V804.9M490.7 789.4V804.9M602.2 789.4V804.9M713.6 789.4V804.9M770.5 449.7H784.5M1426.4 449.7H1441.4M770.5 534.6H784.5M1426.4 534.6H1441.4M770.5 619.5H784.5M1426.4 619.5H1441.4M770.5 704.5H784.5M1426.4 704.5H1441.4M770.5 789.4H784.5M1426.4 789.4H1441.4M812.4 789.4V804.9M924.0 789.4V804.9M1035.7 789.4V804.9M1147.3 789.4V804.9M1258.9 789.4V804.9M1370.6 789.4V804.9" stroke="#111" stroke-width="1.6" fill="none"/><g font-size="29" fill="#000" font-family="'Liberation Sans', Arial, Helvetica, sans-serif"><text x="98.6" y="20.4" text-anchor="end">10</text><text x="98.6" y="105.5" text-anchor="end">0</text><text x="98.6" y="190.6" text-anchor="end">–<tspan dx="1.5">10</tspan></text><text x="98.6" y="275.7" text-anchor="end">–<tspan dx="1.5">20</tspan></text><text x="98.6" y="360.8" text-anchor="end">–<tspan dx="1.5">30</tspan></text><text x="194.7" y="402.0" text-anchor="middle">–<tspan dx="1.5">40</tspan></text><text x="321.0" y="402.0" text-anchor="middle">0</text><text x="449.2" y="402.0" text-anchor="middle">40</text><text x="577.4" y="402.0" text-anchor="middle">80</text><text x="705.7" y="402.0" text-anchor="middle">120</text><text x="1455" y="20.4">10</text><text x="1455" y="105.5">0</text><text x="1455" y="190.6">–<tspan dx="1.5">10</tspan></text><text x="1455" y="275.7">–<tspan dx="1.5">20</tspan></text><text x="1455" y="360.8">–<tspan dx="1.5">30</tspan></text><text x="814.7" y="402.0" text-anchor="middle">–<tspan dx="1.5">80</tspan></text><text x="926.3" y="402.0" text-anchor="middle">–<tspan dx="1.5">40</tspan></text><text x="1036.0" y="402.0" text-anchor="middle">0</text><text x="1147.6" y="402.0" text-anchor="middle">40</text><text x="1259.2" y="402.0" text-anchor="middle">80</text><text x="1370.9" y="402.0" text-anchor="middle">120</text><text x="98.6" y="459.5" text-anchor="end">10</text><text x="98.6" y="544.4" text-anchor="end">0</text><text x="98.6" y="629.3" text-anchor="end">–<tspan dx="1.5">10</tspan></text><text x="98.6" y="714.3" text-anchor="end">–<tspan dx="1.5">20</tspan></text><text x="98.6" y="799.2" text-anchor="end">–<tspan dx="1.5">30</tspan></text><text x="158.8" y="835.7" text-anchor="middle">–<tspan dx="1.5">80</tspan></text><text x="270.2" y="835.7" text-anchor="middle">–<tspan dx="1.5">40</tspan></text><text x="379.6" y="835.7" text-anchor="middle">0</text><text x="491.0" y="835.7" text-anchor="middle">40</text><text x="602.5" y="835.7" text-anchor="middle">80</text><text x="713.9" y="835.7" text-anchor="middle">120</text><text x="1455" y="459.5">10</text><text x="1455" y="544.4">0</text><text x="1455" y="629.3">–<tspan dx="1.5">10</tspan></text><text x="1455" y="714.3">–<tspan dx="1.5">20</tspan></text><text x="1455" y="799.2">–<tspan dx="1.5">30</tspan></text><text x="814.7" y="835.7" text-anchor="middle">–<tspan dx="1.5">80</tspan></text><text x="926.3" y="835.7" text-anchor="middle">–<tspan dx="1.5">40</tspan></text><text x="1036.0" y="835.7" text-anchor="middle">0</text><text x="1147.6" y="835.7" text-anchor="middle">40</text><text x="1259.2" y="835.7" text-anchor="middle">80</text><text x="1370.9" y="835.7" text-anchor="middle">120</text></g><g font-size="25" fill="#000" font-family="'Liberation Sans', Arial, Helvetica, sans-serif"><text x="580" y="42.1" text-anchor="middle">Slip rate</text><text x="580" y="72.4" text-anchor="middle">28 mm yr<tspan font-size="15" dy="-12.3">–<tspan>1</tspan></tspan><tspan dy="12.3"> (22–35, 95% CI)</tspan></text><text x="580.3" y="114.1" text-anchor="middle">Locking depth</text><text x="580.3" y="143.5" text-anchor="middle">17 km (9–26, 95% CI)</text><text x="1237.8" y="42.1" text-anchor="middle">Slip rate</text><text x="1237.8" y="72.4" text-anchor="middle">28 mm yr<tspan font-size="15" dy="-12.3">–<tspan>1</tspan></tspan><tspan dy="12.3"> (21–33, 95% CI)</tspan></text><text x="1263.0" y="114.1" text-anchor="middle">Locking depth</text><text x="1263.0" y="143.5" text-anchor="middle">13 km (5–23, 95% CI)</text><text x="587.8" y="486.4" text-anchor="middle">Slip rate</text><text x="587.8" y="516.7" text-anchor="middle">25 mm yr<tspan font-size="15" dy="-12.3">–<tspan>1</tspan></tspan><tspan dy="12.3"> (19–32, 95% CI)</tspan></text><text x="587.7" y="557.5" text-anchor="middle">Locking depth</text><text x="587.7" y="586.6" text-anchor="middle">17 km (8–26, 95% CI)</text><text x="1239.6" y="486.4" text-anchor="middle">Slip rate</text><text x="1239.6" y="516.7" text-anchor="middle">24 mm yr<tspan font-size="15" dy="-12.3">–<tspan>1</tspan></tspan><tspan dy="12.3"> (21–27, 95% CI)</tspan></text><text x="1239.9" y="557.5" text-anchor="middle">Locking depth</text><text x="1239.9" y="586.6" text-anchor="middle">16 km (9–23, 95% CI)</text></g><g font-size="29.3" fill="#000" font-family="'Liberation Sans', Arial, Helvetica, sans-serif"><text x="158" y="290.9">lon lat</text><text x="158" y="325.5" xml:space="preserve" style="white-space:pre">29.50  40.73</text><text x="809.3" y="290.9">lon lat</text><text x="809.3" y="325.5" xml:space="preserve" style="white-space:pre">33.00  40.94</text><text x="154.5" y="724.4">lon lat</text><text x="154.5" y="759.3" xml:space="preserve" style="white-space:pre">36.00  40.91</text><text x="809.5" y="724.4">lon lat</text><text x="809.5" y="759.2" xml:space="preserve" style="white-space:pre">38.50  40.07</text></g><text x="242" y="875" font-size="29.4" font-family="'Liberation Sans', Arial, Helvetica, sans-serif">Distance from fault (N–S), km</text><text transform="translate(27.3 813) rotate(-90)" font-size="29.4" font-family="'Liberation Sans', Arial, Helvetica, sans-serif">Fault parallel velocity, mm yr<tspan font-size="20" dy="-12.4">–<tspan>1</tspan></tspan></text></svg></body></html>
